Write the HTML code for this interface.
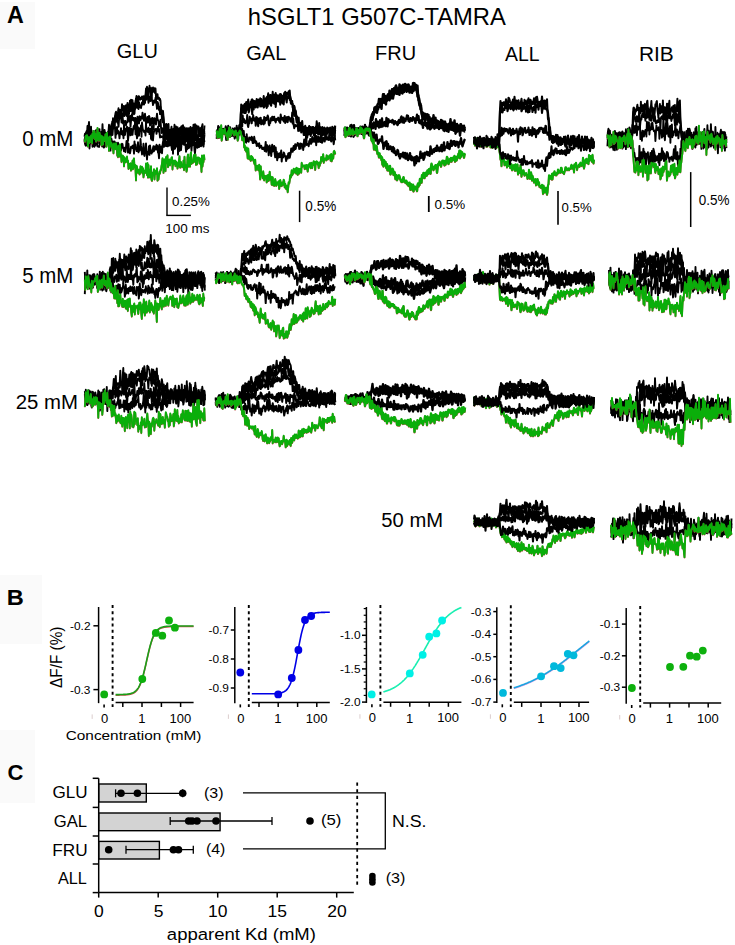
<!DOCTYPE html>
<html><head><meta charset="utf-8"><style>
html,body{margin:0;padding:0;background:#fff;}
svg{display:block;font-family:"Liberation Sans", sans-serif;}
</style></head><body>
<svg width="735" height="945" viewBox="0 0 735 945">
<rect width="735" height="945" fill="#fff"/>
<rect x="0" y="2" width="35" height="47" fill="#fafafa"/>
<rect x="0" y="575" width="42" height="69" fill="#fafafa"/>
<rect x="0" y="730" width="35" height="73" fill="#fafafa"/>
<text transform="translate(7.10,22.64) scale(0.979,1)" font-size="23.82" font-weight="bold" fill="#000">A</text>
<text transform="translate(6.85,605.00) scale(1.051,1)" font-size="22.46" font-weight="bold" fill="#000">B</text>
<text transform="translate(7.42,780.48) scale(0.995,1)" font-size="22.11" font-weight="bold" fill="#000">C</text>
<text transform="translate(247.84,24.57) scale(1.023,1)" font-size="23.24" font-weight="normal" fill="#000">hSGLT1 G507C-TAMRA</text>
<text transform="translate(116.80,58.10) scale(0.985,1)" font-size="20.30" font-weight="normal" fill="#000">GLU</text>
<text transform="translate(246.30,60.20) scale(0.985,1)" font-size="20.30" font-weight="normal" fill="#000">GAL</text>
<text transform="translate(375.10,60.20) scale(0.985,1)" font-size="20.30" font-weight="normal" fill="#000">FRU</text>
<text transform="translate(505.00,60.50) scale(0.957,1)" font-size="20.30" font-weight="normal" fill="#000">ALL</text>
<text transform="translate(638.93,60.50) scale(1.030,1)" font-size="20.30" font-weight="normal" fill="#000">RIB</text>
<text transform="translate(22.18,145.89) scale(0.958,1)" font-size="21.41" font-weight="normal" fill="#000">0 mM</text>
<text transform="translate(22.28,283.19) scale(0.961,1)" font-size="21.29" font-weight="normal" fill="#000">5 mM</text>
<text transform="translate(15.78,409.29) scale(0.971,1)" font-size="20.99" font-weight="normal" fill="#000">25 mM</text>
<text transform="translate(381.29,527.49) scale(0.964,1)" font-size="20.99" font-weight="normal" fill="#000">50 mM</text>
<path d="M84.5 136.7l.5-3 .5 .6 .5-1.4 .5 5.4 .5-4.4 .5-8 .5 5.5 .5-4.7 .5-4.7 .5 10 .5 6.9 .5-4.7 .5-4.5 .5 .8 .5 7.7 .5-3.6 .5-.4 .5-.4 .5 .3 .5 2.9 .5-1 .5-1.2 .5-4.7 .5 5.8 .5-4.4 .5 6.5 .5-8.7 .5 4.2 .5 .5 .5-4.9 .5 11.3 .5-1 .5-7.1 .5 4.6 .5-1.5 .5-11.1 .5 10.6 .5-1.1 .5 .5 .5-4.3 .5 3 .5 .3 .5 5.1 .5-3.2 .5-1.2 .5 5.7 .5-7.8 .5-.6 .5-6.5 .5 11.3 .5-3.5 .5-1.5 .5-2.1 .5-3.3 .5-.9 .5-3 .5-1.1 .5-.2 .5 4.1 .5-4.8 .5-3.5 .5-3.2 .5-1.4 .5 7.9 .5-4.4 .5-1.9 .5-1.9 .5-3.1 .5 3.5 .5 3.2 .5-5 .5 .3 .5-.3 .5 .9 .5-6.7 .5 4.8 .5-2.7 .5 6.2 .5-6.5 .5 4.7 .5 3.2 .5-7.2 .5-1.4 .5 2.7 .5-1.1 .5-4 .5 5.1 .5 5.4 .5-8.7 .5-.1 .5-3.5 .5 4.8 .5-6.1 .5 .2 .5 8.5 .5-8.4 .5 7.1 .5 1.3 .5-5 .5 .8 .5 4.8 .5-8.2 .5-1.8 .5-3.1 .5 4.8 .5 5.1 .5-2.3 .5-7.3 .5 0 .5 1 .5 2.6 .5-2.1 .5 1.2 .5 0 .5-2.5 .5 .7 .5 .6 .5-1.5 .5 1.8 .5 4.7 .5-5.1 .5-2.4 .5-6.8 .5 7.3 .5-9 .5 1.6 .5 8 .5-.9 .5-3.6 .5-6.1 .5 4.6 .5-1.5 .5 4.5 .5 6.2 .5-7.4 .5-3.5 .5-1.2 .5 4.3 .5-.3 .5-3.4 .5 4.9 .5-4.5 .5 8.6 .5 .8 .5 1.1 .5-4.8 .5 4.7 .5-1.4 .5 .1 .5 2.5 .5-1.2 .5 1.8 .5 10.6 .5-1.3 .5 3.8 .5 5.1 .5-8 .5 5.7 .5 5.7 .5 3 .5-.7 .5 6 .5-2.2 .5-4.4 .5 1.9 .5 7.2 .5-.4 .5-8.7 .5 12 .5-2.8 .5 2.8 .5-6.4 .5 .3 .5-3.1 .5 13.6 .5-10 .5 6.5 .5-8.3 .5 3 .5-6.8 .5 4.8 .5 5 .5-8.2 .5 8.6 .5-2.8 .5-5.1 .5 2 .5 .2 .5 1.5 .5-1.8 .5-1.1 .5 2 .5-2.7 .5-1 .5 4.6 .5 3.5 .5-9 .5 5.7 .5-2.4 .5-1.2 .5 6.8 .5-5.1 .5 7.4 .5-8.4 .5 4.3 .5-2.2 .5-2 .5 5 .5-2.8 .5 2.8 .5-2.4 .5-3.8 .5 3.6 .5 .6 .5 3.3 .5-6.9 .5 3.3 .5-6.3 .5 8.8 .5-6.4 .5-2.7 .5 6.5 .5 4.3 .5-9.7 .5 1.6 .5 1.2 .5-1.4 .5 5.6 .5-4.4 .5 .3 .5 4.9 .5-5 .5 4.4 .5-5.2 .5-.9 .5-2.3 .5 13.7 .5-8.1 .5 2.1 .5-1" fill="none" stroke="#000" stroke-width="1.9" stroke-linejoin="round" />
<path d="M84.5 137.6l.5-.4 .5 6.9 .5-10.9 .5-2 .5 2.1 .5-1.2 .5 7.7 .5 .2 .5-6.6 .5-1.5 .5 3.8 .5 6.4 .5-15.5 .5 12.3 .5-5.9 .5 7.8 .5-7.8 .5 2.9 .5-4.5 .5 2 .5 8.7 .5-2.1 .5-4.5 .5-1.7 .5-3.8 .5 5.5 .5 1.4 .5-.2 .5 0 .5-3.9 .5 4 .5 .1 .5 4.9 .5 2.1 .5-7.4 .5-2.3 .5 2.6 .5-2 .5-.5 .5 2.5 .5-3.7 .5 6.1 .5-2.6 .5 1.3 .5-1.6 .5-2 .5-.8 .5 1.5 .5-2.2 .5 1.8 .5-2 .5-6.1 .5 4.1 .5-6.3 .5 1.6 .5 .1 .5-7.7 .5 7.2 .5-.5 .5-2 .5-1.8 .5-.6 .5-3 .5 1.8 .5-1.8 .5 1.5 .5-5.6 .5 5 .5-.6 .5-1.4 .5-1.5 .5 3.4 .5-8.6 .5 7.6 .5-1.2 .5-.2 .5 .1 .5-4.2 .5 1.1 .5 3 .5-1.1 .5-1.1 .5-6.7 .5 7.2 .5 2 .5-.9 .5-3.2 .5-7 .5 9 .5-4.4 .5-9.2 .5 10.5 .5-7.2 .5 .5 .5 2.2 .5 6.8 .5-6.4 .5 2.1 .5 5.2 .5-.8 .5-6.6 .5-.8 .5-4 .5 1.8 .5 3.9 .5-.4 .5-1.3 .5 3 .5-6.8 .5 2.4 .5 2.6 .5-.8 .5 1.5 .5-2.7 .5-2.9 .5 2.2 .5-5.3 .5-2.7 .5 7.9 .5-2.6 .5 1 .5-7.7 .5 4.6 .5-1.2 .5-1.3 .5-5.5 .5 6.8 .5 4.3 .5-2.2 .5-4 .5 1.9 .5 2.5 .5-13.3 .5 9.9 .5 2.7 .5 .7 .5 4 .5-1.9 .5-2.8 .5 .1 .5 2 .5-4.7 .5 2.1 .5 4.3 .5 4.7 .5-7 .5 1.3 .5 1.7 .5 5.1 .5-3.3 .5 7.4 .5-7.2 .5 4.7 .5 1.8 .5 5.5 .5 3.3 .5-7.1 .5 4.5 .5 7 .5-1.4 .5-.8 .5 10.1 .5-1.3 .5 .6 .5-2.9 .5 6.2 .5-4 .5 5 .5-7.5 .5 .2 .5 4 .5-3.4 .5 5.1 .5-1.5 .5-4.4 .5 3.7 .5-1.6 .5 4.7 .5-5.7 .5 .7 .5 6.1 .5 3.8 .5-.9 .5-7.2 .5 .6 .5 4.9 .5-6.2 .5-3.1 .5 4 .5 1.3 .5-4.8 .5-3 .5 .8 .5 7.8 .5-5.3 .5 2.3 .5 1.3 .5 1.5 .5-3.5 .5 3 .5-5.1 .5 2 .5-2.5 .5 8 .5-4.3 .5-2.6 .5 1.4 .5 .5 .5 3.4 .5-8.5 .5 2.1 .5 2.4 .5 10.8 .5-5.9 .5-3.9 .5 3 .5 5 .5-8.5 .5-.5 .5 5.9 .5-2.7 .5 .7 .5-4.4 .5 9 .5-.8 .5-4.2 .5 .4 .5-10 .5 9.9 .5-3.1 .5 2.3 .5 .9 .5-3.8 .5-5 .5 7.7 .5-4.1 .5 1.5 .5-1 .5 .9 .5-7.2" fill="none" stroke="#000" stroke-width="1.9" stroke-linejoin="round" />
<path d="M84.5 142.5l.5-3.6 .5 3.2 .5 3.2 .5-7.2 .5-6.8 .5 3.4 .5-1.2 .5 2.6 .5 2.2 .5-7.7 .5 8.7 .5-6.9 .5 6.7 .5-1.5 .5-.8 .5 .9 .5-1.7 .5-.3 .5-3.9 .5 6.1 .5 6.9 .5 .5 .5-2.4 .5-2.3 .5-5.1 .5 7.8 .5-5.5 .5-.1 .5-.8 .5 1.4 .5-1.9 .5 1.3 .5-3.7 .5 2.6 .5 9.8 .5-8.7 .5-.6 .5 2.9 .5 .6 .5-6.7 .5 3.3 .5 4.2 .5-2.4 .5-.5 .5 5.2 .5-8.2 .5 2.8 .5-3.4 .5 6.2 .5-13.9 .5 3.5 .5-.7 .5 3.3 .5-1.5 .5 1.8 .5-12.2 .5 7.4 .5-4.4 .5-1.9 .5 4 .5-5.9 .5-4.8 .5 5.8 .5-4.6 .5 2.6 .5 3.3 .5-.7 .5 4.7 .5-6.7 .5-4.9 .5 2.9 .5-.7 .5-1.1 .5 6.1 .5-4 .5-4.9 .5 9.9 .5-3 .5 1.7 .5-1 .5 2 .5-2.2 .5 4.4 .5-3 .5-.2 .5 .1 .5-6.9 .5 4.7 .5-.3 .5 1.7 .5-5.8 .5 11 .5-5.6 .5-4.9 .5-1.9 .5 5.3 .5 .7 .5-2.3 .5 2.9 .5-2.7 .5 4.4 .5-4.7 .5 2.5 .5 3.8 .5 5.8 .5-13.2 .5 2 .5-1.4 .5 6 .5-7.2 .5 2.5 .5 1.6 .5-3.5 .5 .1 .5 1.7 .5-6 .5 2.4 .5 3.8 .5 2.1 .5-1.2 .5-5.9 .5 4.8 .5 4.7 .5-1 .5-2.3 .5-3 .5 5.6 .5-4.5 .5-2.2 .5 1.3 .5 8.4 .5-4.6 .5 3.5 .5-6.1 .5 5.2 .5-5.7 .5 1.6 .5 9.8 .5-6.4 .5-4.7 .5 1.6 .5 1.5 .5 3.2 .5-6.3 .5-4.6 .5 5.4 .5 1.1 .5 1.1 .5 5.2 .5-3 .5 2.6 .5-6.3 .5 8 .5 5.3 .5-4.1 .5-.7 .5 .9 .5 7.3 .5-8.8 .5 4.2 .5 3.4 .5 2.3 .5-3.1 .5 2.8 .5-2.2 .5 1.5 .5-.9 .5-3.7 .5 4.2 .5 3.3 .5-6.8 .5 2.7 .5 3.4 .5-6.4 .5 4.7 .5-4.6 .5 8.2 .5 4.3 .5-1 .5-8.3 .5 3.6 .5-2.3 .5 0 .5 5.4 .5-10.6 .5 8.8 .5-4.1 .5 5.5 .5-4.5 .5-3.2 .5 3.5 .5 1.8 .5-2.6 .5 1.7 .5-3.7 .5-5.9 .5 11.2 .5-.7 .5-2 .5-.3 .5 3.6 .5-5.5 .5-.9 .5 2 .5 5.1 .5-9.5 .5 9.5 .5-6.7 .5-1.7 .5 8.8 .5-5 .5-4.5 .5 3.6 .5 4.8 .5 .9 .5-5.9 .5 3.1 .5 1.2 .5-5 .5 3.7 .5-1.4 .5-1.9 .5 .2 .5 2.1 .5-.1 .5-2.2 .5 .6 .5 5.7 .5-3.3 .5 2.5 .5 1.2 .5-2.3 .5 6.3 .5-11.4 .5 6 .5-4.1 .5 8.1 .5-.6 .5-13.5 .5 3.7" fill="none" stroke="#000" stroke-width="1.9" stroke-linejoin="round" />
<path d="M84.5 142.5l.5 .4 .5-.2 .5-3 .5 2 .5 .7 .5-2.7 .5 4.1 .5-12.2 .5 10.7 .5-6.1 .5 7.3 .5-4.3 .5-2.5 .5 4.7 .5-4.8 .5 0 .5-2.4 .5 5.7 .5 1.9 .5 2 .5-4.3 .5 4.4 .5-3.8 .5-.4 .5 2.4 .5 1.8 .5-5.2 .5 .4 .5 .3 .5 .9 .5-3.6 .5 7.1 .5-5.3 .5 3.2 .5-4.8 .5 4.4 .5 .1 .5-3 .5 9.1 .5-6.1 .5 5.2 .5-3.1 .5-6 .5 1.1 .5 3 .5-1.4 .5 0 .5-1.9 .5-6.3 .5 5.2 .5-8.1 .5 8.9 .5-4.7 .5-.6 .5 1.2 .5 1.1 .5-7 .5-1.8 .5 1.9 .5-3.7 .5 4 .5 9.5 .5-9.9 .5 6.4 .5-7.5 .5 6.1 .5-2.3 .5 1 .5 2.3 .5 4.4 .5-5.8 .5-.3 .5-4.1 .5 5.8 .5-3.1 .5 4 .5-3.3 .5 6.6 .5-13.8 .5 6.3 .5 4.3 .5-4.6 .5-1.6 .5 1.9 .5-4.1 .5 5.5 .5 8.6 .5-4.8 .5-8.3 .5 .8 .5 1.7 .5 5.2 .5-6.7 .5 .4 .5 5.9 .5-.1 .5-4.6 .5-2.8 .5-1.6 .5 3.1 .5-5.6 .5 11 .5-5.1 .5 4.1 .5 5.1 .5-2.6 .5-8.6 .5 7.5 .5 1 .5-7 .5-.8 .5 3.1 .5-5.5 .5 11.3 .5-14.3 .5 4.8 .5 3 .5 .2 .5 1.4 .5 .4 .5-1.8 .5 5 .5-12.1 .5 7.9 .5-2.7 .5 3.1 .5 .3 .5-4.2 .5 1 .5 5.3 .5-1.6 .5-3.8 .5 10 .5 1 .5-14 .5 6.5 .5 8.2 .5-6.4 .5-2.1 .5-1.6 .5-1.2 .5 1.2 .5-1.3 .5 4.8 .5-4.3 .5-.1 .5-2.8 .5 4.9 .5-2.5 .5 3.3 .5 5.2 .5-1.8 .5 1.2 .5 .1 .5-.4 .5-.1 .5 0 .5 4.6 .5-6.1 .5 9 .5-4.8 .5-2.9 .5 1 .5-.7 .5 3.1 .5-3.2 .5 6.9 .5-7.1 .5-5.5 .5 5.8 .5-4.7 .5 7.3 .5 4.1 .5-1.5 .5-7.4 .5 2.2 .5 9.4 .5-5.4 .5-1.1 .5 3.9 .5 5.2 .5-4.2 .5-4.3 .5 .8 .5 1 .5-4.5 .5-1.6 .5 4.1 .5-3.7 .5 3.3 .5 .6 .5 8.4 .5-11.8 .5 2.7 .5-.1 .5 2.2 .5 2.3 .5-5.7 .5-1.2 .5-3 .5 2.7 .5 5.4 .5-1.8 .5-3.9 .5 2.4 .5 1.6 .5 1.7 .5-4 .5 1.3 .5-5.8 .5 2.5 .5 10.3 .5-14.1 .5 6.9 .5 2.1 .5-2.2 .5-1.6 .5 2.8 .5 .2 .5-.2 .5-6.6 .5 6.4 .5-2.6 .5 1.2 .5 2.8 .5 1.6 .5 1 .5-5.2 .5 5.3 .5 1 .5-.1 .5 .9 .5-5.6 .5-.1 .5 3.7 .5-8.1 .5 5.9 .5-2.7 .5 .6 .5-5.1" fill="none" stroke="#000" stroke-width="1.9" stroke-linejoin="round" />
<path d="M84.5 138.7l.5 3.2 .5 3.4 .5 .4 .5-4 .5-.4 .5-2.4 .5 4.6 .5-2.4 .5 3.1 .5 4.3 .5-6.6 .5-5.4 .5 2.3 .5-2.2 .5 1 .5 9.2 .5-4 .5-6.4 .5 8 .5 2.3 .5-6 .5-1.2 .5 1.3 .5 2.3 .5 1.3 .5 2 .5 .1 .5-.1 .5 .6 .5-2.6 .5-8.1 .5 5.2 .5 1.7 .5-2.6 .5 4.8 .5-4.7 .5-2.1 .5 8.7 .5-2.8 .5-1.7 .5 2.6 .5 .5 .5-2.6 .5-10.4 .5 6.6 .5 .8 .5-1.9 .5 4.5 .5 3.9 .5-6 .5-2.1 .5 11.9 .5-9 .5-2.7 .5 5.7 .5 .9 .5-4 .5 5.8 .5-4.5 .5-1.4 .5 4.3 .5 2.2 .5-5.1 .5 3.6 .5-1.5 .5 10.9 .5-13 .5 7.8 .5-5.3 .5-.2 .5 3.2 .5 .7 .5 1.5 .5-3.4 .5-3.4 .5 .3 .5 4 .5 .3 .5 3.1 .5-3.6 .5 2.5 .5 1.7 .5-4.9 .5-6.1 .5 1.2 .5-.9 .5 11.3 .5-8.9 .5 7.7 .5-2.3 .5 4.2 .5-2.5 .5-4 .5-.3 .5 1.1 .5 .4 .5-2.5 .5 1.9 .5 6.2 .5-12.2 .5 7.3 .5-4.2 .5 4.1 .5 2.5 .5-3.3 .5 3.2 .5-8.7 .5 10.1 .5-6.3 .5 4.6 .5-1.5 .5-10.2 .5 6.9 .5 3.6 .5 5 .5-4.6 .5 0 .5-6.1 .5 10.6 .5 1.5 .5-6.5 .5-.9 .5-5.1 .5 9.3 .5 6.8 .5-7.2 .5 2.1 .5-2.6 .5-5.6 .5 8.7 .5-9.5 .5 3.9 .5 2 .5 2.3 .5-1.6 .5 .1 .5-4.2 .5-1.8 .5 5.1 .5-2.7 .5-2.1 .5 .3 .5 3 .5-4.9 .5 2 .5-1 .5 6.9 .5 .2 .5 5.3 .5-13.6 .5 2.4 .5 5.3 .5-4.9 .5-1 .5 6.9 .5-7.9 .5-3.4 .5-1 .5 5.7 .5-.4 .5-6.6 .5 1 .5 5.3 .5 .1 .5-4.5 .5 4.7 .5-.1 .5-8.7 .5 5.4 .5 2.7 .5-3.6 .5-5.8 .5 6.9 .5 3.8 .5 3.1 .5-13.9 .5 17.7 .5-13.8 .5 7.7 .5 1.1 .5-.9 .5-3.1 .5-4.8 .5 6.6 .5-5 .5-6.6 .5 19.8 .5-7.9 .5 4.2 .5-10.1 .5 8.8 .5 .5 .5-.2 .5-5.8 .5-4.3 .5 3.8 .5-7.5 .5 1.9 .5 6.6 .5-4 .5 3.1 .5 .2 .5 7.6 .5-2.4 .5-4.9 .5 4.6 .5-7.3 .5 1.6 .5 4.7 .5-8 .5 3.6 .5-3.9 .5 5.4 .5 5.6 .5-8.8 .5 3.6 .5-4.1 .5-.9 .5-.4 .5 10 .5 3.4 .5-7 .5-4.4 .5 5.3 .5-3.8 .5 4.2 .5-1.9 .5 0 .5 1.2 .5-4.4 .5 .7 .5-4.9 .5 4.8 .5-3.7 .5 4.8 .5-3 .5 3.9 .5 1.3 .5-6.9 .5 2.3" fill="none" stroke="#000" stroke-width="1.9" stroke-linejoin="round" />
<path d="M84.5 140.5l.5 1.4 .5-2.7 .5-3 .5 2.1 .5-2.6 .5 5.1 .5 6.1 .5-8.8 .5-.6 .5 5.4 .5-.7 .5-1.2 .5-5 .5 4.4 .5 3.4 .5-9.8 .5 4.3 .5-6.9 .5 2.9 .5-2.6 .5 7.7 .5-5 .5 7.4 .5-.5 .5-1.7 .5-11.2 .5 9.5 .5 2.4 .5 .7 .5-7.8 .5 5 .5-2.4 .5 .8 .5 9 .5-9 .5 3.7 .5 4.4 .5-7 .5 2.3 .5 1 .5-.2 .5-6.2 .5 6.3 .5 6.1 .5-13.9 .5 11.5 .5-3.5 .5-3.1 .5 13.2 .5-5.4 .5-8.8 .5 6.7 .5 2.9 .5-3.1 .5 4.8 .5-3.1 .5 4.1 .5 4.3 .5-9.6 .5 4.8 .5-2.6 .5 3.3 .5-5.7 .5 3.5 .5 2.5 .5 5.8 .5 1.8 .5-11.2 .5 3.2 .5 7.5 .5-12.1 .5 8 .5 2.3 .5 7.2 .5-2.2 .5-4.2 .5 .4 .5 1.2 .5 9.1 .5-8.8 .5 1.2 .5 3.6 .5-1.8 .5 .1 .5-3.9 .5 5.7 .5-1.6 .5 8.1 .5-2 .5-2.8 .5 3.8 .5-4.4 .5 7.2 .5-4.7 .5 3.3 .5-8.5 .5 8.3 .5-9.4 .5-1.2 .5 8.8 .5-2.4 .5 5.3 .5 10.2 .5-14.6 .5 1.2 .5 4.2 .5 1.6 .5-3 .5 0 .5 4.6 .5-.7 .5-7.3 .5 4.8 .5 .8 .5-5.1 .5 6.5 .5-5.1 .5 9 .5-3.6 .5-.3 .5-3 .5 2.3 .5-9 .5 4.2 .5 7.2 .5-11.9 .5 14.4 .5-12.4 .5 12 .5-7.6 .5 7.8 .5-3 .5-8 .5 13.4 .5 1 .5-7.2 .5-.9 .5 .6 .5-3.9 .5 10 .5-7.8 .5 2.5 .5-3.5 .5 .9 .5-3 .5 12.2 .5-6.6 .5 5.4 .5-4.4 .5-3.3 .5 1.8 .5-3.6 .5 .2 .5-4.3 .5-2.1 .5-5.3 .5 2.6 .5 11.7 .5-11.3 .5-2 .5 6.6 .5 5 .5-13.9 .5 5.9 .5-2.2 .5-5.5 .5 11.8 .5-3.7 .5 .3 .5-4.1 .5 5.7 .5-4.8 .5 1.9 .5-4.7 .5-.5 .5 12.2 .5-8.8 .5 3.8 .5-1.6 .5-1.9 .5-.4 .5 5.5 .5-4.5 .5 .7 .5 .8 .5 5.5 .5-2.4 .5-1.4 .5-4.6 .5-3.9 .5 11.2 .5 0 .5-5.3 .5 3.3 .5 1.1 .5 .2 .5 .5 .5-6.7 .5 9.5 .5-13.3 .5 10.1 .5-1.8 .5 1.8 .5 4.8 .5-1.9 .5-12.6 .5-2.6 .5 12 .5-8.8 .5 4.8 .5 4.1 .5-12 .5-2.2 .5 11.3 .5-1 .5-1.4 .5 1.3 .5-4.3 .5-3.2 .5 6.5 .5-3.9 .5-3.2 .5 10.3 .5-2.8 .5 2.3 .5-6.7 .5 1.5 .5-1.6 .5 .5 .5 5.2 .5-4.7 .5 5.4 .5-.1 .5 8.1 .5-16.4 .5 10.9 .5-4.7 .5 .4 .5-6.9 .5 4.7" fill="none" stroke="#c04040" stroke-width="1.71" stroke-linejoin="round" />
<path d="M84.5 140l.5 1.4 .5-2.7 .5-3 .5 2.1 .5-2.6 .5 5.1 .5 6.1 .5-8.8 .5-.6 .5 5.4 .5-.7 .5-1.2 .5-5 .5 4.4 .5 3.4 .5-9.8 .5 4.3 .5-6.9 .5 2.9 .5-2.6 .5 7.7 .5-5 .5 7.4 .5-.5 .5-1.7 .5-11.2 .5 9.5 .5 2.4 .5 .7 .5-7.8 .5 5 .5-2.4 .5 .8 .5 9 .5-9 .5 3.7 .5 4.4 .5-7 .5 2.3 .5 1 .5-.2 .5-6.2 .5 6.3 .5 6.1 .5-13.9 .5 11.5 .5-3.5 .5-3.1 .5 13.2 .5-5.4 .5-8.8 .5 6.7 .5 2.9 .5-3.1 .5 4.8 .5-3.1 .5 4.1 .5 4.3 .5-9.6 .5 4.8 .5-2.6 .5 3.3 .5-5.7 .5 3.5 .5 2.5 .5 5.8 .5 1.8 .5-11.2 .5 3.2 .5 7.5 .5-12.1 .5 8 .5 2.3 .5 7.2 .5-2.2 .5-4.2 .5 .4 .5 1.2 .5 9.1 .5-8.8 .5 1.2 .5 3.6 .5-1.8 .5 .1 .5-3.9 .5 5.7 .5-1.6 .5 8.1 .5-2 .5-2.8 .5 3.8 .5-4.4 .5 7.2 .5-4.7 .5 3.3 .5-8.5 .5 8.3 .5-9.4 .5-1.2 .5 8.8 .5-2.4 .5 5.3 .5 10.2 .5-14.6 .5 1.2 .5 4.2 .5 1.6 .5-3 .5 0 .5 4.6 .5-.7 .5-7.3 .5 4.8 .5 .8 .5-5.1 .5 6.5 .5-5.1 .5 9 .5-3.6 .5-.3 .5-3 .5 2.3 .5-9 .5 4.2 .5 7.2 .5-11.9 .5 14.4 .5-12.4 .5 12 .5-7.6 .5 7.8 .5-3 .5-8 .5 13.4 .5 1 .5-7.2 .5-.9 .5 .6 .5-3.9 .5 10 .5-7.8 .5 2.5 .5-3.5 .5 .9 .5-3 .5 12.2 .5-6.6 .5 5.4 .5-4.4 .5-3.3 .5 1.8 .5-3.6 .5 .2 .5-4.3 .5-2.1 .5-5.3 .5 2.6 .5 11.7 .5-11.3 .5-2 .5 6.6 .5 5 .5-13.9 .5 5.9 .5-2.2 .5-5.5 .5 11.8 .5-3.7 .5 .3 .5-4.1 .5 5.7 .5-4.8 .5 1.9 .5-4.7 .5-.5 .5 12.2 .5-8.8 .5 3.8 .5-1.6 .5-1.9 .5-.4 .5 5.5 .5-4.5 .5 .7 .5 .8 .5 5.5 .5-2.4 .5-1.4 .5-4.6 .5-3.9 .5 11.2 .5 0 .5-5.3 .5 3.3 .5 1.1 .5 .2 .5 .5 .5-6.7 .5 9.5 .5-13.3 .5 10.1 .5-1.8 .5 1.8 .5 4.8 .5-1.9 .5-12.6 .5-2.6 .5 12 .5-8.8 .5 4.8 .5 4.1 .5-12 .5-2.2 .5 11.3 .5-1 .5-1.4 .5 1.3 .5-4.3 .5-3.2 .5 6.5 .5-3.9 .5-3.2 .5 10.3 .5-2.8 .5 2.3 .5-6.7 .5 1.5 .5-1.6 .5 .5 .5 5.2 .5-4.7 .5 5.4 .5-.1 .5 8.1 .5-16.4 .5 10.9 .5-4.7 .5 .4 .5-6.9 .5 4.7" fill="none" stroke="#0aae0a" stroke-width="1.9" stroke-linejoin="round" />
<path d="M216.7 131.1l.5-.5 .5 1.7 .5-6.3 .5 7.4 .5-5.4 .5 2.1 .5 .7 .5-2 .5-.6 .5 1 .5 2.8 .5 1.7 .5-.1 .5-4.4 .5 .6 .5-.4 .5 3.9 .5-7 .5 9.2 .5-4.9 .5-.8 .5 3.2 .5 1.9 .5-1.9 .5 1.9 .5-2.5 .5 3 .5 .1 .5-3.8 .5 4.3 .5-3.5 .5-.3 .5-2.8 .5 1.8 .5 3 .5-5.9 .5 5.5 .5-.8 .5-.2 .5-7 .5 5.9 .5 2.1 .5-3.9 .5 2.4 .5-7 .5 8.6 .5-8.2 .5-6.7 .5-14.4 .5 6.6 .5-3.1 .5 2.5 .5-5.4 .5 .4 .5 7.5 .5-9.1 .5-.2 .5 .7 .5-2.4 .5 6.1 .5 1.3 .5-6.9 .5-3 .5 8 .5-.3 .5-.9 .5 .8 .5-5.8 .5 1.8 .5-3.5 .5-.3 .5 6.6 .5-4.7 .5 8.1 .5-6.3 .5-2.1 .5 3.9 .5 2.7 .5-3.8 .5-4.9 .5 4.3 .5 2.7 .5-5.4 .5-.9 .5 4.9 .5-2.6 .5-3.6 .5 1.9 .5-1.2 .5 2.8 .5-.6 .5 2.7 .5-1.3 .5-6.5 .5 5.4 .5 1.2 .5-1.3 .5 1.4 .5-4.5 .5-1.3 .5 5.2 .5-5.7 .5-3.2 .5 8.8 .5-5.1 .5 1.1 .5-3.2 .5 .1 .5 .3 .5 2.1 .5 1.9 .5-7.6 .5 8.4 .5-5.5 .5 .2 .5 4.8 .5-2.3 .5-4.2 .5 9.3 .5-7.7 .5 3 .5-.2 .5 3.2 .5-5.3 .5 3.9 .5-5 .5 5.1 .5-5.4 .5 1 .5 6.2 .5-4.6 .5-.7 .5 5.9 .5-5.4 .5-3.5 .5 4.3 .5-5.5 .5 6.3 .5 .1 .5-5.1 .5-.3 .5 2.1 .5-.6 .5-2.9 .5 5 .5-5.7 .5 6.2 .5 1.7 .5 2.1 .5 3.3 .5-2.8 .5 6.3 .5-.9 .5-.1 .5-.7 .5 1.7 .5 5.6 .5-2.4 .5 4.1 .5 4 .5 1.2 .5 2.7 .5-3.9 .5-1 .5 7.2 .5-.8 .5 3.2 .5-2.8 .5 3.6 .5-.7 .5-.1 .5-.3 .5 0 .5-.1 .5 .3 .5 2.4 .5-3.9 .5 6.6 .5-4.9 .5 3.4 .5-2.7 .5-.2 .5 6.7 .5-6.2 .5-2.5 .5 1.9 .5 1.3 .5 6.9 .5-5.4 .5 2 .5-5.4 .5 3.8 .5 .9 .5 3.1 .5-6.9 .5 3.6 .5-.9 .5-3.7 .5 2.8 .5-.6 .5-5.8 .5 8.2 .5-.2 .5-2.7 .5-2.5 .5 7.8 .5-3.4 .5 2.1 .5 1.1 .5-5.4 .5 3.8 .5-3 .5 .5 .5 0 .5 .2 .5 3.1 .5-2.8 .5-.7 .5-.4 .5 1.8 .5-3.5 .5 1.1 .5 1.3 .5-1.5 .5 1.3 .5-1.4 .5 7.3 .5-1.9 .5-2.4 .5-1.5 .5 6.3 .5-5.2 .5-1.1 .5 1 .5 .1 .5 3 .5-4" fill="none" stroke="#000" stroke-width="2.0" stroke-linejoin="round" />
<path d="M216.7 138.9l.5-8.4 .5 4.4 .5-4.7 .5 7.9 .5-6 .5 .7 .5 2.8 .5 .9 .5-6.6 .5 2.1 .5-2.9 .5 4.3 .5-.7 .5-.7 .5-.9 .5 .8 .5-1 .5 3.6 .5 2.7 .5-9.6 .5 5.1 .5-.9 .5 2.6 .5-4.1 .5 2.3 .5-2.5 .5 4.9 .5-1.7 .5-.8 .5 1.5 .5-1.7 .5-3.7 .5 6.1 .5-.9 .5-1.2 .5 3.2 .5 .6 .5-6.5 .5 .9 .5 6.5 .5-.3 .5-6.1 .5-1.2 .5 1.5 .5 .4 .5-3 .5 .3 .5-14.2 .5-6.2 .5 5.5 .5-4.9 .5 1.3 .5 1.6 .5 .1 .5-3.6 .5 .7 .5-2.9 .5 6.8 .5-3.3 .5-5.1 .5 3 .5 1.9 .5-.8 .5 3.7 .5-1.4 .5-5.5 .5 1.2 .5-3.5 .5 4.2 .5-.4 .5 7 .5-7.4 .5-6.2 .5 3.8 .5 2.1 .5-3.9 .5 .9 .5 1.3 .5 1.9 .5-1.6 .5-2.1 .5 4.6 .5-3.8 .5-.1 .5-2.5 .5 1.5 .5 3.9 .5-6.4 .5 4.2 .5 2.1 .5-3.2 .5 1.6 .5-3.9 .5 6.7 .5-.7 .5-2.6 .5-5.7 .5 1.9 .5 5.5 .5 2 .5-4.1 .5 2.5 .5-5.3 .5 1.1 .5 .4 .5 1.1 .5-5.6 .5 6.8 .5 .9 .5-7 .5-.7 .5 4.7 .5-3 .5-4.9 .5 8.8 .5-1.9 .5-1.9 .5 7.1 .5-5.6 .5-2.6 .5 2.2 .5-3.3 .5 .7 .5 3.1 .5-2.8 .5 .2 .5 5.8 .5-2.4 .5-.2 .5-.9 .5-.3 .5 2.6 .5-4.2 .5 5.1 .5-7.9 .5 1.8 .5-3.3 .5 2.8 .5 2.3 .5 2.5 .5-6 .5 1.7 .5-1.1 .5-1.2 .5-.8 .5 4.8 .5-3.6 .5 6.4 .5 1.1 .5-.5 .5 .3 .5 .2 .5 10.3 .5-7.7 .5 9.4 .5-1.5 .5-1.4 .5-1 .5 7.4 .5 3.2 .5-6.2 .5 3 .5 5 .5-.7 .5 5.9 .5-5.9 .5 3.9 .5-4.8 .5 9.7 .5-7.7 .5-3.9 .5 6.1 .5 .2 .5 6 .5-6 .5 1.1 .5 2 .5 3 .5-4.4 .5 3.4 .5-1.2 .5-2.1 .5 1.3 .5 .1 .5-2.4 .5 6.2 .5-7.1 .5 7.2 .5-.6 .5-3 .5-1.8 .5 1.5 .5 1.9 .5 .8 .5-1.3 .5 2 .5-4.4 .5 2.3 .5-5.1 .5 6.5 .5-1.7 .5-1.6 .5 4.5 .5-1.4 .5-9.8 .5 8 .5-4.2 .5 7.1 .5 4 .5-8.5 .5 1.7 .5-.9 .5 1.7 .5 .8 .5 1.8 .5-6.4 .5 7.2 .5-7 .5 3.4 .5 2.4 .5-1.2 .5-4.6 .5 .6 .5 .7 .5 1.2 .5 3.3 .5-6.8 .5 4.9 .5 .4 .5-.1 .5-.3 .5 3 .5-2.9 .5 1 .5-.8 .5 3.4 .5-10.3" fill="none" stroke="#000" stroke-width="2.0" stroke-linejoin="round" />
<path d="M216.7 135.6l.5-4.3 .5-.1 .5-1.9 .5-2.5 .5 4.1 .5-.8 .5 3.3 .5-5.5 .5 8.1 .5-3.2 .5-1.5 .5-1.3 .5-.2 .5-1 .5 1.7 .5 1.5 .5-.5 .5-3.5 .5 3.3 .5-1.8 .5 2.9 .5 4.8 .5-3.4 .5-2.7 .5-3.6 .5 .5 .5-.7 .5 6.7 .5-4.1 .5 2.3 .5-1.9 .5 2 .5 3.6 .5-5.8 .5 .9 .5-1.3 .5 4.7 .5-5.3 .5-.3 .5-.7 .5 0 .5 5.2 .5 5.9 .5-10 .5 5.5 .5-2 .5-4.9 .5-.4 .5-2.7 .5-4 .5 5.7 .5-10.8 .5 6.4 .5-.1 .5-2.6 .5 2 .5 2 .5-2 .5 .7 .5 .7 .5-7.6 .5 9.8 .5 2.2 .5-3.6 .5 0 .5-6.8 .5 3.6 .5-1.9 .5 .6 .5 4.3 .5-5 .5 1.9 .5-5 .5 4.9 .5 .6 .5-2.2 .5-.1 .5 7.3 .5-8.7 .5 .4 .5 .7 .5 5.6 .5 2.5 .5-5 .5-2.9 .5 .7 .5 4.2 .5-5.5 .5 6.6 .5-.2 .5-3.8 .5 1.6 .5 .3 .5 2.2 .5-7.3 .5 6.2 .5-4.3 .5-1.2 .5 2.5 .5-1 .5-2.1 .5-1.8 .5 1.8 .5 6.7 .5 1.4 .5-3.7 .5 1.5 .5-4.8 .5 1.2 .5 1 .5-3.8 .5 .2 .5 3 .5-1.1 .5-2.1 .5 4 .5-1.8 .5 3.5 .5-2.9 .5-.8 .5 1.2 .5-.9 .5-1.4 .5 .7 .5 3.2 .5-.3 .5 1.8 .5-8.4 .5 3.6 .5-.1 .5 1.7 .5-1.8 .5-.2 .5 3.6 .5-1.7 .5-3.8 .5 7 .5-1 .5-4.4 .5 3.9 .5-4.4 .5 5.2 .5-3.8 .5-1.6 .5 1.4 .5-.5 .5 3.2 .5 .6 .5 .2 .5-1.1 .5-8.1 .5 11.1 .5-5 .5 6.6 .5 3 .5-1.8 .5-1.4 .5 .8 .5 .4 .5-.9 .5 .2 .5-.7 .5 6.1 .5-3.1 .5 3 .5-3.2 .5 1.2 .5-.4 .5 2 .5 1.3 .5-1.4 .5-2.3 .5-.1 .5 7.1 .5-5.2 .5 .2 .5 5.1 .5-1.1 .5-1.5 .5-2.6 .5 7.7 .5-5.5 .5 .4 .5-2 .5-3.5 .5 .3 .5 4.8 .5 0 .5-1.8 .5-2.6 .5-.7 .5 3.1 .5-3.2 .5 6.6 .5 .7 .5 4.7 .5-5.4 .5-4.2 .5-.7 .5-7.3 .5 8 .5 1.2 .5 3.2 .5-1 .5-.1 .5-1 .5 1.3 .5 2.2 .5-7.1 .5 1.7 .5-2.6 .5 8.4 .5-.9 .5-1.5 .5-5.5 .5 3.9 .5-1.2 .5 .9 .5-.7 .5 2 .5-2.6 .5 3.5 .5-1.7 .5-1.5 .5 .5 .5-.9 .5 3.5 .5-3.1 .5 1.6 .5-1.9 .5-3.1 .5 6.7 .5-5.5 .5 4.9 .5-.7 .5-5.8 .5 2" fill="none" stroke="#000" stroke-width="2.0" stroke-linejoin="round" />
<path d="M216.7 131.6l.5-.9 .5-1 .5 5.4 .5-2.8 .5 1.8 .5-2.3 .5 2.1 .5-3 .5 2 .5 1.7 .5-1.5 .5-1.4 .5-1.7 .5 3.5 .5 .5 .5-1.7 .5-1.5 .5 3.7 .5 5.4 .5-7.7 .5 1.7 .5 .2 .5-8.3 .5 7.5 .5-2.3 .5 5.9 .5-4.6 .5-1.5 .5 1.6 .5 1.1 .5-2.1 .5 1.5 .5-3.7 .5 3.2 .5 2.8 .5 3.3 .5-3.5 .5-1.2 .5 2.5 .5-.4 .5 1.8 .5-1.7 .5-3.3 .5 1 .5-.2 .5 .3 .5-.1 .5-2.4 .5-3.4 .5 4.4 .5-3.4 .5 6.2 .5 .2 .5-4.4 .5 7 .5 .8 .5-1.8 .5 4.8 .5 .9 .5-8.3 .5 6.6 .5-1.3 .5 .3 .5 1.8 .5-4.3 .5 .7 .5-.3 .5 .4 .5 2.1 .5-3.5 .5 1.4 .5 4.8 .5-1.6 .5 1.5 .5-6.1 .5 3.4 .5 .8 .5 1.9 .5-1.4 .5 4.5 .5-2.6 .5 .5 .5 .2 .5 2.2 .5-3 .5 4.7 .5-1.6 .5-.6 .5-.1 .5 1.6 .5 1.6 .5 .1 .5-1.3 .5 1.6 .5-1.9 .5 3.5 .5-3.4 .5-5.5 .5 9.8 .5-3.1 .5-3.4 .5 3 .5-1.7 .5 8.6 .5-4.2 .5-5.5 .5 6.1 .5-2.4 .5 6.8 .5-8.1 .5-3.1 .5 6.7 .5-.9 .5 .1 .5-4.6 .5 7.4 .5 3.8 .5-9.8 .5 8.9 .5-4.6 .5 8.4 .5-5.1 .5-1.5 .5 3.8 .5-1.3 .5-2.9 .5 3.9 .5-3.2 .5-3.3 .5 10.9 .5-6.4 .5-.5 .5 2.9 .5-5 .5 .8 .5 2.7 .5 .1 .5 2 .5 2.9 .5-4.8 .5 2.4 .5 0 .5-5.1 .5 3.3 .5-3.8 .5 4.8 .5-2.5 .5-2.1 .5-4.6 .5 3.2 .5-3.3 .5 3.3 .5-3.1 .5-2.8 .5 4 .5-1.4 .5-4.2 .5 4.7 .5-4.2 .5-.2 .5 1 .5-2.6 .5 .7 .5 .6 .5 4.6 .5-.3 .5-5.1 .5 5.1 .5-4.8 .5 1 .5 1.3 .5-1.8 .5 5.7 .5-6.2 .5-4.2 .5 6.8 .5-5 .5 .2 .5-7.7 .5 11 .5-.7 .5-.2 .5 .3 .5 1.9 .5-5.1 .5 2.6 .5-4.8 .5 1 .5 3.9 .5-1.9 .5-4.9 .5 4.7 .5-1.6 .5-1.8 .5 3.4 .5-2.4 .5-3.3 .5 1.2 .5 8 .5-9.2 .5 4.8 .5 1 .5 0 .5-5.2 .5 2.4 .5 1.3 .5 1.8 .5-4.1 .5-1.6 .5 6.1 .5 .2 .5-2.1 .5-2.8 .5 2.8 .5-.9 .5 1.9 .5-5.9 .5 3.8 .5-.8 .5-2.7 .5 3.6 .5-.5 .5-1.3 .5 2.2 .5-5.2 .5 3.8 .5 1.3 .5-.5 .5 2.2 .5-6.5 .5-.9 .5 4.9 .5 .5 .5 4.6 .5-4.3 .5-4.2 .5 4.6" fill="none" stroke="#000" stroke-width="2.0" stroke-linejoin="round" />
<path d="M216.7 130.9l.5 4.7 .5 2.7 .5-2.4 .5-3.4 .5 5.1 .5-8.3 .5 8.4 .5-6 .5-6 .5 15.2 .5-3 .5-7.3 .5 3.4 .5-1.1 .5 .9 .5-4.5 .5 2.3 .5 3.2 .5-.7 .5 2.8 .5-3.2 .5 6.4 .5-8.6 .5 2.7 .5-6.1 .5 1.9 .5 7.2 .5-6.3 .5 4.1 .5-1.7 .5-2.7 .5 1.9 .5-.4 .5 0 .5 3.5 .5-.3 .5-3.4 .5-.9 .5 3.3 .5-1.1 .5 3.2 .5 4.5 .5-5 .5-2.5 .5-.4 .5-1.9 .5 .3 .5 .9 .5 2.8 .5 1 .5 4.4 .5-2 .5 1.6 .5-1.7 .5 9.2 .5-2 .5 4.7 .5-1.6 .5 3.1 .5-3.7 .5 3.9 .5 6.7 .5-9.8 .5 7.9 .5 2.6 .5-2.4 .5 1.9 .5 2.2 .5-4.7 .5 3.8 .5-2.9 .5 1.3 .5 .9 .5 2.1 .5 1.6 .5 1.6 .5-4.6 .5 10.5 .5-1.6 .5-.5 .5-2.3 .5 1.5 .5 2.5 .5 .3 .5-5.4 .5 7.6 .5 6.9 .5-13 .5 8.8 .5-1.2 .5-.7 .5 4.9 .5-6.7 .5 4.5 .5 4.4 .5-4.2 .5-.1 .5 1.7 .5-1.3 .5 5.9 .5-6.8 .5 5.3 .5-5.8 .5 5.7 .5-2 .5-6.9 .5 7.6 .5-2.8 .5 2 .5 6 .5-7.4 .5 .3 .5 7.5 .5-3.6 .5 4.3 .5-3.3 .5-3.2 .5 2.6 .5 3.9 .5-.7 .5-2.5 .5 .3 .5-.3 .5-1.2 .5 7.4 .5-5.3 .5-3.2 .5 2.1 .5 3.6 .5-.1 .5-2 .5-1.4 .5 2.2 .5-4.8 .5 1.3 .5 6.2 .5-3.5 .5 2.6 .5 2.6 .5-1.5 .5-1.6 .5 6.2 .5-4.9 .5-4.9 .5 1.1 .5-2.9 .5-5.1 .5 2.1 .5-1.3 .5-5.8 .5 4.6 .5-1 .5-1 .5-4.1 .5 3.1 .5 .3 .5 0 .5-3.8 .5 4.9 .5-5.5 .5 2.6 .5 4.2 .5-5.9 .5 .3 .5 4.3 .5-4.4 .5 .1 .5 1.2 .5 2.2 .5-9.6 .5 3.8 .5-.7 .5-.5 .5 .5 .5-.2 .5 3.1 .5-3.6 .5 2.6 .5 .6 .5-3.4 .5 2.2 .5 4.1 .5-3.9 .5-3 .5 1.4 .5-2.6 .5 3.2 .5 1.5 .5-5.1 .5 1.6 .5 3.5 .5-4.8 .5 1.8 .5-3.7 .5 .4 .5 .6 .5 7.4 .5-7.4 .5-.6 .5-.3 .5 .9 .5 2.1 .5-1.5 .5 5 .5-5.3 .5 3.2 .5-3.5 .5 .8 .5-6 .5 3.5 .5 0 .5-.7 .5-5.6 .5 8.3 .5-3.8 .5-.3 .5 .3 .5-.1 .5 1.5 .5-4.9 .5 .8 .5 3.2 .5-.6 .5-1.7 .5-.7 .5-1 .5 2 .5 3.3 .5-6.5 .5 7 .5-2.1 .5-3.8 .5 3.2 .5-6.5 .5-.9 .5 1 .5 2.3" fill="none" stroke="#c04040" stroke-width="1.8" stroke-linejoin="round" />
<path d="M216.7 130.4l.5 4.7 .5 2.7 .5-2.4 .5-3.4 .5 5.1 .5-8.3 .5 8.4 .5-6 .5-6 .5 15.2 .5-3 .5-7.3 .5 3.4 .5-1.1 .5 .9 .5-4.5 .5 2.3 .5 3.2 .5-.7 .5 2.8 .5-3.2 .5 6.4 .5-8.6 .5 2.7 .5-6.1 .5 1.9 .5 7.2 .5-6.3 .5 4.1 .5-1.7 .5-2.7 .5 1.9 .5-.4 .5 0 .5 3.5 .5-.3 .5-3.4 .5-.9 .5 3.3 .5-1.1 .5 3.2 .5 4.5 .5-5 .5-2.5 .5-.4 .5-1.9 .5 .3 .5 .9 .5 2.8 .5 1 .5 4.4 .5-2 .5 1.6 .5-1.7 .5 9.2 .5-2 .5 4.7 .5-1.6 .5 3.1 .5-3.7 .5 3.9 .5 6.7 .5-9.8 .5 7.9 .5 2.6 .5-2.4 .5 1.9 .5 2.2 .5-4.7 .5 3.8 .5-2.9 .5 1.3 .5 .9 .5 2.1 .5 1.6 .5 1.6 .5-4.6 .5 10.5 .5-1.6 .5-.5 .5-2.3 .5 1.5 .5 2.5 .5 .3 .5-5.4 .5 7.6 .5 6.9 .5-13 .5 8.8 .5-1.2 .5-.7 .5 4.9 .5-6.7 .5 4.5 .5 4.4 .5-4.2 .5-.1 .5 1.7 .5-1.3 .5 5.9 .5-6.8 .5 5.3 .5-5.8 .5 5.7 .5-2 .5-6.9 .5 7.6 .5-2.8 .5 2 .5 6 .5-7.4 .5 .3 .5 7.5 .5-3.6 .5 4.3 .5-3.3 .5-3.2 .5 2.6 .5 3.9 .5-.7 .5-2.5 .5 .3 .5-.3 .5-1.2 .5 7.4 .5-5.3 .5-3.2 .5 2.1 .5 3.6 .5-.1 .5-2 .5-1.4 .5 2.2 .5-4.8 .5 1.3 .5 6.2 .5-3.5 .5 2.6 .5 2.6 .5-1.5 .5-1.6 .5 6.2 .5-4.9 .5-4.9 .5 1.1 .5-2.9 .5-5.1 .5 2.1 .5-1.3 .5-5.8 .5 4.6 .5-1 .5-1 .5-4.1 .5 3.1 .5 .3 .5 0 .5-3.8 .5 4.9 .5-5.5 .5 2.6 .5 4.2 .5-5.9 .5 .3 .5 4.3 .5-4.4 .5 .1 .5 1.2 .5 2.2 .5-9.6 .5 3.8 .5-.7 .5-.5 .5 .5 .5-.2 .5 3.1 .5-3.6 .5 2.6 .5 .6 .5-3.4 .5 2.2 .5 4.1 .5-3.9 .5-3 .5 1.4 .5-2.6 .5 3.2 .5 1.5 .5-5.1 .5 1.6 .5 3.5 .5-4.8 .5 1.8 .5-3.7 .5 .4 .5 .6 .5 7.4 .5-7.4 .5-.6 .5-.3 .5 .9 .5 2.1 .5-1.5 .5 5 .5-5.3 .5 3.2 .5-3.5 .5 .8 .5-6 .5 3.5 .5 0 .5-.7 .5-5.6 .5 8.3 .5-3.8 .5-.3 .5 .3 .5-.1 .5 1.5 .5-4.9 .5 .8 .5 3.2 .5-.6 .5-1.7 .5-.7 .5-1 .5 2 .5 3.3 .5-6.5 .5 7 .5-2.1 .5-3.8 .5 3.2 .5-6.5 .5-.9 .5 1 .5 2.3" fill="none" stroke="#0aae0a" stroke-width="2.0" stroke-linejoin="round" />
<path d="M344.5 129.7l.5 2.9 .5-1.3 .5-1.3 .5 .8 .5 .1 .5 .5 .5 .5 .5-2 .5-.5 .5 3.2 .5-5.3 .5 2.3 .5 4.8 .5-9.4 .5 4.5 .5 3 .5-5.1 .5 9.3 .5-11.4 .5 8.9 .5 .2 .5-1.4 .5-2.5 .5 1.3 .5-2.8 .5 3.8 .5-4.3 .5 1.9 .5 2.8 .5-4.7 .5 1.7 .5 1.2 .5-3.4 .5 5.6 .5-1.9 .5-4 .5 3.2 .5-1.6 .5 .3 .5 1.6 .5-1.8 .5 3.7 .5-3.7 .5 3.8 .5-2.3 .5 2 .5-3.1 .5 .1 .5-1.4 .5 .3 .5-2.7 .5-.9 .5-5.4 .5-3.4 .5-2.2 .5 .2 .5-2.1 .5 2.1 .5-2.3 .5-4.6 .5-.3 .5 3.8 .5-3 .5-1.8 .5 2.4 .5-4.1 .5-.4 .5-1.1 .5-4 .5 5.6 .5-5.3 .5 .8 .5-1.1 .5 2.6 .5-2.4 .5-.5 .5-4.4 .5 3.2 .5-3.4 .5 3.6 .5-.2 .5-1.2 .5 4.2 .5-3.7 .5-.2 .5-1.3 .5-1.1 .5 2.3 .5-.1 .5-5.6 .5 4.9 .5-1.6 .5 .7 .5-1.4 .5-4.1 .5-.1 .5 6.4 .5-3.6 .5-3.9 .5 3.7 .5-1.8 .5-3.5 .5-1.1 .5 1.3 .5 3.9 .5-.9 .5-.6 .5 .9 .5 .5 .5-6.1 .5 3.7 .5-1.3 .5-1.1 .5 1.3 .5 .7 .5-.4 .5-2.6 .5 2 .5 5.4 .5-6.8 .5-1.4 .5 4.2 .5 .6 .5-.3 .5-3.6 .5 4.6 .5-4 .5-.8 .5 1.1 .5 1 .5 1.7 .5-.2 .5-1.5 .5 2 .5-1.9 .5 1.7 .5-5.2 .5-.4 .5 5.1 .5-4.8 .5 2.3 .5 .4 .5-1 .5 1.9 .5 5.8 .5-6.9 .5 9.2 .5 5.6 .5-2.4 .5 2.4 .5 4.1 .5 4.9 .5-4.1 .5 5.3 .5 1.9 .5 2 .5-.5 .5 1.5 .5-2 .5 1.4 .5-1.2 .5 .4 .5 1.5 .5 .4 .5-1.9 .5 6.4 .5-3.4 .5-2.4 .5 5.9 .5-3.7 .5 3.1 .5-1 .5 .8 .5-.1 .5-1.4 .5 1.5 .5 4.5 .5-9.2 .5 5.2 .5 1 .5-3.1 .5-.6 .5 7.9 .5-5.4 .5 5.6 .5-3.3 .5-.8 .5 1 .5 .5 .5 1.4 .5-1.5 .5-.5 .5 .3 .5 2.7 .5-1 .5-3.9 .5 1 .5 2.3 .5-1.9 .5 .7 .5-1.2 .5 1.7 .5 1.7 .5 1.4 .5-2 .5 4.7 .5-4.6 .5 7.4 .5-4.7 .5-1 .5-2.1 .5-5 .5 5.9 .5 .9 .5 3.9 .5-7.2 .5 7.3 .5-4.6 .5 2.2 .5-7.1 .5 6 .5-.9 .5 2.3 .5-1.2 .5-2.6 .5 4.7 .5-.5 .5-.1 .5 1 .5 .3 .5-2.4 .5-2.8 .5 0 .5 6.1 .5-1.3 .5-1.2 .5-1.1 .5 1.1 .5 .1 .5-.7 .5-.7" fill="none" stroke="#000" stroke-width="2.4" stroke-linejoin="round" />
<path d="M344.5 135.8l.5-4.3 .5-1.8 .5-1.6 .5 1.3 .5 3.2 .5 .1 .5-2.2 .5 .6 .5-.8 .5-1.7 .5 5.3 .5-2.1 .5 4.6 .5-7.1 .5 1.4 .5 2.2 .5-2.4 .5-2.6 .5 1 .5 2.3 .5 .6 .5-1 .5 2.4 .5 0 .5-1.5 .5-.6 .5-.7 .5 1.8 .5 .8 .5-1.9 .5 .9 .5-1.7 .5-2.4 .5 .9 .5 3.9 .5-.7 .5 2.5 .5-3.4 .5 1.8 .5 1 .5-.7 .5-3.5 .5 .9 .5 .7 .5-2.5 .5 3.2 .5 1.3 .5-3.4 .5 5.4 .5-7.9 .5-2.8 .5-3.1 .5-4.1 .5 1.5 .5-1.9 .5 2.7 .5-3.4 .5-1.1 .5-2.7 .5-3.3 .5 2.3 .5-2.4 .5 3.3 .5-2.8 .5 3.1 .5-2.7 .5-.5 .5-2 .5-.7 .5 .3 .5-.1 .5-4.2 .5 1.9 .5 4.1 .5-6.7 .5-1 .5-1.6 .5-2 .5 5.4 .5-2.8 .5 .2 .5 3.1 .5 1.1 .5-7.8 .5 4 .5-1.3 .5-.9 .5-.1 .5-1.4 .5 3.2 .5-2.5 .5-.9 .5 1.6 .5-1.1 .5-1.3 .5-.5 .5 3 .5-3 .5-1.5 .5-1.9 .5 .9 .5-1.7 .5 2.3 .5 .2 .5-5.3 .5 4.3 .5 1.2 .5-1.2 .5-2.7 .5 4.7 .5-4.5 .5-1.4 .5 .1 .5 2.2 .5 2 .5 .3 .5-2.2 .5-3.1 .5 1.1 .5-.6 .5 1.5 .5-3.6 .5 4.1 .5 1.1 .5-1.8 .5 1.2 .5-3.1 .5-1.2 .5 1.7 .5 3.9 .5-.4 .5-3.3 .5 3.6 .5-3.5 .5 4 .5-2.3 .5-2.2 .5 2.7 .5-3.5 .5-.4 .5-1.2 .5 3.6 .5-.7 .5 1.4 .5 .8 .5 5.6 .5-2.6 .5 1.8 .5 6.8 .5 2.9 .5 .1 .5-2 .5 5 .5 5.1 .5 1.2 .5 3.8 .5-6.1 .5 4.9 .5-2.5 .5 4.7 .5-2.7 .5 2.8 .5-3.3 .5-1.3 .5 1 .5 1.5 .5-.6 .5 5.3 .5 .7 .5-2 .5-2.5 .5 2.2 .5-1.1 .5 4.8 .5-2.4 .5 .5 .5-1.8 .5-3.4 .5 2.9 .5-.7 .5 3.4 .5-.4 .5-1.9 .5 1.1 .5 4.4 .5-5.4 .5 .2 .5 1.6 .5-.9 .5 .8 .5 2.2 .5 2.8 .5-7.6 .5 4 .5 .2 .5-.1 .5-.1 .5-.2 .5 3.1 .5-3.1 .5 .9 .5 .4 .5 .3 .5-.4 .5 2.7 .5-2.1 .5 .5 .5-.3 .5-2 .5 .5 .5-.4 .5 2.8 .5-1.9 .5-.7 .5 3 .5 .7 .5-4.9 .5 7.7 .5-3.6 .5-.2 .5 2.7 .5-2.1 .5-1.4 .5 6.2 .5-7.1 .5 2.3 .5 2.2 .5-4.2 .5 2.3 .5 1.1 .5 4.5 .5-7.1 .5 1.9 .5 1.7 .5-1.2 .5-2.7 .5 3.6 .5-.5 .5 .8 .5 1.6 .5-.2" fill="none" stroke="#000" stroke-width="2.4" stroke-linejoin="round" />
<path d="M344.5 131.9l.5-.2 .5-3.1 .5 2.1 .5 .8 .5-1.4 .5 1.1 .5-2 .5 5.2 .5 1.3 .5-5.6 .5 1.8 .5-1.4 .5 3.3 .5-1.8 .5-.8 .5-.7 .5 .8 .5-2.5 .5 3.7 .5-3.1 .5 2.8 .5-.9 .5 2.1 .5-2.4 .5 2.3 .5-4.3 .5 3.3 .5-1.8 .5 .9 .5-.2 .5 1.9 .5-6.5 .5 5.1 .5-4 .5 6 .5-7 .5 2.1 .5-1.5 .5 7.3 .5-6.4 .5 3.1 .5-1.5 .5-2.8 .5 3.3 .5 2.2 .5-1.9 .5 2.5 .5-2.9 .5 .8 .5-1.6 .5 .9 .5 2.6 .5-4.1 .5-1.1 .5-2.6 .5-1 .5 4.1 .5-5.7 .5 .3 .5 1.7 .5-.8 .5 5.2 .5-9.6 .5 5.9 .5 .7 .5-4.2 .5 1 .5 2.3 .5 2.5 .5-5.7 .5-1.5 .5 5.5 .5 1.1 .5-4.1 .5-4.3 .5 8 .5-3.7 .5 2.8 .5-2.6 .5-.9 .5-.2 .5 4.1 .5-.1 .5-8 .5 2.6 .5 5.9 .5-4.9 .5-2.2 .5 2.9 .5-.4 .5 0 .5-.9 .5 .3 .5-.4 .5 1.7 .5-2.6 .5 1.1 .5 .3 .5 3.1 .5-2.1 .5-1.1 .5 1.3 .5-.3 .5 1.4 .5-1.3 .5 2.8 .5-1.1 .5-3.1 .5-.9 .5 2.8 .5-.8 .5-1.4 .5-3.1 .5-.9 .5 4.8 .5 .9 .5 0 .5-4.7 .5 5.1 .5-3.5 .5 1.9 .5 0 .5-2.7 .5 .4 .5-3.3 .5 2.5 .5-2 .5 4.8 .5-.9 .5 1.9 .5-1.3 .5-2.3 .5 2.1 .5-1.6 .5 2.1 .5-.7 .5-2.9 .5 2.1 .5 .1 .5-.9 .5 2.6 .5 1.7 .5-4.6 .5 .4 .5-3.8 .5 5 .5-.3 .5-3.4 .5 5.8 .5 1 .5-2.5 .5 1 .5-1 .5 4 .5-4.7 .5 2.9 .5 5.2 .5-3.9 .5 1.1 .5-1.1 .5-2 .5 2.8 .5 1.2 .5-2.9 .5 3.3 .5 2.2 .5-.1 .5-5.6 .5 1.6 .5-1.2 .5 6.2 .5-1 .5 .2 .5-3.4 .5-.7 .5 2.8 .5 .1 .5-2.1 .5 2.2 .5 1.2 .5-.9 .5-2.8 .5-2.3 .5 4.1 .5 1 .5-.9 .5-.4 .5-.5 .5 3.1 .5-1.7 .5 .4 .5-2.3 .5 .8 .5 1.7 .5-2.5 .5-.6 .5 2.1 .5 3.4 .5-2.2 .5 2.8 .5-3.4 .5-.4 .5-2.3 .5 1.8 .5 4.4 .5-2.4 .5 .9 .5 0 .5-1.5 .5-.4 .5 .7 .5 1.2 .5-.4 .5 .1 .5-.7 .5-2 .5 1.1 .5-1.4 .5 4.3 .5-6.8 .5 4.1 .5 5.8 .5-6 .5-1.7 .5 2.5 .5 2.9 .5-3.2 .5 1.8 .5-1.1 .5-1 .5 7.7 .5-6.7 .5-1.3 .5 .1 .5 2 .5 .1 .5 .8 .5-1.4 .5-3.4 .5 4.3 .5-1.8" fill="none" stroke="#000" stroke-width="2.4" stroke-linejoin="round" />
<path d="M344.5 130.4l.5-2.7 .5 2 .5-.3 .5 1.5 .5-3.1 .5 3.3 .5 .2 .5-2.8 .5 1.1 .5-.5 .5 3.9 .5-7.6 .5 4.8 .5-2.9 .5 2.8 .5 2.8 .5-3.3 .5 1.7 .5-2.2 .5 6.2 .5-2.3 .5 .5 .5-5.4 .5 .5 .5 4.8 .5-2.8 .5-.2 .5 1.3 .5-3.5 .5 4.5 .5-1.7 .5 1.1 .5-2.6 .5 2.6 .5-2.7 .5 3.7 .5 .4 .5-.5 .5-.9 .5 .3 .5-7.4 .5 7.8 .5-2.4 .5 .8 .5-.8 .5-2.5 .5 1.9 .5 2.6 .5 1.7 .5-4 .5-.1 .5 5.7 .5-4.6 .5 7 .5-4 .5-1.5 .5 4.6 .5 2 .5-6.4 .5 7.1 .5-3.5 .5 4.2 .5-3.7 .5-2.3 .5 5 .5 1.3 .5 2.9 .5-.4 .5-1.9 .5-1.7 .5-.3 .5 .9 .5-.8 .5 1.6 .5-4.7 .5 6.4 .5-.1 .5 6.1 .5-3.6 .5-2.4 .5 2.7 .5-3.6 .5 1.7 .5-2.4 .5 7.7 .5-1.5 .5-3.6 .5 2.9 .5 2.6 .5-.7 .5 .1 .5-2.4 .5 .7 .5 1.9 .5 2.1 .5-3.6 .5-.4 .5 5.3 .5-4.3 .5 4.7 .5-1.6 .5 1.7 .5 2.1 .5-2 .5 .4 .5-3.4 .5 .7 .5 3.3 .5 2.2 .5-.1 .5 2.3 .5-4.1 .5 0 .5 2 .5-1.9 .5 .1 .5-1.9 .5 4.8 .5-4.3 .5 3.8 .5-4 .5 5.7 .5-4.4 .5 4.3 .5-5.1 .5 2.8 .5 3.8 .5-4.2 .5 2.2 .5-1 .5-3.8 .5 6 .5 .5 .5-3.2 .5 3.9 .5-2.7 .5-.3 .5 2.5 .5-1.3 .5 6.8 .5-8.3 .5 5.3 .5 .8 .5-6.9 .5 .1 .5 4.7 .5-2.7 .5 1.6 .5 1.3 .5-3.7 .5-1.9 .5-4 .5 6.2 .5-2.7 .5 2.4 .5-.4 .5-3.8 .5 6.5 .5-1.7 .5-.7 .5-4.8 .5 1.5 .5-.6 .5 0 .5-1.8 .5 3.2 .5-.8 .5 .1 .5-2.2 .5 3.7 .5-2.7 .5-6.7 .5 4.3 .5 1 .5 2 .5-3 .5-.2 .5-1.2 .5 2.7 .5-2.7 .5-.6 .5-.5 .5 2.7 .5-2.6 .5-2.7 .5 4.9 .5-3 .5 2.1 .5-.1 .5 1.6 .5-.5 .5-3.7 .5 .7 .5-2.6 .5 6.4 .5-2.9 .5 1.9 .5-3.9 .5-4 .5 7.7 .5-3.3 .5-.1 .5-.3 .5 1.1 .5-.4 .5-4.9 .5 5.8 .5-3.8 .5 0 .5 4.7 .5-2 .5-2.9 .5-3.5 .5 4.4 .5 .7 .5-1.5 .5-2.7 .5 .8 .5-1.1 .5 3.1 .5 1.2 .5 .3 .5-4 .5 2 .5 .6 .5-2.5 .5 .6 .5 4.9 .5-4.3 .5 1.3 .5-3 .5 .9 .5-4 .5 3.6 .5 2.5 .5 1.9 .5-2.1 .5-1.3 .5-1.5 .5-1.6 .5 .8" fill="none" stroke="#000" stroke-width="2.4" stroke-linejoin="round" />
<path d="M344.5 129.6l.5-1.4 .5 9 .5-5 .5 .9 .5-.4 .5 2.8 .5-3.4 .5 2.1 .5-5 .5-.8 .5 6.2 .5 .1 .5-2.1 .5-.6 .5-.1 .5-1.9 .5 4.9 .5-2 .5-.3 .5-.3 .5 1.5 .5-1.2 .5 .5 .5-4.2 .5 3.7 .5 3.7 .5-5.9 .5 .8 .5 2.3 .5 .1 .5-.7 .5-5 .5 4.7 .5-3.7 .5 .8 .5 3 .5-1.9 .5 2.5 .5 5.1 .5-5.2 .5-.1 .5-3.6 .5 .6 .5-.9 .5 1.1 .5-1.2 .5 .9 .5 1 .5-1.7 .5 .3 .5 1.4 .5 5.2 .5 .4 .5 3.5 .5 1.4 .5-1.6 .5 3.6 .5-3.3 .5 9.6 .5-1 .5-1.8 .5-1.1 .5 4.4 .5-3.9 .5 3.4 .5 4.3 .5-.4 .5-.3 .5 4.2 .5-3.6 .5 3.6 .5-.9 .5 0 .5 3.6 .5-2.4 .5 7.1 .5-4.7 .5 6.4 .5-6 .5 4.5 .5-3.2 .5 .4 .5 4.1 .5 1.9 .5-3.7 .5 5.9 .5-3.9 .5 2.6 .5 1 .5 1 .5-4.8 .5 8.1 .5-1.9 .5-1.6 .5-.9 .5-.9 .5 1.2 .5 4.7 .5-1.5 .5-1.2 .5 1.8 .5 5.1 .5-3.6 .5-.1 .5 4.8 .5-1.5 .5-.4 .5-1.1 .5-1.7 .5 1.2 .5 1.9 .5 .9 .5 1.6 .5 .8 .5-.4 .5 .4 .5-2.3 .5-2.2 .5 3.9 .5-.6 .5 1.1 .5 1 .5-1.9 .5 .5 .5 2.5 .5 .6 .5-1.4 .5 2.7 .5-1.3 .5-1.6 .5 2.6 .5 4.2 .5-5.4 .5 4.3 .5 .7 .5 .5 .5-4.9 .5 6.4 .5-4 .5-.6 .5 .2 .5 2.1 .5-1.1 .5-.3 .5 3.4 .5-5.5 .5-1.8 .5 2.9 .5-1.4 .5-.2 .5-5.9 .5 3.6 .5-2.4 .5 2.3 .5-7.2 .5 2.7 .5-1.6 .5-3.4 .5 1.4 .5 3.5 .5-4 .5-1.1 .5 2.9 .5-.2 .5-.5 .5-4.5 .5 1.1 .5 1.9 .5-4.1 .5-.4 .5 3.2 .5 1.3 .5-6.2 .5-3.4 .5 2.2 .5 .7 .5 1.7 .5 1.4 .5-2 .5-1.4 .5 1.6 .5-2.7 .5 1.7 .5-1.6 .5 7.1 .5-4.4 .5-3.9 .5-.6 .5 1 .5-3 .5 1.8 .5-.3 .5 3.3 .5-3.1 .5-1.1 .5-1.5 .5 .1 .5 2.2 .5-.6 .5 2.7 .5-4.1 .5 3.4 .5-2 .5-.8 .5-4.7 .5 1.3 .5 4.2 .5 1.3 .5-2.9 .5 1 .5-2.8 .5-.2 .5-.8 .5 3.4 .5-1.7 .5-1.5 .5-.4 .5 1.7 .5-.7 .5-2.8 .5 5.4 .5-3.5 .5-.7 .5 3 .5-1.3 .5-2.6 .5 1.1 .5-3.8 .5 .7 .5-3.7 .5 7.4 .5-7.1 .5 5.4 .5-3.5 .5-.6 .5 1.5 .5 .8 .5 .5 .5 2.4 .5-3.4 .5 .9" fill="none" stroke="#c04040" stroke-width="2.16" stroke-linejoin="round" />
<path d="M344.5 129.1l.5-1.4 .5 9 .5-5 .5 .9 .5-.4 .5 2.8 .5-3.4 .5 2.1 .5-5 .5-.8 .5 6.2 .5 .1 .5-2.1 .5-.6 .5-.1 .5-1.9 .5 4.9 .5-2 .5-.3 .5-.3 .5 1.5 .5-1.2 .5 .5 .5-4.2 .5 3.7 .5 3.7 .5-5.9 .5 .8 .5 2.3 .5 .1 .5-.7 .5-5 .5 4.7 .5-3.7 .5 .8 .5 3 .5-1.9 .5 2.5 .5 5.1 .5-5.2 .5-.1 .5-3.6 .5 .6 .5-.9 .5 1.1 .5-1.2 .5 .9 .5 1 .5-1.7 .5 .3 .5 1.4 .5 5.2 .5 .4 .5 3.5 .5 1.4 .5-1.6 .5 3.6 .5-3.3 .5 9.6 .5-1 .5-1.8 .5-1.1 .5 4.4 .5-3.9 .5 3.4 .5 4.3 .5-.4 .5-.3 .5 4.2 .5-3.6 .5 3.6 .5-.9 .5 0 .5 3.6 .5-2.4 .5 7.1 .5-4.7 .5 6.4 .5-6 .5 4.5 .5-3.2 .5 .4 .5 4.1 .5 1.9 .5-3.7 .5 5.9 .5-3.9 .5 2.6 .5 1 .5 1 .5-4.8 .5 8.1 .5-1.9 .5-1.6 .5-.9 .5-.9 .5 1.2 .5 4.7 .5-1.5 .5-1.2 .5 1.8 .5 5.1 .5-3.6 .5-.1 .5 4.8 .5-1.5 .5-.4 .5-1.1 .5-1.7 .5 1.2 .5 1.9 .5 .9 .5 1.6 .5 .8 .5-.4 .5 .4 .5-2.3 .5-2.2 .5 3.9 .5-.6 .5 1.1 .5 1 .5-1.9 .5 .5 .5 2.5 .5 .6 .5-1.4 .5 2.7 .5-1.3 .5-1.6 .5 2.6 .5 4.2 .5-5.4 .5 4.3 .5 .7 .5 .5 .5-4.9 .5 6.4 .5-4 .5-.6 .5 .2 .5 2.1 .5-1.1 .5-.3 .5 3.4 .5-5.5 .5-1.8 .5 2.9 .5-1.4 .5-.2 .5-5.9 .5 3.6 .5-2.4 .5 2.3 .5-7.2 .5 2.7 .5-1.6 .5-3.4 .5 1.4 .5 3.5 .5-4 .5-1.1 .5 2.9 .5-.2 .5-.5 .5-4.5 .5 1.1 .5 1.9 .5-4.1 .5-.4 .5 3.2 .5 1.3 .5-6.2 .5-3.4 .5 2.2 .5 .7 .5 1.7 .5 1.4 .5-2 .5-1.4 .5 1.6 .5-2.7 .5 1.7 .5-1.6 .5 7.1 .5-4.4 .5-3.9 .5-.6 .5 1 .5-3 .5 1.8 .5-.3 .5 3.3 .5-3.1 .5-1.1 .5-1.5 .5 .1 .5 2.2 .5-.6 .5 2.7 .5-4.1 .5 3.4 .5-2 .5-.8 .5-4.7 .5 1.3 .5 4.2 .5 1.3 .5-2.9 .5 1 .5-2.8 .5-.2 .5-.8 .5 3.4 .5-1.7 .5-1.5 .5-.4 .5 1.7 .5-.7 .5-2.8 .5 5.4 .5-3.5 .5-.7 .5 3 .5-1.3 .5-2.6 .5 1.1 .5-3.8 .5 .7 .5-3.7 .5 7.4 .5-7.1 .5 5.4 .5-3.5 .5-.6 .5 1.5 .5 .8 .5 .5 .5 2.4 .5-3.4 .5 .9" fill="none" stroke="#0aae0a" stroke-width="2.4" stroke-linejoin="round" />
<path d="M474 145l.5-3.5 .5 4.3 .5-4.8 .5-1.9 .5 1.9 .5-1.7 .5 .8 .5 6.2 .5-3.3 .5 1 .5 2.4 .5 .2 .5-4.4 .5 4.6 .5-2.3 .5-1 .5 1.1 .5-4.7 .5 1.6 .5 1.7 .5 1.8 .5-2.4 .5 .6 .5 2.7 .5 1.1 .5-1.6 .5 1.3 .5-4.2 .5 .2 .5 1.6 .5-1.6 .5-.5 .5 5.4 .5-4.6 .5-1.9 .5 3.6 .5 3.4 .5-4.4 .5 2.9 .5-4.2 .5-.1 .5-.5 .5 1.3 .5 5 .5-7.5 .5 7 .5-6.6 .5 1.9 .5 2.7 .5-.5 .5 6.6 .5 2.7 .5 5.5 .5-3 .5 9.5 .5-6.4 .5 1.5 .5-2.9 .5 2.2 .5-1.5 .5 6.2 .5-2.7 .5 2.3 .5-2.8 .5 .6 .5 4.8 .5-5.5 .5-1.8 .5 5.7 .5-3.6 .5 2 .5 3.6 .5-4.1 .5 4.5 .5-3.7 .5 5.7 .5-.2 .5-4.2 .5 .8 .5-1.3 .5 2.8 .5 2.6 .5-6.2 .5 6.1 .5-5.3 .5 1.4 .5-2.1 .5 9.9 .5-4.9 .5 .7 .5-2 .5 4.6 .5-7.6 .5 5.6 .5 5.8 .5-6.1 .5 1.3 .5 2 .5-3.4 .5 2.4 .5 2.7 .5-1.6 .5 .8 .5-1.5 .5 2 .5-.3 .5 3.8 .5-1.5 .5-2 .5-5.2 .5 8.2 .5 .5 .5-3.9 .5-2.4 .5 2.5 .5 5.5 .5-4.6 .5 1.8 .5 2.1 .5 2.8 .5-2.8 .5 .1 .5-.6 .5 6 .5-.9 .5-2.4 .5-2.8 .5 2 .5 3.9 .5-2.7 .5 4.5 .5-.8 .5 .3 .5 1.4 .5 .1 .5-2.8 .5 1.8 .5 7.1 .5-8.3 .5 2.3 .5 4.4 .5-2.6 .5-1.1 .5-.8 .5 5.1 .5 1.7 .5-2.5 .5-6.9 .5-1 .5-8.7 .5 2.7 .5-2.4 .5 1.9 .5 1.1 .5 .5 .5-5.4 .5 5.4 .5-4.7 .5-1.6 .5 1.8 .5-3.5 .5 3.4 .5 .4 .5-1.5 .5 1.6 .5-2.3 .5 .6 .5-3.9 .5 3.5 .5-2.4 .5 .8 .5 .7 .5 .4 .5-4.8 .5 0 .5 3 .5 1.7 .5-.5 .5 1.1 .5 .8 .5-2.2 .5-1.5 .5-2.8 .5 0 .5 1 .5 1.7 .5-.4 .5-.7 .5-.6 .5 1.7 .5-1.3 .5 0 .5-.1 .5-2.4 .5-1.4 .5 3.6 .5-.4 .5-1.8 .5-.6 .5 6.5 .5-7.8 .5 1.2 .5 1 .5-3.8 .5 3 .5 4 .5-2.4 .5-.9 .5-.3 .5-1.4 .5 1.9 .5-3 .5-.9 .5 1.2 .5 1.8 .5-1.7 .5 .7 .5-7 .5 7.9 .5 2.7 .5-2.8 .5-4.3 .5-1.5 .5 2.5 .5-3.3 .5 4 .5-3.3 .5 3.5 .5 .7 .5-8.7 .5 5.6 .5-2.7 .5-2 .5 1.8 .5 .8 .5 2.9 .5-6.6 .5 6.2 .5 2.2 .5-3.8" fill="none" stroke="#c04040" stroke-width="1.8900000000000001" stroke-linejoin="round" />
<path d="M474 144.5l.5-3.5 .5 4.3 .5-4.8 .5-1.9 .5 1.9 .5-1.7 .5 .8 .5 6.2 .5-3.3 .5 1 .5 2.4 .5 .2 .5-4.4 .5 4.6 .5-2.3 .5-1 .5 1.1 .5-4.7 .5 1.6 .5 1.7 .5 1.8 .5-2.4 .5 .6 .5 2.7 .5 1.1 .5-1.6 .5 1.3 .5-4.2 .5 .2 .5 1.6 .5-1.6 .5-.5 .5 5.4 .5-4.6 .5-1.9 .5 3.6 .5 3.4 .5-4.4 .5 2.9 .5-4.2 .5-.1 .5-.5 .5 1.3 .5 5 .5-7.5 .5 7 .5-6.6 .5 1.9 .5 2.7 .5-.5 .5 6.6 .5 2.7 .5 5.5 .5-3 .5 9.5 .5-6.4 .5 1.5 .5-2.9 .5 2.2 .5-1.5 .5 6.2 .5-2.7 .5 2.3 .5-2.8 .5 .6 .5 4.8 .5-5.5 .5-1.8 .5 5.7 .5-3.6 .5 2 .5 3.6 .5-4.1 .5 4.5 .5-3.7 .5 5.7 .5-.2 .5-4.2 .5 .8 .5-1.3 .5 2.8 .5 2.6 .5-6.2 .5 6.1 .5-5.3 .5 1.4 .5-2.1 .5 9.9 .5-4.9 .5 .7 .5-2 .5 4.6 .5-7.6 .5 5.6 .5 5.8 .5-6.1 .5 1.3 .5 2 .5-3.4 .5 2.4 .5 2.7 .5-1.6 .5 .8 .5-1.5 .5 2 .5-.3 .5 3.8 .5-1.5 .5-2 .5-5.2 .5 8.2 .5 .5 .5-3.9 .5-2.4 .5 2.5 .5 5.5 .5-4.6 .5 1.8 .5 2.1 .5 2.8 .5-2.8 .5 .1 .5-.6 .5 6 .5-.9 .5-2.4 .5-2.8 .5 2 .5 3.9 .5-2.7 .5 4.5 .5-.8 .5 .3 .5 1.4 .5 .1 .5-2.8 .5 1.8 .5 7.1 .5-8.3 .5 2.3 .5 4.4 .5-2.6 .5-1.1 .5-.8 .5 5.1 .5 1.7 .5-2.5 .5-6.9 .5-1 .5-8.7 .5 2.7 .5-2.4 .5 1.9 .5 1.1 .5 .5 .5-5.4 .5 5.4 .5-4.7 .5-1.6 .5 1.8 .5-3.5 .5 3.4 .5 .4 .5-1.5 .5 1.6 .5-2.3 .5 .6 .5-3.9 .5 3.5 .5-2.4 .5 .8 .5 .7 .5 .4 .5-4.8 .5 0 .5 3 .5 1.7 .5-.5 .5 1.1 .5 .8 .5-2.2 .5-1.5 .5-2.8 .5 0 .5 1 .5 1.7 .5-.4 .5-.7 .5-.6 .5 1.7 .5-1.3 .5 0 .5-.1 .5-2.4 .5-1.4 .5 3.6 .5-.4 .5-1.8 .5-.6 .5 6.5 .5-7.8 .5 1.2 .5 1 .5-3.8 .5 3 .5 4 .5-2.4 .5-.9 .5-.3 .5-1.4 .5 1.9 .5-3 .5-.9 .5 1.2 .5 1.8 .5-1.7 .5 .7 .5-7 .5 7.9 .5 2.7 .5-2.8 .5-4.3 .5-1.5 .5 2.5 .5-3.3 .5 4 .5-3.3 .5 3.5 .5 .7 .5-8.7 .5 5.6 .5-2.7 .5-2 .5 1.8 .5 .8 .5 2.9 .5-6.6 .5 6.2 .5 2.2 .5-3.8" fill="none" stroke="#0aae0a" stroke-width="2.1" stroke-linejoin="round" />
<path d="M474 143.4l.5-1.4 .5-2.9 .5 4.2 .5-.3 .5 .8 .5 4.6 .5-4.6 .5-.7 .5 2.8 .5-7.3 .5 .5 .5 2 .5-.7 .5 3.3 .5-2.5 .5 5.1 .5-.5 .5-1.9 .5-2.9 .5 2.5 .5 .5 .5-4.7 .5 3.6 .5 .9 .5-1.3 .5 3.4 .5-.9 .5-5.1 .5 2.4 .5-2.4 .5 3.5 .5-3.6 .5 4.5 .5-1.3 .5 1.4 .5-2.8 .5-3.2 .5 8 .5-4.8 .5 3.8 .5-2.3 .5 .6 .5 2.9 .5-3.7 .5 2.6 .5-7.2 .5 5.9 .5-2.8 .5 .3 .5 .3 .5-17.1 .5-14.8 .5-9.1 .5 4.4 .5-2.3 .5 4.3 .5-4.3 .5 1.8 .5-2.5 .5 2.3 .5 .8 .5-3.5 .5 1.1 .5-3.7 .5 4.3 .5 1.4 .5-3.6 .5 4.2 .5-8 .5 .5 .5 1.2 .5 2.2 .5 1.3 .5-.3 .5 0 .5 2 .5-3 .5-2 .5 .1 .5 8.3 .5-11.1 .5 5.4 .5 4.1 .5-2.5 .5-3.3 .5 2.1 .5 2.1 .5 .9 .5-5.3 .5 4.1 .5-1.2 .5 2.1 .5 .7 .5-4.4 .5-2.8 .5 4.7 .5 3.4 .5-2.7 .5-1.2 .5 5.4 .5-8.6 .5 4.8 .5-3.7 .5 1.6 .5 .1 .5 3.5 .5-6.1 .5 1 .5-2.7 .5 5.2 .5-2.4 .5 2.2 .5-3.7 .5 1.7 .5 3.5 .5-3 .5 2 .5-.3 .5-2.2 .5-3 .5 6.3 .5-2 .5 2 .5-7.5 .5 .9 .5-1.3 .5 3.2 .5 4.8 .5-1.2 .5-1.5 .5 .4 .5 1.5 .5-2.6 .5 1.7 .5-.7 .5-5.8 .5 4.5 .5 4.3 .5-4.4 .5 .7 .5-1.2 .5 .3 .5 5.3 .5-2.3 .5-.6 .5-4 .5 11.6 .5 1.8 .5 5.6 .5 11.8 .5 1.8 .5-4.6 .5 8.9 .5 1 .5-1.1 .5 5.8 .5-5.8 .5 1 .5-.5 .5 .8 .5 5 .5-5.5 .5 .5 .5 .5 .5 2.9 .5-1.3 .5 3 .5-3.9 .5-1.4 .5 2 .5 1.3 .5-2.4 .5 3.1 .5 3.9 .5-6 .5 1.6 .5 3.3 .5-5 .5-.5 .5-.6 .5 3.8 .5 .3 .5-1.7 .5 .5 .5 3.1 .5-1 .5-5.6 .5 3.5 .5 .3 .5 1.6 .5-2.4 .5-1 .5 .5 .5-3.3 .5 4.4 .5-1.4 .5 2.7 .5-3.7 .5 1.5 .5-1.4 .5-.2 .5 4.5 .5-2.9 .5 2.3 .5-3.9 .5 3 .5-4.4 .5 3 .5 0 .5 2.7 .5-.9 .5-.9 .5 2.5 .5-1.5 .5 .8 .5 .6 .5-2 .5-.6 .5 1.6 .5-1.8 .5 2 .5 1.8 .5-.6 .5-3 .5-2.3 .5 3.1 .5-.1 .5 3.1 .5-3.7 .5 .4 .5 2.4 .5-3 .5 .8 .5 4.7 .5-.5 .5-2.1 .5-.9 .5-3.1 .5 3.9 .5-1.3" fill="none" stroke="#000" stroke-width="2.1" stroke-linejoin="round" />
<path d="M474 142.4l.5-1.8 .5 1.3 .5-.5 .5 1.3 .5 2.7 .5-2.6 .5-5.1 .5 1.8 .5-1.6 .5 2 .5 3.4 .5-.4 .5-2.5 .5 2.1 .5-2.5 .5-1.7 .5 .1 .5 1.3 .5 5.7 .5-6.9 .5 6.5 .5 .2 .5-3.8 .5 .4 .5-1.5 .5 1.5 .5 1.7 .5-1.6 .5 2.5 .5 .4 .5-2.1 .5 0 .5-1 .5 1 .5-3.6 .5 3.8 .5-.5 .5-2.7 .5 7.5 .5-7.8 .5 .3 .5 2.9 .5-5.6 .5 2.9 .5-1.8 .5 1.4 .5 2 .5 1.2 .5 1.9 .5-.7 .5-15.1 .5-17.5 .5-2.9 .5 3.7 .5-4.2 .5-.6 .5 5.1 .5-2.1 .5-1.6 .5 1 .5 .3 .5-5.6 .5 3.2 .5-2.7 .5 3.2 .5-2 .5 5.1 .5-2.1 .5-3.4 .5 2 .5-3 .5 3.1 .5 1.3 .5-.8 .5-5.4 .5 3.9 .5 2.1 .5-.5 .5 2.1 .5-6.1 .5 4.5 .5-2.9 .5 2.1 .5 .5 .5 .7 .5-3.2 .5 1.9 .5-3.4 .5-.6 .5 4.9 .5-1.6 .5-3.9 .5 1.9 .5 2.2 .5 3.8 .5-1.3 .5-.6 .5-6.5 .5 4.2 .5 1.5 .5-.3 .5 .1 .5-1.7 .5 5 .5-.7 .5-3.9 .5-2.3 .5 7.6 .5-6.5 .5 4.3 .5 1.8 .5-7.1 .5 3 .5-1.6 .5 2.2 .5-.5 .5 4 .5-3.4 .5-1.5 .5 2.8 .5-3.5 .5-.2 .5 6.5 .5-7.7 .5 .8 .5 1.4 .5-2.8 .5-2.6 .5 7.9 .5-4.7 .5 .6 .5 .4 .5-1.5 .5-.2 .5 3 .5 5.6 .5-4.1 .5 0 .5-5.7 .5 3.7 .5-2.9 .5 4.9 .5-1.5 .5 1.6 .5 .7 .5-.2 .5 1.1 .5 8.8 .5-1.4 .5 4 .5 5.7 .5 2.5 .5 3.9 .5 3.4 .5-.4 .5 1.3 .5 1.1 .5 3.6 .5-6.7 .5 5.5 .5-3.2 .5-.8 .5 3.1 .5-.9 .5 2.4 .5 1.3 .5-8.6 .5 5.7 .5 5.1 .5-2.7 .5 1.4 .5-3.3 .5-3.9 .5 .8 .5 4.6 .5 .7 .5-4.2 .5 1.1 .5 1.4 .5-5.1 .5 3.6 .5 4.9 .5 1.4 .5-5.7 .5 4.9 .5-5.9 .5-.7 .5-3.6 .5 8 .5-3.3 .5 6.8 .5-5 .5-.3 .5-5 .5 8.3 .5-4.7 .5 .5 .5-5.1 .5 7.9 .5 .1 .5-3.9 .5 1.7 .5 .8 .5 1.4 .5-2.1 .5 4 .5-4.9 .5-.8 .5 .3 .5-5.2 .5 4.4 .5 4.5 .5-1.8 .5-2.7 .5 2.9 .5-5.9 .5 4.4 .5 2 .5 .5 .5-3.7 .5 4.2 .5 2.4 .5-5.7 .5 2.9 .5-5.7 .5-1 .5 6.4 .5-1.4 .5 .4 .5-1.9 .5 .7 .5 2.8 .5 2.3 .5-4.8 .5-3.6 .5 7.3 .5-1.7 .5 .3 .5-1.3 .5 5.4" fill="none" stroke="#000" stroke-width="2.1" stroke-linejoin="round" />
<path d="M474 142.1l.5 1.1 .5-6 .5 3.2 .5-.2 .5 1.6 .5 .9 .5-2.7 .5 6.2 .5-7 .5 1.5 .5 1.8 .5-3.8 .5 4.6 .5 .2 .5-2.4 .5 5.5 .5-4.5 .5 .5 .5-3.1 .5-1.8 .5 2.6 .5 .8 .5-.4 .5 3.1 .5-7.9 .5 3.1 .5-1.7 .5 7.9 .5-4.7 .5 .1 .5-1.5 .5 5 .5-3.3 .5 1.6 .5-5.6 .5 8 .5-1.9 .5 .4 .5 1.7 .5-3.6 .5 .1 .5 2.2 .5-.8 .5-1.6 .5 .7 .5-1.4 .5 3.1 .5 .5 .5-2.3 .5 4.7 .5-13.6 .5-1.7 .5 4.9 .5-5.4 .5-3 .5 7.5 .5-2.1 .5-4.4 .5 4.9 .5-4.5 .5-.8 .5 3 .5-.8 .5-1.6 .5 1.8 .5-1.6 .5 2.7 .5-.2 .5 1.9 .5-3 .5-2.3 .5 .1 .5 2.6 .5 4.5 .5-1.7 .5-3.8 .5 4 .5-5.3 .5 5.4 .5-3.5 .5 2.9 .5-.4 .5-2.2 .5 1.5 .5-3.5 .5 2.4 .5 2.9 .5 7.6 .5-8.5 .5-1.6 .5-2.8 .5 5.2 .5-6.8 .5 2.1 .5 2.9 .5-3.9 .5 6.9 .5-1.2 .5-4.1 .5 0 .5-1.9 .5-.3 .5 4.7 .5 .4 .5-.7 .5-.2 .5-2.1 .5 2.3 .5-4.6 .5 3.7 .5 3.7 .5-.4 .5-4.5 .5 .3 .5 4.3 .5 1 .5-8.3 .5 2.7 .5 1.7 .5 2.4 .5-5.2 .5 3.8 .5-2.4 .5 6.7 .5-4.9 .5-1.4 .5-.6 .5 3.5 .5-.9 .5-4.5 .5 3.3 .5-3.9 .5 1.4 .5-1.3 .5-.1 .5 1.6 .5-.8 .5 3.8 .5 .7 .5-2.6 .5-2.3 .5 4.8 .5-7.1 .5 .3 .5 6.6 .5-.2 .5 2.3 .5-1.5 .5-1.1 .5 3.4 .5 4.2 .5-1.8 .5 .1 .5-1.7 .5 .6 .5 5.1 .5-1 .5-4 .5 .2 .5 1.4 .5 2.8 .5-4.3 .5 2.5 .5-4.9 .5 2.2 .5 4.3 .5 1.2 .5-5.2 .5 1 .5 4 .5-3 .5-.3 .5 2.7 .5-.8 .5 2.3 .5-.8 .5-3.4 .5 1.2 .5 .2 .5-3.3 .5 1 .5 4.9 .5-6.4 .5 6.5 .5-1.7 .5-1.1 .5 1.7 .5-.1 .5 1.9 .5-4 .5 .4 .5 0 .5 5.3 .5-2.3 .5-4.6 .5 1.5 .5-1 .5 1.9 .5 .5 .5 5.2 .5-10.3 .5 7.2 .5-1.4 .5-2.9 .5 1.4 .5-.8 .5 1.4 .5 2.4 .5-6.3 .5 7.1 .5-4.2 .5 4.7 .5-2.7 .5 2.1 .5-1.6 .5 1.3 .5-2.6 .5-2.2 .5 3.8 .5 .1 .5 3.5 .5-10.2 .5 4.5 .5 3.2 .5-5.8 .5 2.6 .5 5.9 .5-1.7 .5-5.7 .5 5.8 .5-.6 .5-1 .5-1 .5-.3 .5-2.8 .5 .9 .5 3.2 .5-1.5 .5 4.3 .5-5.4" fill="none" stroke="#000" stroke-width="2.1" stroke-linejoin="round" />
<path d="M474 136.9l.5 5.2 .5 1.5 .5 .3 .5-.8 .5-2.2 .5 5.8 .5-5.4 .5 3.4 .5-2.5 .5-2.3 .5 6.6 .5-9.9 .5 4.2 .5 3.2 .5-2 .5 2.8 .5-2.1 .5-.9 .5 6.5 .5-5.9 .5 .1 .5-2.3 .5 .9 .5 3.5 .5-.2 .5-1.5 .5-1.7 .5 3.5 .5-6 .5 3.4 .5 .2 .5-1.5 .5 2.5 .5-2 .5-.4 .5 6.6 .5-2.7 .5 1.2 .5-2.9 .5 2.3 .5-.5 .5 1.1 .5 2.9 .5-6.5 .5 1.2 .5-.8 .5-8.6 .5 5.3 .5 3.5 .5 1.6 .5-.3 .5 7 .5 3.1 .5-1.5 .5 4.8 .5 1 .5-3.1 .5-3.4 .5 6.2 .5-3.9 .5-.3 .5 1.3 .5-1.4 .5 4.2 .5-.6 .5 1.2 .5-1.4 .5-3.3 .5 1.8 .5 2.7 .5-3 .5 8.4 .5-7.7 .5-.7 .5 4.5 .5-.9 .5-1.7 .5-.4 .5 1.8 .5 1.2 .5 0 .5-2.5 .5 2 .5 1.1 .5 0 .5-9.5 .5 5.7 .5 .4 .5 1.6 .5 1.1 .5 2 .5-.6 .5-1.7 .5 .5 .5 4.5 .5-5.8 .5 2.5 .5 3.3 .5-3 .5-5.8 .5 6.2 .5-1.8 .5 .9 .5 3 .5-1.3 .5-1.7 .5 3 .5-1 .5-.7 .5 .7 .5 0 .5-1.3 .5-.2 .5 1.3 .5-2.3 .5-.6 .5 6.6 .5-3.8 .5 .7 .5-.1 .5 .5 .5 .2 .5 .2 .5-2 .5 4.5 .5-4 .5 4.5 .5-7.3 .5 2.3 .5 5.3 .5-2.7 .5-1.2 .5 2.8 .5-3.4 .5 2.9 .5-5.6 .5 4.6 .5-.4 .5 3.1 .5 1 .5-4.2 .5 6.3 .5-6.7 .5-4.9 .5-2.1 .5 8.5 .5-5.5 .5-2.9 .5-1.8 .5-2.3 .5 4.6 .5-5.1 .5 4.4 .5-5.2 .5-5.6 .5 7.7 .5-3.3 .5 .1 .5 4.3 .5-4.9 .5 3.4 .5-3.2 .5-2.1 .5 2.9 .5-2.6 .5 4.8 .5-.5 .5-2 .5 1.6 .5 .1 .5-1.9 .5 3.2 .5-2.6 .5 2.3 .5-3.7 .5 2.8 .5 1 .5-2.8 .5 .7 .5-.5 .5 2.9 .5-3.9 .5 2.7 .5 2.4 .5-3.1 .5-5.2 .5 4.1 .5 2 .5-3.6 .5 3.3 .5-1.5 .5-.7 .5-2 .5-.9 .5 .4 .5 .6 .5 .9 .5-.5 .5-2.1 .5 .7 .5 .5 .5-5.2 .5 2.1 .5-.2 .5 1.5 .5-.3 .5 0 .5-1.6 .5 3.8 .5-1 .5-4.8 .5 4 .5-2.9 .5 7.1 .5-5.5 .5 .1 .5 1.2 .5-.8 .5 .3 .5 4 .5-3.4 .5 1.5 .5 .7 .5-5.4 .5 6.7 .5-2.6 .5 .6 .5-4.6 .5 4.2 .5-1.1 .5-2.4 .5 7 .5-4.4 .5-2 .5 1 .5 1.7 .5 .5 .5-1.4 .5 1.5 .5 .6" fill="none" stroke="#000" stroke-width="2.1" stroke-linejoin="round" />
<path d="M607.4 139.9l.5-1.2 .5-1.6 .5 1.8 .5-5.1 .5 8.6 .5 4.4 .5 0 .5-1.9 .5-10.3 .5 11.4 .5-10.3 .5 3.1 .5 8.7 .5-13.4 .5 8.8 .5-2.6 .5-2 .5-3.3 .5 5.9 .5-4 .5 6.9 .5 .8 .5-11.9 .5 4 .5 .8 .5-3.9 .5 .3 .5 5.5 .5-1.4 .5-6.6 .5 5.1 .5 4.9 .5-7.9 .5 1.3 .5 11.5 .5-1.2 .5-13.6 .5 1.3 .5 7.9 .5-7.2 .5 4.3 .5-.9 .5 4.7 .5-14.2 .5 1.5 .5 4.5 .5 10.3 .5-5.4 .5-7.2 .5-1.8 .5-14 .5-7.4 .5-.4 .5 3.5 .5 3.6 .5-4.9 .5 1.8 .5-2.7 .5-1.6 .5-2.4 .5 5.4 .5-2.6 .5 .3 .5 5.4 .5-2.1 .5 1.8 .5-11.2 .5 9.8 .5-5.3 .5-1 .5-.2 .5 9.5 .5-1.8 .5-7.1 .5-1.9 .5 5.3 .5-2.2 .5 9.7 .5-14.3 .5-1.7 .5 7.2 .5 1.2 .5 .6 .5 2.9 .5 6 .5-11.1 .5-.9 .5-5.6 .5 9.2 .5 2.8 .5-5.1 .5 6.6 .5-5.3 .5 6.9 .5-5.5 .5-6.4 .5 2 .5-4.2 .5-.9 .5 9.2 .5 2.8 .5 5 .5-9.3 .5-.8 .5-4 .5 9.6 .5-2.7 .5-4.5 .5 5.9 .5-.6 .5-11.2 .5 12 .5-2.8 .5-2.4 .5-.1 .5 9.9 .5-.9 .5 1.3 .5-13.7 .5 2.3 .5 7.2 .5-9.8 .5 2.3 .5-5 .5 16.8 .5-3.6 .5-2.8 .5-1.1 .5-2.9 .5 .1 .5 4.6 .5-6.1 .5 8.9 .5-7.9 .5-1.7 .5 10 .5-6.7 .5 3.3 .5-4.5 .5-8.5 .5 12.9 .5-8.7 .5 11.2 .5-12.1 .5-1.5 .5 16 .5 8.1 .5 6 .5 1.4 .5 11.2 .5-10.8 .5 4.6 .5-1.5 .5 1.9 .5 5.6 .5-6.8 .5 5.5 .5 .6 .5-11.1 .5 2.5 .5 3.6 .5-.9 .5 4.1 .5-10.3 .5 12.2 .5 .1 .5-4.2 .5-5.6 .5 6.4 .5-2.5 .5 5.1 .5-3 .5 3.7 .5-5.3 .5 8.6 .5-17.2 .5 5.9 .5 7 .5-9.3 .5 10.4 .5-9 .5 6 .5-4.6 .5 2.2 .5 2.8 .5-1.3 .5-1.3 .5 11.7 .5-9.9 .5-4.5 .5 8.8 .5-.5 .5 1.8 .5 2.6 .5-12.5 .5 9.2 .5 .3 .5-5.2 .5 1.1 .5-14.9 .5 11.2 .5 10.8 .5-16.4 .5 5.7 .5 3.8 .5 1.3 .5 4.9 .5-15.6 .5 8.3 .5 3.8 .5-10 .5 5.8 .5 8.9 .5-2.6 .5-3.6 .5-14.5 .5 11.4 .5 2.4 .5-3.2 .5 1.1 .5 14.5 .5-15.2 .5-3.5 .5 5.6 .5-2.6 .5 .1 .5 1 .5 4 .5-2.5 .5-6.6 .5 4.9 .5 2.8 .5-4.4 .5 7.5 .5-1.7 .5-8.2 .5 6.1 .5 7.6" fill="none" stroke="#000" stroke-width="1.9" stroke-linejoin="round" />
<path d="M607.4 146.2l.5-7.5 .5 4.4 .5-7.2 .5-3.6 .5 9.2 .5-1.4 .5 1.3 .5-2.5 .5 1.6 .5-3.9 .5 4.6 .5 1.6 .5-4.1 .5 4 .5-11.8 .5 4.5 .5 10.2 .5 1.5 .5-6.9 .5-1.7 .5-5.3 .5 7.5 .5 1.9 .5-10.4 .5 9.4 .5-.3 .5-.3 .5-7.2 .5 7.7 .5-9.4 .5 13.7 .5-6.2 .5-6 .5 11.6 .5-.9 .5-8.3 .5 13.1 .5-14.7 .5 6 .5 4 .5-15.8 .5 15 .5-4.9 .5 .2 .5-4.9 .5 6.5 .5-6.6 .5 .6 .5 2.4 .5-11.9 .5 2.3 .5-15.4 .5 2.6 .5 2 .5 1.5 .5 3.6 .5 .2 .5-5.2 .5-.4 .5 2 .5 3.6 .5-.6 .5-5.6 .5-7.1 .5 19.4 .5-5.5 .5-3.2 .5 .4 .5-4 .5-2.2 .5 3.1 .5 .5 .5-1.9 .5-3.8 .5 5.3 .5 4.1 .5-5 .5 2.4 .5-9.6 .5 8.5 .5 .4 .5-5 .5-2.4 .5 9.9 .5-5.6 .5 5.9 .5-4.1 .5 4.8 .5-4.5 .5-5.3 .5 6.5 .5-1.1 .5 4.5 .5-5.1 .5 .3 .5 5.8 .5 1.4 .5-1.9 .5 1.3 .5-2.7 .5 1.4 .5 .5 .5-2.1 .5-1.6 .5 .4 .5 10.4 .5-11 .5-1.2 .5-.6 .5 1.5 .5 1.3 .5-6.3 .5-3.9 .5 10.5 .5-8.8 .5 8.6 .5-.6 .5 4.7 .5 2.4 .5-6 .5-4.2 .5-2.9 .5 1.8 .5 3.8 .5-9.7 .5 9.8 .5-.4 .5 3.1 .5-4.5 .5 2 .5-3.9 .5 1.3 .5-6.1 .5 8.8 .5 6.5 .5-6.4 .5 1 .5-6.2 .5 11.1 .5-10.1 .5 7.2 .5-3.2 .5-4.9 .5 9.1 .5-4.6 .5 4.9 .5 6.5 .5 3.1 .5 3.6 .5 4.9 .5-4 .5 2.2 .5-3.4 .5-3.8 .5 3.8 .5 .8 .5 2.4 .5 5.3 .5-13.2 .5 8.4 .5-10.8 .5 5.4 .5 2.5 .5-8.1 .5 1.9 .5 9.2 .5-.3 .5-.9 .5-3.2 .5 13.6 .5-10.6 .5-3.3 .5 11.7 .5-4.9 .5-4.5 .5 7.2 .5-4.8 .5 2.3 .5-1.9 .5-5.8 .5 9.2 .5-3.8 .5-5.3 .5 1.1 .5 7.9 .5-6.1 .5 1.9 .5 2.8 .5-2.4 .5-7.6 .5 9.9 .5 1.4 .5-.3 .5 3.4 .5-5.7 .5 1.9 .5 3.7 .5-8.6 .5 9.3 .5 0 .5-4.4 .5 4.9 .5-4.6 .5-8 .5 9.3 .5-3.7 .5 .4 .5-1.2 .5 5.6 .5-3.8 .5-5.7 .5 5.4 .5 1.2 .5-6.7 .5 1.3 .5 .2 .5-1 .5 4.4 .5 3.1 .5 4 .5-3.2 .5-.8 .5 .6 .5 .8 .5-7.8 .5 4.9 .5-1.7 .5-2.1 .5-1.5 .5-.2 .5 1.1 .5-4.5 .5 8.1 .5-2.5 .5 .6 .5 1.1 .5 1.7 .5-6" fill="none" stroke="#000" stroke-width="1.9" stroke-linejoin="round" />
<path d="M607.4 138.5l.5-6.9 .5-2.8 .5 1.3 .5 16 .5-15.5 .5 10.6 .5 4.6 .5-8.9 .5 9.6 .5 1 .5-4.2 .5 6.6 .5-8 .5-6.3 .5 5.8 .5-4.4 .5-4 .5 .1 .5 16.6 .5-13.2 .5 2.4 .5-2.9 .5 3.7 .5-1.8 .5-.7 .5-3.7 .5-1 .5 3.1 .5 4.8 .5 8.2 .5-4.7 .5 3.5 .5-6.1 .5-2.6 .5-5.7 .5 6.1 .5-9.9 .5 8.5 .5 8.9 .5-6 .5 3.7 .5-7 .5-4.5 .5 4.1 .5 .4 .5 7.3 .5 3.6 .5-12.5 .5 1.8 .5-2.3 .5-4.9 .5-4.9 .5 6.1 .5 1.3 .5 .1 .5-7.3 .5 5 .5-7.5 .5 12.2 .5-8.9 .5 3.5 .5-.8 .5-.7 .5-2.1 .5-3.3 .5 16.1 .5-6.8 .5 .1 .5 8.4 .5-10.1 .5 3 .5-2.5 .5 5.4 .5-3.2 .5-.8 .5-2.6 .5 2.4 .5 4.1 .5-14.9 .5 9 .5-1.4 .5 .6 .5-7.7 .5 12.4 .5-7.2 .5 2.8 .5-1.3 .5-5.3 .5 5.6 .5-6.4 .5 4.1 .5 2.9 .5 1.4 .5 .3 .5-.9 .5 10.5 .5-7.8 .5-7.7 .5 2.8 .5-.2 .5 2.2 .5-1.9 .5-1.2 .5 11.5 .5-7.3 .5-1.8 .5 .4 .5 .2 .5 7.4 .5-4.2 .5 2.9 .5-19.5 .5 15.9 .5 3.3 .5 4.2 .5-8.9 .5-8 .5 10.6 .5-5.5 .5-5.5 .5 5.4 .5 7.7 .5 .7 .5-2.2 .5-8.2 .5 16.4 .5-16.9 .5 5 .5-6.3 .5 12.7 .5-4 .5 2.1 .5-3.7 .5-.7 .5 1.1 .5-9.5 .5 13.3 .5-.4 .5-6 .5 1.7 .5 1.5 .5 5.8 .5-5.2 .5-1.8 .5-2.6 .5-2.9 .5 6.2 .5 5 .5 .5 .5 1.9 .5 3.1 .5-1.4 .5-.7 .5 1.7 .5-2.1 .5-1 .5 2.3 .5-10.1 .5 13.7 .5-11.7 .5 9.8 .5-3.8 .5 5 .5-4.9 .5-4.5 .5 9.3 .5-4.1 .5-.3 .5-.2 .5 4.2 .5-.8 .5-2.7 .5-8.2 .5 5.3 .5 2.3 .5 7.8 .5-6.5 .5-2.2 .5 5.9 .5-6 .5 .4 .5 .9 .5-7.6 .5 11.3 .5-2.5 .5-3.3 .5-3.9 .5 6.2 .5 5.5 .5-9.4 .5-1.9 .5 6.8 .5-9.3 .5-2.9 .5 8.2 .5-1.1 .5 1.9 .5-1.3 .5 4.1 .5-2.6 .5-1.7 .5 .7 .5 5 .5 1.5 .5-.3 .5-.9 .5-18.4 .5 10.6 .5 3.1 .5 2.4 .5-8.4 .5 14 .5-5.1 .5-4.3 .5 3.6 .5-2.3 .5-1.9 .5 5.8 .5-4.4 .5-4.4 .5 3.6 .5 2.4 .5-4.5 .5 10.8 .5-10.8 .5 13.1 .5-4 .5-8.4 .5 4.9 .5 4.8 .5-6.3 .5-4.6 .5 6 .5 8.6 .5-16 .5 9.4 .5-2.5 .5-.5" fill="none" stroke="#000" stroke-width="1.9" stroke-linejoin="round" />
<path d="M607.4 138.5l.5 .3 .5 6.3 .5-2 .5-7.4 .5 11.8 .5-13.2 .5 9.1 .5-2.2 .5 4.6 .5-3.8 .5 3.2 .5-5 .5 4.6 .5-2.9 .5 8.3 .5-13.1 .5 8.7 .5-3.3 .5-1.4 .5-3.4 .5 4.7 .5-8.8 .5 .4 .5 9.6 .5-10.4 .5 13.7 .5-7.8 .5 2.4 .5-.8 .5 1.6 .5-3.2 .5-.4 .5 1.1 .5 5.4 .5 .4 .5 .6 .5-4.2 .5-2.6 .5-6.8 .5 10.7 .5 .9 .5-5.7 .5 5.6 .5 2.2 .5-5.5 .5 4.4 .5-3.4 .5-9.4 .5 5.8 .5 3.7 .5 8.5 .5-2.1 .5 6.2 .5-1.6 .5 4.3 .5 .5 .5 4.1 .5-.8 .5-2.9 .5 .4 .5-.6 .5 0 .5 6.6 .5-18.6 .5 10.6 .5 2.3 .5 3.8 .5-10.3 .5 6.6 .5 2.4 .5-6 .5-6.7 .5 7.1 .5-3.9 .5 8.5 .5-6.9 .5 12.1 .5-7.5 .5-4.4 .5 1.4 .5-2.7 .5 6.8 .5 5.1 .5-7.8 .5 5.2 .5-8.6 .5 5.8 .5 9.2 .5-17.1 .5 12.1 .5-.2 .5-14.1 .5 2.1 .5 2.1 .5 8.9 .5-6.4 .5 1.2 .5 4 .5-2.7 .5 .5 .5-2.5 .5 6.6 .5-8.7 .5 11.3 .5-9.3 .5-2.1 .5 6.6 .5-.9 .5-11.2 .5 10.2 .5-7.3 .5 2.4 .5 7.5 .5-7.6 .5 5.6 .5-3.4 .5 10.6 .5-9.3 .5-5 .5 .4 .5 .9 .5 4.7 .5-.6 .5 4.5 .5-3.7 .5-.2 .5 .9 .5-2.1 .5 2 .5 2.2 .5 0 .5-6.1 .5-5.6 .5 4.4 .5 5 .5-12.7 .5 9.2 .5 4.3 .5-4.7 .5-2.6 .5 13.3 .5-1.7 .5-7.6 .5 7.3 .5-.1 .5-14.6 .5 13.3 .5-20.9 .5-1.2 .5-4.7 .5 5.4 .5-6.4 .5 6 .5 5 .5-4 .5-2.2 .5 8.4 .5-11.3 .5 8.6 .5-5.8 .5 2.3 .5-.8 .5 .4 .5-.8 .5-3.4 .5 1 .5 4.7 .5-2.6 .5-4.8 .5 2.1 .5 0 .5 3 .5 1 .5-.4 .5-3.4 .5 3.1 .5-6.4 .5-7 .5 13 .5-7.3 .5 3.2 .5-1.2 .5 8.5 .5-8.5 .5 6.8 .5-3.5 .5-3.4 .5-1.6 .5 9.4 .5-.4 .5 1.8 .5 4.8 .5-7.1 .5 0 .5-1.9 .5 1.1 .5-2.1 .5-2.5 .5 13.3 .5-17.8 .5 9.8 .5 .8 .5-1.3 .5-5.2 .5 3.6 .5-1.3 .5-2.8 .5 4.7 .5-1.6 .5-.7 .5 5.7 .5-8 .5 6.8 .5-4.8 .5 4.8 .5-1.7 .5 .8 .5-5.6 .5 .9 .5-.3 .5 4.7 .5 2.6 .5 1.5 .5-7.2 .5 2.7 .5-7.9 .5-2.7 .5 6.2 .5 .9 .5-4.1 .5-1 .5 10.6 .5-6.1 .5-4.1 .5 18.4 .5-9.9 .5-2.2 .5 4.5" fill="none" stroke="#000" stroke-width="1.9" stroke-linejoin="round" />
<path d="M607.4 134.9l.5 3.5 .5-2.1 .5 4.7 .5 6.2 .5-3.6 .5-7.8 .5 3.4 .5 6.1 .5-7.2 .5 2 .5 1.9 .5-9.8 .5 12 .5-2 .5 1 .5-7.1 .5 1 .5 .7 .5 3.9 .5-.8 .5 .3 .5 7.6 .5-2.2 .5-9.3 .5 .3 .5 10.9 .5-9.4 .5 7.8 .5 1 .5-9.8 .5 1.3 .5 1.6 .5-4.4 .5-.5 .5 2.6 .5 5.8 .5-6 .5 1.1 .5-1.1 .5-4.2 .5 13.1 .5-17.6 .5 7.8 .5 5.6 .5-9 .5 9.2 .5 3 .5-9.8 .5 5 .5-1.1 .5 13.7 .5 4.3 .5 6.8 .5 6.9 .5-3.7 .5 4.4 .5-2.8 .5-8 .5 7.1 .5 1.5 .5-8.5 .5 13.2 .5-5.4 .5 1.8 .5-5.4 .5 4.5 .5 1.1 .5-2.9 .5 1.9 .5-10.2 .5 16.1 .5-11.4 .5-5 .5 5.7 .5 .5 .5 6.4 .5-6.7 .5 5.5 .5-5.7 .5 14.5 .5-7.6 .5 6.5 .5-13.7 .5 7.7 .5-7.4 .5 7 .5 .5 .5-10.5 .5 2.2 .5-.2 .5-1.5 .5 3.5 .5-1 .5-2.3 .5 7.1 .5 2.1 .5-8.6 .5 3.5 .5 2.6 .5-1.1 .5-2.2 .5 7 .5 .2 .5-.8 .5-4.1 .5 10.1 .5-1.1 .5-9.9 .5 1.3 .5 6 .5-9.1 .5 5.5 .5-1.6 .5-3.5 .5 2.2 .5-6.2 .5 4.7 .5-6.6 .5 19.6 .5-3.5 .5-1.3 .5-4.3 .5 3.2 .5 1.3 .5-1.2 .5-.4 .5-8.5 .5 6.2 .5-4.4 .5-3 .5 .2 .5 7.2 .5 2.9 .5-11.2 .5 14.4 .5-1.3 .5-8.5 .5-.4 .5 1.8 .5 4.8 .5-6.2 .5-3.4 .5 6.7 .5-11.1 .5 10.2 .5 1.3 .5-8.1 .5-2 .5-5.5 .5-3 .5-6.9 .5-5.6 .5 2.4 .5 .4 .5 5.7 .5 1.4 .5-5.9 .5-5.8 .5-.2 .5 2.1 .5 6.9 .5-5.2 .5-2.2 .5-3.6 .5 7.2 .5-2.8 .5-1.5 .5 .7 .5 7.3 .5-8.5 .5 8.5 .5-2.1 .5-5.5 .5 3.9 .5-4.7 .5-3.2 .5 2.6 .5-3 .5 6.6 .5-2.3 .5 2.5 .5 1.2 .5-18.2 .5 15.8 .5-9.7 .5 9.1 .5-4.8 .5 4.5 .5 5.8 .5-14.2 .5 8.8 .5-1.3 .5-8.3 .5 11.7 .5-2.8 .5-2.5 .5-1 .5 18.1 .5-16.6 .5-6.5 .5 4 .5 2.6 .5-.1 .5 1.4 .5-4.4 .5 7.3 .5-4.7 .5-4.1 .5 2.5 .5 2 .5 5.7 .5-1.7 .5-3.8 .5 1.7 .5 .9 .5 8.4 .5-12.2 .5 4.9 .5 1.2 .5-7.7 .5 5.3 .5-.1 .5-3 .5 4.8 .5 2.1 .5 .5 .5-6.1 .5 1.8 .5 9.9 .5-15.9 .5 6.1 .5 3.1 .5-3.4 .5 2.3 .5-2.2 .5 2.7 .5 2.4 .5-6.9" fill="none" stroke="#c04040" stroke-width="1.71" stroke-linejoin="round" />
<path d="M607.4 134.4l.5 3.5 .5-2.1 .5 4.7 .5 6.2 .5-3.6 .5-7.8 .5 3.4 .5 6.1 .5-7.2 .5 2 .5 1.9 .5-9.8 .5 12 .5-2 .5 1 .5-7.1 .5 1 .5 .7 .5 3.9 .5-.8 .5 .3 .5 7.6 .5-2.2 .5-9.3 .5 .3 .5 10.9 .5-9.4 .5 7.8 .5 1 .5-9.8 .5 1.3 .5 1.6 .5-4.4 .5-.5 .5 2.6 .5 5.8 .5-6 .5 1.1 .5-1.1 .5-4.2 .5 13.1 .5-17.6 .5 7.8 .5 5.6 .5-9 .5 9.2 .5 3 .5-9.8 .5 5 .5-1.1 .5 13.7 .5 4.3 .5 6.8 .5 6.9 .5-3.7 .5 4.4 .5-2.8 .5-8 .5 7.1 .5 1.5 .5-8.5 .5 13.2 .5-5.4 .5 1.8 .5-5.4 .5 4.5 .5 1.1 .5-2.9 .5 1.9 .5-10.2 .5 16.1 .5-11.4 .5-5 .5 5.7 .5 .5 .5 6.4 .5-6.7 .5 5.5 .5-5.7 .5 14.5 .5-7.6 .5 6.5 .5-13.7 .5 7.7 .5-7.4 .5 7 .5 .5 .5-10.5 .5 2.2 .5-.2 .5-1.5 .5 3.5 .5-1 .5-2.3 .5 7.1 .5 2.1 .5-8.6 .5 3.5 .5 2.6 .5-1.1 .5-2.2 .5 7 .5 .2 .5-.8 .5-4.1 .5 10.1 .5-1.1 .5-9.9 .5 1.3 .5 6 .5-9.1 .5 5.5 .5-1.6 .5-3.5 .5 2.2 .5-6.2 .5 4.7 .5-6.6 .5 19.6 .5-3.5 .5-1.3 .5-4.3 .5 3.2 .5 1.3 .5-1.2 .5-.4 .5-8.5 .5 6.2 .5-4.4 .5-3 .5 .2 .5 7.2 .5 2.9 .5-11.2 .5 14.4 .5-1.3 .5-8.5 .5-.4 .5 1.8 .5 4.8 .5-6.2 .5-3.4 .5 6.7 .5-11.1 .5 10.2 .5 1.3 .5-8.1 .5-2 .5-5.5 .5-3 .5-6.9 .5-5.6 .5 2.4 .5 .4 .5 5.7 .5 1.4 .5-5.9 .5-5.8 .5-.2 .5 2.1 .5 6.9 .5-5.2 .5-2.2 .5-3.6 .5 7.2 .5-2.8 .5-1.5 .5 .7 .5 7.3 .5-8.5 .5 8.5 .5-2.1 .5-5.5 .5 3.9 .5-4.7 .5-3.2 .5 2.6 .5-3 .5 6.6 .5-2.3 .5 2.5 .5 1.2 .5-18.2 .5 15.8 .5-9.7 .5 9.1 .5-4.8 .5 4.5 .5 5.8 .5-14.2 .5 8.8 .5-1.3 .5-8.3 .5 11.7 .5-2.8 .5-2.5 .5-1 .5 18.1 .5-16.6 .5-6.5 .5 4 .5 2.6 .5-.1 .5 1.4 .5-4.4 .5 7.3 .5-4.7 .5-4.1 .5 2.5 .5 2 .5 5.7 .5-1.7 .5-3.8 .5 1.7 .5 .9 .5 8.4 .5-12.2 .5 4.9 .5 1.2 .5-7.7 .5 5.3 .5-.1 .5-3 .5 4.8 .5 2.1 .5 .5 .5-6.1 .5 1.8 .5 9.9 .5-15.9 .5 6.1 .5 3.1 .5-3.4 .5 2.3 .5-2.2 .5 2.7 .5 2.4 .5-6.9" fill="none" stroke="#0aae0a" stroke-width="1.9" stroke-linejoin="round" />
<path d="M84.8 285.7l.5-1.4 .5-7.8 .5 3.1 .5 2.2 .5-7 .5 9.7 .5-4 .5 1.1 .5 .7 .5 6.3 .5-7.6 .5-1.7 .5 9 .5-9.6 .5-.1 .5-3.6 .5 10.5 .5-3.5 .5 .9 .5-1.3 .5-1.3 .5-2.8 .5 0 .5 5.2 .5-1.3 .5 6.4 .5-10.2 .5 1.2 .5-2.3 .5 10.2 .5-11.1 .5 8.6 .5 2.8 .5-6.7 .5 3.7 .5-12.2 .5 7.4 .5-5.4 .5 7.8 .5-.7 .5-3.3 .5 7.3 .5-2.5 .5-3.7 .5 0 .5-4.1 .5 4.7 .5 8.5 .5-13.3 .5 3.5 .5-5.4 .5 4.4 .5-2.8 .5-4.2 .5-7.9 .5 4.1 .5 6.6 .5-6.4 .5 3.4 .5-5 .5-6.2 .5 9.4 .5-.7 .5-4.1 .5 .5 .5 2.5 .5-4 .5 3.7 .5-2.7 .5-9.4 .5 9.1 .5-2.2 .5-1.3 .5 4.9 .5-4.1 .5 4.1 .5 2.1 .5-4.4 .5-7.5 .5 3.2 .5 6.7 .5-5.3 .5-2.6 .5 2.7 .5 2.3 .5-1.4 .5 1.4 .5-6.6 .5 2 .5-.3 .5 .7 .5-9.2 .5 7.6 .5-5 .5 11.3 .5 .3 .5 .2 .5-4 .5-5.8 .5 5.8 .5-5.3 .5 3.1 .5-6.8 .5 1.1 .5 4.1 .5 5.3 .5-7.9 .5 9.4 .5 1.9 .5-17.5 .5 5.1 .5-4.2 .5 3.2 .5-2 .5 1.8 .5 4.1 .5-.4 .5-3.2 .5-1.3 .5 .2 .5-.3 .5 1.7 .5-2.7 .5 1.8 .5-8 .5 8.7 .5 4 .5-6.5 .5-6.6 .5 11.8 .5-7 .5-11.2 .5 11.9 .5 3.7 .5-.9 .5 3.8 .5-2.5 .5-2 .5-8.8 .5 3.8 .5 5.6 .5 2.3 .5-6.6 .5 2.9 .5 5.7 .5-9 .5 .9 .5 8.4 .5 3.2 .5-2 .5-6.7 .5 11 .5-4.5 .5 9.9 .5-1.8 .5 2.9 .5 3 .5-3.6 .5 7.2 .5 3.2 .5-2.2 .5 5.3 .5-7.3 .5 7.1 .5-2.1 .5-4.7 .5 4.5 .5-1.3 .5 .5 .5 3.4 .5 4.4 .5-5.9 .5 1.9 .5-6.8 .5 6.7 .5 4.5 .5-1.5 .5-1.4 .5-4.3 .5-1.9 .5 3.8 .5-5.3 .5 .4 .5 9.3 .5-8 .5 11.6 .5-13.7 .5 7.9 .5-6.8 .5 5.7 .5-5.2 .5 4.6 .5-.8 .5-1.3 .5 4.1 .5 4.3 .5-9 .5 6.3 .5-3.4 .5-.5 .5 9.5 .5-18.6 .5 6.4 .5-4.9 .5 6.4 .5 .4 .5 17.2 .5-14.8 .5 6.2 .5-2.1 .5-7.4 .5 3.9 .5 5.1 .5-6.4 .5 .1 .5 1.3 .5-8.6 .5 3 .5 4.9 .5 .9 .5-6.3 .5 2.6 .5 .8 .5-.1 .5 3.6 .5-2.5 .5 .3 .5-6.8 .5 1.6 .5 5.8 .5-8.2 .5 8 .5-4 .5-.6 .5 6.2 .5-5.6 .5-.8 .5 .8 .5 3.1 .5 11.4" fill="none" stroke="#000" stroke-width="1.9" stroke-linejoin="round" />
<path d="M84.8 271.9l.5 8.9 .5-.9 .5 5.1 .5-5.7 .5-8.9 .5 16.2 .5-10.3 .5 4.4 .5-5.6 .5 1.1 .5 2.6 .5 5.8 .5-.1 .5-6.1 .5 4.6 .5-3.7 .5 2.1 .5 .2 .5 1.9 .5-5.2 .5 2 .5 1.5 .5-.5 .5-3.8 .5 10.7 .5-9.3 .5 5.2 .5-2.3 .5 4.3 .5-14.5 .5 18 .5-9.6 .5-4.4 .5 5.8 .5 9.1 .5-7.5 .5-7.4 .5 3.3 .5 7.7 .5-11.7 .5 5.2 .5-.5 .5 10.5 .5-10.5 .5 6.9 .5-8.5 .5-1.3 .5 6.5 .5-2.8 .5-11.2 .5 8.9 .5-1.2 .5-6.6 .5 2.4 .5-1 .5-4.4 .5-1.1 .5-.6 .5 1.4 .5-4.8 .5 5.3 .5-6.5 .5 6.4 .5-.9 .5-4.4 .5 7.8 .5 4.4 .5-2.9 .5-11.7 .5 11 .5-4.8 .5-1.4 .5-2.6 .5 2.2 .5 5.7 .5-3.8 .5-4.4 .5-1.4 .5 .9 .5 4 .5 5.2 .5-12.8 .5 4.3 .5-1.9 .5-1.9 .5 4.7 .5 .4 .5-8.7 .5 1.4 .5 9.2 .5-3.9 .5 .6 .5-4.6 .5 .2 .5 3.4 .5-4.4 .5-2.8 .5 4.5 .5 3.6 .5-8.5 .5 8.6 .5-1.8 .5-6.9 .5 3.5 .5-.5 .5 2.7 .5-.2 .5-8.6 .5-.4 .5 9.8 .5-4.1 .5 1 .5-.7 .5 4.8 .5-12 .5 9.5 .5-8.4 .5 6.3 .5 2.3 .5-11.9 .5 7.3 .5-3.2 .5-.4 .5 1.2 .5-5 .5 .1 .5 6.6 .5 .5 .5-6.3 .5-4.1 .5 16 .5-5.1 .5-3.1 .5-5.8 .5 2 .5 3.6 .5-5.1 .5 11 .5-6.1 .5 1.1 .5-5.9 .5 .6 .5 1.2 .5 5.7 .5-1.1 .5 1.1 .5 3.8 .5 .8 .5 6.6 .5-6 .5-2.2 .5 5.4 .5 7.6 .5-7.2 .5 4 .5-.3 .5 4.6 .5 .8 .5-3.1 .5 3.8 .5 6.4 .5 2 .5-.1 .5-.2 .5-5 .5-.1 .5 5.5 .5-8.8 .5 4.8 .5-7.6 .5 6.3 .5-1.3 .5-2.1 .5 7.6 .5-5.5 .5 1.6 .5 .5 .5-2 .5 9.2 .5-8 .5 2.9 .5-6.3 .5 3.6 .5 .7 .5 .1 .5-1.1 .5 3.1 .5 6.1 .5-7.1 .5 0 .5-1 .5 12.4 .5-3.9 .5-4.4 .5 .7 .5-5.9 .5 2.4 .5 1.6 .5-.4 .5-4 .5 .4 .5 5.5 .5-.8 .5-10.2 .5 9.3 .5 5.1 .5-8.1 .5 3.8 .5-7.1 .5 9.7 .5-8.1 .5-.6 .5 4 .5 11.4 .5-12.5 .5-2.7 .5 7.3 .5-.9 .5 6.1 .5-12.3 .5-1.3 .5 5.4 .5 3 .5-.1 .5 3.2 .5-10.9 .5 2.9 .5 3 .5 4.1 .5-1.5 .5-3.7 .5-2.5 .5 8.1 .5 .3 .5 7.5 .5-12.1 .5 7.6 .5-11.9 .5 2.9 .5-.5" fill="none" stroke="#000" stroke-width="1.9" stroke-linejoin="round" />
<path d="M84.8 278.9l.5-1.7 .5 1.4 .5 2 .5-1.6 .5 4.7 .5-3.2 .5 .4 .5 6.2 .5-4.9 .5-.7 .5-.7 .5 .3 .5 2.2 .5-5.8 .5 8.2 .5 1.8 .5-1.8 .5-6.9 .5-4.6 .5 4.8 .5 2.5 .5 2.9 .5-4.3 .5-.5 .5 7.7 .5-9.2 .5 7.3 .5-.7 .5-9.4 .5 6.7 .5-3.5 .5-1.6 .5-3.8 .5 1.2 .5 8.3 .5-3.4 .5 2.8 .5-5.6 .5 3.1 .5 .2 .5-5.3 .5-.5 .5 8.8 .5-1.2 .5-4.6 .5 3.5 .5 2.4 .5 3.4 .5-13 .5 4.9 .5 4.8 .5-10.1 .5 4.4 .5-18.6 .5 15.5 .5-7.7 .5-8.4 .5 11.1 .5 1.1 .5 .7 .5-.1 .5-5.2 .5-3 .5 1.2 .5 1.7 .5 1.9 .5-3.8 .5 2.2 .5 3.5 .5-2.4 .5 8.3 .5-.6 .5-13.9 .5 2.4 .5-3.2 .5 .6 .5 7.2 .5-6.5 .5-.2 .5 3.2 .5 4.5 .5-4.9 .5 0 .5 5.3 .5-1.9 .5-.1 .5 2.1 .5-8.3 .5 5.2 .5-3.6 .5 6.9 .5-.9 .5-7.8 .5 10 .5-10.6 .5 9.8 .5-4.1 .5-4.5 .5-1.1 .5 3.4 .5 1.2 .5-2.9 .5 5.3 .5-8.3 .5 5.9 .5 0 .5-8 .5 9.2 .5-6.6 .5-5.3 .5 8 .5 1.6 .5 4.7 .5-5.9 .5 8.3 .5-.2 .5-1.4 .5 .9 .5-4.1 .5-3.9 .5 5.1 .5 1.3 .5-3.1 .5-2.1 .5-5.6 .5 9.5 .5-1.4 .5-7 .5 5.9 .5 2.6 .5-3.6 .5 3.8 .5-.1 .5-9.5 .5 4.9 .5 3.4 .5 1.8 .5 2 .5-14.1 .5 7.8 .5 3.3 .5 2.2 .5 1.9 .5-11.1 .5 2.3 .5-2.9 .5 8.5 .5-8 .5 11.6 .5-.1 .5-.9 .5-10.2 .5 7.3 .5 7 .5-8.3 .5 5.7 .5 1.2 .5 5 .5-1.9 .5 .7 .5-2.4 .5 2.6 .5 .1 .5 4.4 .5-3.6 .5 5.2 .5-11.6 .5 12.3 .5-5.9 .5 5.6 .5-4.5 .5 3.3 .5 2.7 .5-8.7 .5 2.7 .5-1.1 .5 1.6 .5-7.7 .5 6.1 .5-.3 .5-2.3 .5 2.5 .5-5.7 .5 12.5 .5-4 .5 6.1 .5-11.8 .5-1.2 .5 6.2 .5-8.3 .5 8 .5-3.9 .5 1.5 .5 2.5 .5-.8 .5 7.7 .5-5.3 .5-8.1 .5 9.6 .5-9.8 .5 6 .5-5.6 .5 1.7 .5 9.1 .5-7.9 .5-.4 .5 .4 .5 1 .5 7.5 .5-11.2 .5-.2 .5 7.7 .5-9.2 .5 5.2 .5 6.3 .5-4.8 .5-2 .5-1 .5-.9 .5 1.4 .5 3.1 .5 4.7 .5-1.2 .5-6.5 .5-.7 .5 6.1 .5-10.7 .5 5.8 .5 .5 .5-3.3 .5 .5 .5 5.7 .5-8.5 .5 3.1 .5 1.1 .5 3.1 .5-6.1 .5 10.4 .5-5.9 .5 .2" fill="none" stroke="#000" stroke-width="1.9" stroke-linejoin="round" />
<path d="M84.8 280.2l.5-1.3 .5-1.3 .5 9 .5-4 .5-1.3 .5 4.7 .5-7.3 .5 5.7 .5-2.6 .5-3.8 .5 6.9 .5-9.5 .5 9.1 .5-6.5 .5 5.4 .5 4.2 .5-3.5 .5-5 .5 2.5 .5-1.5 .5-3.4 .5 .3 .5 4.9 .5 2.1 .5-9.8 .5 7.2 .5 2.4 .5-1.7 .5-4.7 .5 8.6 .5-9.5 .5 7.9 .5 4 .5-15.4 .5 9.7 .5 .3 .5-.4 .5-4.2 .5 1.9 .5-4.6 .5 6.5 .5 1.7 .5-5.1 .5-1.1 .5 1.9 .5 2 .5-.1 .5-1.3 .5 .1 .5-6.5 .5-6.6 .5 13.5 .5 2.8 .5-12.6 .5 2.9 .5 4.1 .5 2.7 .5-1.3 .5 2.7 .5-5.6 .5 1.9 .5 0 .5-3.5 .5 6.9 .5-2.5 .5 1.5 .5-5.8 .5 6 .5-8.8 .5 6.1 .5-12.6 .5 6.7 .5 7.4 .5-5 .5 2.6 .5-7.6 .5 13.4 .5-4 .5-2.6 .5 1.8 .5-.3 .5 4.5 .5-5 .5-7.1 .5 5.1 .5 6.5 .5-3 .5-4.2 .5 4.3 .5-2 .5 2 .5-9.2 .5 2.9 .5 6.6 .5-3.8 .5 2.5 .5 6.7 .5-9.5 .5 2.3 .5-3.4 .5-.3 .5 2.4 .5-5.8 .5-2.8 .5 14.6 .5-6.2 .5 5.2 .5-4.2 .5 .1 .5 2.2 .5 .2 .5-8.1 .5 10.1 .5-9.1 .5 4.9 .5 9.9 .5-10.4 .5 6.7 .5-8.5 .5 4.1 .5-2.4 .5 1.5 .5-5.3 .5-.3 .5 5.3 .5-8 .5 3 .5 6.3 .5-5.3 .5-1.2 .5-.9 .5 5.3 .5-2.2 .5 2.2 .5-1.4 .5 8.5 .5-9.6 .5-6.3 .5 8.7 .5-.5 .5 .6 .5-7.4 .5 11.5 .5-4.9 .5 0 .5-6.5 .5 8.8 .5-2.1 .5 6.2 .5-7.2 .5-3.2 .5 5.9 .5-4.1 .5 5.7 .5-6 .5 4.2 .5-.2 .5 1 .5-1.8 .5-1 .5 3.2 .5-2.1 .5 3 .5-1.8 .5-8.2 .5 9.1 .5 6.1 .5-4.6 .5 1.3 .5-.6 .5-3.9 .5-3.6 .5 9 .5 1 .5-2.1 .5-.6 .5-.1 .5-1.7 .5 1.2 .5-1.1 .5 1.3 .5-5.3 .5 1.4 .5 4.9 .5-3.7 .5-8.7 .5 10.6 .5-10 .5 17.4 .5-4.9 .5-.2 .5-5.6 .5-1.9 .5 3.8 .5 1 .5-3.3 .5 3.8 .5 2.2 .5-.3 .5-6.8 .5-4.7 .5 9 .5-2.7 .5 4.5 .5 5 .5 0 .5-5.6 .5 3.4 .5 2.2 .5-6.6 .5 .9 .5 2.4 .5-3.6 .5-1.9 .5-1.1 .5 3.2 .5-2.6 .5 5.8 .5-4.6 .5 7.4 .5-1.1 .5-10.1 .5 9.6 .5-6.1 .5 7.3 .5-3.5 .5-2.3 .5 2.9 .5-5 .5 3.6 .5 .2 .5-2.1 .5 2.2 .5-5.7 .5 6.4 .5-7.3 .5 7.5 .5-.6 .5 1 .5-5.2" fill="none" stroke="#000" stroke-width="1.9" stroke-linejoin="round" />
<path d="M84.8 294.1l.5-13.3 .5 1.5 .5-3.7 .5 9 .5-7.8 .5 6 .5-7.9 .5 5.1 .5-2.8 .5 5.3 .5-4.9 .5-2.4 .5 5.4 .5-6.7 .5 .9 .5 7.1 .5-10.8 .5 10.8 .5-4.8 .5-2.1 .5 4.8 .5 1.6 .5-5 .5 1.7 .5 4 .5-.2 .5-3.3 .5-2.9 .5-.8 .5 1.5 .5 5.2 .5-.4 .5-1.1 .5 4.4 .5-6.9 .5-.3 .5 0 .5 9.3 .5-16.1 .5 9.5 .5 .7 .5-1.6 .5 9.2 .5-4.7 .5-1.6 .5-6.8 .5 6 .5-2.9 .5 2.2 .5 1.2 .5-2.1 .5 5.1 .5 4.6 .5-1.9 .5-2.7 .5-8.1 .5 12.8 .5 .5 .5-4.6 .5-.5 .5 4.8 .5-5.9 .5 6.5 .5-7.6 .5 .7 .5 3.8 .5-6 .5 5.9 .5 2.2 .5-7.5 .5 9.1 .5-6 .5 4.5 .5-1.3 .5-2.7 .5-.3 .5-4.7 .5 4 .5-.2 .5 9.7 .5-2.5 .5-9.6 .5 8.8 .5-2.4 .5-2.4 .5 3.4 .5 1.4 .5-5.5 .5 1.2 .5 1.8 .5-4.6 .5 4.7 .5-1.1 .5-2.4 .5-.6 .5 4.6 .5 2.3 .5-2.1 .5-4.8 .5 6.5 .5-2.4 .5 1.8 .5 2.3 .5-8.3 .5 3 .5-1.8 .5-1.1 .5 11.6 .5-4.3 .5-10.8 .5 8.8 .5-3.9 .5 6.8 .5-4.3 .5-1 .5 1.3 .5 1 .5-1.4 .5-1 .5 .3 .5 2.7 .5-6.6 .5 4.5 .5-.4 .5-1.5 .5 4.9 .5-8.1 .5 3.7 .5-1.9 .5 5.6 .5-4.1 .5 2.1 .5 1.4 .5-8 .5 8.3 .5-4.8 .5 2 .5 .5 .5 3.8 .5-.3 .5 4.1 .5-6.3 .5-2.7 .5 0 .5 4.6 .5 3.8 .5-5.3 .5-4.2 .5 2.9 .5-.6 .5-1.4 .5-3.6 .5-7.7 .5 7.5 .5 5.9 .5-3.8 .5-10.3 .5 8.4 .5-7.9 .5 14.9 .5-7.5 .5-5.6 .5 8 .5-6.3 .5 5.3 .5-2.2 .5-4.8 .5 7.4 .5-8.1 .5 10.7 .5-5.1 .5-4.4 .5-3.2 .5 13.7 .5-.6 .5-10.9 .5 11.6 .5-6 .5-1.6 .5 .6 .5-.8 .5 6.8 .5-5.2 .5-8 .5 15.8 .5-4.9 .5-7.9 .5 2.9 .5-2.2 .5 3.7 .5 1.4 .5-.6 .5-3.4 .5-.9 .5 6.6 .5-3.8 .5 9.4 .5-12.3 .5 6.4 .5-3 .5-3.3 .5 8.5 .5-5 .5-4.1 .5 2.3 .5 5.3 .5-9 .5 10.4 .5-2.8 .5-3.9 .5 6.6 .5 1.5 .5-4.6 .5-1.8 .5 6.8 .5-1.5 .5-9.7 .5 2.8 .5 0 .5-.8 .5-4.4 .5 9.6 .5-3.3 .5 0 .5 5.3 .5-8 .5 2 .5 1.3 .5-2.9 .5 1.3 .5 3.5 .5-3.1 .5 5.4 .5-8.5 .5 3.8 .5-6.5 .5 5.2 .5-2.4 .5 8.3 .5-2.5" fill="none" stroke="#000" stroke-width="1.9" stroke-linejoin="round" />
<path d="M84.8 280.2l.5 10 .5-13.4 .5 1 .5 5 .5-2.7 .5 9.4 .5-13 .5 3.8 .5 4.1 .5 1.4 .5 1.9 .5-2.8 .5 7.9 .5-11.5 .5 2.8 .5 2.9 .5-5 .5 .1 .5-.7 .5-.8 .5-2.1 .5 2.5 .5-4.3 .5 8.3 .5-8.5 .5 15.7 .5-1.6 .5-2.5 .5-5.7 .5-1.6 .5 7.8 .5-4.5 .5 1.6 .5-5.5 .5 7.7 .5-8 .5 3.9 .5-7.9 .5 4.6 .5 4.9 .5-4 .5 0 .5 5.3 .5-3.7 .5 5.6 .5-15.7 .5 13.3 .5 .6 .5-7.9 .5 1.9 .5 10.2 .5-7.5 .5 2.7 .5 6.2 .5-3.2 .5 4.3 .5-4.9 .5 5.9 .5 4.2 .5-2.4 .5-10.1 .5 12.7 .5-2.1 .5-3.6 .5 10.3 .5-12.9 .5 16 .5-10.2 .5 9.9 .5-6.4 .5-5 .5 6.6 .5 1.5 .5 1.4 .5 2.7 .5-7.9 .5 6.5 .5 1.5 .5-3.8 .5-2.3 .5 .2 .5 7.4 .5 .3 .5-6.8 .5-2.1 .5 11.2 .5-11.8 .5 7.5 .5-4 .5-4 .5 8.2 .5-1.2 .5 7.1 .5 3.7 .5-10.4 .5 5.3 .5 .2 .5-6.5 .5-1.4 .5 10.8 .5-8.4 .5 1.6 .5-1 .5 .8 .5-1.8 .5 5.9 .5 2.3 .5-6.9 .5-4.1 .5 6.2 .5-6.5 .5 3.6 .5 8 .5 4.7 .5-8.3 .5-6.2 .5 7.9 .5-13 .5 6.7 .5 9.5 .5-3.4 .5-9 .5-1.3 .5 10.8 .5-3.8 .5-2.4 .5 4.3 .5-4.2 .5-5.8 .5 11.7 .5-6.2 .5-1.5 .5-1.4 .5 6.7 .5-4.5 .5 6.1 .5-3.8 .5 5.8 .5-6.3 .5-1.1 .5-5.7 .5 3.8 .5 7.7 .5 10 .5-18.4 .5 .9 .5 5.4 .5-.3 .5-5.8 .5 2.3 .5-8 .5 4.7 .5 4.2 .5 2.3 .5-8.1 .5-.4 .5 3 .5 2.7 .5-2.7 .5-5.3 .5 4.7 .5 2.6 .5-7.3 .5-2.7 .5 7.9 .5-.7 .5 2.5 .5-3.8 .5-3.2 .5 .9 .5-2.6 .5 .3 .5 1.6 .5 .3 .5 6.8 .5-10.1 .5 5 .5-2.3 .5 8.8 .5-5.3 .5-2.8 .5 5.1 .5-3.3 .5-2.3 .5 8.5 .5-3.5 .5 4.3 .5-2.5 .5-1.7 .5-2.8 .5-5.2 .5 7.6 .5-2.8 .5 2.5 .5-2.9 .5-3 .5-1.4 .5 7.3 .5 2.5 .5-6.8 .5 3.1 .5 3.9 .5-9.5 .5 2.1 .5-3.4 .5 9.8 .5-4 .5-3.1 .5-5.2 .5 6.3 .5 4.9 .5-5.5 .5-.6 .5 4.5 .5-8.1 .5 5.5 .5 2.3 .5-6 .5-.2 .5 4.5 .5-1.5 .5-.6 .5 1.8 .5 0 .5-4.9 .5 1.1 .5 4.7 .5 2.8 .5 .9 .5-9.4 .5 8.2 .5-1.4 .5-3.4 .5 2.1 .5 1.4 .5 4.1 .5-12.2 .5 7 .5-3.2 .5-.3" fill="none" stroke="#c04040" stroke-width="1.71" stroke-linejoin="round" />
<path d="M84.8 279.7l.5 10 .5-13.4 .5 1 .5 5 .5-2.7 .5 9.4 .5-13 .5 3.8 .5 4.1 .5 1.4 .5 1.9 .5-2.8 .5 7.9 .5-11.5 .5 2.8 .5 2.9 .5-5 .5 .1 .5-.7 .5-.8 .5-2.1 .5 2.5 .5-4.3 .5 8.3 .5-8.5 .5 15.7 .5-1.6 .5-2.5 .5-5.7 .5-1.6 .5 7.8 .5-4.5 .5 1.6 .5-5.5 .5 7.7 .5-8 .5 3.9 .5-7.9 .5 4.6 .5 4.9 .5-4 .5 0 .5 5.3 .5-3.7 .5 5.6 .5-15.7 .5 13.3 .5 .6 .5-7.9 .5 1.9 .5 10.2 .5-7.5 .5 2.7 .5 6.2 .5-3.2 .5 4.3 .5-4.9 .5 5.9 .5 4.2 .5-2.4 .5-10.1 .5 12.7 .5-2.1 .5-3.6 .5 10.3 .5-12.9 .5 16 .5-10.2 .5 9.9 .5-6.4 .5-5 .5 6.6 .5 1.5 .5 1.4 .5 2.7 .5-7.9 .5 6.5 .5 1.5 .5-3.8 .5-2.3 .5 .2 .5 7.4 .5 .3 .5-6.8 .5-2.1 .5 11.2 .5-11.8 .5 7.5 .5-4 .5-4 .5 8.2 .5-1.2 .5 7.1 .5 3.7 .5-10.4 .5 5.3 .5 .2 .5-6.5 .5-1.4 .5 10.8 .5-8.4 .5 1.6 .5-1 .5 .8 .5-1.8 .5 5.9 .5 2.3 .5-6.9 .5-4.1 .5 6.2 .5-6.5 .5 3.6 .5 8 .5 4.7 .5-8.3 .5-6.2 .5 7.9 .5-13 .5 6.7 .5 9.5 .5-3.4 .5-9 .5-1.3 .5 10.8 .5-3.8 .5-2.4 .5 4.3 .5-4.2 .5-5.8 .5 11.7 .5-6.2 .5-1.5 .5-1.4 .5 6.7 .5-4.5 .5 6.1 .5-3.8 .5 5.8 .5-6.3 .5-1.1 .5-5.7 .5 3.8 .5 7.7 .5 10 .5-18.4 .5 .9 .5 5.4 .5-.3 .5-5.8 .5 2.3 .5-8 .5 4.7 .5 4.2 .5 2.3 .5-8.1 .5-.4 .5 3 .5 2.7 .5-2.7 .5-5.3 .5 4.7 .5 2.6 .5-7.3 .5-2.7 .5 7.9 .5-.7 .5 2.5 .5-3.8 .5-3.2 .5 .9 .5-2.6 .5 .3 .5 1.6 .5 .3 .5 6.8 .5-10.1 .5 5 .5-2.3 .5 8.8 .5-5.3 .5-2.8 .5 5.1 .5-3.3 .5-2.3 .5 8.5 .5-3.5 .5 4.3 .5-2.5 .5-1.7 .5-2.8 .5-5.2 .5 7.6 .5-2.8 .5 2.5 .5-2.9 .5-3 .5-1.4 .5 7.3 .5 2.5 .5-6.8 .5 3.1 .5 3.9 .5-9.5 .5 2.1 .5-3.4 .5 9.8 .5-4 .5-3.1 .5-5.2 .5 6.3 .5 4.9 .5-5.5 .5-.6 .5 4.5 .5-8.1 .5 5.5 .5 2.3 .5-6 .5-.2 .5 4.5 .5-1.5 .5-.6 .5 1.8 .5 0 .5-4.9 .5 1.1 .5 4.7 .5 2.8 .5 .9 .5-9.4 .5 8.2 .5-1.4 .5-3.4 .5 2.1 .5 1.4 .5 4.1 .5-12.2 .5 7 .5-3.2 .5-.3" fill="none" stroke="#0aae0a" stroke-width="1.9" stroke-linejoin="round" />
<path d="M215.7 278.5l.5 1.9 .5 1.4 .5-1.4 .5-1.6 .5-5.3 .5 7.2 .5-.3 .5-1 .5-.1 .5-2.1 .5-1.7 .5 4.6 .5 .6 .5-6.7 .5 5.7 .5-2 .5 1.9 .5-1.8 .5 2.4 .5-.2 .5-.4 .5-6.6 .5 6.4 .5-2.2 .5-3.4 .5 5.3 .5-6 .5 6.5 .5 2.3 .5-6.3 .5 4.1 .5-1.3 .5 .5 .5-5.7 .5 5.6 .5-1.4 .5 1.8 .5-2.1 .5 3.1 .5-2.3 .5 1.1 .5 2 .5-3.4 .5 2.3 .5-2.2 .5 .9 .5-3 .5 3.7 .5-.7 .5-8.8 .5-2.4 .5-6.1 .5-7.5 .5 3.9 .5 2.6 .5-5.5 .5-3.9 .5 5.4 .5-2.6 .5 7 .5-5.8 .5-.2 .5-2 .5 2.3 .5-2.6 .5-1.2 .5 2.1 .5-2.4 .5 5.9 .5-7.3 .5 2.9 .5-1.9 .5-2.2 .5 8.5 .5-11 .5 10 .5-8.4 .5 4.1 .5 6 .5-12.7 .5 1.9 .5 7.5 .5-3.4 .5-2.3 .5 1.3 .5-2.9 .5 2.9 .5 3.7 .5-5.5 .5 1.3 .5 2.8 .5 2 .5-7.5 .5 2.3 .5-2.6 .5-.4 .5 .5 .5-.9 .5-3.3 .5-1 .5 3.4 .5 2.3 .5 2.9 .5-5.2 .5 .8 .5 2.2 .5 0 .5-2.6 .5 0 .5 5.3 .5-6.5 .5-.7 .5-3.4 .5 5.7 .5-2.2 .5 6 .5-6.6 .5 3.1 .5 .1 .5 1.8 .5-8.6 .5 8 .5-4.6 .5-.5 .5-.8 .5-.4 .5-.1 .5-5.8 .5 7.8 .5-1.4 .5-3.1 .5 2.3 .5 6.5 .5-5.6 .5-2.4 .5 5.7 .5-7.3 .5 1.7 .5-1.4 .5 .7 .5 2.6 .5-.6 .5-4 .5 1.6 .5 1 .5 .1 .5 2.6 .5-.4 .5 1.4 .5 3.7 .5-1.6 .5 5.3 .5-.5 .5-.9 .5 2.1 .5 1.6 .5 2.1 .5 2 .5 .3 .5-.6 .5 7.7 .5-.3 .5-1 .5 3.5 .5-.9 .5-1.4 .5 1.2 .5 7.6 .5-4.5 .5 .4 .5-3.8 .5 3 .5 4.9 .5-4.9 .5 2.1 .5 .8 .5-1.5 .5 2.9 .5-3.6 .5 1 .5-2.9 .5 9.5 .5-6.4 .5-.3 .5 3.9 .5-5 .5 1.6 .5-2 .5 2.5 .5-1.2 .5 2.7 .5-1.9 .5-1.3 .5 .9 .5 .5 .5-1.1 .5 4.1 .5-.8 .5-1.4 .5-3.7 .5 4.8 .5-5 .5 4.1 .5-.4 .5-1.8 .5-.6 .5 .4 .5 7.7 .5-6.5 .5 .2 .5 3.3 .5-1.5 .5 1.8 .5-6.4 .5 .4 .5 12.4 .5-9.4 .5-.7 .5 1.3 .5 2.4 .5-6.1 .5 4.1 .5-.8 .5 1.9 .5-1.3 .5-2 .5-.9 .5-4.4 .5 9.6 .5-6.8 .5 3 .5 5.8 .5-5.8 .5 2.9 .5-2.3 .5 2.5 .5-1.8 .5-1.5 .5 5.2" fill="none" stroke="#000" stroke-width="2.0" stroke-linejoin="round" />
<path d="M215.7 276.3l.5-3 .5 2.9 .5 2.4 .5-4.6 .5 5.3 .5-.1 .5 3.8 .5-7.7 .5 3.6 .5-6.5 .5 3.5 .5 1.5 .5 .8 .5-1.3 .5-.1 .5-1.4 .5 .4 .5 2.1 .5 .7 .5 .3 .5 .9 .5 .6 .5-8.3 .5 3.5 .5 1 .5-1.3 .5 4.7 .5-.8 .5-2.4 .5 .6 .5 3.2 .5-4.5 .5 .1 .5 3.4 .5-1.2 .5 2.6 .5-2.9 .5 1.1 .5-3.6 .5-1.1 .5 2.5 .5-7.3 .5 8.5 .5 1.6 .5-2.5 .5-.8 .5 3.6 .5-3.1 .5 1.4 .5-.1 .5-7.6 .5-2.9 .5-3.5 .5-.9 .5-.2 .5-.8 .5 2.6 .5-7.8 .5 3.5 .5 2.4 .5-4.5 .5 1.8 .5-1.8 .5 2.8 .5 1 .5 1.4 .5-2.9 .5-3.7 .5 2.5 .5 .7 .5 2.2 .5-10.1 .5 6.9 .5-6.3 .5 6.9 .5-1 .5 0 .5 .9 .5-1.5 .5-3.1 .5 2.6 .5 2.2 .5-3.8 .5 .2 .5-3.6 .5 6.4 .5-4.8 .5-.8 .5 .6 .5-1.3 .5 1.5 .5 4.1 .5-1.5 .5 1.6 .5 0 .5-6.8 .5 3.6 .5 2.7 .5 2 .5-10.4 .5-.2 .5 5.1 .5-2.4 .5-2 .5 3.6 .5-3.4 .5-4.3 .5 6.1 .5 .2 .5 1.3 .5 .6 .5-2.2 .5-1.4 .5-1.3 .5-2.9 .5 3.1 .5 3.8 .5-1.1 .5 3.7 .5-6.2 .5-4.7 .5 7 .5 .4 .5-6.2 .5-1.5 .5 4.8 .5 1.3 .5-5.2 .5 2 .5-1.4 .5-1.3 .5-.5 .5 3.8 .5-1.6 .5-1 .5-5.5 .5 11.9 .5-7.6 .5 2 .5-2.9 .5 4 .5-5.4 .5 4.3 .5-1 .5 3.5 .5-4.2 .5 2.5 .5 2.5 .5 7.8 .5-8.5 .5 6 .5-1.7 .5 3.6 .5 1.9 .5-.5 .5 1.3 .5 1 .5-1.5 .5 1.9 .5-3 .5 4.5 .5-.2 .5 2.3 .5 3.7 .5-.3 .5 .4 .5 2 .5-9.5 .5 8 .5-1 .5 0 .5-3.2 .5 5.4 .5 1.9 .5-.2 .5-2.8 .5 2.2 .5 1 .5 2.7 .5-1.5 .5-2.8 .5 .1 .5 .4 .5 .4 .5-1.8 .5 3.7 .5-3.8 .5-.1 .5 3.3 .5-2.6 .5 .9 .5-5 .5 7.9 .5-2.2 .5-.3 .5 1.6 .5-.7 .5-2.5 .5 7.5 .5-6.8 .5 3.9 .5 2.4 .5-6.8 .5 2 .5-2.6 .5 5.2 .5-3.8 .5-2.1 .5 6.7 .5-1.2 .5-5 .5 5.8 .5-2.8 .5 7 .5-2.7 .5-6.3 .5 .8 .5-1.7 .5 2.8 .5-.3 .5 1.9 .5-1.8 .5-4.3 .5 1.9 .5 6.1 .5-.7 .5-3.6 .5 0 .5-.1 .5 .6 .5-4.7 .5 7.1 .5-4.3 .5 2.2 .5-7.4 .5 7.6 .5 3.1 .5-9.9 .5 10.4" fill="none" stroke="#000" stroke-width="2.0" stroke-linejoin="round" />
<path d="M215.7 278.3l.5-3.3 .5-2.4 .5 7.6 .5-2.5 .5 .9 .5-2.4 .5-1.4 .5 4.6 .5-5 .5 5.1 .5-7.1 .5 2 .5-1.4 .5 7.6 .5-8.5 .5 1.7 .5 5 .5-1.2 .5 5.5 .5-1 .5-3.4 .5 .2 .5-7 .5 2.7 .5 1.5 .5 .4 .5-3.3 .5 1.2 .5 .3 .5 5.2 .5-1.7 .5-2.1 .5 .1 .5 1.6 .5-2.7 .5 1.2 .5-4.1 .5 6.7 .5 .8 .5-1.7 .5 .3 .5-.3 .5 4.7 .5-5.1 .5-4.3 .5 .8 .5 4.9 .5 1 .5-1.4 .5-1 .5-3.1 .5-5.9 .5 1.4 .5-3 .5 3.9 .5-2.7 .5 4 .5-.7 .5-5 .5 7.4 .5 .1 .5-6 .5 4.3 .5 1.6 .5-2.9 .5 3.2 .5-1.8 .5 2.4 .5-2.5 .5-1 .5 1.9 .5 .8 .5-1.5 .5-2 .5-1 .5 1.2 .5-.6 .5 2.2 .5-.1 .5-.8 .5 .3 .5 .4 .5 3.9 .5-1 .5-5 .5 2.8 .5-2.1 .5 .6 .5-.4 .5-1.1 .5-2.1 .5-3 .5 7.4 .5 2.7 .5-5.8 .5 3.9 .5-2.5 .5 1.8 .5-3 .5 1.6 .5 .3 .5-6.3 .5 7.2 .5-1 .5-6.6 .5 8.8 .5-1.9 .5 .6 .5 .4 .5-2.1 .5-1.9 .5 1.7 .5 .1 .5 7.4 .5-1.1 .5-6.5 .5 .2 .5 2 .5 .7 .5-3.5 .5-.9 .5 8.2 .5-2.5 .5-7.3 .5-.6 .5 2.6 .5 2.9 .5 .9 .5-2.5 .5-3.6 .5 5.2 .5 1.1 .5-1.8 .5-1.4 .5 3 .5-1.7 .5-3.1 .5 3.5 .5-4 .5 6.4 .5-1.4 .5-4.2 .5 3.4 .5 2.9 .5-9.4 .5 6 .5 5.4 .5-8.6 .5 4.2 .5-3.2 .5 4.2 .5-6.2 .5 2.5 .5 3.5 .5 2.2 .5 1.1 .5 .4 .5 2.4 .5-1 .5 .1 .5-4.8 .5 2.3 .5 9.5 .5-2.6 .5-4.1 .5-.2 .5 .7 .5-3.9 .5 6.7 .5-6.6 .5 .8 .5 6.5 .5-12.1 .5 6.9 .5-5.9 .5 3.1 .5 1.6 .5-.8 .5 1.6 .5-2.7 .5 1.9 .5-3.1 .5 2.3 .5-2.8 .5 5.8 .5-5.5 .5 5.6 .5-3.1 .5 .3 .5 4.3 .5-3.1 .5-5.7 .5 6.9 .5-9.7 .5 9 .5-1.9 .5-2.8 .5 4.2 .5-1.1 .5 6.7 .5-7 .5 6.8 .5-1.6 .5-5.7 .5-.6 .5 6.2 .5-4.2 .5 .9 .5-1.2 .5-2.7 .5 2.4 .5-1.7 .5-1.6 .5 3.5 .5 6 .5-.4 .5-4.9 .5 .6 .5 1.1 .5 2.5 .5-3 .5-2.3 .5 .3 .5 4.4 .5 4.2 .5-9.3 .5-4.1 .5 8.3 .5-2.5 .5 .6 .5 3.2 .5-3.4 .5-4 .5-1.8 .5 5.5 .5-3.2 .5 4.2 .5-4.5 .5 2.7" fill="none" stroke="#000" stroke-width="2.0" stroke-linejoin="round" />
<path d="M215.7 272.7l.5 3.2 .5-.3 .5 3 .5 2.2 .5-4.4 .5-2 .5 8.2 .5-4.6 .5 .7 .5 0 .5 2.4 .5-1.3 .5-.9 .5 .2 .5-4.7 .5 .8 .5 1.4 .5 .6 .5-.2 .5 .8 .5-.8 .5-1.3 .5-3.5 .5 7.1 .5-.7 .5-4.2 .5 4 .5-.3 .5-1 .5-5.5 .5 1.8 .5 1.8 .5 6.4 .5-7.2 .5 1.5 .5-2.2 .5 1.8 .5 2.4 .5-7 .5-2.2 .5 10.1 .5-1.8 .5-1.8 .5 4.5 .5 0 .5-8.8 .5 5.5 .5 3.7 .5-4.9 .5 1.5 .5 4.2 .5-3.1 .5-2.1 .5 1.9 .5-1.3 .5 5.9 .5-6.1 .5 8.4 .5-7.1 .5 5.4 .5-3.9 .5 3.8 .5 4.4 .5 .8 .5 .9 .5-3.8 .5 .8 .5 .6 .5 1.3 .5-2.7 .5 4.6 .5-2.1 .5 2.6 .5-1.7 .5 .9 .5-3.9 .5 1.1 .5-2.3 .5 3.1 .5 .6 .5 3.2 .5-5.9 .5 13.3 .5-9.5 .5 4.2 .5-.4 .5-10.1 .5 6.8 .5 5.2 .5-11 .5 9.5 .5-4.7 .5 1.5 .5 2.3 .5-5.9 .5 6.2 .5-2.2 .5-.1 .5 4.5 .5 8.3 .5-8.9 .5 .8 .5-1.5 .5-1.7 .5 3.1 .5 3.8 .5-3.6 .5 2.3 .5-3 .5 8.3 .5-11.8 .5 6.8 .5 .2 .5-.5 .5-3.7 .5 .2 .5 3 .5 1.2 .5-3.5 .5 .8 .5 5 .5 1.7 .5-4.3 .5-.1 .5 .2 .5 9.6 .5-5.4 .5-1.3 .5 3.4 .5 4 .5-2.9 .5-7.2 .5 4.2 .5-.6 .5 .4 .5-2.2 .5 2.7 .5-1.7 .5 4.5 .5-.6 .5-4.2 .5-1.4 .5 3.1 .5 2.8 .5-1 .5-2.1 .5-10 .5 7.3 .5-1.6 .5 .4 .5-3.4 .5 1.4 .5-1.5 .5 9 .5-6.7 .5-3.4 .5-.4 .5-1.1 .5 .4 .5-1.8 .5 1.1 .5 2.9 .5-.6 .5-1.6 .5 2.9 .5-3.3 .5-3.5 .5-2.3 .5 3 .5 1.7 .5 1.3 .5 1.9 .5-4.8 .5-.8 .5 4.5 .5 1.1 .5-4.8 .5 2.3 .5 2.9 .5-3.1 .5-1.2 .5-5.9 .5 9.8 .5-2 .5-1.6 .5-1.8 .5-2.3 .5 3.2 .5 0 .5 3.4 .5-6.7 .5 7.6 .5-4.1 .5 3.3 .5-6.3 .5 3.8 .5 2.5 .5-3.2 .5-4.7 .5 3.3 .5 2.5 .5-5.7 .5-.2 .5 4.9 .5-3.5 .5 4.7 .5-5.4 .5-2 .5 3 .5 6.6 .5-6.9 .5 2.5 .5 .7 .5-3.6 .5 5.9 .5-2.7 .5 .8 .5-6.2 .5-.3 .5-2.9 .5 7.4 .5-.2 .5 2.8 .5 2.1 .5-5 .5-.1 .5 2 .5 3.1 .5-6.9 .5 4.2 .5-2.6 .5-.2 .5 3.3 .5-4.8 .5-.8 .5 5 .5-2 .5-.8 .5 .4" fill="none" stroke="#000" stroke-width="2.0" stroke-linejoin="round" />
<path d="M215.7 279.9l.5 3.6 .5-1.1 .5-1.9 .5-3.9 .5-2 .5 3.8 .5-.9 .5-.8 .5 1 .5-3.7 .5 8.6 .5-7.2 .5 1.3 .5 3.4 .5-6 .5 6.9 .5 .1 .5-3.5 .5-2 .5 1.6 .5-3.8 .5 8.9 .5-3.7 .5-2.1 .5-.5 .5 4.1 .5 2.5 .5-7.6 .5 1.9 .5-3.2 .5 6.7 .5-1.5 .5 5.8 .5-6.5 .5-.9 .5-.7 .5 4.2 .5-6.8 .5 6.6 .5-1.4 .5-2.1 .5-1.1 .5 5.4 .5 2.2 .5-6.3 .5 2.7 .5 3.3 .5-6.5 .5 1.7 .5-1 .5 4.7 .5 1.9 .5 .7 .5 .8 .5-.6 .5 2.4 .5 2.7 .5 6.1 .5-1.8 .5-.2 .5 4.9 .5 .5 .5-2.9 .5 1.1 .5 4.3 .5 0 .5-2.6 .5 3.7 .5 0 .5 3.9 .5-4.7 .5 5.6 .5-.5 .5-3.2 .5 6.4 .5 .4 .5-5.4 .5 9.8 .5-8 .5 1.2 .5 2.1 .5 3.5 .5 0 .5-1.4 .5 4.6 .5-2.2 .5 3.3 .5 4.4 .5-6.8 .5-7.1 .5 6.3 .5-1.2 .5 3.8 .5 .5 .5-3.2 .5 .7 .5 3 .5 .7 .5-6.3 .5 10.5 .5-2.1 .5 .4 .5 1.3 .5-3.2 .5 3.3 .5 3.5 .5 .6 .5-1.2 .5-1.7 .5-1.2 .5 6.3 .5-1.9 .5-2.3 .5-4.6 .5 3.9 .5-2.6 .5 9.2 .5-2.7 .5-2.3 .5 1.6 .5 8.4 .5-3.5 .5-7 .5 3.8 .5-2.8 .5-1.1 .5 5.7 .5 6.6 .5-2.1 .5-4 .5-.9 .5 2 .5 2.6 .5-6.7 .5-1 .5 10.6 .5-4.5 .5 3.8 .5-3.9 .5 3.5 .5-5.9 .5 3.1 .5 3 .5-1.5 .5-4.8 .5 2.5 .5-5.8 .5-3.6 .5 4.2 .5 1.2 .5-3 .5-7.4 .5 5.2 .5-.8 .5-3.6 .5-6 .5 9.7 .5-.6 .5-1.4 .5-6.7 .5 .5 .5 6.9 .5-.9 .5-1.1 .5-2.4 .5 1.5 .5-2.9 .5 .4 .5-1.9 .5 3 .5-2.3 .5 3.7 .5-.9 .5-4.7 .5 7.4 .5-8.8 .5 4.2 .5 1.6 .5 .3 .5-10.3 .5 9 .5 .4 .5 .4 .5-10.8 .5 4.3 .5 1.4 .5-1.2 .5 4.9 .5-6.1 .5 5.3 .5-2.2 .5-6 .5 1.1 .5 1.2 .5 1.5 .5 2.3 .5-3.6 .5 2.9 .5-7.4 .5-4.5 .5 7.6 .5 2.1 .5-2.6 .5-2.2 .5 4 .5 4.1 .5-6.1 .5-2.1 .5-.5 .5 7.9 .5-6 .5 1.6 .5 1.6 .5-.7 .5-6 .5 5.3 .5-.6 .5-1.2 .5 1.3 .5-4.8 .5 1.2 .5-1.6 .5 3.5 .5-4.3 .5 2.9 .5-4.6 .5 2.6 .5-.9 .5 .5 .5 .5 .5-1.1 .5-.4 .5-5.5 .5 8.9 .5-5.2 .5 .9 .5-1.9 .5 5.1 .5-5.8" fill="none" stroke="#c04040" stroke-width="1.8" stroke-linejoin="round" />
<path d="M215.7 279.4l.5 3.6 .5-1.1 .5-1.9 .5-3.9 .5-2 .5 3.8 .5-.9 .5-.8 .5 1 .5-3.7 .5 8.6 .5-7.2 .5 1.3 .5 3.4 .5-6 .5 6.9 .5 .1 .5-3.5 .5-2 .5 1.6 .5-3.8 .5 8.9 .5-3.7 .5-2.1 .5-.5 .5 4.1 .5 2.5 .5-7.6 .5 1.9 .5-3.2 .5 6.7 .5-1.5 .5 5.8 .5-6.5 .5-.9 .5-.7 .5 4.2 .5-6.8 .5 6.6 .5-1.4 .5-2.1 .5-1.1 .5 5.4 .5 2.2 .5-6.3 .5 2.7 .5 3.3 .5-6.5 .5 1.7 .5-1 .5 4.7 .5 1.9 .5 .7 .5 .8 .5-.6 .5 2.4 .5 2.7 .5 6.1 .5-1.8 .5-.2 .5 4.9 .5 .5 .5-2.9 .5 1.1 .5 4.3 .5 0 .5-2.6 .5 3.7 .5 0 .5 3.9 .5-4.7 .5 5.6 .5-.5 .5-3.2 .5 6.4 .5 .4 .5-5.4 .5 9.8 .5-8 .5 1.2 .5 2.1 .5 3.5 .5 0 .5-1.4 .5 4.6 .5-2.2 .5 3.3 .5 4.4 .5-6.8 .5-7.1 .5 6.3 .5-1.2 .5 3.8 .5 .5 .5-3.2 .5 .7 .5 3 .5 .7 .5-6.3 .5 10.5 .5-2.1 .5 .4 .5 1.3 .5-3.2 .5 3.3 .5 3.5 .5 .6 .5-1.2 .5-1.7 .5-1.2 .5 6.3 .5-1.9 .5-2.3 .5-4.6 .5 3.9 .5-2.6 .5 9.2 .5-2.7 .5-2.3 .5 1.6 .5 8.4 .5-3.5 .5-7 .5 3.8 .5-2.8 .5-1.1 .5 5.7 .5 6.6 .5-2.1 .5-4 .5-.9 .5 2 .5 2.6 .5-6.7 .5-1 .5 10.6 .5-4.5 .5 3.8 .5-3.9 .5 3.5 .5-5.9 .5 3.1 .5 3 .5-1.5 .5-4.8 .5 2.5 .5-5.8 .5-3.6 .5 4.2 .5 1.2 .5-3 .5-7.4 .5 5.2 .5-.8 .5-3.6 .5-6 .5 9.7 .5-.6 .5-1.4 .5-6.7 .5 .5 .5 6.9 .5-.9 .5-1.1 .5-2.4 .5 1.5 .5-2.9 .5 .4 .5-1.9 .5 3 .5-2.3 .5 3.7 .5-.9 .5-4.7 .5 7.4 .5-8.8 .5 4.2 .5 1.6 .5 .3 .5-10.3 .5 9 .5 .4 .5 .4 .5-10.8 .5 4.3 .5 1.4 .5-1.2 .5 4.9 .5-6.1 .5 5.3 .5-2.2 .5-6 .5 1.1 .5 1.2 .5 1.5 .5 2.3 .5-3.6 .5 2.9 .5-7.4 .5-4.5 .5 7.6 .5 2.1 .5-2.6 .5-2.2 .5 4 .5 4.1 .5-6.1 .5-2.1 .5-.5 .5 7.9 .5-6 .5 1.6 .5 1.6 .5-.7 .5-6 .5 5.3 .5-.6 .5-1.2 .5 1.3 .5-4.8 .5 1.2 .5-1.6 .5 3.5 .5-4.3 .5 2.9 .5-4.6 .5 2.6 .5-.9 .5 .5 .5 .5 .5-1.1 .5-.4 .5-5.5 .5 8.9 .5-5.2 .5 .9 .5-1.9 .5 5.1 .5-5.8" fill="none" stroke="#0aae0a" stroke-width="2.0" stroke-linejoin="round" />
<path d="M345 276.8l.5-2 .5 2 .5 2.5 .5-4.1 .5 2.3 .5-3.3 .5 3.6 .5 .7 .5 4.3 .5-3.7 .5-1.1 .5 2.3 .5-5.7 .5 4.9 .5-3.9 .5-.1 .5 4 .5-2 .5 2.6 .5-6.6 .5 4.1 .5-1.9 .5 .6 .5-3.9 .5 6.8 .5-1.8 .5-2.8 .5-.8 .5 1.1 .5 5.4 .5-3.6 .5-.5 .5 1.9 .5-1.1 .5 .5 .5 1.2 .5-1 .5 1.3 .5-4.9 .5 3 .5-1 .5 1.1 .5-.3 .5-1.4 .5 .6 .5 3.1 .5-3.5 .5-1.7 .5 2.5 .5-.9 .5-4.8 .5-.9 .5-4.1 .5-.3 .5 2.9 .5-.9 .5-1.7 .5-1.2 .5-3.4 .5 4.4 .5 .2 .5 1.2 .5 2 .5-4 .5 1.2 .5-5.1 .5 5.3 .5-1 .5 1 .5-1.8 .5-.6 .5 2.4 .5-5.1 .5 3.1 .5 1 .5-4.4 .5-.9 .5 3.7 .5-.8 .5 1.1 .5 .1 .5-3.4 .5 2.6 .5 1.8 .5-3.5 .5 .1 .5-2 .5 4.5 .5 2.7 .5-7.8 .5 4.9 .5 .3 .5-3.4 .5 .4 .5-1.6 .5 .5 .5 2.2 .5 1.1 .5-1.3 .5 1.7 .5-1.5 .5-3.3 .5 6.1 .5-.6 .5-4.5 .5 5.8 .5-3.1 .5-.8 .5 4.1 .5-10.3 .5 2 .5 5.4 .5-2.3 .5-1.6 .5 5.7 .5-2.4 .5-4.2 .5 1.4 .5 3.5 .5 2.2 .5-8.9 .5 5.2 .5-1.5 .5-3.2 .5 3.6 .5-3.4 .5 2.5 .5 5 .5-2.6 .5 .6 .5-.3 .5-.5 .5 1.6 .5-4.9 .5 2.1 .5 2.9 .5-3.6 .5 .9 .5 3.9 .5 .9 .5-4.9 .5-.3 .5 3.4 .5-.6 .5-2.1 .5 3.1 .5 .3 .5-.7 .5 7.2 .5-3.3 .5-.9 .5 1 .5 4.9 .5-3.9 .5-3.8 .5 2.8 .5-.1 .5-1.1 .5 2.4 .5 .4 .5-.6 .5-.9 .5 3.2 .5-5.5 .5 5.8 .5-1.8 .5 .8 .5-6.1 .5 9.6 .5-7.8 .5 2.1 .5 3.7 .5-2.8 .5 .6 .5-4.1 .5 4.3 .5 1.7 .5 1.2 .5-2.1 .5 1.3 .5 .6 .5-2.4 .5-.1 .5 6.5 .5-6.5 .5 5.1 .5-2.6 .5 3.4 .5-4.8 .5 2.8 .5-.4 .5-1.3 .5 1.3 .5-2.5 .5 1.6 .5-.7 .5 2.7 .5-1.9 .5-3.1 .5 2.4 .5 .7 .5-1.9 .5 5.3 .5-2.2 .5 1.1 .5-3.8 .5 .9 .5 3.3 .5-5.7 .5 4.3 .5-.7 .5-1.3 .5 1.4 .5-2.7 .5 3 .5-3.3 .5-.2 .5 6.4 .5-5 .5-3.3 .5 7.3 .5-4.1 .5-6.4 .5 8.2 .5 2.3 .5-1.3 .5 3.2 .5-4.3 .5 1.7 .5-3.8 .5 2.8 .5 3.3 .5-2.4 .5-.8 .5-5.1 .5 3.8 .5-2.1 .5 4.9 .5-3.6 .5 2.7" fill="none" stroke="#000" stroke-width="2.4" stroke-linejoin="round" />
<path d="M345 274.7l.5 6.9 .5-7.3 .5 3.1 .5 5.9 .5-5.7 .5-2.5 .5 3.5 .5 .9 .5-.3 .5-6.7 .5 5.1 .5-5.5 .5 9.5 .5-4.3 .5-1.3 .5 2.7 .5-.4 .5-4 .5 6.7 .5-4.5 .5-3.5 .5 7.4 .5 .3 .5-.6 .5-1.7 .5-3.4 .5 4.3 .5 2.2 .5-2.5 .5 1.9 .5-5.6 .5 4.2 .5-.2 .5-5.7 .5-.3 .5 2.1 .5 1.9 .5 .9 .5-1.6 .5 .4 .5-.1 .5 .4 .5 1.2 .5-.2 .5-1.3 .5 .7 .5-1.6 .5 2.9 .5-4.6 .5 3.6 .5-5.4 .5-.8 .5-4 .5-.5 .5 1 .5-.5 .5-1.7 .5-1.5 .5 2.7 .5 .1 .5 .7 .5 1.5 .5-3.9 .5-4.2 .5 4.2 .5-4.2 .5 1.1 .5 5.4 .5-1.3 .5-3.1 .5 0 .5 1.3 .5-4 .5 5.3 .5-2 .5 5.2 .5-6.9 .5 4.9 .5-4 .5 4 .5-4.8 .5 4.1 .5-2.8 .5-1 .5 1.6 .5 1.5 .5-.2 .5 2.8 .5-1.8 .5-8.3 .5 5.3 .5-3.8 .5 3.8 .5 2.4 .5-4.7 .5 .4 .5 3.1 .5-1 .5 4.4 .5-3 .5 .5 .5 2.9 .5-5.4 .5 1.2 .5-2.4 .5 3 .5 1.8 .5 .8 .5-3.4 .5-1.6 .5-.2 .5-1.5 .5 3.6 .5 3 .5-9 .5 .5 .5 8.5 .5-7.2 .5 4.6 .5-3.8 .5 4.9 .5 0 .5-1.5 .5 1.5 .5-1.8 .5 1.2 .5 3 .5-1.8 .5-4.2 .5-.4 .5 1.5 .5 .2 .5 .8 .5-1.5 .5 3.1 .5-1.3 .5 .9 .5-.7 .5 1.6 .5-4.3 .5 6.8 .5-2.8 .5 .4 .5 .5 .5 1.2 .5-.7 .5-.8 .5-.7 .5-3.1 .5 4.8 .5-.9 .5 .4 .5 6.8 .5-9.8 .5 4.9 .5 3.2 .5-.3 .5 1 .5-5.6 .5 1.1 .5 3.9 .5-2.1 .5 5 .5-3.4 .5 0 .5 .7 .5-1.5 .5 1 .5-1.7 .5 1.6 .5-.9 .5 1.9 .5-3.9 .5 0 .5 4.8 .5-.4 .5-2.7 .5 1.9 .5-1.9 .5 7.6 .5-8.5 .5 7.9 .5-5.9 .5 3.1 .5-1.5 .5-.1 .5 3.3 .5-.2 .5-2.5 .5-1.4 .5 7.2 .5-1.6 .5-3 .5-1 .5 1.4 .5-.5 .5 2.7 .5-5.1 .5 2.3 .5-1.9 .5 5.1 .5 1.2 .5-4.5 .5 1.5 .5 2.1 .5-4.1 .5-1.5 .5 4.8 .5-1.3 .5-1.7 .5 4 .5-2.9 .5-4.8 .5 5.1 .5-.9 .5 4.7 .5-4.6 .5-.4 .5 1.5 .5-.4 .5-3.9 .5 3.6 .5-1 .5 4.2 .5 2.4 .5-8.4 .5 .3 .5 .4 .5 .4 .5 0 .5 1.8 .5 2.5 .5-5.7 .5-.6 .5-.7 .5 7.1 .5 .5 .5-6.8 .5-.2 .5 4.2" fill="none" stroke="#000" stroke-width="2.4" stroke-linejoin="round" />
<path d="M345 279.8l.5-.1 .5-2 .5 1.2 .5-.9 .5-2.1 .5 5.9 .5-4.6 .5-2.6 .5 1.5 .5-2.6 .5 3.8 .5 2.6 .5-5.7 .5 5.7 .5 2.4 .5-4.2 .5-3.7 .5 .8 .5 1.2 .5-2.3 .5 .1 .5 2.4 .5 .2 .5 1.9 .5-4.4 .5 7.4 .5-1.9 .5-.4 .5-3.7 .5 5.7 .5-5 .5 5.2 .5-1.8 .5-4.7 .5 1 .5 5.6 .5-2.1 .5-2.7 .5 .8 .5 0 .5-2.3 .5 1.3 .5-1.1 .5 .6 .5 2.1 .5-3.4 .5 4.1 .5-1.5 .5 2.1 .5 .8 .5 1.3 .5-1 .5 .7 .5-1.6 .5 2.3 .5-3 .5 2 .5 2.9 .5-1.4 .5 1.7 .5-3.5 .5 6 .5-4.6 .5 2.5 .5-.9 .5 2.4 .5-3 .5-1.4 .5-2 .5 3.9 .5-2 .5 4.3 .5 2.3 .5-8.7 .5 2.4 .5 4 .5 2.3 .5-2.1 .5 .2 .5 .5 .5 .3 .5 2.7 .5-2.3 .5-4.4 .5 2 .5 1.8 .5-2.4 .5 1.5 .5-.5 .5-.3 .5 3.5 .5-2.5 .5-1.6 .5 1.1 .5 1.9 .5 5.1 .5-4.3 .5 3.1 .5-2.3 .5-6.3 .5 6.3 .5-2.8 .5-1.1 .5 .8 .5 7.1 .5-8 .5 2.4 .5 4.5 .5-1.1 .5-5.6 .5 4 .5-.8 .5 .9 .5 2.4 .5-3 .5 .7 .5 4.5 .5-7.9 .5 3.7 .5 2.2 .5-4 .5 1.6 .5-1.5 .5 3.7 .5-1.7 .5 3.5 .5 .7 .5-2.2 .5-.9 .5 1.7 .5-.3 .5-3 .5 5.7 .5-1.9 .5 1.5 .5-5 .5 5.5 .5 3.1 .5-3.4 .5-4.9 .5 3.8 .5-.1 .5 .4 .5-1.3 .5 1.5 .5-2.6 .5 1.4 .5-2.5 .5 1.7 .5 1.9 .5-3.8 .5 2.5 .5-4 .5 .9 .5 .1 .5 3.3 .5-5.1 .5 4.5 .5-6.7 .5 2.9 .5 2.3 .5-.8 .5-4.4 .5-.8 .5 4.8 .5-5.4 .5 4.2 .5-3 .5 1 .5 5.4 .5-2.1 .5-2 .5-5.7 .5 3.9 .5-.9 .5-.7 .5 3.2 .5-7.6 .5 4.6 .5-.7 .5-2.2 .5 5.9 .5-7.3 .5 3 .5 .1 .5-5.6 .5 1.7 .5 1.1 .5 4.2 .5 .3 .5-1 .5-.9 .5-6 .5 5.8 .5-1.9 .5 4 .5 .3 .5 2.1 .5-3.8 .5 .2 .5-4.6 .5 2.7 .5-3.3 .5 5.1 .5-5.2 .5 2.3 .5-1.6 .5 .8 .5 2.2 .5-2.6 .5 1.8 .5-3 .5 5.7 .5-5 .5 3.9 .5 2.7 .5-11.2 .5 3.4 .5 1.8 .5 3.3 .5-4.1 .5 2 .5-2.8 .5 3.1 .5-4.4 .5 4.9 .5-9.4 .5 2.6 .5 8.9 .5-4.1 .5-2.7 .5 7.5 .5-2.9 .5 .1 .5-3.8 .5 2.4 .5-.3 .5-5.4 .5 5.4 .5-2" fill="none" stroke="#000" stroke-width="2.4" stroke-linejoin="round" />
<path d="M345 280.3l.5 .1 .5-4.8 .5 .1 .5 1.9 .5 1.2 .5-2.6 .5 .7 .5 1.8 .5-.5 .5 1.8 .5-2.2 .5-2.8 .5-2.2 .5 6.4 .5-2.9 .5 0 .5 .2 .5-3.2 .5 2.9 .5-5.4 .5 5.4 .5-1.2 .5 6.7 .5-3.4 .5-1.7 .5 1 .5 1.4 .5-3.7 .5 1.3 .5-.3 .5 7 .5-6 .5-5 .5 6.8 .5 4.4 .5-8.7 .5 10.9 .5-8.7 .5 2.6 .5-3.8 .5 .7 .5-2.4 .5 .5 .5-2.7 .5 8.1 .5-5.7 .5 3.8 .5-.1 .5-2.1 .5 2 .5 0 .5-.6 .5 1.6 .5 .4 .5-2.3 .5-.4 .5 1.5 .5 2.7 .5 3.4 .5 .6 .5-2.8 .5 1.6 .5-1.9 .5 2.5 .5-2.3 .5 .7 .5-1.6 .5 .8 .5 4.8 .5-7.6 .5 3 .5-1.4 .5 4 .5 2.2 .5-5.2 .5-6.1 .5 8.5 .5 .1 .5-5.6 .5 3.6 .5 .6 .5-5.5 .5 7.5 .5-.6 .5-.4 .5-3.1 .5 .9 .5 .3 .5 2.8 .5-3.5 .5 6.1 .5-2.6 .5-6.2 .5 9.6 .5-3.7 .5-1.7 .5 1.7 .5-4.7 .5 5.1 .5-6.5 .5 3.7 .5 6 .5-.2 .5-3.9 .5-1.5 .5 4.8 .5-2.3 .5 .7 .5 1.1 .5-4.2 .5 4.8 .5-7.2 .5 9 .5-7.4 .5 2.4 .5 0 .5 3.6 .5 .1 .5-.9 .5 .6 .5-.1 .5-1.3 .5-4.5 .5-.8 .5 .1 .5 5.7 .5-.4 .5 .3 .5 1 .5-1 .5-1.8 .5-1.2 .5-.9 .5 7.9 .5-.7 .5-5.6 .5 2.8 .5 1.9 .5 3 .5-5.4 .5 2 .5 2.6 .5-7.5 .5 2.2 .5 1.5 .5-2 .5 6.8 .5-3.4 .5-2 .5-3.1 .5 4.3 .5-.9 .5-3.2 .5 0 .5-2.9 .5 3.2 .5 2.1 .5 0 .5-1.3 .5 .3 .5-3.6 .5 .3 .5 4.1 .5-1.9 .5-3.2 .5 3.2 .5 .7 .5-.4 .5-1.5 .5-1.6 .5 2.2 .5 3.2 .5-4 .5-2.1 .5 2.5 .5-4 .5 3.6 .5-1.4 .5 3.1 .5-2.2 .5 2.3 .5 3 .5-6.3 .5-1.6 .5 3.1 .5-1.4 .5 .5 .5-1.9 .5 2.8 .5-1.2 .5-5.7 .5 4.8 .5 1.3 .5 2.1 .5-4.5 .5-.6 .5 4.8 .5-4.4 .5 1.7 .5 .8 .5 .6 .5-1.9 .5-2.8 .5 5.2 .5-3.6 .5-.3 .5 6.2 .5-2.9 .5-4.9 .5 1.4 .5 .6 .5-1.4 .5-2.9 .5 6.7 .5-.2 .5-1.3 .5-1.7 .5 1.5 .5 1 .5-4.3 .5 1.7 .5-.6 .5 3 .5-1.1 .5-4 .5 1.7 .5 5.9 .5-6.9 .5 2.7 .5-2 .5 4.6 .5-3.3 .5-1 .5-1.9 .5 2.2 .5 2.7 .5-.5 .5-5 .5 7.1 .5-4.6" fill="none" stroke="#000" stroke-width="2.4" stroke-linejoin="round" />
<path d="M345 278.6l.5-2.1 .5 2.8 .5-.9 .5 2.6 .5-.5 .5-1 .5-2.6 .5 .8 .5-1.7 .5 8.3 .5-7.4 .5 1.9 .5 1.9 .5-6.6 .5 1.3 .5 1.1 .5-1.5 .5-.6 .5 1.8 .5 4.3 .5-1.3 .5-1.7 .5 0 .5-4.1 .5 5.7 .5-.7 .5-3.6 .5 3.1 .5-.9 .5-.8 .5-1.2 .5 .8 .5-.6 .5 3.3 .5-.2 .5-.1 .5-1.2 .5-.6 .5 5.9 .5-9.3 .5 7.3 .5-2 .5-.7 .5-1.4 .5 .7 .5-2.3 .5-.5 .5 3.1 .5-2.2 .5 7.4 .5 2.2 .5-9.4 .5 6 .5 5.9 .5 .4 .5 .3 .5 1.3 .5 1.3 .5 .8 .5 2.8 .5-3.7 .5 2.5 .5-5.4 .5 4.1 .5-2.1 .5 6.8 .5 2.8 .5-3.7 .5-3.9 .5 3.4 .5 .9 .5 .9 .5 2.7 .5 .2 .5-8.1 .5 10.2 .5-4 .5 .4 .5 5.3 .5-3.5 .5-2.3 .5 .5 .5 3.7 .5 2.4 .5 1.8 .5-3.7 .5-.3 .5 5.4 .5-4.7 .5 5 .5-2.6 .5 .4 .5-.8 .5 1.7 .5-1.5 .5-.1 .5 1.7 .5-.9 .5 2.6 .5-.1 .5-.5 .5 .5 .5 .3 .5 5.1 .5-3.8 .5-1 .5 1 .5 2.7 .5-1.7 .5 .5 .5-.1 .5 1.3 .5 .7 .5 .4 .5-4.8 .5 1.6 .5-3.5 .5 8.4 .5 1 .5 .6 .5-2.5 .5 2.6 .5-2.6 .5 0 .5-3.2 .5 2.1 .5 .6 .5 3.9 .5 2 .5-4.9 .5 2.2 .5 0 .5-2.3 .5-2 .5 2.5 .5-1.4 .5 2.9 .5 .6 .5 .2 .5 .2 .5 1.8 .5-3.2 .5 3.2 .5-7.3 .5 3 .5-.4 .5-4 .5-3.1 .5 5 .5-3.5 .5 3.1 .5-.4 .5-2.2 .5-.4 .5 2.1 .5-1.9 .5-3.5 .5 2.3 .5 .6 .5-1.2 .5-.4 .5-1.2 .5-.3 .5-2.3 .5-1.6 .5 5.8 .5-4.6 .5 1.7 .5-4.5 .5 3.6 .5-2.6 .5 8.9 .5-9.8 .5-.1 .5 4.4 .5 .2 .5-8 .5 5.4 .5 1.3 .5-5.2 .5 4.3 .5-3.1 .5-1.4 .5 1.3 .5-.4 .5-2.5 .5 8.4 .5-6.6 .5-.9 .5 3.6 .5-2.5 .5 3.2 .5-4.1 .5 1.3 .5-.9 .5 0 .5-1.1 .5 0 .5 4 .5-5.8 .5 .1 .5 .2 .5 2 .5-.7 .5 1.1 .5-5.7 .5 3.6 .5-1.2 .5-.5 .5 .8 .5-5.3 .5 5.2 .5-.5 .5-4 .5 3 .5 3.7 .5-4.8 .5 2.1 .5-2.1 .5-1.6 .5-.5 .5 1.1 .5 3.8 .5-1.3 .5-3.8 .5 3.8 .5-2.9 .5-1.5 .5 2.5 .5-3.4 .5-1.8 .5 6.6 .5-7.6 .5 5.4 .5-5.1 .5 3.4 .5-.6 .5-.8 .5-4.4 .5 4.8" fill="none" stroke="#c04040" stroke-width="2.16" stroke-linejoin="round" />
<path d="M345 278.1l.5-2.1 .5 2.8 .5-.9 .5 2.6 .5-.5 .5-1 .5-2.6 .5 .8 .5-1.7 .5 8.3 .5-7.4 .5 1.9 .5 1.9 .5-6.6 .5 1.3 .5 1.1 .5-1.5 .5-.6 .5 1.8 .5 4.3 .5-1.3 .5-1.7 .5 0 .5-4.1 .5 5.7 .5-.7 .5-3.6 .5 3.1 .5-.9 .5-.8 .5-1.2 .5 .8 .5-.6 .5 3.3 .5-.2 .5-.1 .5-1.2 .5-.6 .5 5.9 .5-9.3 .5 7.3 .5-2 .5-.7 .5-1.4 .5 .7 .5-2.3 .5-.5 .5 3.1 .5-2.2 .5 7.4 .5 2.2 .5-9.4 .5 6 .5 5.9 .5 .4 .5 .3 .5 1.3 .5 1.3 .5 .8 .5 2.8 .5-3.7 .5 2.5 .5-5.4 .5 4.1 .5-2.1 .5 6.8 .5 2.8 .5-3.7 .5-3.9 .5 3.4 .5 .9 .5 .9 .5 2.7 .5 .2 .5-8.1 .5 10.2 .5-4 .5 .4 .5 5.3 .5-3.5 .5-2.3 .5 .5 .5 3.7 .5 2.4 .5 1.8 .5-3.7 .5-.3 .5 5.4 .5-4.7 .5 5 .5-2.6 .5 .4 .5-.8 .5 1.7 .5-1.5 .5-.1 .5 1.7 .5-.9 .5 2.6 .5-.1 .5-.5 .5 .5 .5 .3 .5 5.1 .5-3.8 .5-1 .5 1 .5 2.7 .5-1.7 .5 .5 .5-.1 .5 1.3 .5 .7 .5 .4 .5-4.8 .5 1.6 .5-3.5 .5 8.4 .5 1 .5 .6 .5-2.5 .5 2.6 .5-2.6 .5 0 .5-3.2 .5 2.1 .5 .6 .5 3.9 .5 2 .5-4.9 .5 2.2 .5 0 .5-2.3 .5-2 .5 2.5 .5-1.4 .5 2.9 .5 .6 .5 .2 .5 .2 .5 1.8 .5-3.2 .5 3.2 .5-7.3 .5 3 .5-.4 .5-4 .5-3.1 .5 5 .5-3.5 .5 3.1 .5-.4 .5-2.2 .5-.4 .5 2.1 .5-1.9 .5-3.5 .5 2.3 .5 .6 .5-1.2 .5-.4 .5-1.2 .5-.3 .5-2.3 .5-1.6 .5 5.8 .5-4.6 .5 1.7 .5-4.5 .5 3.6 .5-2.6 .5 8.9 .5-9.8 .5-.1 .5 4.4 .5 .2 .5-8 .5 5.4 .5 1.3 .5-5.2 .5 4.3 .5-3.1 .5-1.4 .5 1.3 .5-.4 .5-2.5 .5 8.4 .5-6.6 .5-.9 .5 3.6 .5-2.5 .5 3.2 .5-4.1 .5 1.3 .5-.9 .5 0 .5-1.1 .5 0 .5 4 .5-5.8 .5 .1 .5 .2 .5 2 .5-.7 .5 1.1 .5-5.7 .5 3.6 .5-1.2 .5-.5 .5 .8 .5-5.3 .5 5.2 .5-.5 .5-4 .5 3 .5 3.7 .5-4.8 .5 2.1 .5-2.1 .5-1.6 .5-.5 .5 1.1 .5 3.8 .5-1.3 .5-3.8 .5 3.8 .5-2.9 .5-1.5 .5 2.5 .5-3.4 .5-1.8 .5 6.6 .5-7.6 .5 5.4 .5-5.1 .5 3.4 .5-.6 .5-.8 .5-4.4 .5 4.8" fill="none" stroke="#0aae0a" stroke-width="2.4" stroke-linejoin="round" />
<path d="M474 276.8l.5 3.1 .5-2 .5 .1 .5-.1 .5 1.4 .5-1.1 .5-3.1 .5 5.8 .5-2.7 .5 4.4 .5-1.7 .5 .2 .5-1.1 .5 2.9 .5-4.2 .5-1.7 .5 3.4 .5-7.9 .5 6.1 .5 1.5 .5-1.6 .5 4.3 .5-1.5 .5-1.5 .5-1.3 .5 3.9 .5-4.6 .5 .7 .5 3 .5-.4 .5 3.7 .5-5.8 .5-4.3 .5 6.5 .5 1.6 .5-3.7 .5 4.4 .5 .6 .5-6.3 .5 .5 .5-2 .5 4.6 .5 .5 .5-.3 .5-4.8 .5 1.2 .5-1.7 .5-.4 .5 .6 .5-.6 .5 13.1 .5 11.1 .5 .8 .5-1.5 .5-1.4 .5 1.9 .5 1.7 .5-2 .5 1.2 .5-.7 .5-.3 .5 1.6 .5-2.7 .5 5.8 .5-6.5 .5 5.5 .5-4.5 .5 7.6 .5-1.4 .5-4.1 .5 1.2 .5-1.5 .5 3 .5 1.4 .5 5.7 .5-9.8 .5 6.9 .5-4.4 .5 2.4 .5 1.8 .5-.6 .5-.1 .5-1.5 .5 .6 .5 .6 .5 2.8 .5-6.8 .5 2.7 .5-1.8 .5 .8 .5 .6 .5 5 .5 2.8 .5-1.9 .5-6.4 .5 3.3 .5-2.9 .5 4.1 .5 2.3 .5-1.6 .5 .8 .5-2.5 .5-4.5 .5 .1 .5 4.9 .5 1.9 .5 1.9 .5-4 .5 1.2 .5 .6 .5 2.2 .5-2.8 .5-2.5 .5 5.7 .5-1.6 .5 0 .5-4.1 .5 3.4 .5-4.3 .5-.6 .5 4.7 .5-.4 .5 2.7 .5 2.4 .5-3.7 .5 4.8 .5-5.9 .5 3.6 .5-5.1 .5 3.7 .5-1 .5 .4 .5 2.2 .5-6.2 .5 5.3 .5-2.3 .5 2.5 .5 .9 .5-1.8 .5 .1 .5-1.9 .5 4.5 .5-3 .5 3 .5-6.8 .5 5.2 .5-8.1 .5 3.6 .5-6.2 .5 .6 .5-2 .5 1.8 .5-2 .5 3 .5-1.8 .5-.3 .5 2.3 .5-6.4 .5 4.9 .5-3.4 .5-4.3 .5 4.8 .5-2.1 .5 4.6 .5-5.9 .5 1.2 .5 .2 .5-5.8 .5 5.9 .5-4.1 .5 5.9 .5 .4 .5-4.4 .5-4.2 .5 4.5 .5-.2 .5 1.3 .5-2.7 .5-2.4 .5 2.6 .5-2.1 .5 6.8 .5-6.4 .5 0 .5 1.4 .5-3.1 .5 1.9 .5 .7 .5-1 .5 .5 .5 3.7 .5-2.1 .5-4.7 .5 2.2 .5 2.9 .5-3.6 .5 1.7 .5-.4 .5 1.4 .5-1.9 .5 0 .5-2 .5 3 .5-3.4 .5 6.7 .5-4.6 .5-.6 .5 2.5 .5-2.3 .5 .3 .5-.4 .5-1.9 .5-.6 .5 .5 .5 4.6 .5-4.6 .5 .4 .5-.2 .5 2.8 .5 3.2 .5-7.5 .5 3.7 .5-1.2 .5-1.2 .5 1.9 .5-4.6 .5 5.3 .5-1.7 .5-3.2 .5 6.5 .5-2 .5 .7 .5-6.8 .5 2.9 .5-.7 .5 2.8 .5 1.8 .5-8.5 .5 4.9 .5-.5" fill="none" stroke="#c04040" stroke-width="1.8900000000000001" stroke-linejoin="round" />
<path d="M474 276.3l.5 3.1 .5-2 .5 .1 .5-.1 .5 1.4 .5-1.1 .5-3.1 .5 5.8 .5-2.7 .5 4.4 .5-1.7 .5 .2 .5-1.1 .5 2.9 .5-4.2 .5-1.7 .5 3.4 .5-7.9 .5 6.1 .5 1.5 .5-1.6 .5 4.3 .5-1.5 .5-1.5 .5-1.3 .5 3.9 .5-4.6 .5 .7 .5 3 .5-.4 .5 3.7 .5-5.8 .5-4.3 .5 6.5 .5 1.6 .5-3.7 .5 4.4 .5 .6 .5-6.3 .5 .5 .5-2 .5 4.6 .5 .5 .5-.3 .5-4.8 .5 1.2 .5-1.7 .5-.4 .5 .6 .5-.6 .5 13.1 .5 11.1 .5 .8 .5-1.5 .5-1.4 .5 1.9 .5 1.7 .5-2 .5 1.2 .5-.7 .5-.3 .5 1.6 .5-2.7 .5 5.8 .5-6.5 .5 5.5 .5-4.5 .5 7.6 .5-1.4 .5-4.1 .5 1.2 .5-1.5 .5 3 .5 1.4 .5 5.7 .5-9.8 .5 6.9 .5-4.4 .5 2.4 .5 1.8 .5-.6 .5-.1 .5-1.5 .5 .6 .5 .6 .5 2.8 .5-6.8 .5 2.7 .5-1.8 .5 .8 .5 .6 .5 5 .5 2.8 .5-1.9 .5-6.4 .5 3.3 .5-2.9 .5 4.1 .5 2.3 .5-1.6 .5 .8 .5-2.5 .5-4.5 .5 .1 .5 4.9 .5 1.9 .5 1.9 .5-4 .5 1.2 .5 .6 .5 2.2 .5-2.8 .5-2.5 .5 5.7 .5-1.6 .5 0 .5-4.1 .5 3.4 .5-4.3 .5-.6 .5 4.7 .5-.4 .5 2.7 .5 2.4 .5-3.7 .5 4.8 .5-5.9 .5 3.6 .5-5.1 .5 3.7 .5-1 .5 .4 .5 2.2 .5-6.2 .5 5.3 .5-2.3 .5 2.5 .5 .9 .5-1.8 .5 .1 .5-1.9 .5 4.5 .5-3 .5 3 .5-6.8 .5 5.2 .5-8.1 .5 3.6 .5-6.2 .5 .6 .5-2 .5 1.8 .5-2 .5 3 .5-1.8 .5-.3 .5 2.3 .5-6.4 .5 4.9 .5-3.4 .5-4.3 .5 4.8 .5-2.1 .5 4.6 .5-5.9 .5 1.2 .5 .2 .5-5.8 .5 5.9 .5-4.1 .5 5.9 .5 .4 .5-4.4 .5-4.2 .5 4.5 .5-.2 .5 1.3 .5-2.7 .5-2.4 .5 2.6 .5-2.1 .5 6.8 .5-6.4 .5 0 .5 1.4 .5-3.1 .5 1.9 .5 .7 .5-1 .5 .5 .5 3.7 .5-2.1 .5-4.7 .5 2.2 .5 2.9 .5-3.6 .5 1.7 .5-.4 .5 1.4 .5-1.9 .5 0 .5-2 .5 3 .5-3.4 .5 6.7 .5-4.6 .5-.6 .5 2.5 .5-2.3 .5 .3 .5-.4 .5-1.9 .5-.6 .5 .5 .5 4.6 .5-4.6 .5 .4 .5-.2 .5 2.8 .5 3.2 .5-7.5 .5 3.7 .5-1.2 .5-1.2 .5 1.9 .5-4.6 .5 5.3 .5-1.7 .5-3.2 .5 6.5 .5-2 .5 .7 .5-6.8 .5 2.9 .5-.7 .5 2.8 .5 1.8 .5-8.5 .5 4.9 .5-.5" fill="none" stroke="#0aae0a" stroke-width="2.1" stroke-linejoin="round" />
<path d="M474 280.6l.5-2.7 .5-3.2 .5 2.8 .5-2.2 .5 .7 .5 2.1 .5-1.3 .5 1.9 .5-4.6 .5 9.8 .5-2.7 .5-1.4 .5-5.1 .5-2.2 .5 3.3 .5 1.6 .5 6.3 .5-2.4 .5-4.6 .5 4.4 .5 0 .5-3.1 .5 3.1 .5-2.3 .5-2.5 .5-1.3 .5 2.7 .5 2.9 .5-6.1 .5-.6 .5 5.5 .5-8.3 .5 11.6 .5-5.8 .5 3 .5 2.9 .5-8.5 .5 1 .5 8.4 .5-6.4 .5 .4 .5 .9 .5 2.1 .5 .7 .5-3.1 .5-1.2 .5 .8 .5 .9 .5 2.5 .5-3 .5-5.6 .5-16.9 .5 3.5 .5 3.2 .5-1.2 .5-2.5 .5-3.1 .5 .4 .5 1.4 .5 1.2 .5-1.4 .5-3.1 .5 1.8 .5 3.2 .5 .8 .5-5.7 .5 2.6 .5-3.3 .5 2.8 .5 10.5 .5-8.9 .5-1.1 .5-.6 .5-1.6 .5-1.7 .5 4.6 .5-.6 .5 4.5 .5-8 .5 5.3 .5 2.3 .5-8.4 .5 6.7 .5-5.9 .5 5.5 .5 2.4 .5-3.8 .5 .8 .5-2.6 .5 2.5 .5 2.2 .5-3.4 .5 .1 .5 1.4 .5 1 .5-6.3 .5 4.4 .5-1.9 .5 3 .5 1.3 .5-1.8 .5 2.5 .5-5.9 .5 1.5 .5-1.5 .5 2.7 .5 .1 .5-.8 .5-2.6 .5 2.9 .5-.9 .5 2.6 .5-2.2 .5 3.6 .5-2.4 .5-5.3 .5 4.3 .5-3.3 .5 6.2 .5 1.1 .5-3.7 .5 1.2 .5-4.9 .5-2 .5 4.3 .5 .8 .5-3.3 .5 4.1 .5 .6 .5 .8 .5 2.3 .5-1.9 .5-3 .5 1.2 .5 1.3 .5-4.3 .5 6.1 .5-1.1 .5-2.9 .5-1.1 .5 11.4 .5-7.6 .5 .2 .5 2.2 .5-2.1 .5-2 .5 5.8 .5 .4 .5 8.6 .5-1.2 .5 5 .5 .4 .5-5.4 .5 9 .5-7.9 .5 5.7 .5-4 .5 2.2 .5-2.5 .5 8.1 .5-3.7 .5 2.1 .5-2.6 .5-.2 .5-1.4 .5-.9 .5 2.2 .5-1.1 .5-.8 .5-3.1 .5 2.8 .5 2.3 .5-2.7 .5 2.1 .5-1.2 .5-2.2 .5 .3 .5 .5 .5 1.2 .5 .1 .5 3.6 .5-5.7 .5-2.4 .5 7 .5-2.8 .5 .9 .5 6.8 .5-2.7 .5-2.2 .5 .9 .5-2.1 .5 2.2 .5-4 .5-.2 .5 .7 .5 5.3 .5-.1 .5-5.5 .5 4.6 .5-3.4 .5 3.2 .5-3.5 .5 3.3 .5-2.7 .5-.4 .5 .7 .5 .5 .5-1.9 .5-2 .5 7.9 .5-5.3 .5-3.6 .5-1.1 .5-1.4 .5 5.7 .5 5.1 .5-7.7 .5 3.4 .5-3.8 .5 7.6 .5-1.9 .5-.1 .5 2.7 .5 .8 .5-1.6 .5-4.1 .5-1.8 .5 .7 .5-1.8 .5 9.2 .5-5.1 .5 .9 .5 .2 .5 4.7 .5-6.6 .5 4.5 .5-2.2 .5-1.2 .5-4.5 .5 7.4" fill="none" stroke="#000" stroke-width="2.1" stroke-linejoin="round" />
<path d="M474 276.2l.5 .7 .5 1.8 .5-.4 .5 2.7 .5-4.6 .5 2.1 .5 .3 .5-.6 .5 1.7 .5-2.4 .5 3.7 .5-4.9 .5-1.9 .5 3.6 .5 3.1 .5-4.3 .5-.3 .5 .7 .5 1.3 .5-.8 .5 1.2 .5-5.2 .5 8.3 .5-2.4 .5-3.7 .5 5.7 .5-2.3 .5 2.6 .5-6.8 .5 7.3 .5-4.2 .5-5.4 .5 7.2 .5-2.7 .5-1.8 .5 2.1 .5-4.5 .5 6.5 .5-2 .5-.2 .5 4.3 .5-3.5 .5-1.8 .5-.7 .5 2.2 .5 2.9 .5-4.2 .5-1.2 .5 5.1 .5-2.2 .5-7.8 .5-2 .5-8.5 .5 3.6 .5-5.1 .5 3.8 .5 2.3 .5 1.4 .5-6.2 .5 5.5 .5-.2 .5-2.3 .5 6.6 .5-6.3 .5-2.3 .5 3.4 .5-5.9 .5 8.8 .5-1.5 .5-3.5 .5 2.6 .5-.2 .5 3.6 .5-6.6 .5-1.7 .5-1.9 .5 4.4 .5-3.2 .5 3.6 .5 1.5 .5-2.2 .5-1.3 .5 5.5 .5-3.6 .5 1.1 .5 1.9 .5-5.9 .5 1 .5 8.8 .5-6.8 .5-2.3 .5 2 .5-.8 .5-1.7 .5 2.2 .5 1 .5 0 .5 1.4 .5-5.9 .5 .7 .5 5.8 .5-3.1 .5 4.2 .5-2.3 .5-4.4 .5 5 .5-4 .5 3.3 .5 2.5 .5 2.2 .5-5.6 .5 2 .5-1 .5 1.2 .5-8.6 .5 5.6 .5 1.8 .5 .4 .5-3.1 .5 4 .5 .7 .5-2.6 .5-.8 .5-.3 .5 1.3 .5 2.6 .5 .9 .5-5.1 .5-1.2 .5 .4 .5 4.5 .5-1.9 .5 .2 .5 .4 .5-.2 .5-1.3 .5-2.4 .5 1.1 .5 1.9 .5 .7 .5-1.9 .5-.2 .5 4.6 .5-4.7 .5 1.8 .5-1.4 .5 1.9 .5 1.5 .5 5.8 .5 2.5 .5 4.3 .5-5.1 .5 1.9 .5 2.8 .5-2 .5 1.6 .5 .9 .5-6.4 .5 3.2 .5-1.3 .5 5.9 .5-3.7 .5 1.6 .5 3.1 .5-5.3 .5 1.1 .5 .9 .5-1.7 .5 3.9 .5-1.1 .5 .5 .5-2.4 .5-1 .5 0 .5 0 .5-3.2 .5 5.1 .5 1.2 .5-2.1 .5-1.2 .5 1.4 .5 .5 .5 .3 .5 3.7 .5-6.7 .5 3.1 .5 .9 .5-1.6 .5-.7 .5-2 .5 1.1 .5 3.3 .5 1.9 .5-5.3 .5 2.9 .5 .1 .5 1.3 .5-1.9 .5 .5 .5 1.2 .5-5.2 .5 3.1 .5-4.6 .5-.5 .5 2.9 .5-1.8 .5 5.2 .5 1.3 .5-3.3 .5 .5 .5-.2 .5-.1 .5 1 .5 .6 .5-2 .5-.8 .5 .7 .5 3.3 .5-3 .5 4.7 .5-4.2 .5 4 .5-6.4 .5 1.3 .5 3 .5 0 .5-1.6 .5 5.6 .5-5 .5 .6 .5-2.1 .5 5.6 .5-2 .5-1.1 .5-5.1 .5 5 .5-2.1 .5 2.2 .5 1.4 .5-4.2" fill="none" stroke="#000" stroke-width="2.1" stroke-linejoin="round" />
<path d="M474 278.6l.5 1.7 .5-1.8 .5-1.2 .5-1.9 .5 1 .5-1.5 .5 5.7 .5-2.3 .5-3.3 .5 3.1 .5-3.3 .5-5 .5 11.3 .5-.1 .5-6.6 .5 1.9 .5 2.3 .5-1.5 .5-1.2 .5 .9 .5 .7 .5-.8 .5 1.9 .5-1.1 .5-1.3 .5 1.9 .5-4.2 .5 7.8 .5-8 .5 4.2 .5 1 .5 .2 .5-.4 .5 2.5 .5-5.9 .5 2.6 .5 .5 .5-1.6 .5-.2 .5 4.7 .5-5 .5 .6 .5 .5 .5 .1 .5 1 .5-.9 .5 1.4 .5-.6 .5 .9 .5 2.2 .5-8 .5 3.7 .5-5.3 .5 2.8 .5-1.2 .5-1.2 .5-4.1 .5 8.9 .5-5.9 .5-.1 .5 4.6 .5-2.5 .5 4.6 .5-.5 .5-2.5 .5-1.1 .5 1.3 .5-5.2 .5 3.7 .5-.1 .5-1.5 .5 1.8 .5-4.3 .5 5.9 .5 1 .5-6.5 .5 3.6 .5 3.5 .5-2.8 .5-3.6 .5 .1 .5 4.6 .5 2.4 .5-7.2 .5 2.7 .5-2 .5 1.2 .5 1.5 .5-.9 .5-1.6 .5 7 .5-5.6 .5-.1 .5 3.2 .5-2.7 .5-.6 .5 2.9 .5-4.9 .5 4.4 .5 .7 .5-.9 .5-2.1 .5 .4 .5-4.2 .5 3.9 .5 1.1 .5 1.4 .5-1.8 .5-1.3 .5-1.1 .5 1.9 .5 .5 .5 2.6 .5-2.9 .5-1.3 .5 1 .5-.9 .5 .6 .5-4.9 .5 1.5 .5 1 .5 4.1 .5-1.3 .5 .5 .5 2.5 .5-5.4 .5 5.4 .5-1.9 .5-2.7 .5 5.4 .5-7.2 .5 .8 .5 2.2 .5 1.5 .5-1.4 .5-4.8 .5 4.5 .5 .5 .5 6.5 .5-2.9 .5-3.1 .5-3 .5 3.6 .5-3.7 .5 3.3 .5 .4 .5-.6 .5 2.9 .5-.2 .5 .6 .5 5.2 .5-2.3 .5-2.2 .5-1.2 .5 2.4 .5 .9 .5 .7 .5 1.6 .5-2.5 .5-3.9 .5 7.7 .5-2.1 .5-.8 .5 1.2 .5-6.9 .5 2.7 .5-.3 .5 4.2 .5-5.9 .5 2.1 .5 4.6 .5-2.2 .5-2.5 .5 5.6 .5-7.9 .5 4.4 .5-1.7 .5 1.8 .5-1.9 .5-1.4 .5 2.6 .5-3.8 .5 4.5 .5-2.1 .5 3.1 .5-3.4 .5-.5 .5 2.6 .5 2.1 .5-8.2 .5 5.4 .5 1.3 .5-5.1 .5 1.4 .5 3.7 .5-3.6 .5 .5 .5 5.8 .5-6.6 .5 .2 .5-3.6 .5 3 .5-.3 .5 7.3 .5-1.3 .5-6.1 .5 8 .5-3 .5-2.3 .5 2.4 .5-1 .5-2.9 .5-2.4 .5 2.1 .5 2.2 .5-.9 .5-.9 .5 4.2 .5-5 .5 4.8 .5-3.4 .5 1.5 .5-3 .5 2.7 .5-1.9 .5-2.4 .5 4.3 .5-.1 .5 2.2 .5-1.4 .5-3.2 .5 1 .5-4.6 .5 3.4 .5 5.9 .5 .6 .5-1.9 .5-1.1 .5 .7 .5-.3" fill="none" stroke="#000" stroke-width="2.1" stroke-linejoin="round" />
<path d="M474 274.7l.5 2.2 .5 5 .5 0 .5-2.3 .5-1.3 .5-.2 .5-.4 .5-1 .5-2.4 .5 5.1 .5-1.5 .5 .6 .5 4.7 .5-2.7 .5-3.2 .5 3.1 .5-5.1 .5 6.3 .5-1.9 .5-1.2 .5 1.9 .5 2.2 .5-4.7 .5-1.3 .5 7.6 .5-5.1 .5 3.6 .5-5.4 .5 2.6 .5-2.5 .5 3.2 .5-2.3 .5-.9 .5 5.4 .5-2.9 .5-5.9 .5 4.4 .5-1.7 .5-.7 .5 1.6 .5 .2 .5 1.3 .5-2.1 .5-2.6 .5 3.3 .5 3.5 .5-5.6 .5 4.9 .5-.4 .5-2.2 .5 6.9 .5 2.3 .5 .9 .5-1.5 .5 3.8 .5 2.2 .5-5 .5 4.7 .5-8.3 .5 3.2 .5-.3 .5 6.8 .5-5.7 .5 3.4 .5-7 .5 5.5 .5 1.1 .5-1.5 .5-6.6 .5 7.2 .5 1.7 .5 1.3 .5-2.3 .5-5.2 .5 3.7 .5 2.9 .5-4.3 .5 3.5 .5-2.6 .5 1.5 .5 1.7 .5-3.7 .5 9 .5-6.8 .5 .6 .5-2.7 .5 2 .5-.8 .5-2.9 .5-.2 .5 4.6 .5-.9 .5-6.3 .5 1.2 .5 4.7 .5 .6 .5 1.7 .5-4.6 .5 4.6 .5-2.2 .5-.4 .5 .9 .5 2.9 .5-1.1 .5 .9 .5-3.9 .5 1 .5-2.1 .5 1.5 .5 .4 .5-.1 .5 3 .5-.7 .5 .9 .5-1.6 .5 2.4 .5-2.3 .5 2.1 .5-1.1 .5 .6 .5-2 .5-2.9 .5-.4 .5 8.5 .5-3.9 .5 .2 .5-1.5 .5-.7 .5 8.3 .5-9.9 .5 2.7 .5 0 .5-2.6 .5-.3 .5 1.4 .5 .9 .5-.3 .5 3.3 .5-4.9 .5 3.9 .5 2.7 .5-1.4 .5-6.5 .5-6.1 .5 8 .5-2.4 .5-4.2 .5 3.2 .5-4.2 .5 1.2 .5-2.9 .5 3.4 .5-1.9 .5-.3 .5 4 .5-2.2 .5-4.3 .5 5.4 .5 .3 .5-4.2 .5 1.1 .5 1.1 .5-.8 .5 .9 .5 1.3 .5-2.9 .5 6.4 .5-7 .5 .4 .5 6.2 .5 1 .5-5.9 .5-.6 .5-2.2 .5 5.5 .5-2.5 .5-2.6 .5 3.1 .5 2.4 .5-1.7 .5 3.7 .5-2.6 .5-1.8 .5-1.3 .5 1.5 .5 1.6 .5-.9 .5 .4 .5-2.1 .5 1.3 .5 1.1 .5-3.4 .5-2.9 .5 7.5 .5-2.9 .5-2.6 .5 1.7 .5-1.2 .5-3.7 .5 3.7 .5-3.1 .5 4 .5-.8 .5 3.1 .5-3.2 .5 1.2 .5-1.7 .5-.2 .5-2.6 .5 6 .5-2.1 .5-1.9 .5 1.9 .5-1.6 .5-.8 .5 2.4 .5 2.4 .5-3.8 .5-2.9 .5 2 .5 6 .5-6.5 .5 4.9 .5-3.6 .5 2.4 .5-2.1 .5-3.7 .5 2.9 .5 6.2 .5-5.6 .5 1.7 .5-2.3 .5 .5 .5 1.1 .5 .3 .5 4.4 .5-5.6 .5-.5 .5-1.2 .5-1.7" fill="none" stroke="#000" stroke-width="2.1" stroke-linejoin="round" />
<path d="M609 281.7l.5 3.2 .5-4.9 .5-7.5 .5 10.9 .5 3.2 .5-11.7 .5 1.5 .5 3.2 .5 .2 .5-7 .5 16.6 .5-3.5 .5-7.9 .5-5.7 .5 10.4 .5 7.8 .5-5.5 .5 1.5 .5-10 .5 5.6 .5-8.3 .5 16.7 .5-6.8 .5-12.8 .5 1.2 .5 11.2 .5-1.6 .5-2.2 .5 4.5 .5 6.6 .5-7.8 .5-10.5 .5 7.9 .5-5.5 .5 2.4 .5 5.5 .5-2.4 .5-4.3 .5 5 .5-3.8 .5 6.4 .5-3.7 .5 3 .5-3.1 .5 4.9 .5-4.3 .5 .6 .5-2.6 .5 3.3 .5-9.2 .5 10.9 .5-26.6 .5 3.7 .5-2.7 .5-.1 .5 4.3 .5-4.4 .5 .4 .5-4.6 .5 2.2 .5-1.2 .5 14.3 .5-15.1 .5 1.3 .5 6.1 .5 5.9 .5-15 .5 .7 .5 8 .5 1.1 .5-8.5 .5-1.8 .5 4 .5 8.2 .5-3.8 .5 3.8 .5-4.1 .5 .4 .5 3.1 .5-3.6 .5 1.7 .5-5.5 .5 1.5 .5 5.2 .5-3.4 .5-2.5 .5 6.8 .5-.6 .5-2.6 .5-3.6 .5 7.9 .5 7.7 .5-15.9 .5-3.5 .5 3.7 .5-.8 .5-1.6 .5 .4 .5 9.8 .5 0 .5 3 .5-3.5 .5-5.9 .5 7.5 .5-8.1 .5 1.2 .5-3.9 .5 11.5 .5-1.1 .5-7 .5 .7 .5 1.6 .5 .8 .5 3.1 .5-3.7 .5 1.6 .5-9.1 .5 5.7 .5-7.1 .5 17.1 .5-1.8 .5-3.3 .5 1.9 .5 4.3 .5-5.1 .5-12.2 .5 6.7 .5-10.3 .5 7.4 .5-2.1 .5 5.9 .5 1.9 .5-6.3 .5 3.1 .5 2.7 .5-2.1 .5-.1 .5-10.7 .5 9.4 .5 5.9 .5-2.5 .5-8.4 .5 5.8 .5 2.6 .5-5.9 .5 7.9 .5-1.9 .5 7.5 .5 6.4 .5 16.4 .5-12.2 .5-1.2 .5 6.2 .5-5.7 .5 3.2 .5-11.8 .5 12.3 .5-1.6 .5-6.1 .5 12.7 .5-7.6 .5 .2 .5-5.4 .5-1.5 .5 5.1 .5-4.6 .5 9.7 .5 1.8 .5-7.2 .5-4.7 .5 5.8 .5-3.2 .5 5.9 .5 .1 .5-2.9 .5 2.4 .5 4.6 .5 3.2 .5-10.7 .5 6 .5-4.6 .5-4 .5 11.3 .5-4.3 .5-1.2 .5 1 .5-2.5 .5-4.2 .5 13.5 .5-4.2 .5-3 .5 3.3 .5 1.6 .5-7.2 .5 3.8 .5-4.4 .5 4.7 .5-4.3 .5 12.9 .5-13.4 .5 4.2 .5-.3 .5-3.8 .5 6.1 .5-4.9 .5-1.6 .5 2 .5-3.6 .5 9.3 .5-2.7 .5 1.7 .5-11.2 .5 7.8 .5-5 .5 4.1 .5 5.7 .5-4.9 .5-2 .5 6.2 .5-.5 .5 4 .5-17.8 .5 10.5 .5-3.6 .5-2.2 .5 4.8 .5-6.2 .5-5.1 .5 6.4 .5 3 .5 10.3 .5-12.5 .5-2.1 .5-3.9 .5 7.8 .5 .5 .5 1.9 .5-7.6 .5 3.2" fill="none" stroke="#000" stroke-width="1.9" stroke-linejoin="round" />
<path d="M609 269.9l.5 11.7 .5-8.3 .5-5.7 .5 18.8 .5-3.2 .5-.7 .5 0 .5-6.7 .5 10.2 .5-10.2 .5 14.2 .5-8.1 .5-9.9 .5 13 .5 5.3 .5-10.7 .5 6.3 .5-6.1 .5-2 .5-9.4 .5 18.3 .5-8 .5 3.9 .5-7.2 .5 1 .5 9.8 .5-7.2 .5-.1 .5-4.1 .5 7 .5 2.8 .5-6 .5 1.3 .5-4.9 .5 12.6 .5-9.8 .5 2.3 .5 8.8 .5-9.2 .5-6.3 .5 3 .5 2.7 .5 10.3 .5-7.5 .5-2.2 .5 5.1 .5 2.3 .5-9.9 .5 10.5 .5-2.7 .5-9.5 .5-21.1 .5 12.4 .5 5.8 .5-8.1 .5 12.5 .5-10.8 .5-5.3 .5 7.8 .5-1.4 .5 2.6 .5-5.1 .5 7.4 .5-9 .5 3.3 .5-6.7 .5 2.2 .5 4.9 .5-4.2 .5 1 .5 1.2 .5 2.2 .5 2.5 .5 0 .5 1.2 .5-3.9 .5-3.7 .5-5 .5 6 .5-2.2 .5-4.9 .5 16.8 .5-16.9 .5 10.6 .5 1 .5-3.8 .5 13.6 .5-12.4 .5-3.8 .5 12.2 .5-12.4 .5-3.1 .5 2.1 .5 1.8 .5 3.3 .5 1.4 .5-9 .5 9.1 .5 9.1 .5-14.3 .5 2.9 .5 4 .5 2.5 .5-9.2 .5-1.4 .5-.2 .5 10.2 .5-.9 .5-14.9 .5 .1 .5 4.4 .5-1.3 .5 9.3 .5-.9 .5 8.4 .5-5.6 .5-3.3 .5 5.1 .5-10.1 .5-2.4 .5 7 .5 4.4 .5-12.5 .5 12.3 .5-.2 .5-6.6 .5 3.2 .5-2.1 .5 1.7 .5 3.5 .5-7.8 .5 9 .5-.9 .5 .2 .5-14 .5 .5 .5 12.5 .5-6.3 .5-.5 .5-.3 .5-2.9 .5 5.2 .5-2.1 .5 .3 .5 5.5 .5-8.1 .5 15 .5-12.5 .5 26.8 .5-15.1 .5 9.4 .5 1.6 .5-4.4 .5 3.6 .5-4.1 .5-8.1 .5 10.3 .5 3.9 .5-8.3 .5-5.6 .5 5.3 .5 4.6 .5-.1 .5 3.9 .5-2.7 .5-.2 .5-12.3 .5 20.7 .5-10.7 .5 4 .5-5.9 .5 1 .5 1 .5 7.4 .5-.3 .5-4.4 .5 6.7 .5-11.6 .5 4.4 .5-4.7 .5 8.5 .5-6.1 .5 4.6 .5 3.6 .5-18.5 .5 20.7 .5-9 .5-3.1 .5-7.9 .5 7.9 .5-9.7 .5 11.7 .5-1.3 .5 9.8 .5-10.6 .5 6.9 .5 .5 .5 4.4 .5-11.4 .5 5 .5-11.2 .5 2 .5 4.1 .5 1.2 .5-5.8 .5 3.9 .5 5.5 .5-5.7 .5 1.5 .5-3.6 .5 11.1 .5 2 .5-7.7 .5-1.6 .5 8.7 .5-5.8 .5-5.6 .5-3.4 .5 3.8 .5 13.7 .5-13.8 .5 17.2 .5-14.2 .5-1.1 .5 7.6 .5-7.7 .5 3 .5-6.9 .5-1.1 .5 2.5 .5 4.8 .5-4.4 .5-6.4 .5 12 .5-3.1 .5-.6 .5-1.6 .5-8.1 .5 18.9" fill="none" stroke="#000" stroke-width="1.9" stroke-linejoin="round" />
<path d="M609 278.6l.5 5 .5 4.2 .5-1.3 .5-4.5 .5-1 .5 1.5 .5 3 .5-1.7 .5-5 .5 4.4 .5-.3 .5 1.5 .5-2.4 .5 5.7 .5-5.7 .5 3.4 .5-4.2 .5-3 .5-1.9 .5 3.9 .5 3.4 .5 3.6 .5-6.6 .5-2.2 .5 .1 .5 8.9 .5-5.9 .5-3 .5 6.1 .5-10.1 .5 7.1 .5-.8 .5-.5 .5-5 .5 10.5 .5 3.5 .5-14.8 .5 7.1 .5 2.6 .5 7.9 .5-13.2 .5-2.6 .5 4.7 .5 9.9 .5-9.6 .5 1 .5 7.4 .5-19.2 .5-.2 .5 15.2 .5-4.2 .5-14.1 .5 9.3 .5-2.3 .5 .9 .5-5.1 .5 1.8 .5-2.1 .5 4.6 .5-1.4 .5 9.4 .5-5.2 .5-10.8 .5 9.7 .5 5 .5-5.6 .5 3.9 .5-5.5 .5 3.7 .5-8.1 .5 8.5 .5-10.7 .5 13.2 .5-13.8 .5-3 .5 13 .5-3.4 .5 1.4 .5 1.5 .5-2.2 .5-4.3 .5 5.4 .5 .7 .5 .7 .5 7.4 .5-13.4 .5 3.9 .5 2.5 .5-5 .5-3.7 .5 3.1 .5 8 .5-6.5 .5 4.3 .5-6.6 .5 5.8 .5-5.5 .5-.8 .5 4.7 .5-.3 .5 7 .5-15.3 .5 10.5 .5 5.4 .5-1.2 .5-8.6 .5-1.5 .5 1 .5 3.9 .5-.6 .5 .8 .5 1.2 .5-8.2 .5-.3 .5-.4 .5-.6 .5 6.1 .5 2 .5 11 .5-9.9 .5-2.5 .5 6.9 .5-10.6 .5 5.3 .5 3.1 .5-.9 .5-1.9 .5-3.7 .5-4.4 .5 5.3 .5-2.1 .5 6.3 .5-4.1 .5 3.5 .5-10.7 .5 12.7 .5-9 .5-3.5 .5 .9 .5 3.7 .5 8.6 .5-2 .5-9.3 .5 6.2 .5-.9 .5-7.2 .5 4.6 .5-3.4 .5 7.5 .5-7 .5 9.1 .5-.7 .5 .7 .5-.2 .5 9.8 .5-7.4 .5 2.9 .5 2.5 .5 .7 .5-1.1 .5-6 .5-2.7 .5 1.6 .5 1.5 .5 2.3 .5-.4 .5 5.8 .5-5.9 .5 9.3 .5-3.7 .5-7.5 .5 6.6 .5-18.3 .5 20.9 .5-4.8 .5 0 .5-10.3 .5 20.7 .5-13.7 .5 .6 .5 6.2 .5-6.5 .5-3.2 .5 7.4 .5-8.2 .5 8.6 .5-2.9 .5 4.8 .5-11.4 .5 12 .5-4.7 .5 8.3 .5-12.9 .5 12.3 .5-5.6 .5 .4 .5-7.5 .5 6.3 .5 .6 .5-7.4 .5-1.6 .5 1.9 .5 11 .5-6.4 .5 3.8 .5-3.2 .5-.8 .5 .5 .5-3.1 .5 8 .5-5.2 .5 .3 .5-7.9 .5 8.3 .5-4.8 .5 .8 .5 7.6 .5-10.5 .5 4.4 .5 4.1 .5 2.6 .5-8.2 .5 4.1 .5-.2 .5-6.9 .5-5 .5 1 .5 12.4 .5-2.4 .5-7.1 .5 3.5 .5 1.1 .5 .2 .5 1.6 .5 11 .5-14.6 .5 4.5 .5-4.5 .5 .7" fill="none" stroke="#000" stroke-width="1.9" stroke-linejoin="round" />
<path d="M609 277.7l.5 3.2 .5-1.6 .5 4.4 .5-.7 .5-5.4 .5 13.8 .5-15.1 .5 7.4 .5 8.9 .5-14.1 .5 10 .5 .5 .5-5.3 .5-10.8 .5 16.1 .5-6.6 .5-3.1 .5 9 .5-9.9 .5 8.8 .5-7.9 .5 5.3 .5-7.9 .5 3.4 .5-2.6 .5 1 .5 4.4 .5-1.7 .5 1.7 .5 5.4 .5-6.9 .5-8.5 .5 7.7 .5 1.8 .5 4.6 .5 .1 .5-.4 .5-5.8 .5 4.3 .5-10.3 .5 13.4 .5-4.2 .5 .4 .5-4.4 .5 2.2 .5-3.6 .5 6.1 .5-9.3 .5 11.3 .5-2.1 .5 9.2 .5-8.1 .5-.3 .5 1.4 .5-.7 .5-.7 .5-4.9 .5 0 .5 2.6 .5 1.4 .5-4.4 .5 .1 .5 4.3 .5 5 .5-4.5 .5 4.2 .5 1.5 .5-1 .5-5.9 .5 .1 .5-7.1 .5 5.7 .5 5.7 .5-7.6 .5 11.9 .5 .4 .5-8.8 .5 6.3 .5-11.4 .5 1.8 .5 3.3 .5 1.8 .5-.9 .5-3.3 .5 13.8 .5-8.2 .5 0 .5 1.9 .5-2.4 .5-2 .5-1.6 .5-5.3 .5 15.3 .5-11.8 .5-3.7 .5 4.2 .5-3.9 .5 17.7 .5-8 .5 5.1 .5 .2 .5-4.3 .5 0 .5-6.3 .5 3.1 .5-2.6 .5 3.2 .5-3.6 .5 9.6 .5-2.5 .5-4.2 .5-7.7 .5 11.6 .5 .9 .5-4.6 .5-5.9 .5 8.3 .5 3 .5-14.5 .5 12.2 .5-11.7 .5 9.3 .5 8.2 .5-8.2 .5 2 .5-4 .5 1.6 .5 11.5 .5-5 .5-8 .5-.4 .5 2 .5 10.6 .5-9.7 .5 4.4 .5-7.2 .5-4.4 .5 12.7 .5-6.9 .5-3.4 .5 .4 .5 .1 .5 .3 .5-4.5 .5 13.4 .5-4 .5 2.1 .5-7.2 .5 2.6 .5-1.6 .5 4.9 .5-1.7 .5-2.2 .5-5 .5-2.7 .5 2 .5 .8 .5 .5 .5-3.4 .5 14.1 .5-6.8 .5-11.1 .5 4.5 .5-1.2 .5 7.7 .5 4 .5-10 .5 7.8 .5-4.3 .5 6.9 .5 1.1 .5-5.2 .5 2 .5-3.5 .5-1.8 .5-3.9 .5 7.3 .5-1.9 .5-1.6 .5 1.5 .5-.5 .5-4.2 .5 2.5 .5 8.2 .5-6.7 .5 7.9 .5-12.4 .5-1 .5 7.2 .5 3.2 .5-7 .5 6.2 .5 1.5 .5 .7 .5-5.7 .5 .2 .5-7.7 .5 8.1 .5 1.3 .5 5.5 .5-13.1 .5 2.1 .5-.8 .5 9.3 .5-16.7 .5 7 .5 15.3 .5-6.8 .5-9.7 .5 6.2 .5 4.4 .5-1.4 .5-3.8 .5-2.7 .5 7.8 .5-4 .5 3.9 .5-2 .5-4.2 .5 9.3 .5-9.4 .5 4.5 .5-5.2 .5 2 .5-.1 .5-2 .5 4.4 .5 5.2 .5 2.6 .5-2 .5-7.8 .5 7.9 .5-5.1 .5 6.7 .5-14.8 .5 13.3 .5-10.1 .5 8.5 .5-7.9" fill="none" stroke="#000" stroke-width="1.9" stroke-linejoin="round" />
<path d="M609 274l.5 12 .5-13.4 .5 17.4 .5-2.9 .5-6.2 .5-4.5 .5 6.3 .5-.1 .5 5.9 .5-9.9 .5 1.9 .5 1.7 .5-1.2 .5-1.8 .5-5.8 .5 .4 .5 5.1 .5 2.4 .5 6.5 .5 7 .5-3.2 .5-7 .5 7.9 .5-10.6 .5-2.2 .5 15.1 .5-17.9 .5 3.4 .5 .8 .5 9.2 .5-10.9 .5 7.3 .5-6.3 .5-4.4 .5 7.8 .5-.4 .5-7 .5 1.5 .5 .4 .5 9.3 .5-2.6 .5-1.2 .5 1.3 .5-5.1 .5 5.1 .5-5.8 .5-3.8 .5 3.3 .5 4.8 .5-.6 .5 7.9 .5-11.8 .5 10.5 .5 6 .5-6.9 .5 6.7 .5-3.2 .5-3.5 .5 12.2 .5-13 .5 12.9 .5-7.2 .5-2.5 .5 .6 .5 1.1 .5-.3 .5 6.2 .5-11.1 .5 16.8 .5-1.9 .5 3.2 .5-12.2 .5-6.8 .5 9.2 .5 2.8 .5 2.7 .5-4 .5 2.6 .5 1.5 .5-8.7 .5 18 .5-15.2 .5 7.5 .5 4.4 .5-9.7 .5 4.3 .5 8.8 .5-10 .5 7.2 .5-3.9 .5-.2 .5 2.8 .5-4.9 .5 .2 .5 6.4 .5-3.6 .5 1.4 .5-8.8 .5 6.5 .5 6.5 .5-1.5 .5-2.8 .5-4.4 .5-.4 .5 5.7 .5 5.4 .5-7.2 .5 6.8 .5-8.3 .5 8.1 .5-11.6 .5 6.5 .5-6.5 .5 9.3 .5-.4 .5-7.9 .5 1.2 .5 1.8 .5-5.4 .5 3.1 .5 .5 .5 8.8 .5 3.3 .5-9.5 .5 1 .5 2.8 .5-3.8 .5 1.4 .5 6.1 .5-3.1 .5-1.5 .5-2.5 .5 10.9 .5-11.1 .5 3.9 .5-6.1 .5 2.3 .5 3.7 .5-2.6 .5 4.9 .5-2.5 .5-7.6 .5-4.9 .5 17.4 .5-8.3 .5 10.9 .5-11.2 .5-7.7 .5 3.5 .5-7.9 .5-2 .5-8.4 .5 8.2 .5 2.4 .5-8.6 .5 12.2 .5-12.5 .5 4.3 .5-10 .5-1.6 .5 21.3 .5-3.6 .5-1.5 .5-15.1 .5 10.1 .5 1 .5-1.8 .5 1.1 .5-6.5 .5 4 .5-5.2 .5 4.1 .5 3.8 .5-6.1 .5 2.6 .5-.8 .5 2.3 .5 4.8 .5-3.7 .5 .8 .5-9.7 .5 5.6 .5 6.2 .5-8.9 .5 2.2 .5-2.8 .5 12.1 .5-9.5 .5-1.5 .5 7.1 .5 2.5 .5-3.2 .5 2.6 .5-4.2 .5-1.8 .5-1.7 .5-.4 .5-.5 .5 5.1 .5-2.6 .5 1 .5 2.7 .5-3.5 .5-7 .5 3 .5-1.7 .5-4.2 .5 10.6 .5-6.9 .5-.5 .5 1 .5 10.3 .5-6.3 .5 6.9 .5-5.8 .5-1.9 .5 5.3 .5 .1 .5-2.5 .5-6.2 .5 3.1 .5-3.9 .5 4.8 .5 1.9 .5 7.3 .5-.4 .5-3.9 .5 1.4 .5-3.9 .5 13.4 .5-6.6 .5 5.9 .5-12 .5 .1 .5 3.4 .5-4.6 .5 .6 .5-6.9 .5 10.1" fill="none" stroke="#c04040" stroke-width="1.71" stroke-linejoin="round" />
<path d="M609 273.5l.5 12 .5-13.4 .5 17.4 .5-2.9 .5-6.2 .5-4.5 .5 6.3 .5-.1 .5 5.9 .5-9.9 .5 1.9 .5 1.7 .5-1.2 .5-1.8 .5-5.8 .5 .4 .5 5.1 .5 2.4 .5 6.5 .5 7 .5-3.2 .5-7 .5 7.9 .5-10.6 .5-2.2 .5 15.1 .5-17.9 .5 3.4 .5 .8 .5 9.2 .5-10.9 .5 7.3 .5-6.3 .5-4.4 .5 7.8 .5-.4 .5-7 .5 1.5 .5 .4 .5 9.3 .5-2.6 .5-1.2 .5 1.3 .5-5.1 .5 5.1 .5-5.8 .5-3.8 .5 3.3 .5 4.8 .5-.6 .5 7.9 .5-11.8 .5 10.5 .5 6 .5-6.9 .5 6.7 .5-3.2 .5-3.5 .5 12.2 .5-13 .5 12.9 .5-7.2 .5-2.5 .5 .6 .5 1.1 .5-.3 .5 6.2 .5-11.1 .5 16.8 .5-1.9 .5 3.2 .5-12.2 .5-6.8 .5 9.2 .5 2.8 .5 2.7 .5-4 .5 2.6 .5 1.5 .5-8.7 .5 18 .5-15.2 .5 7.5 .5 4.4 .5-9.7 .5 4.3 .5 8.8 .5-10 .5 7.2 .5-3.9 .5-.2 .5 2.8 .5-4.9 .5 .2 .5 6.4 .5-3.6 .5 1.4 .5-8.8 .5 6.5 .5 6.5 .5-1.5 .5-2.8 .5-4.4 .5-.4 .5 5.7 .5 5.4 .5-7.2 .5 6.8 .5-8.3 .5 8.1 .5-11.6 .5 6.5 .5-6.5 .5 9.3 .5-.4 .5-7.9 .5 1.2 .5 1.8 .5-5.4 .5 3.1 .5 .5 .5 8.8 .5 3.3 .5-9.5 .5 1 .5 2.8 .5-3.8 .5 1.4 .5 6.1 .5-3.1 .5-1.5 .5-2.5 .5 10.9 .5-11.1 .5 3.9 .5-6.1 .5 2.3 .5 3.7 .5-2.6 .5 4.9 .5-2.5 .5-7.6 .5-4.9 .5 17.4 .5-8.3 .5 10.9 .5-11.2 .5-7.7 .5 3.5 .5-7.9 .5-2 .5-8.4 .5 8.2 .5 2.4 .5-8.6 .5 12.2 .5-12.5 .5 4.3 .5-10 .5-1.6 .5 21.3 .5-3.6 .5-1.5 .5-15.1 .5 10.1 .5 1 .5-1.8 .5 1.1 .5-6.5 .5 4 .5-5.2 .5 4.1 .5 3.8 .5-6.1 .5 2.6 .5-.8 .5 2.3 .5 4.8 .5-3.7 .5 .8 .5-9.7 .5 5.6 .5 6.2 .5-8.9 .5 2.2 .5-2.8 .5 12.1 .5-9.5 .5-1.5 .5 7.1 .5 2.5 .5-3.2 .5 2.6 .5-4.2 .5-1.8 .5-1.7 .5-.4 .5-.5 .5 5.1 .5-2.6 .5 1 .5 2.7 .5-3.5 .5-7 .5 3 .5-1.7 .5-4.2 .5 10.6 .5-6.9 .5-.5 .5 1 .5 10.3 .5-6.3 .5 6.9 .5-5.8 .5-1.9 .5 5.3 .5 .1 .5-2.5 .5-6.2 .5 3.1 .5-3.9 .5 4.8 .5 1.9 .5 7.3 .5-.4 .5-3.9 .5 1.4 .5-3.9 .5 13.4 .5-6.6 .5 5.9 .5-12 .5 .1 .5 3.4 .5-4.6 .5 .6 .5-6.9 .5 10.1" fill="none" stroke="#0aae0a" stroke-width="1.9" stroke-linejoin="round" />
<path d="M84.8 394.8l.5 2.1 .5 6.3 .5-4.6 .5 2.2 .5 .9 .5-.8 .5-5.1 .5-1.9 .5 7.4 .5 .3 .5-1.8 .5-2.4 .5 4.7 .5-4 .5-6 .5 7.4 .5 1 .5 1.2 .5-7.5 .5 .7 .5 4.8 .5-3.5 .5 1.7 .5 4.5 .5-2.4 .5 6.4 .5-6.8 .5 6.3 .5-2.9 .5 6.7 .5-11.3 .5-.5 .5 6.2 .5-8.1 .5 .2 .5 3.2 .5 .6 .5-8 .5 7.5 .5-2.6 .5 1.3 .5 .9 .5-1.6 .5 5.7 .5-2.7 .5-3 .5 1.2 .5 4.3 .5-1.1 .5 2.2 .5-7.4 .5-.5 .5 6.7 .5-10.9 .5 5.9 .5-5.5 .5-7.4 .5-6.1 .5 8.3 .5-6.2 .5-.2 .5-4.8 .5 12.9 .5-5 .5-.6 .5 1.5 .5-.9 .5-.8 .5 1.7 .5-3.7 .5-10.5 .5 14.6 .5-1.6 .5-2 .5 6.9 .5-13.6 .5-6.9 .5 19.4 .5-4.9 .5-9.4 .5 5.3 .5 4.4 .5-8.4 .5 7.8 .5 6.7 .5-3.4 .5-6.5 .5 1.4 .5-5.9 .5 4.6 .5-2.2 .5-3.1 .5-1.8 .5 14.5 .5-8.4 .5-5.1 .5 2.5 .5 8.3 .5 .5 .5-10.2 .5 3.5 .5 2.9 .5-5.7 .5-3.9 .5 .8 .5 4.2 .5-3.7 .5-2.5 .5 4.6 .5 5.1 .5-1.3 .5-4.3 .5 9.4 .5-12.2 .5 3 .5-5.9 .5 9.4 .5-4.2 .5-7.1 .5 3.6 .5 11.6 .5-4.9 .5-2.9 .5 3.2 .5-11.1 .5 3.3 .5-2.4 .5 2.1 .5 1.8 .5 3.9 .5 2 .5-.2 .5 7.4 .5-14.3 .5 2.5 .5 3.1 .5-5.2 .5 3.1 .5 3.9 .5-5 .5 6.8 .5 4.1 .5-9.7 .5-4.5 .5 11.3 .5-4.2 .5 6.5 .5-1.5 .5 4.7 .5 4.9 .5-.1 .5-3.9 .5-2.3 .5-4.6 .5 2.7 .5 7.4 .5 4.5 .5-3.4 .5 .4 .5-4.5 .5-.2 .5-.3 .5 10.5 .5-11.6 .5 11.9 .5-7 .5 6.4 .5-1.3 .5 2.3 .5 2 .5-8.8 .5-.8 .5 2.4 .5-1.5 .5 6.4 .5-3.4 .5 .6 .5 1.8 .5-3.9 .5 7 .5-13.1 .5 9.3 .5 1.2 .5-5.6 .5 .4 .5 7.1 .5-5.4 .5-7.1 .5 2.6 .5 10.5 .5-8.4 .5 9.9 .5 .3 .5-7 .5 3.3 .5-6.1 .5 2 .5-1.3 .5 5.8 .5-8.4 .5 5.2 .5 .8 .5 2.2 .5-11.8 .5 1.5 .5 4.1 .5 3 .5 1.6 .5 .3 .5 8.2 .5-6.1 .5-.2 .5-4.8 .5 5.7 .5-.4 .5 0 .5-3.5 .5 3.3 .5 4.1 .5-10.3 .5-6.1 .5 13.4 .5-.4 .5-4.3 .5-.9 .5 14.4 .5-14.4 .5-3.4 .5 3.4 .5 4.4 .5-4.9 .5 1 .5 3.1 .5-3.2 .5 2.5 .5-.7 .5-4.5 .5 5.1 .5-5.5 .5 9.4" fill="none" stroke="#000" stroke-width="1.9" stroke-linejoin="round" />
<path d="M84.8 393.8l.5 3.1 .5-7.1 .5 6.1 .5-3.6 .5 12.3 .5-7.2 .5 2.8 .5-10.1 .5 2.3 .5 4.8 .5-5.3 .5 11.1 .5-6.9 .5 2.5 .5 .7 .5-2.1 .5 4.2 .5-6.5 .5 4.6 .5 3.7 .5-4.4 .5-.3 .5-2.1 .5 1.8 .5 2.7 .5-4.1 .5-6.4 .5 8.2 .5-1.4 .5 2.8 .5-1.9 .5 6.8 .5-12.4 .5 1.1 .5 7.2 .5-7.5 .5 6 .5-1.5 .5-8.6 .5 11.6 .5 3.2 .5-5.2 .5-7.1 .5 9.7 .5-8.1 .5 4 .5 2.4 .5-5.3 .5-4 .5 6.8 .5-.3 .5-4.8 .5-.9 .5 5.4 .5-4.9 .5-2.9 .5-1.8 .5 2.1 .5-.9 .5-1.4 .5-5.5 .5 4.4 .5-1.3 .5 2.9 .5 4.6 .5-1 .5-1.6 .5-2.5 .5-2 .5 2.7 .5-3.7 .5 .4 .5-2.3 .5 3.3 .5-.3 .5 8.3 .5-5.8 .5-4.3 .5 4.9 .5-5.6 .5 6.3 .5-1.1 .5 9.1 .5-17.6 .5 4.3 .5-.4 .5 1.7 .5 1.6 .5-7.5 .5 .9 .5 4.4 .5 2.8 .5-9.3 .5-2 .5 11.7 .5-1.5 .5 1 .5-9.1 .5 3.2 .5 1.7 .5 .8 .5-2.5 .5 .2 .5 4.5 .5-6.5 .5-.6 .5 .4 .5-.5 .5 2.7 .5-1.6 .5-1.1 .5 7.9 .5-5 .5-2.9 .5 6.9 .5-8 .5 2.2 .5-.5 .5-2.2 .5 .7 .5 1.9 .5-6.7 .5 4.4 .5 2.6 .5 0 .5 0 .5 8.7 .5-7.4 .5-3.6 .5 0 .5 .7 .5 2.3 .5-2.7 .5 8.2 .5-10.8 .5 7.9 .5-.1 .5-6.6 .5 8 .5 .1 .5-4.7 .5 13.2 .5-6.5 .5-4 .5-.2 .5-.7 .5 5 .5 0 .5-5.4 .5 2.5 .5 2.3 .5 2.3 .5 1 .5-.4 .5 6.5 .5 2.2 .5-3.3 .5-9.7 .5 8.7 .5 3.1 .5-2.7 .5 1.5 .5-.7 .5-6.8 .5-4.4 .5 13.5 .5-4.8 .5 4 .5-3.1 .5 .6 .5 6.6 .5-10.9 .5 5.1 .5-4.6 .5 5 .5 1.7 .5 .8 .5-2.1 .5-6.5 .5 6.9 .5 2.8 .5 .5 .5 4.9 .5-6.7 .5-6.7 .5 2.1 .5 2.6 .5 4.2 .5-9.4 .5 8.8 .5-1.1 .5-6.4 .5 6.3 .5-5.8 .5 3.2 .5-1.2 .5 2.3 .5-6 .5 7.3 .5-11.5 .5 7.6 .5-.7 .5 9.2 .5-4.4 .5-4.4 .5-1.7 .5 4 .5-2.8 .5 12.2 .5-21.3 .5 12.1 .5-10.7 .5 14.9 .5-7.8 .5 10.3 .5-9.2 .5 7 .5-3.7 .5 4.2 .5-5 .5-12.7 .5 9.6 .5-3.5 .5 10.7 .5-1.7 .5-2.3 .5 2 .5-1.1 .5-3.3 .5 10.8 .5-7.3 .5-1.8 .5-5.4 .5 3.6 .5 2.8 .5-.8 .5-1.3 .5 1.9 .5-4.6 .5 4.9" fill="none" stroke="#000" stroke-width="1.9" stroke-linejoin="round" />
<path d="M84.8 391.2l.5 3 .5 .5 .5 6.8 .5-1.6 .5-1.7 .5-5.3 .5 3.2 .5 5.2 .5 1.9 .5-11.7 .5 4.5 .5 2.3 .5 1 .5-1.4 .5 2.8 .5-9 .5 12.8 .5-11.6 .5 5.2 .5 2 .5 2.7 .5-1.1 .5-.1 .5 1.7 .5-6.1 .5 3.9 .5 3.4 .5-9.9 .5-2.7 .5 1.7 .5 10.3 .5-.7 .5-6.9 .5 2.6 .5 1 .5 2.5 .5-12.6 .5 5.7 .5 1.3 .5 2.5 .5-1.1 .5-1.7 .5 2.6 .5-12.2 .5 24.2 .5-9.7 .5 .3 .5-6.6 .5 4.6 .5 7 .5-1.4 .5-8.1 .5-6.2 .5 5.4 .5-2.7 .5 4.4 .5-9.8 .5 4.1 .5 1.7 .5-3.2 .5 6.6 .5-9.5 .5-.4 .5 3.8 .5 5.1 .5-4.9 .5-1.2 .5 6 .5-2.5 .5-3.2 .5 2.8 .5-1.6 .5 3.6 .5-2 .5-4 .5 1.4 .5 .2 .5 3.4 .5 0 .5-5.2 .5 2.8 .5 2.2 .5 3.4 .5-3.7 .5 7.3 .5-8.3 .5 3.1 .5-4.6 .5-2.9 .5 4.8 .5 1.6 .5-.7 .5-.8 .5-2 .5-2.1 .5 2.2 .5 3.3 .5 2.1 .5-18.3 .5 16.8 .5 2.1 .5 .8 .5-3.8 .5 1.2 .5-4.8 .5 1.5 .5 2.7 .5-7 .5 1.3 .5 4.3 .5-6.6 .5 5.9 .5-6.6 .5 7.3 .5-.8 .5-2.5 .5-1.6 .5 1.8 .5-7.4 .5 7.9 .5 2.2 .5 4.7 .5-7.4 .5 1.5 .5 6.7 .5 1.5 .5-9.6 .5 6.6 .5 .6 .5-2.9 .5-6.4 .5 .2 .5 6.5 .5 7.6 .5-10.9 .5 7.6 .5 1.4 .5-13.6 .5 2.8 .5 9.1 .5-2.3 .5-1.8 .5-2.4 .5 2.7 .5-5.4 .5 13.5 .5-15.6 .5-2.5 .5 8.6 .5 5.9 .5-8.2 .5 2.2 .5-3.9 .5 4.3 .5-3.8 .5 .3 .5-1.8 .5 4.2 .5 10.6 .5-8.3 .5 1 .5 8.9 .5-12.4 .5-1.6 .5 6.6 .5-7.6 .5 6.8 .5 3.5 .5-9.7 .5 2.5 .5 9.6 .5-12 .5 1.7 .5 3.9 .5-2.4 .5-2.3 .5 10.6 .5-9.4 .5 3.9 .5-3.2 .5 .8 .5-4.9 .5 9.9 .5-5.8 .5 7.3 .5-10.5 .5 2.9 .5 4.2 .5-1.6 .5-3.3 .5 2.2 .5-5 .5 5.8 .5-11.7 .5 12.3 .5 5.1 .5-2 .5-.2 .5-5.5 .5 3.9 .5-3.8 .5 1.3 .5 0 .5-14.2 .5 18.6 .5-2 .5 1.7 .5-7.8 .5 7.1 .5-.9 .5-11.8 .5 2.1 .5 7.8 .5-3.1 .5 2.8 .5-2.7 .5 9.3 .5-14.7 .5 2.3 .5 1.7 .5-1.7 .5 3.4 .5 2.4 .5-5.7 .5 7.4 .5 4.1 .5-.9 .5 3.9 .5-3.8 .5-5 .5 7.8 .5-4.6 .5 5.1 .5-9 .5-8.3 .5 4.1 .5 5.8 .5 1.6 .5-3.3 .5 5.3" fill="none" stroke="#000" stroke-width="1.9" stroke-linejoin="round" />
<path d="M84.8 394l.5 1.9 .5 7.3 .5-4 .5 .2 .5 5.7 .5-1.4 .5-8.2 .5 4.3 .5-8.2 .5 7.3 .5 1.8 .5-9.2 .5 14.2 .5 1.9 .5-6.5 .5 1.9 .5 2.5 .5-7.3 .5 5.3 .5-2.8 .5-8.3 .5 2.7 .5 1.4 .5 7.1 .5-4.2 .5 3.9 .5-6.3 .5-3.5 .5 14.4 .5 2.9 .5-10.1 .5-2.6 .5 6.1 .5-10 .5 3.9 .5-5.3 .5 8.3 .5-1 .5-2.8 .5-1.1 .5-3.8 .5 3 .5 8.9 .5-6.8 .5 7 .5-9.2 .5 3.4 .5-1.7 .5 .9 .5 4.4 .5-11.8 .5 12.7 .5 .4 .5-2.3 .5 .9 .5-.6 .5 4.5 .5-2.1 .5-3.7 .5 4.4 .5 3.4 .5-2.5 .5-1.5 .5 .8 .5-3 .5 .1 .5-6.1 .5 7.3 .5 5.1 .5-6 .5-2.2 .5 7.8 .5-3.2 .5-.1 .5 1.4 .5 1 .5-3.2 .5-3.4 .5 11.1 .5-7.2 .5-3.6 .5 4.1 .5 4.4 .5-11.3 .5 11.8 .5-6.3 .5 9.2 .5-5.7 .5-3.3 .5 5.8 .5 .1 .5-7 .5 2.5 .5-3.2 .5 6.2 .5-10 .5 5.3 .5-8.4 .5 11.7 .5-12.2 .5 5.1 .5 5.7 .5-2.7 .5-.4 .5-2.2 .5 2.1 .5-5.5 .5 8.9 .5 2.1 .5-.2 .5-3.4 .5 5.4 .5-3.3 .5 2.1 .5-2.4 .5-1.5 .5-3.4 .5-8.1 .5 14.1 .5-3.3 .5 9 .5-17 .5 12.1 .5-7.6 .5 4 .5-3.8 .5 5.3 .5-1.6 .5 3.9 .5-3.2 .5 1.5 .5 3.4 .5-3.3 .5-2.8 .5 5.9 .5-5.8 .5 2.3 .5-3.2 .5-1.4 .5-10 .5 15.8 .5-7.9 .5 8.1 .5 4.6 .5-13.4 .5 9.4 .5-4.4 .5 1.9 .5-7.5 .5 4.9 .5 .1 .5 5 .5 2.7 .5-8.3 .5-3.3 .5 10.6 .5-10.3 .5-.2 .5 .5 .5 1.5 .5 1 .5-5.5 .5 2 .5 8.5 .5-1.3 .5-4.9 .5-.8 .5-2.2 .5 5.4 .5-6.6 .5 2.7 .5-2.5 .5-.8 .5 2.8 .5-.1 .5-2.5 .5 2.1 .5 .6 .5-2.3 .5-.9 .5 2.2 .5 3.6 .5 1.7 .5-4 .5-1.9 .5 1 .5 8.2 .5-4.2 .5-8 .5 3.8 .5-2.1 .5 .7 .5-5.7 .5 7.3 .5-5.9 .5 3.2 .5 9 .5-2.2 .5-8 .5-.8 .5 .5 .5-4.2 .5 3.9 .5 3 .5-3.3 .5 7.7 .5-3.5 .5-2.1 .5 9.7 .5-4.4 .5-2.8 .5 7.6 .5-2.3 .5-8.7 .5 4.4 .5-3.3 .5-4.3 .5 14.3 .5-1.8 .5-11.9 .5 7.6 .5-9.2 .5 11.6 .5-4.8 .5-1.1 .5 6.6 .5-5.3 .5-1.2 .5 5 .5-5.3 .5 5.1 .5-3.8 .5 3.5 .5-.9 .5 .7 .5-7.7 .5 12.4 .5-8.9 .5 8.3 .5-10.2" fill="none" stroke="#000" stroke-width="1.9" stroke-linejoin="round" />
<path d="M84.8 407.3l.5-6.3 .5-8.4 .5 4.8 .5 3.8 .5 1.4 .5-11.8 .5 5.4 .5 2.5 .5 2.7 .5 2.3 .5-5.5 .5-3.7 .5 9.6 .5-3.3 .5 6.4 .5-7.5 .5 6.2 .5-8.1 .5 6.1 .5-.9 .5 1.9 .5-7.3 .5 4.3 .5-3.8 .5 3.6 .5 4.1 .5 12.3 .5-15.4 .5 3.5 .5-3.1 .5 5.3 .5-3.5 .5 3.1 .5-3.6 .5 10.7 .5-5.4 .5-16.1 .5 10.5 .5-1.2 .5-11.9 .5 7 .5 2.1 .5-1.4 .5 4.5 .5-10.1 .5 13.3 .5 .2 .5-2.2 .5-3.6 .5 1.7 .5-1.8 .5 9.5 .5-2.2 .5 8.8 .5-11.2 .5 10.6 .5-9.5 .5 3.2 .5-3.5 .5 9.3 .5-2 .5 4.6 .5 5.2 .5-7.6 .5 2.6 .5 3.1 .5-4.6 .5-2.1 .5 5.1 .5 1.1 .5 1.8 .5 .7 .5-7.4 .5 6.2 .5 4.5 .5-8.5 .5 4.7 .5-4.7 .5 4.5 .5 8.5 .5-8 .5-5.9 .5 6.9 .5-.7 .5 4.7 .5-12.9 .5 2.4 .5 4.4 .5-7.7 .5 14 .5-16.4 .5 6.2 .5-3.4 .5 4.3 .5 7.7 .5-1.1 .5 1.7 .5-1.6 .5-13.7 .5 12.1 .5-11.1 .5 7 .5 .6 .5-.8 .5 5.4 .5-6.8 .5 13.3 .5-5.9 .5 3.1 .5-2.2 .5 .7 .5-4.9 .5 10.5 .5-15.7 .5 7.9 .5-2.3 .5-1.2 .5 2.8 .5-5.5 .5 8.4 .5-.4 .5-3.6 .5 3.4 .5-9.2 .5-4 .5 6.4 .5 1.8 .5 14.2 .5-14.1 .5 6.5 .5-.9 .5 6.6 .5-10.4 .5 2.8 .5-4.4 .5-3.4 .5-.7 .5 1.1 .5 11.6 .5-6 .5-2.5 .5 .6 .5-3.4 .5 2.4 .5-.4 .5 3.2 .5 1 .5-13.6 .5 9.4 .5 5.6 .5-12.9 .5 3.7 .5 1.8 .5 4.5 .5-2.8 .5-4.2 .5 3.7 .5 2.7 .5-3.4 .5 7.6 .5-7.5 .5-7.7 .5 1.4 .5 3.3 .5-.4 .5 4.3 .5-1.4 .5 7 .5-4.7 .5 3.4 .5-11.7 .5 1.7 .5 5.8 .5-3.1 .5 2.7 .5-2 .5-4.6 .5 12.1 .5-2.9 .5-14.1 .5 4.8 .5 3.3 .5 3.4 .5-3.9 .5-6.8 .5 11.4 .5-5.4 .5 7.3 .5-4.7 .5 3.6 .5-.9 .5 .2 .5-7.3 .5 8 .5-4.4 .5-7.5 .5 4.4 .5 .2 .5 4.2 .5 1.1 .5-9.4 .5 9.5 .5-4.1 .5-5.2 .5 9.8 .5-8.3 .5-2.3 .5 10.1 .5 .7 .5-8.1 .5 8.8 .5-.3 .5-7.9 .5 13 .5-10.7 .5 1.4 .5-13.5 .5 15.6 .5-6.5 .5 5.4 .5-11.2 .5 14.9 .5 1.5 .5 2.2 .5-25.2 .5 18.4 .5-1.3 .5-17.5 .5 11.8 .5 3.4 .5 7.8 .5-11.8 .5 5.4 .5-1.4 .5 2.2 .5-4 .5 6.6 .5 .4 .5-12.1 .5 12.8" fill="none" stroke="#c04040" stroke-width="1.71" stroke-linejoin="round" />
<path d="M84.8 406.8l.5-6.3 .5-8.4 .5 4.8 .5 3.8 .5 1.4 .5-11.8 .5 5.4 .5 2.5 .5 2.7 .5 2.3 .5-5.5 .5-3.7 .5 9.6 .5-3.3 .5 6.4 .5-7.5 .5 6.2 .5-8.1 .5 6.1 .5-.9 .5 1.9 .5-7.3 .5 4.3 .5-3.8 .5 3.6 .5 4.1 .5 12.3 .5-15.4 .5 3.5 .5-3.1 .5 5.3 .5-3.5 .5 3.1 .5-3.6 .5 10.7 .5-5.4 .5-16.1 .5 10.5 .5-1.2 .5-11.9 .5 7 .5 2.1 .5-1.4 .5 4.5 .5-10.1 .5 13.3 .5 .2 .5-2.2 .5-3.6 .5 1.7 .5-1.8 .5 9.5 .5-2.2 .5 8.8 .5-11.2 .5 10.6 .5-9.5 .5 3.2 .5-3.5 .5 9.3 .5-2 .5 4.6 .5 5.2 .5-7.6 .5 2.6 .5 3.1 .5-4.6 .5-2.1 .5 5.1 .5 1.1 .5 1.8 .5 .7 .5-7.4 .5 6.2 .5 4.5 .5-8.5 .5 4.7 .5-4.7 .5 4.5 .5 8.5 .5-8 .5-5.9 .5 6.9 .5-.7 .5 4.7 .5-12.9 .5 2.4 .5 4.4 .5-7.7 .5 14 .5-16.4 .5 6.2 .5-3.4 .5 4.3 .5 7.7 .5-1.1 .5 1.7 .5-1.6 .5-13.7 .5 12.1 .5-11.1 .5 7 .5 .6 .5-.8 .5 5.4 .5-6.8 .5 13.3 .5-5.9 .5 3.1 .5-2.2 .5 .7 .5-4.9 .5 10.5 .5-15.7 .5 7.9 .5-2.3 .5-1.2 .5 2.8 .5-5.5 .5 8.4 .5-.4 .5-3.6 .5 3.4 .5-9.2 .5-4 .5 6.4 .5 1.8 .5 14.2 .5-14.1 .5 6.5 .5-.9 .5 6.6 .5-10.4 .5 2.8 .5-4.4 .5-3.4 .5-.7 .5 1.1 .5 11.6 .5-6 .5-2.5 .5 .6 .5-3.4 .5 2.4 .5-.4 .5 3.2 .5 1 .5-13.6 .5 9.4 .5 5.6 .5-12.9 .5 3.7 .5 1.8 .5 4.5 .5-2.8 .5-4.2 .5 3.7 .5 2.7 .5-3.4 .5 7.6 .5-7.5 .5-7.7 .5 1.4 .5 3.3 .5-.4 .5 4.3 .5-1.4 .5 7 .5-4.7 .5 3.4 .5-11.7 .5 1.7 .5 5.8 .5-3.1 .5 2.7 .5-2 .5-4.6 .5 12.1 .5-2.9 .5-14.1 .5 4.8 .5 3.3 .5 3.4 .5-3.9 .5-6.8 .5 11.4 .5-5.4 .5 7.3 .5-4.7 .5 3.6 .5-.9 .5 .2 .5-7.3 .5 8 .5-4.4 .5-7.5 .5 4.4 .5 .2 .5 4.2 .5 1.1 .5-9.4 .5 9.5 .5-4.1 .5-5.2 .5 9.8 .5-8.3 .5-2.3 .5 10.1 .5 .7 .5-8.1 .5 8.8 .5-.3 .5-7.9 .5 13 .5-10.7 .5 1.4 .5-13.5 .5 15.6 .5-6.5 .5 5.4 .5-11.2 .5 14.9 .5 1.5 .5 2.2 .5-25.2 .5 18.4 .5-1.3 .5-17.5 .5 11.8 .5 3.4 .5 7.8 .5-11.8 .5 5.4 .5-1.4 .5 2.2 .5-4 .5 6.6 .5 .4 .5-12.1 .5 12.8" fill="none" stroke="#0aae0a" stroke-width="1.9" stroke-linejoin="round" />
<path d="M215.7 397.3l.5 5.3 .5-.2 .5-3.5 .5 3.8 .5 .5 .5-4.2 .5-3.7 .5 6.9 .5-3.3 .5-2.9 .5 3.9 .5-5.8 .5 6 .5 5.3 .5-12.6 .5 9.6 .5-4 .5 1.5 .5-1.5 .5 4.5 .5-1.9 .5-2.2 .5-1.6 .5 2.6 .5 4.6 .5-6.9 .5 4.8 .5-.3 .5-6.8 .5 9.1 .5-3.4 .5 6.7 .5-1.5 .5-5.8 .5 .3 .5-2.5 .5-1.1 .5 6.4 .5-3.1 .5-.4 .5 .7 .5 2.4 .5 .8 .5-2.7 .5-.6 .5 .9 .5 5.7 .5-12.1 .5 1.8 .5 2.6 .5-3.1 .5 1 .5-1.9 .5-.2 .5-9.6 .5 3.8 .5-2.8 .5 3.2 .5-2.6 .5 1.7 .5-5.1 .5 2.4 .5-2.4 .5 .5 .5-.9 .5-2 .5 5.9 .5-2.7 .5 2 .5-6.4 .5-3.2 .5 3.5 .5 1.2 .5 2.4 .5 .5 .5 .1 .5 .6 .5-2.7 .5-2.1 .5-2.9 .5 4 .5-3.9 .5-1.2 .5 3.8 .5-1.4 .5 1.5 .5-4.9 .5 5.2 .5-2.7 .5-1.8 .5-2.1 .5-1.2 .5-1.2 .5 7.9 .5-8.6 .5 5.7 .5-2.9 .5-1.3 .5 0 .5 .8 .5 2.7 .5-1.3 .5-2 .5-4.3 .5-1.5 .5 10.4 .5-8.8 .5-1.9 .5 7.6 .5-8 .5 6.3 .5 .2 .5-2.3 .5 1.8 .5-7.2 .5 .2 .5 2.7 .5 .2 .5-.5 .5 1.3 .5-3.8 .5-4.4 .5 7.1 .5-2.1 .5 2.7 .5 3.4 .5-6.2 .5 1.2 .5-4.6 .5 5 .5-2 .5-.6 .5 1.7 .5-6.3 .5 4.6 .5-.6 .5 3.1 .5-10.4 .5 4.8 .5 6.4 .5-7.9 .5-.4 .5 6.2 .5 1.8 .5-6.6 .5-.9 .5 1.8 .5 2.1 .5 .2 .5 1.6 .5 4.4 .5 1.1 .5 2.6 .5-.2 .5-2.5 .5 6.9 .5-.4 .5-1.3 .5 2.1 .5 2.8 .5 .4 .5 .6 .5 3.7 .5 2 .5-2.9 .5 2 .5-2.1 .5 3.9 .5 2.7 .5 1.4 .5-1.7 .5-.5 .5-1.5 .5 3 .5-3.5 .5 3.9 .5-.1 .5-2.4 .5 3.9 .5-1.3 .5 2.7 .5-2.8 .5 3.1 .5 3.5 .5-3.8 .5 2.1 .5-3.9 .5 1.1 .5-4.3 .5 5.1 .5-2.8 .5 3.7 .5-6.4 .5 3.5 .5 2.8 .5 .9 .5-6 .5 3.7 .5 8.8 .5-5.2 .5-1.8 .5-8.6 .5 5.4 .5 4.3 .5-.8 .5 .6 .5 1.5 .5-2.5 .5 2.2 .5-7.7 .5 12.6 .5-8.2 .5-1 .5 6.3 .5-2.6 .5 1.1 .5-4.6 .5 2.6 .5 1.3 .5-5.4 .5 2.7 .5 0 .5-.2 .5-1.1 .5-1.7 .5 5 .5-.5 .5 2.7 .5-3.6 .5-1.7 .5-2.3 .5 4.5 .5-1.1 .5 6.8 .5 .9 .5-2.1 .5-7.3 .5-1.4 .5 3.4" fill="none" stroke="#000" stroke-width="2.0" stroke-linejoin="round" />
<path d="M215.7 398.4l.5 6.8 .5-3.8 .5-1.6 .5 1.2 .5 3.7 .5-6.4 .5 4.2 .5-5.4 .5 3.3 .5-1.3 .5 2.9 .5-.5 .5 3 .5-1.5 .5-3.7 .5-2.2 .5 1.5 .5 1.2 .5 .6 .5-1.6 .5 5.4 .5-.4 .5-3.6 .5-.6 .5 .7 .5 .6 .5 .1 .5-4.7 .5 3.5 .5-4.3 .5 5.6 .5 1.9 .5-5.1 .5 3.6 .5-2.3 .5-.2 .5 7.8 .5-3.2 .5-1.2 .5-2.7 .5 2.5 .5-1.7 .5 1.9 .5-4 .5 2.4 .5-.9 .5-3 .5 9.1 .5-3.3 .5-6.6 .5-3.8 .5 .3 .5-2.1 .5-1.2 .5-3.8 .5 1.7 .5 2.4 .5 .8 .5-7.2 .5 5.5 .5-3.1 .5-.4 .5 1.9 .5-1.3 .5 3.8 .5-.2 .5-3.2 .5-1.2 .5 6.9 .5 0 .5-4.6 .5-1.8 .5 3.1 .5 1.1 .5-6 .5 6.6 .5-6 .5 3.4 .5-5 .5 1.5 .5-1.7 .5 1.1 .5 2.7 .5-5.9 .5 1.6 .5 2.2 .5-3.2 .5 7.2 .5-10.6 .5 11.5 .5-9.7 .5 4.6 .5 1.6 .5-3.5 .5-6 .5 2.9 .5 1 .5 1.2 .5 .9 .5 .2 .5 .8 .5-7.5 .5 5.5 .5-8.4 .5 5.4 .5-3.9 .5-2.4 .5 7.7 .5-3 .5 2.7 .5-7.9 .5 .8 .5 3.1 .5-2 .5 1.9 .5-2.3 .5 .6 .5-2.7 .5 7 .5-5.1 .5-2.8 .5 5.3 .5-.9 .5-1 .5-.3 .5-2.1 .5 .5 .5-6.4 .5 1.6 .5 .8 .5 4.2 .5 2.5 .5-4.4 .5-.6 .5 3.9 .5-4.7 .5 2.8 .5-.9 .5-5.5 .5 4.6 .5-.6 .5-4.3 .5 0 .5-.9 .5 8.2 .5 3.4 .5-2.9 .5 3.8 .5-7.4 .5 9.5 .5 2.9 .5 .2 .5-6.5 .5 7 .5-2.7 .5 4.5 .5-4.2 .5 2.9 .5-.8 .5 4.1 .5-.8 .5 4.5 .5 .1 .5-.3 .5-.4 .5 .2 .5 1.8 .5 3.2 .5-1.3 .5 .6 .5-.9 .5 0 .5-1.7 .5-3.6 .5 7.5 .5 0 .5-4.5 .5 8.7 .5-9.1 .5 6.5 .5-2.1 .5 .3 .5 2.5 .5-.6 .5-2.6 .5-3.1 .5-.4 .5 4.3 .5 4.2 .5-2 .5-2.6 .5 1.2 .5 1.1 .5 3.2 .5-7.4 .5 4.6 .5-1.3 .5-3 .5-.7 .5 6.9 .5-2.7 .5-1.5 .5 1 .5 2.7 .5-2.6 .5 4.6 .5-5.5 .5-1.4 .5 2 .5-2.3 .5 1.8 .5 4.8 .5 1.5 .5-3.1 .5-1.2 .5-3.3 .5-.2 .5 4.2 .5-.5 .5-2.1 .5 .4 .5 6.1 .5-1.6 .5-2.7 .5 .6 .5 3.2 .5-2.6 .5-.3 .5-5.4 .5-.2 .5-.6 .5-.9 .5 6.7 .5 1.2 .5-3.6 .5 4.1 .5 0 .5-1.4 .5-4.1" fill="none" stroke="#000" stroke-width="2.0" stroke-linejoin="round" />
<path d="M215.7 405.3l.5-.2 .5-5.8 .5 7.5 .5-5.6 .5-2.5 .5 1.1 .5-4.3 .5 4.5 .5-3.8 .5 8.2 .5-2.4 .5-5.1 .5 5.8 .5-6.8 .5 5.6 .5 .9 .5-1.2 .5-3.6 .5 3.1 .5-.2 .5 .7 .5 4.3 .5 .6 .5-.3 .5-6.7 .5-.3 .5 2.3 .5 1.2 .5-7.5 .5 4.4 .5 7.2 .5-9.1 .5 1.5 .5 .1 .5 3.6 .5-1.7 .5-.8 .5-3.5 .5 6.3 .5-1.8 .5-2 .5 2.1 .5 2.3 .5-6.8 .5-.2 .5 1.5 .5 .5 .5-6.5 .5 6.8 .5 3.8 .5-5.7 .5 2.7 .5-13 .5 7 .5 3.6 .5 .3 .5-6.4 .5-1.2 .5 3.5 .5-5.1 .5 2.4 .5-4.1 .5 5 .5-.4 .5 4.7 .5-4.1 .5-3.2 .5 1.5 .5-3.8 .5 3.7 .5-.9 .5 1.7 .5 1.3 .5-9 .5 6.8 .5 1 .5-6 .5 9.1 .5-8.1 .5 9.4 .5-5.3 .5 .4 .5-2.3 .5 2 .5-6.4 .5 .5 .5-3.7 .5 7.4 .5-4 .5 4.2 .5-.6 .5-6 .5 6 .5-1.5 .5-.3 .5 .6 .5-1.6 .5-.1 .5 3 .5-6.3 .5-.8 .5 1.2 .5 5.2 .5-4.2 .5 6.5 .5-15.2 .5 7 .5 .6 .5 2 .5 3.1 .5-4.8 .5-2.6 .5 5.4 .5 2 .5-12.5 .5 9.2 .5-1 .5-3.5 .5 .9 .5 2.1 .5-.9 .5-1 .5-2.9 .5 4.2 .5-3 .5 2 .5-2.1 .5 2.2 .5 1.5 .5-1.7 .5 1.1 .5-6.3 .5 5.4 .5-.7 .5-2.9 .5 1.2 .5-8.1 .5 8.5 .5-1.6 .5-5.8 .5 8.2 .5-3.6 .5 2.6 .5-1.7 .5 2.5 .5-.1 .5-.1 .5 3.5 .5 2.1 .5-8.3 .5 8 .5-.8 .5-.4 .5 8.3 .5 0 .5-4.9 .5 .6 .5 6.1 .5-4 .5 1.2 .5-4.6 .5 5.8 .5 4.1 .5-4.4 .5 1.3 .5 5.9 .5-2.3 .5 2 .5-2.1 .5 2 .5-8.2 .5 2.8 .5-2.2 .5 12 .5-5.8 .5-.6 .5-1.6 .5-.5 .5-5.1 .5 15.1 .5-6.9 .5 .4 .5-4.4 .5 4.1 .5 1.3 .5-1.3 .5 2.1 .5-4.4 .5 3.5 .5 1.7 .5-.9 .5-.6 .5-1.4 .5-2.6 .5 4.6 .5-2.8 .5-1.7 .5 5.2 .5-7.1 .5 3.1 .5 4.1 .5 .5 .5-4 .5 1.4 .5 1.4 .5-1.8 .5-2.1 .5 3.7 .5-.8 .5-.2 .5 3 .5-2.4 .5-2.2 .5 1.8 .5 5.4 .5-8 .5 1.4 .5-1.6 .5 3.5 .5-4.8 .5 5.1 .5 1 .5-4.6 .5-.2 .5-1.9 .5 4.6 .5-3.5 .5 1.5 .5 .6 .5-.8 .5 4.6 .5 2.3 .5-11.1 .5 3.9 .5 3.2 .5-3.9 .5 1.6 .5 2.3 .5 3.5" fill="none" stroke="#000" stroke-width="2.0" stroke-linejoin="round" />
<path d="M215.7 404.5l.5-4.4 .5 1.3 .5-1.5 .5 .6 .5-3 .5-1.8 .5 4.2 .5 4 .5-.6 .5-7.9 .5 5 .5-1.3 .5 2.7 .5-4.1 .5 6 .5-3.3 .5 2.3 .5 .9 .5-8.4 .5 5.1 .5 5.2 .5-4.5 .5 3.1 .5-1.9 .5-2.7 .5 2.3 .5 2.3 .5 .8 .5 .4 .5-7.6 .5 5.8 .5-6.6 .5 3.7 .5-.2 .5 2.5 .5-1 .5 2.8 .5-5.5 .5 4.3 .5-1.3 .5-1.2 .5-3.6 .5 5.3 .5-.8 .5 1.4 .5-2.4 .5-.7 .5 2 .5-.2 .5-.4 .5 2.7 .5-8.6 .5 7.3 .5-14.9 .5 11.8 .5-5.4 .5 8.5 .5-8.7 .5 5.9 .5-6.2 .5-.4 .5 5.8 .5 .2 .5-4.7 .5 9.3 .5-8.2 .5 5.7 .5-7.7 .5 .1 .5 3.2 .5-3.3 .5 4.4 .5-7.8 .5 6.9 .5-2.2 .5-1.2 .5 3.5 .5-1.3 .5-.7 .5 3.8 .5-1.5 .5 .2 .5 2.9 .5-4.2 .5 2.7 .5-3.8 .5 3.1 .5-.2 .5-3.2 .5-2.9 .5 .7 .5 1 .5 4.5 .5-2.1 .5-.5 .5 2.3 .5 .8 .5 2 .5-6 .5 3.4 .5 .5 .5-4.9 .5 3.2 .5-3.1 .5 2 .5 1.9 .5-6.3 .5 2.5 .5 .2 .5 2.7 .5-2.5 .5 3.3 .5-3.7 .5 1.1 .5 3.3 .5-.9 .5-.5 .5-.5 .5 3.1 .5 1.1 .5-5.2 .5-1.1 .5-.9 .5 8.3 .5-7.9 .5-1.3 .5 4.8 .5 2.3 .5-6.8 .5 3.3 .5-3.9 .5 2.2 .5 6.9 .5-4.3 .5-1.3 .5 1 .5 .6 .5-1.1 .5-3.2 .5 0 .5 9.5 .5-8.3 .5 5.9 .5-5.7 .5 6 .5-1.6 .5-2.6 .5 6.8 .5-8.7 .5 2.3 .5-1.7 .5 .3 .5 1.4 .5-1.6 .5 2 .5 5.8 .5-9.7 .5 1.6 .5 1 .5 1.4 .5 4.4 .5-.9 .5-.7 .5-.8 .5 6.5 .5-10.5 .5 0 .5 3.3 .5 .7 .5-1.3 .5-1.8 .5-1.4 .5 3.1 .5-1.3 .5 .7 .5-1.8 .5 7.2 .5-2.7 .5 4.2 .5-7 .5 1.7 .5-.9 .5 .8 .5-.9 .5 .3 .5-5.4 .5 5.1 .5 2.9 .5-7.9 .5 4.8 .5 2.7 .5 2.1 .5-4.1 .5 1.7 .5 3.8 .5-1.3 .5-5.2 .5-.5 .5 4.8 .5-2.3 .5-2.3 .5 .9 .5 1.6 .5-1.5 .5-.2 .5 .1 .5-3.7 .5 9.6 .5-1.6 .5 .9 .5-4.9 .5 .8 .5 1.3 .5 .7 .5-7.8 .5 6.5 .5-4.1 .5 2.8 .5-1.8 .5 7.1 .5-3.5 .5-1.7 .5 4.2 .5-4.3 .5-2 .5 1.6 .5-.5 .5 1.2 .5 2.4 .5-2.9 .5 .2 .5 3.2 .5-2.1 .5 1.9 .5-2.4 .5-4.3 .5 .6 .5-1.6 .5 8.3" fill="none" stroke="#000" stroke-width="2.0" stroke-linejoin="round" />
<path d="M215.7 403.2l.5-2.6 .5-1.5 .5 4 .5-1.5 .5 1.4 .5-3.5 .5-.8 .5 8 .5-7.5 .5 2.7 .5 4.1 .5-9.5 .5 7.6 .5-1.9 .5-.6 .5 1.2 .5-4.3 .5-3.1 .5 12.2 .5-6.5 .5 3.5 .5 .7 .5-2.4 .5 .5 .5 .7 .5 2.6 .5-3.2 .5 2.2 .5-4.6 .5-.4 .5 1.6 .5 .9 .5 .4 .5 4.2 .5-3.3 .5-2.3 .5 5.7 .5-4.9 .5 .1 .5 .4 .5-2.5 .5-2.2 .5 3.6 .5-1.3 .5-1.7 .5 3 .5-1 .5-1.2 .5-3.1 .5 5.8 .5 6.7 .5-1.6 .5 1.6 .5-2.3 .5 3.8 .5-5.1 .5 .7 .5 2.9 .5-5.8 .5 4.4 .5 .8 .5 4.1 .5-7.1 .5 3.4 .5-3.2 .5 .3 .5-6.4 .5 5.3 .5 6.2 .5-1.9 .5-1 .5 6.8 .5-5.7 .5-5.2 .5 3 .5 .5 .5 4.9 .5-7.4 .5 3.9 .5 1.7 .5-5.3 .5 2.7 .5-6.2 .5 6.2 .5-6.8 .5 5.4 .5 6.3 .5-3.9 .5-1.1 .5 .4 .5 5.9 .5-4.7 .5 1.4 .5-4.3 .5 0 .5-1.8 .5 2.6 .5-1.6 .5 5 .5-1 .5-2.2 .5-1.3 .5-6.9 .5 6.8 .5 2.7 .5 1 .5-11.1 .5 2.1 .5 7.6 .5-3.5 .5 2.4 .5-.8 .5 3.2 .5-7.2 .5 3.8 .5 4.5 .5-2.2 .5-3 .5 3.8 .5-.5 .5-3.5 .5 4.7 .5 0 .5-2.4 .5 3.2 .5-6.3 .5 5.8 .5-2.8 .5-2.2 .5 1 .5 5.2 .5-5.1 .5 .7 .5-.9 .5-.4 .5 5.2 .5 3.7 .5-2.6 .5-2.4 .5 .7 .5-3.2 .5-.5 .5-2 .5 7.8 .5-5.4 .5-1.4 .5-.1 .5 2.1 .5-2.5 .5 1.4 .5 .1 .5 3.2 .5-8 .5 4.3 .5-3.3 .5 .5 .5 5.7 .5-3.2 .5-3.3 .5 2.3 .5-1.8 .5 3.4 .5-4.8 .5 2.8 .5-2.1 .5 .7 .5-.6 .5-1.4 .5 2.1 .5 2.6 .5-4.8 .5 .7 .5 2.2 .5-3.4 .5 4.8 .5-.6 .5-8.9 .5 4.8 .5-1.3 .5 5.7 .5 .2 .5-6.3 .5 1.5 .5 1.7 .5-.9 .5 3.2 .5 .7 .5-1.1 .5 1.4 .5-.5 .5-3 .5-1.1 .5-1 .5 4.6 .5 .2 .5 .3 .5-4 .5-.2 .5 1.9 .5 2.9 .5-2.7 .5-.5 .5-3.1 .5 3.7 .5 .3 .5-4.5 .5 8 .5-8 .5 5.5 .5-3.4 .5 1 .5-2.8 .5 .6 .5 3.7 .5-2.7 .5-.4 .5 3.6 .5-.6 .5-1.7 .5 .2 .5 4.4 .5-5.7 .5 1.7 .5 0 .5-5.4 .5-1.6 .5 6 .5 2.2 .5-2 .5-2.2 .5-.4 .5 4.3 .5-3.4 .5-3.9 .5 6.8 .5-1.4 .5 .4 .5 1.9 .5 .8" fill="none" stroke="#000" stroke-width="2.0" stroke-linejoin="round" />
<path d="M215.7 401.8l.5 0 .5 4.1 .5-4.6 .5 2.5 .5-5.7 .5 3.1 .5 2 .5-1 .5-5 .5 6.8 .5-4.2 .5 8.3 .5-6.1 .5 7.1 .5-4.6 .5-.6 .5-2.7 .5 1 .5 1.7 .5-7 .5 8.5 .5-6.2 .5 2.6 .5-7.1 .5 9.2 .5 .8 .5-1.3 .5 .1 .5-2 .5 1.5 .5 3.1 .5-4.8 .5 2.7 .5 .7 .5-2.8 .5 1.3 .5 0 .5-2.1 .5 8.5 .5-8.3 .5 6.2 .5-1.8 .5-9 .5 6.6 .5 2.2 .5-.6 .5-5 .5 3.4 .5-3.5 .5 2.1 .5 4 .5 3 .5 5.8 .5-1.9 .5 3.7 .5-4.9 .5 1.9 .5 3.6 .5 7.8 .5-8.3 .5-.1 .5 5 .5 4.4 .5-7.6 .5 4.7 .5-2.6 .5 8.8 .5-1.5 .5-.6 .5-.3 .5 .1 .5 1.8 .5-1.7 .5 0 .5 0 .5 3.9 .5-1.7 .5 5.5 .5-8.2 .5 8.1 .5 .1 .5 2.3 .5-4 .5-3.4 .5 2 .5 6.2 .5-3.9 .5-.1 .5-.2 .5 1.8 .5-.2 .5-3.6 .5 3 .5 5 .5 1.5 .5-4.3 .5-.9 .5 5.8 .5-4.2 .5-2.7 .5 3.3 .5 2.7 .5 2.8 .5-5.7 .5 3.2 .5-2.2 .5 4.5 .5-2.3 .5 .2 .5-3.5 .5 2.1 .5 .1 .5-9.5 .5 13.1 .5-2.4 .5-.5 .5-.3 .5 1.2 .5 .8 .5-4.4 .5 4.3 .5 0 .5-.1 .5-4.3 .5 4 .5-3.2 .5 4.9 .5 2.9 .5-1.2 .5-3.4 .5-.5 .5 .1 .5 2.8 .5-2.9 .5 .5 .5-5.6 .5 4.9 .5 .3 .5 .8 .5 5.3 .5-7.4 .5 .2 .5 5.7 .5-4.5 .5 2.2 .5 .5 .5-.9 .5-2.8 .5 4.4 .5 1.2 .5-7.8 .5 1.6 .5 3.1 .5-3.9 .5-2.8 .5 1.2 .5 3.1 .5-5.8 .5 3.2 .5 .1 .5-3.3 .5 3.2 .5 0 .5 .7 .5-.5 .5-7.3 .5 6.6 .5-1.2 .5 .8 .5-5.6 .5 4.8 .5-1.8 .5-4.8 .5 6.8 .5-6.3 .5-1 .5 3.9 .5-3.3 .5 2.6 .5-2.1 .5 1.2 .5 1.3 .5-2.8 .5 2.3 .5-.3 .5-5.2 .5 4.6 .5-1 .5-1.7 .5 2.7 .5 1.3 .5-2.9 .5-6.7 .5 5.4 .5-1.9 .5-.7 .5 1.6 .5-2.2 .5 5.5 .5-4.2 .5-1 .5 2 .5-.2 .5 .9 .5-1.8 .5-2.2 .5 .2 .5-6.9 .5 1.8 .5 7.1 .5-4.2 .5 6 .5-.3 .5-9.1 .5 4.3 .5 7.2 .5-10.9 .5 3.2 .5-2 .5-.1 .5-.3 .5 .6 .5 2.2 .5-4.7 .5 3.6 .5-3.6 .5 3.4 .5-.7 .5-3.3 .5 2.5 .5-2.7 .5-.4 .5 5.7 .5-8.8 .5 6.7 .5 .3 .5-3.9 .5 4.8 .5-.7" fill="none" stroke="#c04040" stroke-width="1.8" stroke-linejoin="round" />
<path d="M215.7 401.3l.5 0 .5 4.1 .5-4.6 .5 2.5 .5-5.7 .5 3.1 .5 2 .5-1 .5-5 .5 6.8 .5-4.2 .5 8.3 .5-6.1 .5 7.1 .5-4.6 .5-.6 .5-2.7 .5 1 .5 1.7 .5-7 .5 8.5 .5-6.2 .5 2.6 .5-7.1 .5 9.2 .5 .8 .5-1.3 .5 .1 .5-2 .5 1.5 .5 3.1 .5-4.8 .5 2.7 .5 .7 .5-2.8 .5 1.3 .5 0 .5-2.1 .5 8.5 .5-8.3 .5 6.2 .5-1.8 .5-9 .5 6.6 .5 2.2 .5-.6 .5-5 .5 3.4 .5-3.5 .5 2.1 .5 4 .5 3 .5 5.8 .5-1.9 .5 3.7 .5-4.9 .5 1.9 .5 3.6 .5 7.8 .5-8.3 .5-.1 .5 5 .5 4.4 .5-7.6 .5 4.7 .5-2.6 .5 8.8 .5-1.5 .5-.6 .5-.3 .5 .1 .5 1.8 .5-1.7 .5 0 .5 0 .5 3.9 .5-1.7 .5 5.5 .5-8.2 .5 8.1 .5 .1 .5 2.3 .5-4 .5-3.4 .5 2 .5 6.2 .5-3.9 .5-.1 .5-.2 .5 1.8 .5-.2 .5-3.6 .5 3 .5 5 .5 1.5 .5-4.3 .5-.9 .5 5.8 .5-4.2 .5-2.7 .5 3.3 .5 2.7 .5 2.8 .5-5.7 .5 3.2 .5-2.2 .5 4.5 .5-2.3 .5 .2 .5-3.5 .5 2.1 .5 .1 .5-9.5 .5 13.1 .5-2.4 .5-.5 .5-.3 .5 1.2 .5 .8 .5-4.4 .5 4.3 .5 0 .5-.1 .5-4.3 .5 4 .5-3.2 .5 4.9 .5 2.9 .5-1.2 .5-3.4 .5-.5 .5 .1 .5 2.8 .5-2.9 .5 .5 .5-5.6 .5 4.9 .5 .3 .5 .8 .5 5.3 .5-7.4 .5 .2 .5 5.7 .5-4.5 .5 2.2 .5 .5 .5-.9 .5-2.8 .5 4.4 .5 1.2 .5-7.8 .5 1.6 .5 3.1 .5-3.9 .5-2.8 .5 1.2 .5 3.1 .5-5.8 .5 3.2 .5 .1 .5-3.3 .5 3.2 .5 0 .5 .7 .5-.5 .5-7.3 .5 6.6 .5-1.2 .5 .8 .5-5.6 .5 4.8 .5-1.8 .5-4.8 .5 6.8 .5-6.3 .5-1 .5 3.9 .5-3.3 .5 2.6 .5-2.1 .5 1.2 .5 1.3 .5-2.8 .5 2.3 .5-.3 .5-5.2 .5 4.6 .5-1 .5-1.7 .5 2.7 .5 1.3 .5-2.9 .5-6.7 .5 5.4 .5-1.9 .5-.7 .5 1.6 .5-2.2 .5 5.5 .5-4.2 .5-1 .5 2 .5-.2 .5 .9 .5-1.8 .5-2.2 .5 .2 .5-6.9 .5 1.8 .5 7.1 .5-4.2 .5 6 .5-.3 .5-9.1 .5 4.3 .5 7.2 .5-10.9 .5 3.2 .5-2 .5-.1 .5-.3 .5 .6 .5 2.2 .5-4.7 .5 3.6 .5-3.6 .5 3.4 .5-.7 .5-3.3 .5 2.5 .5-2.7 .5-.4 .5 5.7 .5-8.8 .5 6.7 .5 .3 .5-3.9 .5 4.8 .5-.7" fill="none" stroke="#0aae0a" stroke-width="2.0" stroke-linejoin="round" />
<path d="M345 397.3l.5 .7 .5-.7 .5 2.1 .5-2 .5 1 .5 1.4 .5-1.8 .5 3.7 .5-4.3 .5-.2 .5 6.5 .5-1.2 .5-3.3 .5 1.7 .5-1.1 .5-2 .5 2.8 .5-.9 .5 2.2 .5-7.1 .5 6.1 .5-1.5 .5-2 .5 .6 .5 .1 .5-2.1 .5 1.7 .5 3.1 .5-5.3 .5 2.6 .5-4.5 .5 4.1 .5 2.2 .5-1 .5 .2 .5-2.7 .5 3.9 .5-3.4 .5 4.2 .5-1.6 .5-1.4 .5 4.3 .5-4.3 .5 3.3 .5-2.2 .5-.2 .5 2.3 .5-1.3 .5-2.5 .5-1.8 .5-.7 .5-1.8 .5-2.4 .5-3.2 .5-3.6 .5 5.7 .5-.3 .5 3.3 .5-1.8 .5 1.6 .5 1.3 .5-4.2 .5-1.7 .5 3.8 .5-3.3 .5 .7 .5 3.9 .5-2 .5 1.2 .5-5.7 .5 3.2 .5 2.5 .5-5.6 .5 3.4 .5 .5 .5-6.3 .5 9 .5-5.4 .5 1.3 .5 4.2 .5-8 .5 5.1 .5-2.1 .5 1.1 .5-2 .5 5 .5-5.7 .5 3.4 .5 .4 .5-1.5 .5-.5 .5 0 .5 3 .5-1.4 .5-1.2 .5-2.4 .5 2.9 .5 .8 .5-1.3 .5 3.4 .5-7.8 .5 10.2 .5-6.2 .5-2.3 .5-1.4 .5 6 .5-.7 .5-1.8 .5 .3 .5 .5 .5-1.4 .5 3.6 .5-1.2 .5-1.7 .5-3.5 .5 6.9 .5-4.3 .5-1.3 .5 5.3 .5-1.8 .5-5.8 .5 .7 .5 2.9 .5-2 .5 2.5 .5 6.4 .5 .8 .5-7 .5 2 .5 .1 .5-2.3 .5-3.2 .5 5.9 .5-2.9 .5 1.4 .5 .6 .5-3.5 .5 5.7 .5-3.7 .5 .3 .5-1.6 .5 2.7 .5 .9 .5-3.4 .5 2.8 .5-2.1 .5-1.6 .5 2.3 .5 2.4 .5 .1 .5 1.4 .5-3.8 .5 1.1 .5 1.1 .5 1.4 .5-1.4 .5-1.7 .5-1.2 .5 6.5 .5 0 .5-3.9 .5 5 .5-3.4 .5 1.3 .5 1.9 .5-3.9 .5-.6 .5-2.1 .5 4.8 .5 .5 .5 1 .5-.5 .5-1 .5 2.5 .5-4.9 .5 3.3 .5 .4 .5-1.3 .5 4.3 .5-2.9 .5 2.2 .5-.9 .5-2.4 .5 5 .5-1.8 .5-2.4 .5-.2 .5-2.1 .5 2.2 .5-.1 .5 1.1 .5-1.3 .5 2.4 .5-1.5 .5-3.3 .5 2.6 .5-.8 .5-.8 .5 2.5 .5 2.7 .5-4.6 .5-2 .5 4.2 .5 7.3 .5-8.2 .5 2 .5-1.5 .5 2.9 .5 1.4 .5-3.7 .5 3.2 .5-5.3 .5 3.1 .5-3.4 .5 3.4 .5-1.9 .5 2 .5-3.1 .5 3.2 .5-.3 .5-1.5 .5-.6 .5-.8 .5 1.8 .5 1.9 .5-1.2 .5 .7 .5 2.6 .5-3.7 .5 1.5 .5 1.2 .5-.7 .5-.2 .5-.7 .5 4.3 .5-4.6 .5-.7 .5 2.3 .5 2.4 .5-.5" fill="none" stroke="#000" stroke-width="2.4" stroke-linejoin="round" />
<path d="M345 399.1l.5 1.9 .5-.8 .5-1 .5 1.4 .5-.1 .5-1.1 .5 3.6 .5-4.8 .5 4.1 .5 1.6 .5 0 .5-4.2 .5-1.1 .5-3.2 .5 3.5 .5 5.8 .5-9.3 .5 .1 .5 5.5 .5-.5 .5-5.7 .5 4.1 .5 .9 .5-4.2 .5 5.7 .5-5.3 .5 5.7 .5-2.2 .5-2 .5-2.2 .5 3 .5 .5 .5 0 .5-1.1 .5 .9 .5 2.5 .5-4.1 .5 1.6 .5 1.5 .5-1.1 .5 2.1 .5 1.5 .5-4.4 .5 1.4 .5-7.3 .5 6 .5 2.3 .5-4.1 .5 4.5 .5-8.6 .5 6.3 .5-5.5 .5-2.3 .5 0 .5 .5 .5-1.7 .5-.9 .5 2 .5 3.4 .5-1.3 .5 2.2 .5-4.6 .5 .6 .5 .1 .5 1 .5 .8 .5 2.9 .5-2.4 .5-1.3 .5 2.8 .5-5 .5-1.2 .5 4.6 .5-1.2 .5-.1 .5 1.8 .5-2.9 .5 .5 .5 1.1 .5 .6 .5 .8 .5-2 .5 .3 .5-6.2 .5 8.4 .5-6.5 .5 3.6 .5 5.9 .5-6.6 .5-2.9 .5 7.3 .5-5 .5 .9 .5 0 .5 2.1 .5 0 .5-2 .5 2.8 .5-4.7 .5 3.7 .5-3 .5 3 .5-3.2 .5 .5 .5 4.4 .5-6 .5-.1 .5 4 .5-1.9 .5-.4 .5 .6 .5 5.2 .5-7.2 .5 1.7 .5 1 .5-2.6 .5 2.1 .5 1.2 .5-3.2 .5 4.6 .5-5.2 .5 2.3 .5 1.1 .5 6.5 .5-11.3 .5 4.6 .5 5.2 .5-7.2 .5 3.9 .5-2.1 .5-3.8 .5 4.2 .5-2.9 .5 2.2 .5-3.7 .5 5.2 .5-7.3 .5 5.2 .5 3.3 .5-1.8 .5-2 .5 .3 .5-.3 .5 7.4 .5-6.2 .5 .2 .5-1.5 .5 .8 .5 2.7 .5-2.7 .5-.3 .5 .8 .5 .6 .5 1.4 .5-1.3 .5 .8 .5-1.1 .5 4.7 .5-2.5 .5-.7 .5 1.4 .5-.7 .5-3.4 .5 3.3 .5 4.3 .5-2.6 .5 1.6 .5-4.1 .5-1.8 .5 1.8 .5 4.8 .5-5.3 .5 .5 .5 4.5 .5-3.1 .5 .2 .5 1.5 .5-.6 .5-.9 .5 1.4 .5-2.2 .5 1.7 .5 1.6 .5-3.8 .5 2 .5-2.1 .5 4.4 .5-.2 .5 .8 .5 .3 .5 .1 .5-.7 .5-3.3 .5 4 .5-4.2 .5 7.6 .5-4.7 .5 .8 .5-4.1 .5 5.4 .5 .2 .5-6.3 .5 2.4 .5 .2 .5-.4 .5 4.7 .5 1.9 .5-7.5 .5 4.9 .5-3 .5 3.8 .5-8.7 .5 4.6 .5 3.8 .5-4.5 .5 4.5 .5-3.9 .5 3.9 .5-1.3 .5-2.3 .5-.7 .5 1.4 .5 3 .5-2.6 .5-1.5 .5 9.2 .5-11.3 .5 3.2 .5 1.8 .5-3.7 .5 2.4 .5-.9 .5-2.4 .5 4.5 .5-3.7 .5 1 .5 4.6 .5-5.4 .5 4 .5 1.3" fill="none" stroke="#000" stroke-width="2.4" stroke-linejoin="round" />
<path d="M345 401.3l.5-1.2 .5-1.7 .5-2.6 .5 3.5 .5 .7 .5-2.2 .5-1.1 .5 4.3 .5-4.4 .5 3.4 .5-2.1 .5-2.8 .5 7.6 .5-2.3 .5-.2 .5-4.5 .5 3 .5 .9 .5-2.3 .5 5.5 .5-8.5 .5 6.3 .5-6 .5 .7 .5 .7 .5 4.3 .5-3 .5 .1 .5-.6 .5-1.3 .5 1.4 .5-.2 .5 1.5 .5-.2 .5-4.6 .5 4 .5 4.3 .5-3.9 .5 .9 .5-1.5 .5 .1 .5 1.4 .5-3 .5 2.8 .5-3.5 .5 4.6 .5-4.4 .5 5.1 .5 1.2 .5-5.8 .5 5.7 .5-2.2 .5 3.9 .5-3.5 .5 .9 .5 .3 .5 3.9 .5-7 .5 6.5 .5-1.2 .5-1.3 .5 .7 .5 2.8 .5-.2 .5 2.1 .5-5.3 .5-2.8 .5 3.1 .5 .9 .5-.4 .5 3.9 .5 2.5 .5-4.3 .5-4.9 .5 6.6 .5-3.8 .5 1.6 .5 1.9 .5-1 .5-.9 .5 .9 .5 1.2 .5-.3 .5 3.4 .5-11.5 .5 5.1 .5 .6 .5 3.3 .5-1.3 .5 1.5 .5-5.1 .5 2.8 .5 2.1 .5-1.5 .5-.8 .5 1.7 .5 3.2 .5-8.6 .5 8.6 .5-2.9 .5-2.5 .5 3.5 .5-1.3 .5 2.8 .5-4.6 .5 4.2 .5-4.3 .5 2.9 .5 1 .5-1.7 .5 1.7 .5-2.8 .5 3.9 .5-3.6 .5-.4 .5 1.5 .5 .2 .5-1.8 .5 3.8 .5-2 .5 1.7 .5-4.7 .5 .4 .5 2.5 .5-1.6 .5 2 .5 1.7 .5 1.3 .5 .9 .5-1.5 .5-3.4 .5 3 .5-2.4 .5 2.5 .5-3.6 .5 5.6 .5-2.1 .5-1.6 .5-2.4 .5 3.9 .5-1.8 .5 1.8 .5-2.4 .5 .2 .5 2.4 .5 1.8 .5-6.6 .5 2.3 .5 1.1 .5-1.5 .5-.8 .5 5.7 .5-7.1 .5 2.5 .5-2.1 .5 .6 .5-5.2 .5 7 .5-2.7 .5-2 .5 6 .5-4.5 .5-.8 .5-.6 .5 4.3 .5-2.4 .5-.9 .5-2.4 .5 .9 .5 2.8 .5-.9 .5-4.6 .5 2.5 .5 2.5 .5 5.6 .5-8 .5-3.4 .5 6.8 .5-2.9 .5-2 .5 4.3 .5-1.9 .5-1.8 .5-.9 .5 2.7 .5 .4 .5-4.3 .5 6.3 .5-5.3 .5 6.1 .5-2.5 .5-1.3 .5 1.2 .5-2.2 .5 1.1 .5 3.9 .5-5.2 .5 3.2 .5-4 .5 1.9 .5 2.2 .5-5 .5 3.5 .5-5.8 .5 2.2 .5 1.6 .5 3 .5-.5 .5-3.8 .5 1.7 .5 .7 .5-4.1 .5 4.5 .5 2.1 .5-.3 .5-4.3 .5 .4 .5-1.3 .5 .9 .5 .5 .5 2.1 .5-1.4 .5-2.4 .5 4 .5 0 .5-3.5 .5 .8 .5 .3 .5-3.6 .5 4 .5 1.2 .5 2.8 .5-4.1 .5-1.1 .5 .2 .5 1.7 .5 .4 .5-3.9 .5 2.4 .5 1" fill="none" stroke="#000" stroke-width="2.4" stroke-linejoin="round" />
<path d="M345 401.8l.5-1.7 .5-4.4 .5 5.5 .5-1 .5 3.3 .5-.1 .5-1.8 .5 2 .5-3.2 .5 0 .5-1.8 .5 1.2 .5 1.2 .5 1.9 .5-4 .5 3.4 .5 3.5 .5-8.3 .5 2.4 .5 .7 .5 2.2 .5 2.2 .5-1.7 .5-2.9 .5-1.8 .5 1.8 .5 0 .5 .7 .5-2.6 .5 5.5 .5-5.1 .5 3.2 .5-1.1 .5-3 .5 2.7 .5-.1 .5-.5 .5 2.3 .5-2.9 .5 6.8 .5-3.2 .5-4.6 .5-3.6 .5 8.5 .5-2.3 .5-.4 .5-2.4 .5-1 .5-.2 .5 10.9 .5-1.3 .5-4.1 .5 6.3 .5-7.6 .5 6.3 .5 .4 .5-3 .5 1.3 .5-.8 .5 2.9 .5 3.3 .5-.2 .5-.9 .5 2.1 .5-6.2 .5 9.2 .5-4.3 .5-2.4 .5 2.6 .5-.2 .5 2.2 .5 .9 .5-5.5 .5 8.6 .5 1.5 .5-5.8 .5 6.2 .5 0 .5-.1 .5 1.8 .5-6.7 .5 5 .5-3.8 .5 7.9 .5-7.5 .5-.4 .5 5.5 .5-.9 .5-1.2 .5 .4 .5 1.2 .5 2.8 .5-5.5 .5 .6 .5 .1 .5 1.3 .5 .4 .5-2.8 .5 3.8 .5-3.5 .5 2.4 .5 .3 .5 .2 .5 4.1 .5 .5 .5-1.1 .5 1.3 .5-4.1 .5 4.1 .5-3.2 .5 .8 .5 .2 .5-3.6 .5 1.8 .5 1.2 .5 1.3 .5-1 .5-1.6 .5-.5 .5 2.8 .5-2.6 .5 .1 .5 2.6 .5 .8 .5-2.2 .5-2.1 .5 4.9 .5 1.3 .5-2.7 .5 .2 .5-4.3 .5 7.5 .5-4.4 .5 4.3 .5-2.9 .5 1.1 .5 0 .5-3.5 .5 10.5 .5-9.7 .5 3.9 .5-2 .5 .9 .5 3.2 .5-8 .5 3.5 .5 .9 .5-1.3 .5 .1 .5-3.1 .5-2.2 .5 .5 .5 1.9 .5 2.5 .5-1.7 .5 3.3 .5-3.6 .5 0 .5-.1 .5-4.6 .5 5.1 .5-4.1 .5 1.6 .5 6 .5-8.4 .5 3 .5 .2 .5-.6 .5-.4 .5-1.5 .5 5.7 .5-9.4 .5 2.1 .5 5.6 .5-2.3 .5-3.2 .5-.5 .5 1.3 .5 6.5 .5-5.1 .5-3.7 .5 2.7 .5-2.1 .5 4.7 .5-2.9 .5 2 .5-2.7 .5 4.1 .5-3.9 .5-.5 .5-3.1 .5 1.3 .5 1.7 .5-2.1 .5 6.7 .5-5.8 .5-1.9 .5 3.9 .5-3.6 .5 2 .5-1.2 .5-1.6 .5 4.7 .5-3.1 .5 2.2 .5-3.4 .5-2.6 .5 .3 .5 1.5 .5 .7 .5 .4 .5 .9 .5-4.1 .5 3.2 .5-3.4 .5 1.1 .5 7.4 .5-3.1 .5-3.9 .5 4.8 .5-1 .5-1.3 .5 1.2 .5-4 .5 .1 .5-1.8 .5 3.2 .5-4.3 .5 1.6 .5 2.1 .5-2.4 .5 1.9 .5 3.2 .5-6.5 .5 5.3 .5-4.9 .5-.7 .5 2.6 .5 1.7 .5-4.1" fill="none" stroke="#c04040" stroke-width="2.16" stroke-linejoin="round" />
<path d="M345 401.3l.5-1.7 .5-4.4 .5 5.5 .5-1 .5 3.3 .5-.1 .5-1.8 .5 2 .5-3.2 .5 0 .5-1.8 .5 1.2 .5 1.2 .5 1.9 .5-4 .5 3.4 .5 3.5 .5-8.3 .5 2.4 .5 .7 .5 2.2 .5 2.2 .5-1.7 .5-2.9 .5-1.8 .5 1.8 .5 0 .5 .7 .5-2.6 .5 5.5 .5-5.1 .5 3.2 .5-1.1 .5-3 .5 2.7 .5-.1 .5-.5 .5 2.3 .5-2.9 .5 6.8 .5-3.2 .5-4.6 .5-3.6 .5 8.5 .5-2.3 .5-.4 .5-2.4 .5-1 .5-.2 .5 10.9 .5-1.3 .5-4.1 .5 6.3 .5-7.6 .5 6.3 .5 .4 .5-3 .5 1.3 .5-.8 .5 2.9 .5 3.3 .5-.2 .5-.9 .5 2.1 .5-6.2 .5 9.2 .5-4.3 .5-2.4 .5 2.6 .5-.2 .5 2.2 .5 .9 .5-5.5 .5 8.6 .5 1.5 .5-5.8 .5 6.2 .5 0 .5-.1 .5 1.8 .5-6.7 .5 5 .5-3.8 .5 7.9 .5-7.5 .5-.4 .5 5.5 .5-.9 .5-1.2 .5 .4 .5 1.2 .5 2.8 .5-5.5 .5 .6 .5 .1 .5 1.3 .5 .4 .5-2.8 .5 3.8 .5-3.5 .5 2.4 .5 .3 .5 .2 .5 4.1 .5 .5 .5-1.1 .5 1.3 .5-4.1 .5 4.1 .5-3.2 .5 .8 .5 .2 .5-3.6 .5 1.8 .5 1.2 .5 1.3 .5-1 .5-1.6 .5-.5 .5 2.8 .5-2.6 .5 .1 .5 2.6 .5 .8 .5-2.2 .5-2.1 .5 4.9 .5 1.3 .5-2.7 .5 .2 .5-4.3 .5 7.5 .5-4.4 .5 4.3 .5-2.9 .5 1.1 .5 0 .5-3.5 .5 10.5 .5-9.7 .5 3.9 .5-2 .5 .9 .5 3.2 .5-8 .5 3.5 .5 .9 .5-1.3 .5 .1 .5-3.1 .5-2.2 .5 .5 .5 1.9 .5 2.5 .5-1.7 .5 3.3 .5-3.6 .5 0 .5-.1 .5-4.6 .5 5.1 .5-4.1 .5 1.6 .5 6 .5-8.4 .5 3 .5 .2 .5-.6 .5-.4 .5-1.5 .5 5.7 .5-9.4 .5 2.1 .5 5.6 .5-2.3 .5-3.2 .5-.5 .5 1.3 .5 6.5 .5-5.1 .5-3.7 .5 2.7 .5-2.1 .5 4.7 .5-2.9 .5 2 .5-2.7 .5 4.1 .5-3.9 .5-.5 .5-3.1 .5 1.3 .5 1.7 .5-2.1 .5 6.7 .5-5.8 .5-1.9 .5 3.9 .5-3.6 .5 2 .5-1.2 .5-1.6 .5 4.7 .5-3.1 .5 2.2 .5-3.4 .5-2.6 .5 .3 .5 1.5 .5 .7 .5 .4 .5 .9 .5-4.1 .5 3.2 .5-3.4 .5 1.1 .5 7.4 .5-3.1 .5-3.9 .5 4.8 .5-1 .5-1.3 .5 1.2 .5-4 .5 .1 .5-1.8 .5 3.2 .5-4.3 .5 1.6 .5 2.1 .5-2.4 .5 1.9 .5 3.2 .5-6.5 .5 5.3 .5-4.9 .5-.7 .5 2.6 .5 1.7 .5-4.1" fill="none" stroke="#0aae0a" stroke-width="2.4" stroke-linejoin="round" />
<path d="M474 397.2l.5 8.5 .5-4 .5 2.7 .5-2.3 .5-.5 .5 .5 .5 .9 .5 1.4 .5-2.8 .5-2.1 .5 1 .5-.7 .5 4.4 .5-4.3 .5 6.2 .5-3.5 .5-.6 .5 3.5 .5-4.1 .5 .1 .5 2.7 .5-.1 .5-4.3 .5 8.6 .5-4.7 .5-4.6 .5 2.7 .5 2.8 .5-1.8 .5 1.6 .5 3.8 .5-3.6 .5 2.7 .5-3.3 .5-3.4 .5 5.5 .5-5.6 .5 4.2 .5-.8 .5-3.7 .5 .4 .5 1.3 .5 1.4 .5 2.4 .5-3.2 .5 4.6 .5-2.6 .5-3.8 .5 .1 .5 1.8 .5 .5 .5 3 .5 4.2 .5 .7 .5 3.8 .5-2.1 .5-.1 .5-.9 .5-.5 .5 3.8 .5 1.7 .5-.3 .5 1 .5 5.5 .5-7.4 .5 2.5 .5-.2 .5-.6 .5 6.1 .5-3 .5 3.6 .5-5.5 .5 7.9 .5 1.4 .5-7.4 .5 2.6 .5 .1 .5 2.1 .5-4.2 .5 4.9 .5 1 .5-2.9 .5-3.9 .5 4.3 .5 .9 .5 3.2 .5-3.2 .5-1 .5 4.7 .5-.4 .5 1.2 .5-1.5 .5 2.8 .5-1.1 .5-5.5 .5 5.3 .5 1.7 .5-1.6 .5 3.8 .5-4.5 .5 3.2 .5-4.6 .5 3.4 .5-1.2 .5-.8 .5-.5 .5 4.1 .5 .8 .5-2.4 .5-1.3 .5 1.2 .5 4.4 .5-5 .5 5.9 .5-7 .5 4.9 .5 .9 .5 1.4 .5-4.1 .5-.9 .5-1.6 .5 5.8 .5-2.6 .5-.8 .5 .1 .5 1.7 .5-.6 .5 2.9 .5-8.3 .5 7.5 .5-3.5 .5 1.2 .5-1.1 .5 .1 .5 1.6 .5-1.9 .5-4.6 .5 2.9 .5-.6 .5 .7 .5-1.3 .5-.8 .5 2.2 .5-5.7 .5 7.6 .5-7.3 .5-1.6 .5 4.1 .5 .3 .5 0 .5 .1 .5-2.9 .5-1.4 .5 .3 .5-1.3 .5-1.8 .5 4.9 .5 .2 .5-5 .5-1 .5-1.1 .5-3.4 .5 2.1 .5 0 .5 .8 .5-2.9 .5-2.6 .5 5.9 .5 2.3 .5-10.1 .5 4.6 .5 2 .5-5.1 .5-.9 .5 3.6 .5-.8 .5-1.1 .5 5.5 .5-.5 .5-2.2 .5-1.9 .5-.8 .5 2.9 .5-3 .5 4.2 .5-.7 .5-4.8 .5 3.3 .5 1.9 .5-2.4 .5-4.1 .5 1.5 .5-.3 .5 1.1 .5-.4 .5-1.1 .5 2.9 .5 1.1 .5-4.9 .5-2.4 .5 4.5 .5-1.1 .5 1 .5-2.9 .5 2.3 .5-3.2 .5 4.9 .5 1.4 .5-6.7 .5-4.3 .5 5.1 .5-.2 .5 1.7 .5-.6 .5 1.1 .5 5.4 .5-8.3 .5 .3 .5 1.9 .5-5.8 .5 6.4 .5-3.6 .5-2.2 .5 1.4 .5 3.2 .5 .7 .5 .9 .5-2.1 .5-3.1 .5 3.1 .5-1.7 .5 5.9 .5-11.1 .5 9 .5-2.2 .5-1 .5-1.4 .5-1.3 .5-1.2 .5-1.6" fill="none" stroke="#c04040" stroke-width="1.8900000000000001" stroke-linejoin="round" />
<path d="M474 396.7l.5 8.5 .5-4 .5 2.7 .5-2.3 .5-.5 .5 .5 .5 .9 .5 1.4 .5-2.8 .5-2.1 .5 1 .5-.7 .5 4.4 .5-4.3 .5 6.2 .5-3.5 .5-.6 .5 3.5 .5-4.1 .5 .1 .5 2.7 .5-.1 .5-4.3 .5 8.6 .5-4.7 .5-4.6 .5 2.7 .5 2.8 .5-1.8 .5 1.6 .5 3.8 .5-3.6 .5 2.7 .5-3.3 .5-3.4 .5 5.5 .5-5.6 .5 4.2 .5-.8 .5-3.7 .5 .4 .5 1.3 .5 1.4 .5 2.4 .5-3.2 .5 4.6 .5-2.6 .5-3.8 .5 .1 .5 1.8 .5 .5 .5 3 .5 4.2 .5 .7 .5 3.8 .5-2.1 .5-.1 .5-.9 .5-.5 .5 3.8 .5 1.7 .5-.3 .5 1 .5 5.5 .5-7.4 .5 2.5 .5-.2 .5-.6 .5 6.1 .5-3 .5 3.6 .5-5.5 .5 7.9 .5 1.4 .5-7.4 .5 2.6 .5 .1 .5 2.1 .5-4.2 .5 4.9 .5 1 .5-2.9 .5-3.9 .5 4.3 .5 .9 .5 3.2 .5-3.2 .5-1 .5 4.7 .5-.4 .5 1.2 .5-1.5 .5 2.8 .5-1.1 .5-5.5 .5 5.3 .5 1.7 .5-1.6 .5 3.8 .5-4.5 .5 3.2 .5-4.6 .5 3.4 .5-1.2 .5-.8 .5-.5 .5 4.1 .5 .8 .5-2.4 .5-1.3 .5 1.2 .5 4.4 .5-5 .5 5.9 .5-7 .5 4.9 .5 .9 .5 1.4 .5-4.1 .5-.9 .5-1.6 .5 5.8 .5-2.6 .5-.8 .5 .1 .5 1.7 .5-.6 .5 2.9 .5-8.3 .5 7.5 .5-3.5 .5 1.2 .5-1.1 .5 .1 .5 1.6 .5-1.9 .5-4.6 .5 2.9 .5-.6 .5 .7 .5-1.3 .5-.8 .5 2.2 .5-5.7 .5 7.6 .5-7.3 .5-1.6 .5 4.1 .5 .3 .5 0 .5 .1 .5-2.9 .5-1.4 .5 .3 .5-1.3 .5-1.8 .5 4.9 .5 .2 .5-5 .5-1 .5-1.1 .5-3.4 .5 2.1 .5 0 .5 .8 .5-2.9 .5-2.6 .5 5.9 .5 2.3 .5-10.1 .5 4.6 .5 2 .5-5.1 .5-.9 .5 3.6 .5-.8 .5-1.1 .5 5.5 .5-.5 .5-2.2 .5-1.9 .5-.8 .5 2.9 .5-3 .5 4.2 .5-.7 .5-4.8 .5 3.3 .5 1.9 .5-2.4 .5-4.1 .5 1.5 .5-.3 .5 1.1 .5-.4 .5-1.1 .5 2.9 .5 1.1 .5-4.9 .5-2.4 .5 4.5 .5-1.1 .5 1 .5-2.9 .5 2.3 .5-3.2 .5 4.9 .5 1.4 .5-6.7 .5-4.3 .5 5.1 .5-.2 .5 1.7 .5-.6 .5 1.1 .5 5.4 .5-8.3 .5 .3 .5 1.9 .5-5.8 .5 6.4 .5-3.6 .5-2.2 .5 1.4 .5 3.2 .5 .7 .5 .9 .5-2.1 .5-3.1 .5 3.1 .5-1.7 .5 5.9 .5-11.1 .5 9 .5-2.2 .5-1 .5-1.4 .5-1.3 .5-1.2 .5-1.6" fill="none" stroke="#0aae0a" stroke-width="2.1" stroke-linejoin="round" />
<path d="M474 406.3l.5-2.7 .5-.7 .5-.8 .5-5.7 .5 4.1 .5 1 .5 2.6 .5-5.4 .5 3.2 .5-1.3 .5 .7 .5-2 .5 2.9 .5-.7 .5-4.9 .5 7.7 .5 2.5 .5-7.7 .5 5 .5-5.3 .5 1.1 .5 5.8 .5-3.9 .5 3.3 .5-3.1 .5 1.8 .5-2.9 .5 4 .5 .9 .5-2.8 .5-3.1 .5 .5 .5-1.5 .5 3.9 .5-.2 .5-3 .5 4 .5-3.7 .5 6 .5-2.5 .5 1.9 .5-5.8 .5-.7 .5-2 .5 6.1 .5-4.4 .5 6.2 .5-3 .5 1.5 .5-5.1 .5-5.7 .5-5.6 .5 1.4 .5-5.1 .5 4.1 .5-3 .5 4.1 .5-2.6 .5-.2 .5 1.9 .5 1.7 .5-3.5 .5 3.7 .5-5.6 .5 3.2 .5-3.5 .5 3.3 .5-2.8 .5 2.4 .5 1.4 .5-4 .5-1.9 .5 3.9 .5 1.7 .5-.7 .5-2.9 .5 4.4 .5-2.9 .5 2.7 .5-4.2 .5 3.3 .5 1.8 .5-4.5 .5 .9 .5 2.2 .5-.2 .5-.5 .5-1.2 .5-3.6 .5 3.9 .5-3.2 .5 3.4 .5-6 .5 9.3 .5 1.2 .5-3.6 .5-3.3 .5 1.4 .5 2.9 .5-.6 .5-3.3 .5 4.7 .5-1.2 .5-.5 .5-2.2 .5 .8 .5-1.7 .5 2.2 .5-2.1 .5 4.5 .5-2.8 .5 .4 .5 .3 .5-.1 .5-4.3 .5 6.7 .5-2.9 .5-1.7 .5-1 .5 .7 .5 .1 .5 1.6 .5-2.2 .5 2.4 .5 .1 .5-2.1 .5 7.2 .5-5.8 .5 1.1 .5-.6 .5-.7 .5 2.1 .5 1.7 .5-3.6 .5-1.9 .5 3.4 .5-6.7 .5 5.7 .5-.8 .5 1.2 .5-4.5 .5 2.6 .5-1.5 .5 1.2 .5 2.8 .5-1.9 .5 2.2 .5 7.7 .5 .3 .5-1.8 .5 2.5 .5 3.6 .5 .1 .5-.5 .5 .1 .5-2.8 .5 2 .5-2.7 .5 .9 .5-.2 .5 .3 .5 1.2 .5 .3 .5-1.4 .5 4.7 .5-3.8 .5 5 .5-1.3 .5-5.4 .5 5.2 .5-5.6 .5 7 .5-2.7 .5-3.3 .5-2.9 .5 4.5 .5-2.4 .5 6.1 .5-5.7 .5 2.5 .5 1.8 .5-1.2 .5 .7 .5-1.3 .5 2.5 .5-4.1 .5 3.8 .5-4.4 .5 3.5 .5-3.3 .5 2.4 .5 2 .5 1.6 .5-7.5 .5 2.6 .5-.5 .5 5.4 .5-5 .5 3.9 .5-3 .5-2.3 .5 3.9 .5-3.1 .5 4.7 .5 .3 .5 1.2 .5-5.7 .5 6.4 .5-1.5 .5-6.7 .5 9.9 .5-1.3 .5-6.7 .5 3.4 .5-4.1 .5 3 .5 .9 .5 1.1 .5-3.6 .5 2 .5-2.2 .5 3.3 .5 .7 .5-1.4 .5 2.7 .5-.9 .5-.9 .5 1.9 .5-5.9 .5 3 .5-4.2 .5 4.4 .5-1.1 .5 3.2 .5-3.1 .5-.4 .5 1.3 .5 0 .5 1.6 .5-3.4" fill="none" stroke="#000" stroke-width="2.1" stroke-linejoin="round" />
<path d="M474 397.3l.5-.3 .5 6.8 .5-5.9 .5 1.9 .5-1.6 .5 4.9 .5-3.5 .5 4.4 .5-4.8 .5 2.5 .5 1.1 .5 .6 .5-5.4 .5 2.1 .5 .7 .5-4.3 .5 6.2 .5-.8 .5 .3 .5-4.7 .5 3.9 .5 .7 .5 1.4 .5-3.8 .5 3 .5 3.1 .5-5.9 .5 .1 .5 .2 .5-2.9 .5 2.8 .5 4.9 .5-6.3 .5 1.8 .5 3.4 .5-1.5 .5-.8 .5-1.4 .5 .5 .5 .3 .5 1.7 .5-1.5 .5 2.1 .5-6.9 .5 6.6 .5-3.3 .5 1.3 .5-1.1 .5 2.7 .5-1.9 .5-3.7 .5-9 .5 2.5 .5 2.5 .5-.2 .5-3.7 .5 1.3 .5-1.3 .5 .6 .5 .3 .5 3 .5-1.6 .5 2.2 .5 .2 .5-6.9 .5 3.9 .5-1.9 .5-2.9 .5 1.3 .5 1.5 .5 5.3 .5-3.9 .5-.7 .5 .4 .5-1.7 .5 2.2 .5-.6 .5-3.8 .5 2.7 .5 9.6 .5-6.7 .5-1.8 .5 1.9 .5-4.1 .5 2.6 .5 2 .5-6.1 .5 2.1 .5 .8 .5 .3 .5-.5 .5 1.9 .5 1.8 .5-1.6 .5 1.6 .5 .1 .5-4 .5 2.1 .5-1.6 .5 2.5 .5-2.4 .5 .4 .5 4.6 .5-4.6 .5-3.4 .5 4.1 .5 .4 .5-1.9 .5 1.4 .5 2.3 .5-3.7 .5 .8 .5-1.3 .5 2.5 .5-1.1 .5-1.9 .5 1.8 .5 4.9 .5-8.6 .5 .7 .5 4.3 .5-4.3 .5 8.2 .5-8.4 .5 .4 .5 2 .5 3.9 .5-.7 .5-.6 .5-.6 .5 2.4 .5-7.6 .5 5.1 .5 2.8 .5-6.1 .5 3.4 .5 2.2 .5 .1 .5-3.4 .5 4.9 .5-3.3 .5 1.3 .5-5.2 .5 .8 .5 0 .5 6.1 .5-7.7 .5 3.5 .5 8.6 .5 .7 .5-7.6 .5 6.3 .5 .3 .5 3.7 .5-7.6 .5 3.4 .5 3.9 .5-.7 .5-4.1 .5 1.6 .5-2.9 .5 6.9 .5-4.3 .5 4.1 .5-1.1 .5-4.1 .5 1.9 .5 1.9 .5-.5 .5 2.7 .5-1 .5-1.9 .5 .9 .5-3.3 .5 .3 .5 2.9 .5-.6 .5-3.5 .5 2.5 .5-1.7 .5 .6 .5 4.5 .5-5.4 .5 .7 .5 3 .5-1.2 .5 .3 .5-3.9 .5 3.5 .5-.8 .5-1.1 .5 .6 .5 .7 .5 2.8 .5 2.5 .5-4.2 .5 3.3 .5-3.3 .5-3.8 .5 3.7 .5 3 .5 .3 .5-5.5 .5 7.6 .5-7.2 .5 .1 .5 .5 .5 4.8 .5-2.5 .5 1.2 .5-7.5 .5 5.2 .5-.1 .5 2 .5-2.8 .5 4.1 .5-4.6 .5-1.7 .5-.5 .5 7 .5-1.2 .5-3.7 .5 4.6 .5-3.1 .5 .2 .5-3.2 .5 2.2 .5 1.6 .5 .3 .5-1.9 .5 3.8 .5 1.1 .5-5.4 .5 2.9 .5-4.6 .5 4.7 .5-3.3 .5 2 .5 .8 .5-1" fill="none" stroke="#000" stroke-width="2.1" stroke-linejoin="round" />
<path d="M474 403.6l.5-4.4 .5 .8 .5 1.9 .5-.9 .5 .7 .5-1.1 .5-1.4 .5 3.5 .5-1.4 .5 2 .5 1 .5-4 .5-1 .5 .7 .5-.4 .5-3.3 .5 8.8 .5-3 .5 4.7 .5-7 .5 2.8 .5-.8 .5-.8 .5 2.5 .5-2.4 .5-.1 .5 .5 .5-5.7 .5 3.6 .5 0 .5 5.7 .5-2.5 .5 .4 .5-.3 .5-2 .5 4.4 .5-4.5 .5-2.9 .5 5 .5 1.3 .5-2.6 .5 .6 .5 1.5 .5 1.3 .5-2.2 .5 2.6 .5-3.4 .5 4.4 .5-8.4 .5 5.6 .5-5.1 .5-3.9 .5-3.3 .5 5.6 .5-3 .5-2 .5 .9 .5 .9 .5 .8 .5-2.4 .5-.1 .5 3.2 .5-1.1 .5 4.9 .5-5.8 .5 2.8 .5 2.4 .5-4.7 .5 2.8 .5-1.6 .5-.6 .5 3.7 .5-6.3 .5 1 .5-2.8 .5 3.9 .5 2.7 .5-3 .5 2.5 .5-3.8 .5 4.6 .5-3 .5-.9 .5 5.1 .5-4 .5 1.4 .5-1.1 .5 1.4 .5-1.5 .5-3.1 .5 3.5 .5 .5 .5-.3 .5-1.4 .5 4.8 .5-6.1 .5 2.1 .5 .2 .5-3.2 .5-.2 .5 4.4 .5 0 .5-1.3 .5-4.2 .5 3.2 .5 1.3 .5 .9 .5 1.3 .5-1.8 .5 1.2 .5 1.7 .5-9.6 .5 8 .5-3.5 .5 2.2 .5-.6 .5-3 .5 .3 .5 3.2 .5-1.5 .5 2.2 .5-2.7 .5 6 .5-5.7 .5 5.5 .5-6.8 .5 3.2 .5 1.3 .5-5.8 .5 .8 .5 3.3 .5 1.7 .5 .6 .5-2 .5 1.2 .5-5.3 .5 1.7 .5 4.5 .5-4.8 .5 .7 .5-3.6 .5 3.7 .5-3.3 .5 4.6 .5 2.7 .5-2.8 .5 1.4 .5 .4 .5 4 .5-2.2 .5 1.5 .5 6.3 .5-8.3 .5 1.8 .5-2 .5 6.3 .5-3.5 .5-2.4 .5 0 .5 5.7 .5-1 .5 .3 .5-2.1 .5 2.3 .5 1 .5-1.5 .5-5.4 .5-.9 .5 1.2 .5 4.2 .5-4.3 .5 1 .5 2.7 .5-2.2 .5-.9 .5 5.4 .5-1.1 .5 .7 .5 .3 .5 1.3 .5-3.6 .5-.3 .5-3.8 .5 3.6 .5-.8 .5 4 .5-.9 .5 1.9 .5-.9 .5 .2 .5-1.5 .5-1 .5-1.2 .5 .9 .5-2.3 .5 3.3 .5-1.2 .5-4.6 .5-1.6 .5 4.7 .5 .7 .5 .4 .5 3.8 .5-4.6 .5-1.5 .5 3.9 .5 1.5 .5 1.6 .5-6.4 .5 1.9 .5-.4 .5 4.6 .5-1.9 .5-1.6 .5 1.7 .5-2.6 .5 .3 .5 .5 .5-1.1 .5 .6 .5 1.4 .5-.2 .5 2.9 .5-1.4 .5-2.3 .5-5 .5 1.7 .5 2.3 .5 .3 .5-2.2 .5 2.3 .5 1.1 .5-1.7 .5 1.2 .5 .1 .5-1.5 .5-.3 .5 1.7 .5 1 .5-3.1" fill="none" stroke="#000" stroke-width="2.1" stroke-linejoin="round" />
<path d="M474 397.1l.5 2.6 .5 3.5 .5-5.1 .5 6 .5-3.6 .5 1.7 .5-2.1 .5 3.2 .5-1.3 .5 .8 .5-5.5 .5 6.3 .5-5.7 .5 3.2 .5 2.1 .5-1.7 .5 1.6 .5-.8 .5-.2 .5-2.1 .5 4.3 .5 .3 .5-4 .5-.8 .5 2.6 .5-2.3 .5 2.1 .5 1.7 .5-.4 .5 1.9 .5-2.4 .5-3.6 .5 .5 .5 3.3 .5 3.2 .5-5.3 .5-1.4 .5 5.5 .5-3.6 .5 2 .5 .9 .5-4.9 .5 1.5 .5-.5 .5 2.6 .5 .3 .5-2.8 .5 2.5 .5-5.5 .5 5 .5 1.2 .5 .3 .5-2.2 .5 4.3 .5-1.1 .5 7.1 .5-4 .5 .2 .5 .3 .5 1.6 .5-1 .5 1.1 .5-3.4 .5 4.8 .5-3.7 .5 3 .5-1.1 .5 2 .5-2.6 .5-3.3 .5 .8 .5 2.3 .5 3.8 .5-4.2 .5 1.2 .5 2.9 .5-4.3 .5 2.1 .5 0 .5-2 .5 2 .5 2 .5 .1 .5-3.2 .5 7.7 .5-6 .5-1.4 .5-1 .5-.6 .5 4.3 .5-8.6 .5 6.4 .5-2.8 .5 2.8 .5 .3 .5-3 .5 .8 .5 5.3 .5-4.3 .5 1.3 .5-.7 .5 2.7 .5 .9 .5-.7 .5-.9 .5 0 .5-4.1 .5 5.9 .5-4.4 .5-.8 .5 1.2 .5-1 .5 2.9 .5 .7 .5 1.3 .5-3.2 .5-1.2 .5 .7 .5-2 .5 1 .5 6.4 .5-6.5 .5 .7 .5 2.6 .5-.9 .5 1.2 .5-3.8 .5-.5 .5 5.6 .5-4.7 .5 1.4 .5 .7 .5-4.8 .5 3.9 .5-1.1 .5 2.7 .5-1.9 .5-4.6 .5 7.2 .5-7.9 .5 5 .5-.6 .5-.7 .5 .5 .5 1.4 .5-5.1 .5-.3 .5 2.3 .5-1.4 .5-.4 .5-.9 .5-1.4 .5-.6 .5 0 .5 3.2 .5 1.4 .5 1.1 .5-7.1 .5 1.8 .5 .6 .5-.4 .5-2.3 .5 7.7 .5-1.6 .5-3.9 .5-.7 .5 1 .5-2.8 .5 2 .5 2.6 .5 2 .5-1.8 .5 .9 .5-5.5 .5-5.2 .5 10.9 .5-2.9 .5-.6 .5 4.1 .5-6.2 .5 0 .5 .4 .5 5.6 .5-1.6 .5-6.5 .5 8.1 .5-3.9 .5 1 .5-2.9 .5 6.3 .5-3.5 .5 2.1 .5-5.5 .5 4 .5-1.5 .5-.7 .5-1.5 .5 .3 .5-1.1 .5 1.1 .5 1.5 .5 1.4 .5-5.1 .5 1.3 .5 .9 .5-2.4 .5 3.2 .5 0 .5 .1 .5 1.5 .5 1.2 .5-.4 .5-1.2 .5 .7 .5-3.3 .5-.4 .5 3.8 .5-.3 .5 3.9 .5-5.8 .5-1.8 .5 3 .5-1.8 .5-1.1 .5 5.4 .5 1.3 .5-3.7 .5-2.5 .5 2.2 .5-.8 .5-3.2 .5 5.3 .5-1.2 .5 2.1 .5-4.3 .5 1.3 .5-.3 .5-3.8 .5 10 .5-11" fill="none" stroke="#000" stroke-width="2.1" stroke-linejoin="round" />
<path d="M611 413.7l.5-6.5 .5 7.9 .5-13.6 .5 12.9 .5-5.4 .5 3.4 .5-6.1 .5 2.5 .5 2.1 .5 2.3 .5-2.6 .5-.4 .5-5.2 .5 11.6 .5-7.6 .5-2.1 .5-.5 .5-4.4 .5 2.3 .5-3.9 .5 8.6 .5-1.4 .5 1.5 .5-7.4 .5 4.2 .5-1.1 .5 8.2 .5-12.5 .5-.1 .5 14 .5-4.6 .5-9.6 .5 14.5 .5 .8 .5-1.8 .5-16 .5 10.9 .5-4.9 .5 3 .5-6.6 .5 16.6 .5-12.2 .5 4.9 .5 2.6 .5-.9 .5-1 .5-4.1 .5 3.1 .5-2.2 .5-10.3 .5 7.4 .5-17.1 .5 .5 .5 .5 .5-4.9 .5 .9 .5-2.9 .5 11.3 .5 3.6 .5-5.5 .5-6.1 .5 12.2 .5-8.1 .5-6.4 .5-1.4 .5 10.3 .5 6.3 .5-9.1 .5-1.3 .5 1.8 .5-2.9 .5 1.5 .5 4 .5-4.8 .5 8.2 .5-9.5 .5 8.4 .5-1.8 .5-3.7 .5 .5 .5-.2 .5 10.1 .5-12.5 .5 10 .5-.9 .5-6.7 .5 9.8 .5-20 .5 13.1 .5-.6 .5-.5 .5 4.1 .5-6.2 .5 1 .5 6.7 .5-6.3 .5-4.6 .5 8 .5-3.2 .5-2.5 .5 5.6 .5-6.6 .5-1 .5 3.6 .5 .3 .5 1.2 .5-6.3 .5 14.7 .5-5.3 .5-2.6 .5 .4 .5-13.6 .5 17.1 .5-9.7 .5 7.6 .5-8.5 .5 10.9 .5-7.6 .5 1.6 .5 8.7 .5-2.7 .5-11.8 .5 3.4 .5 4.4 .5-2.1 .5 5.2 .5-7.5 .5-5.9 .5 4.8 .5 3.6 .5 3.7 .5 1 .5 2.5 .5-5.1 .5-2.1 .5 4.6 .5-4.1 .5-1.9 .5 0 .5 7 .5 2.8 .5-.9 .5-14.5 .5 13.4 .5-11 .5 3.9 .5 9.1 .5-5.1 .5 5 .5 6.9 .5 12.2 .5-3.1 .5-9.8 .5 5.2 .5-.1 .5 .9 .5-5.1 .5 10.8 .5-9.1 .5 6 .5-12.6 .5 10.4 .5-1.2 .5 6.1 .5-19.8 .5 15.7 .5 1.3 .5-5.4 .5 7.9 .5 4 .5-6.1 .5-.4 .5 2.7 .5-4.5 .5 3.9 .5-3.1 .5-6.4 .5-1.9 .5 11.2 .5-2.9 .5-6.4 .5 3.5 .5 7.2 .5-15.9 .5 4.1 .5 8 .5 .6 .5-10 .5 .9 .5 5.8 .5 6.2 .5-7 .5-11.6 .5 16.7 .5-5.2 .5-2.2 .5-3.5 .5 11.8 .5-4.7 .5 .7 .5-.3 .5 .5 .5 2 .5 4.4 .5-13.9 .5 4.9 .5-1.9 .5 10.7 .5-9.9 .5-6.6 .5 7.9 .5-3.5 .5 0 .5 1.4 .5-4.3 .5-3.1 .5 19.4 .5-10.4 .5-4 .5 7.8 .5 3.6 .5-15.5 .5 6.5 .5 3.7 .5-5.6 .5 6.4 .5-8.4 .5 2.8 .5 2.8 .5 2.7 .5-1.9 .5-3.6 .5 1.5 .5-8.7 .5 21.3 .5-12.8 .5 .6 .5 2.8 .5 1.5" fill="none" stroke="#000" stroke-width="1.9" stroke-linejoin="round" />
<path d="M611 409.7l.5-5.1 .5-4.9 .5 7.4 .5-3.1 .5 1.2 .5 2.8 .5 1.2 .5 5.2 .5-7.2 .5-7.9 .5 11.6 .5 1.7 .5-12.9 .5 11.3 .5-2.1 .5-3.7 .5 3.6 .5 1.1 .5 1 .5 2.8 .5-5.8 .5 0 .5 12.2 .5-17.5 .5 4 .5-.4 .5 5.6 .5 1.7 .5-12.2 .5 12.8 .5-12.1 .5 19 .5-16.4 .5 8.9 .5-6.9 .5 4.9 .5-7.3 .5 4.4 .5-.5 .5 .3 .5 3.5 .5-6.1 .5 .5 .5-4.9 .5 5.9 .5-1.8 .5 6.9 .5-1.1 .5-7 .5 5.9 .5-.7 .5-12.6 .5-4.8 .5 18.2 .5-9.6 .5 .8 .5 9 .5-16.5 .5 5.5 .5-11 .5 11.9 .5-.5 .5-5.9 .5-.3 .5 3.4 .5-.3 .5 9.1 .5-9.2 .5 .5 .5-.1 .5-7.1 .5 5.5 .5-4.3 .5 7.4 .5-11.6 .5 5.3 .5 6.9 .5-11.8 .5 2.8 .5 12.7 .5-11.6 .5 6.6 .5 1.6 .5-6.9 .5-3.1 .5 16.1 .5-10.4 .5 5.3 .5-6.3 .5 5.6 .5-8.4 .5-.3 .5 1.6 .5 2.1 .5 0 .5 1.5 .5 3.8 .5-4.8 .5 7.3 .5-8 .5 6.7 .5 3.2 .5 2.2 .5-18.7 .5 18.6 .5-17.5 .5 16 .5-7.2 .5 1.8 .5-6.5 .5 9.4 .5-1.2 .5-6.2 .5-.3 .5 7.4 .5 .8 .5-1.3 .5-5.7 .5 1.9 .5 4.7 .5-.5 .5 1.4 .5-4.9 .5-4.3 .5 5 .5 .8 .5-4.9 .5 4.9 .5-6.4 .5 5.5 .5-4.4 .5 13.7 .5-4.7 .5-4.6 .5-7.9 .5 .4 .5 9.7 .5-4.3 .5 2.3 .5-9.4 .5 .3 .5 8.1 .5-1.6 .5-5.6 .5 2.7 .5 7.9 .5-3.6 .5 7.5 .5 7.9 .5-4 .5-1.1 .5-3.6 .5 9.1 .5-13.4 .5 1.8 .5 5.4 .5-7.3 .5 12.3 .5-8.1 .5 5.8 .5-4.2 .5 .3 .5 1.3 .5-9.9 .5 4.4 .5 3.1 .5 13.5 .5-7.1 .5-.4 .5-8.8 .5 9.6 .5 1.8 .5-2.5 .5 9.4 .5-19.9 .5 1.4 .5 4 .5-3.5 .5 5.1 .5 2.4 .5-2.7 .5 .6 .5 1.5 .5 1.8 .5-7.1 .5-.1 .5 9.3 .5-7.6 .5-2.5 .5 5.6 .5-3.2 .5 2.4 .5-1 .5 3.5 .5 1.4 .5-8.7 .5-1.9 .5 14 .5-11.4 .5-4.3 .5-1.7 .5 9.3 .5-3.1 .5-5.9 .5 4.4 .5-.6 .5 10.3 .5-3.8 .5-1.2 .5-6.3 .5 5.4 .5 4.2 .5-2.5 .5 4.5 .5-4.9 .5 3.1 .5-1.2 .5-5.1 .5 9.5 .5-4.9 .5 2.3 .5-9.4 .5-.1 .5 4.5 .5-3.1 .5 7.1 .5-1 .5 4.1 .5-3.2 .5-8.6 .5 10.4 .5-8 .5-.4 .5 3.9 .5-.3 .5 5.2 .5 9 .5-12.1 .5 5.2" fill="none" stroke="#000" stroke-width="1.9" stroke-linejoin="round" />
<path d="M611 407.9l.5 2.7 .5-4.3 .5 .5 .5 8.8 .5-4.4 .5-.1 .5-6.2 .5 12.6 .5-9.5 .5-2.3 .5 3.1 .5 3.5 .5 .4 .5 3.6 .5-12.7 .5 3.2 .5 9.9 .5 3.6 .5-14.5 .5 2.6 .5-7.2 .5 3.6 .5-.3 .5 3.9 .5-5.4 .5 10.6 .5-5 .5-.9 .5 5.8 .5-5.9 .5-4.9 .5 6.4 .5 10.7 .5-10.4 .5 2.1 .5-3.5 .5-.2 .5 3.7 .5-15.8 .5 7 .5 3.3 .5 1.6 .5 8.6 .5 5 .5-9.1 .5-1.2 .5 1.4 .5 4.2 .5-12.5 .5 2.5 .5 6.7 .5 4.2 .5-10.9 .5 11.6 .5-10.1 .5 11.8 .5 .4 .5-15.5 .5 13.7 .5-1.5 .5-4 .5 7.8 .5 5.2 .5-7.5 .5-7.9 .5-1.8 .5 1.4 .5 .8 .5 10.6 .5-4.1 .5-1.6 .5 4.5 .5-4.3 .5 .1 .5-4.4 .5 1.1 .5 3.3 .5-6 .5 14.1 .5-7.7 .5-3.3 .5 7.6 .5-10.2 .5 10.6 .5-4.9 .5 9 .5-12.1 .5 .7 .5-2.2 .5-2 .5 7.5 .5-6.6 .5 6.9 .5-4.8 .5 8.5 .5-18 .5 14.8 .5-1.8 .5-.3 .5-3.1 .5 11.8 .5-10.7 .5 4.1 .5-3.4 .5-.5 .5 2.2 .5 3 .5-9 .5 3.3 .5-4.7 .5 9 .5-6.2 .5 .5 .5 6.9 .5-3.3 .5 2.1 .5-2.7 .5 2.7 .5-1.6 .5-6 .5 6.7 .5-2.8 .5 .5 .5 2.6 .5-4.1 .5-2.6 .5 11.2 .5 3.3 .5-10.9 .5 7.4 .5-3.8 .5-5.1 .5-1 .5 2.8 .5-.7 .5 .4 .5 1.1 .5-5 .5 9.9 .5-9.9 .5 .3 .5 9.9 .5-.8 .5 3.5 .5-6.6 .5-3.9 .5 7.4 .5-7.7 .5-1.6 .5-5.1 .5 6.2 .5-13.8 .5 14.4 .5-12.6 .5 14.4 .5-12.2 .5 11.2 .5 8.9 .5-13.7 .5-4.4 .5 15.5 .5-11.9 .5-3.4 .5 11.9 .5-20.5 .5 6.8 .5 .8 .5 3.1 .5-6.6 .5 14.2 .5 1 .5-5.4 .5-1.8 .5-5.7 .5 10.1 .5-5.8 .5 6.6 .5 2 .5-4.9 .5-10.8 .5 5.9 .5 11.5 .5-5.4 .5 5.7 .5-18.3 .5 10.6 .5-.3 .5-7.2 .5 4.9 .5 8.1 .5-2.2 .5-5.4 .5 4.3 .5 4.4 .5-11.4 .5 6.9 .5 3.7 .5-8.6 .5 9.9 .5-6.9 .5 6 .5-1 .5-3.3 .5-2.7 .5-1.9 .5 4.2 .5 .2 .5 5.9 .5-7.4 .5 2.2 .5 6.6 .5-6.8 .5 .7 .5 5.8 .5-7.6 .5 1.5 .5 1.8 .5-4.4 .5-4.9 .5-1.8 .5 6.3 .5 6.6 .5-.6 .5 3.2 .5-3.6 .5-7.8 .5-4 .5 4.6 .5 1.3 .5-2.4 .5 8.3 .5-8.5 .5 6.8 .5 1 .5-12.6 .5 6.6 .5 8.4 .5-2.1 .5-3.6" fill="none" stroke="#000" stroke-width="1.9" stroke-linejoin="round" />
<path d="M611 400.5l.5 4 .5-6.1 .5 10.1 .5-4.5 .5 2.7 .5 .8 .5-.8 .5 .1 .5-1.2 .5 2.9 .5 1.9 .5-5.3 .5-1 .5 .2 .5 3.6 .5-3.4 .5-.1 .5-5.7 .5 17.4 .5-16 .5 14.8 .5-4.5 .5 1.2 .5-3.9 .5 1.2 .5-1 .5 1.5 .5 1.3 .5 3.5 .5-12.8 .5 7.5 .5 5.8 .5-1.2 .5-12.3 .5 6.8 .5-.1 .5-.2 .5-12.7 .5 15.9 .5-12.6 .5 19.3 .5-7.8 .5-3.8 .5 3.7 .5-2.5 .5-3.4 .5 2.2 .5 2.3 .5-5.9 .5 7.8 .5 5.5 .5 3.3 .5 4.1 .5 4.1 .5-2.9 .5 3.3 .5-6.2 .5 2 .5 5.3 .5 2.9 .5-11.5 .5-5.5 .5 18.6 .5-4.9 .5 3.6 .5-4.5 .5-3.2 .5-4.3 .5-1.5 .5 12.6 .5-2.3 .5-3.2 .5-7.2 .5 3.3 .5-.4 .5 1.9 .5-13.1 .5 16.1 .5 7.1 .5-10.7 .5 3.2 .5 1.4 .5-6.4 .5 7.6 .5-6.2 .5 2.1 .5 3.7 .5-1.4 .5 1 .5-5.1 .5 8.7 .5-9.2 .5 10.2 .5-6.7 .5-3.5 .5 5.9 .5-4.8 .5 2.9 .5 2.1 .5 5 .5 .2 .5-1.4 .5-3.8 .5-6.3 .5 6.9 .5-.3 .5 1.1 .5-1.8 .5 .1 .5 7.1 .5-10.9 .5 7.1 .5 6.6 .5-10.3 .5-1 .5 4.2 .5-.5 .5 3.3 .5 5.8 .5-7.5 .5 3.7 .5-5.7 .5 .7 .5 4.2 .5-4.9 .5 9.9 .5-8.2 .5 1.5 .5-4.4 .5 3.3 .5-2.8 .5 2.8 .5-6.5 .5 9.3 .5 9.3 .5-18.6 .5 18.9 .5-9.5 .5 5.4 .5-9.6 .5 15.9 .5-16 .5 5.4 .5 8.6 .5-14.5 .5-5.3 .5 5.7 .5-9.6 .5-7.1 .5-5.7 .5-2.8 .5 14.9 .5-1 .5-13.4 .5 6.5 .5-1.8 .5 8.1 .5-10.1 .5 12.8 .5-8.4 .5-4.1 .5 3.6 .5-2.6 .5 14.9 .5-11.1 .5-3.3 .5 3.1 .5 7.2 .5-12.8 .5-3.8 .5 15.7 .5-3.6 .5-5.6 .5 1.9 .5 6.3 .5-20.1 .5 20.9 .5-7.6 .5 4.5 .5-3.8 .5 16.5 .5-19.5 .5 9 .5-19.5 .5 13.9 .5 4 .5-12.3 .5-2.6 .5 11.2 .5 4.9 .5 .9 .5-9.9 .5 5.5 .5-9.3 .5 16.6 .5-12.2 .5 9.8 .5-8.2 .5-.3 .5 10.3 .5-13.2 .5 11.5 .5-8.8 .5-2.7 .5 .2 .5 10.4 .5-6.4 .5-1.5 .5-6.1 .5 14.2 .5-.6 .5-3.9 .5 2.4 .5-21.3 .5 14.4 .5 3.7 .5-.3 .5-3.6 .5 4.3 .5-5.2 .5 .4 .5-3.1 .5 7.3 .5-4.5 .5 1.1 .5 10 .5-7.5 .5 0 .5-7.9 .5 5.3 .5 8 .5-2.3 .5-2.6 .5-1.2 .5 1.3 .5 1.7 .5-3.8 .5-11.5 .5 23.6" fill="none" stroke="#c04040" stroke-width="1.71" stroke-linejoin="round" />
<path d="M611 400l.5 4 .5-6.1 .5 10.1 .5-4.5 .5 2.7 .5 .8 .5-.8 .5 .1 .5-1.2 .5 2.9 .5 1.9 .5-5.3 .5-1 .5 .2 .5 3.6 .5-3.4 .5-.1 .5-5.7 .5 17.4 .5-16 .5 14.8 .5-4.5 .5 1.2 .5-3.9 .5 1.2 .5-1 .5 1.5 .5 1.3 .5 3.5 .5-12.8 .5 7.5 .5 5.8 .5-1.2 .5-12.3 .5 6.8 .5-.1 .5-.2 .5-12.7 .5 15.9 .5-12.6 .5 19.3 .5-7.8 .5-3.8 .5 3.7 .5-2.5 .5-3.4 .5 2.2 .5 2.3 .5-5.9 .5 7.8 .5 5.5 .5 3.3 .5 4.1 .5 4.1 .5-2.9 .5 3.3 .5-6.2 .5 2 .5 5.3 .5 2.9 .5-11.5 .5-5.5 .5 18.6 .5-4.9 .5 3.6 .5-4.5 .5-3.2 .5-4.3 .5-1.5 .5 12.6 .5-2.3 .5-3.2 .5-7.2 .5 3.3 .5-.4 .5 1.9 .5-13.1 .5 16.1 .5 7.1 .5-10.7 .5 3.2 .5 1.4 .5-6.4 .5 7.6 .5-6.2 .5 2.1 .5 3.7 .5-1.4 .5 1 .5-5.1 .5 8.7 .5-9.2 .5 10.2 .5-6.7 .5-3.5 .5 5.9 .5-4.8 .5 2.9 .5 2.1 .5 5 .5 .2 .5-1.4 .5-3.8 .5-6.3 .5 6.9 .5-.3 .5 1.1 .5-1.8 .5 .1 .5 7.1 .5-10.9 .5 7.1 .5 6.6 .5-10.3 .5-1 .5 4.2 .5-.5 .5 3.3 .5 5.8 .5-7.5 .5 3.7 .5-5.7 .5 .7 .5 4.2 .5-4.9 .5 9.9 .5-8.2 .5 1.5 .5-4.4 .5 3.3 .5-2.8 .5 2.8 .5-6.5 .5 9.3 .5 9.3 .5-18.6 .5 18.9 .5-9.5 .5 5.4 .5-9.6 .5 15.9 .5-16 .5 5.4 .5 8.6 .5-14.5 .5-5.3 .5 5.7 .5-9.6 .5-7.1 .5-5.7 .5-2.8 .5 14.9 .5-1 .5-13.4 .5 6.5 .5-1.8 .5 8.1 .5-10.1 .5 12.8 .5-8.4 .5-4.1 .5 3.6 .5-2.6 .5 14.9 .5-11.1 .5-3.3 .5 3.1 .5 7.2 .5-12.8 .5-3.8 .5 15.7 .5-3.6 .5-5.6 .5 1.9 .5 6.3 .5-20.1 .5 20.9 .5-7.6 .5 4.5 .5-3.8 .5 16.5 .5-19.5 .5 9 .5-19.5 .5 13.9 .5 4 .5-12.3 .5-2.6 .5 11.2 .5 4.9 .5 .9 .5-9.9 .5 5.5 .5-9.3 .5 16.6 .5-12.2 .5 9.8 .5-8.2 .5-.3 .5 10.3 .5-13.2 .5 11.5 .5-8.8 .5-2.7 .5 .2 .5 10.4 .5-6.4 .5-1.5 .5-6.1 .5 14.2 .5-.6 .5-3.9 .5 2.4 .5-21.3 .5 14.4 .5 3.7 .5-.3 .5-3.6 .5 4.3 .5-5.2 .5 .4 .5-3.1 .5 7.3 .5-4.5 .5 1.1 .5 10 .5-7.5 .5 0 .5-7.9 .5 5.3 .5 8 .5-2.3 .5-2.6 .5-1.2 .5 1.3 .5 1.7 .5-3.8 .5-11.5 .5 23.6" fill="none" stroke="#0aae0a" stroke-width="1.9" stroke-linejoin="round" />
<path d="M474 520.7l.5 1 .5 2 .5 2.9 .5-1.9 .5-1.5 .5 .8 .5 1.4 .5-6.3 .5 1.9 .5 2.5 .5 3 .5-.3 .5-4.7 .5 2 .5-1.9 .5 .9 .5 1.3 .5-1.2 .5-.5 .5-1.6 .5-1 .5 3.5 .5 .9 .5 1.1 .5-3.6 .5 .2 .5 5 .5-2.1 .5 1.2 .5-3.7 .5-.3 .5-1.1 .5 5.3 .5-5.3 .5-1.5 .5 2.5 .5 5 .5-3.1 .5 .5 .5-.3 .5-.4 .5-.3 .5-3.1 .5 7.7 .5-4.5 .5 3.4 .5-6.9 .5 5.2 .5-4.3 .5-.3 .5 5.9 .5 3.9 .5 2.9 .5 1.9 .5-2 .5 4.6 .5-3.1 .5 .6 .5 2.3 .5-.5 .5 2.8 .5-6.3 .5 7.8 .5-3.9 .5 5.5 .5-.4 .5-5.4 .5 3.1 .5 2.2 .5-3.2 .5 .5 .5 1.4 .5 3.1 .5 .7 .5-2.9 .5 3.5 .5 2 .5-1 .5-3.7 .5 .1 .5 3.2 .5 1.7 .5-.8 .5-1.9 .5-1.1 .5 5.6 .5-3.4 .5 5.2 .5-7.3 .5 2.2 .5-.6 .5 6.3 .5-1.3 .5-4.2 .5-3.4 .5 7.9 .5-2.4 .5-3 .5-.7 .5 4.9 .5-1.4 .5 1.1 .5 .8 .5-1.8 .5 .4 .5 2.5 .5-1.7 .5-.3 .5 2.5 .5-6.4 .5 8.2 .5-1.8 .5-3 .5 1.6 .5 3.5 .5-1.6 .5-5.7 .5 2 .5 3 .5 4.1 .5-2.5 .5-2.3 .5 2 .5-1.4 .5-.7 .5 1.8 .5-6.2 .5 7.9 .5-1.1 .5-2.4 .5-1 .5-.8 .5 3.8 .5-.3 .5 .2 .5 3.8 .5-9.6 .5 3.7 .5 0 .5 4.3 .5-2.9 .5-1.6 .5 1.9 .5-.3 .5 2.1 .5-4.3 .5-2.6 .5-1 .5-1.6 .5 2.3 .5 .4 .5-3.1 .5-.2 .5 3.3 .5-3.6 .5 .5 .5-4.4 .5 .8 .5-4.3 .5 1.5 .5 3.8 .5 1.7 .5-4.2 .5-2.7 .5 2.7 .5 2.2 .5-3.7 .5 2.2 .5-2.9 .5-3.3 .5 .3 .5 1.2 .5 6.2 .5-4.3 .5-2.2 .5 1.3 .5-.3 .5-1.7 .5 .7 .5-.4 .5 2.3 .5 2 .5-.7 .5-4.1 .5 2 .5-3.2 .5-1 .5 2.8 .5 1.2 .5-1.7 .5 2.1 .5-.1 .5-.3 .5-2.3 .5-3.1 .5 7.8 .5-5.8 .5 2.9 .5-.7 .5-2.1 .5 5.3 .5-3 .5-1.8 .5-1.1 .5-1.4 .5-.8 .5 4.4 .5-2.6 .5-.1 .5 2.3 .5-2.2 .5 2.4 .5-3.3 .5 .2 .5 3.5 .5-4.1 .5 3.1 .5-.3 .5-1.3 .5-4.2 .5 .7 .5 .5 .5-.6 .5 5.2 .5-4.3 .5-1 .5 1.7 .5 .9 .5-4 .5 5.6 .5 .2 .5-3.4 .5 3.4 .5-5.9 .5 2.4 .5 .8 .5 .5 .5 2.6 .5-3.7 .5-1.8" fill="none" stroke="#c04040" stroke-width="1.8900000000000001" stroke-linejoin="round" />
<path d="M474 520.2l.5 1 .5 2 .5 2.9 .5-1.9 .5-1.5 .5 .8 .5 1.4 .5-6.3 .5 1.9 .5 2.5 .5 3 .5-.3 .5-4.7 .5 2 .5-1.9 .5 .9 .5 1.3 .5-1.2 .5-.5 .5-1.6 .5-1 .5 3.5 .5 .9 .5 1.1 .5-3.6 .5 .2 .5 5 .5-2.1 .5 1.2 .5-3.7 .5-.3 .5-1.1 .5 5.3 .5-5.3 .5-1.5 .5 2.5 .5 5 .5-3.1 .5 .5 .5-.3 .5-.4 .5-.3 .5-3.1 .5 7.7 .5-4.5 .5 3.4 .5-6.9 .5 5.2 .5-4.3 .5-.3 .5 5.9 .5 3.9 .5 2.9 .5 1.9 .5-2 .5 4.6 .5-3.1 .5 .6 .5 2.3 .5-.5 .5 2.8 .5-6.3 .5 7.8 .5-3.9 .5 5.5 .5-.4 .5-5.4 .5 3.1 .5 2.2 .5-3.2 .5 .5 .5 1.4 .5 3.1 .5 .7 .5-2.9 .5 3.5 .5 2 .5-1 .5-3.7 .5 .1 .5 3.2 .5 1.7 .5-.8 .5-1.9 .5-1.1 .5 5.6 .5-3.4 .5 5.2 .5-7.3 .5 2.2 .5-.6 .5 6.3 .5-1.3 .5-4.2 .5-3.4 .5 7.9 .5-2.4 .5-3 .5-.7 .5 4.9 .5-1.4 .5 1.1 .5 .8 .5-1.8 .5 .4 .5 2.5 .5-1.7 .5-.3 .5 2.5 .5-6.4 .5 8.2 .5-1.8 .5-3 .5 1.6 .5 3.5 .5-1.6 .5-5.7 .5 2 .5 3 .5 4.1 .5-2.5 .5-2.3 .5 2 .5-1.4 .5-.7 .5 1.8 .5-6.2 .5 7.9 .5-1.1 .5-2.4 .5-1 .5-.8 .5 3.8 .5-.3 .5 .2 .5 3.8 .5-9.6 .5 3.7 .5 0 .5 4.3 .5-2.9 .5-1.6 .5 1.9 .5-.3 .5 2.1 .5-4.3 .5-2.6 .5-1 .5-1.6 .5 2.3 .5 .4 .5-3.1 .5-.2 .5 3.3 .5-3.6 .5 .5 .5-4.4 .5 .8 .5-4.3 .5 1.5 .5 3.8 .5 1.7 .5-4.2 .5-2.7 .5 2.7 .5 2.2 .5-3.7 .5 2.2 .5-2.9 .5-3.3 .5 .3 .5 1.2 .5 6.2 .5-4.3 .5-2.2 .5 1.3 .5-.3 .5-1.7 .5 .7 .5-.4 .5 2.3 .5 2 .5-.7 .5-4.1 .5 2 .5-3.2 .5-1 .5 2.8 .5 1.2 .5-1.7 .5 2.1 .5-.1 .5-.3 .5-2.3 .5-3.1 .5 7.8 .5-5.8 .5 2.9 .5-.7 .5-2.1 .5 5.3 .5-3 .5-1.8 .5-1.1 .5-1.4 .5-.8 .5 4.4 .5-2.6 .5-.1 .5 2.3 .5-2.2 .5 2.4 .5-3.3 .5 .2 .5 3.5 .5-4.1 .5 3.1 .5-.3 .5-1.3 .5-4.2 .5 .7 .5 .5 .5-.6 .5 5.2 .5-4.3 .5-1 .5 1.7 .5 .9 .5-4 .5 5.6 .5 .2 .5-3.4 .5 3.4 .5-5.9 .5 2.4 .5 .8 .5 .5 .5 2.6 .5-3.7 .5-1.8" fill="none" stroke="#0aae0a" stroke-width="2.1" stroke-linejoin="round" />
<path d="M474 522.5l.5-.1 .5 .7 .5-1.9 .5 1.2 .5-1.8 .5 2.8 .5-3 .5 .1 .5 4.4 .5-4.8 .5 1.9 .5 1.4 .5-2.2 .5 3 .5-3.6 .5 3.9 .5-6.3 .5 .5 .5 3.5 .5 3.3 .5 .5 .5-6.1 .5 2 .5-1.1 .5-4.1 .5 7.1 .5-2.7 .5 4.3 .5-2.7 .5-2 .5-.4 .5 1.2 .5 1.6 .5-2.3 .5 8.1 .5-6.4 .5-3.3 .5 3 .5 2.6 .5-1.7 .5-1.9 .5-.8 .5-.3 .5-1 .5 1.6 .5 1.9 .5-2 .5 5.4 .5-3.1 .5-2 .5-6 .5-3.3 .5-7.8 .5 4.8 .5 6 .5-4.2 .5-4.7 .5 2.5 .5-.9 .5 7.5 .5-8.6 .5 1 .5-.1 .5-2.7 .5-4.7 .5 7.6 .5 1.8 .5-2.3 .5 2.2 .5 .7 .5-.2 .5-5.9 .5 7.9 .5-1.6 .5-.2 .5-1.9 .5-.1 .5-1.3 .5 2.3 .5 1.3 .5-3.7 .5 3.4 .5-3.2 .5 2.6 .5-1.8 .5 2.4 .5 2.7 .5-4.2 .5-1.8 .5 .1 .5 2.6 .5-2.7 .5 3.6 .5-1.7 .5 1.5 .5-3.6 .5-1 .5 .5 .5 2.8 .5-2.9 .5 3.6 .5-6.8 .5 3.4 .5 1.2 .5-4.1 .5 3 .5-2.2 .5 3.5 .5-.4 .5 2.4 .5-3.9 .5-1.9 .5 2.6 .5 1.7 .5-.1 .5 .1 .5 2.6 .5-3.9 .5 .4 .5-1.6 .5 .6 .5 4 .5-1.7 .5-7.3 .5 9.4 .5-7.9 .5 3.9 .5 3.4 .5-2.1 .5 1.1 .5 .7 .5-1.4 .5-3.8 .5 3.9 .5-2.6 .5-4.2 .5 5.2 .5 2.1 .5-1.1 .5-.3 .5 4.3 .5-3.7 .5 1.6 .5-1.5 .5 3.3 .5-5 .5 7.1 .5 4.8 .5-2.1 .5 6.7 .5-5.9 .5 4.1 .5 1.1 .5-3.8 .5-2.4 .5 4.6 .5-.9 .5 1.3 .5 .3 .5 1.3 .5 1.8 .5-2.7 .5-4.8 .5 5.4 .5-.7 .5-.5 .5 3.5 .5-3.2 .5-1.5 .5 2 .5-5 .5 6.3 .5-2.2 .5 4.1 .5-2.5 .5-.7 .5-.5 .5-3.3 .5 2.7 .5 1 .5 1.7 .5-1.4 .5 .7 .5 0 .5-2.9 .5 2 .5-1.2 .5-2.6 .5-.6 .5 5.8 .5 1.5 .5 0 .5-5.6 .5 5.9 .5 .1 .5-5.7 .5 3.1 .5 3.1 .5-4 .5 2.7 .5-4.4 .5 .7 .5 3 .5-2.5 .5 .7 .5 0 .5-2.8 .5 6.3 .5-4 .5-.5 .5-.2 .5 1.2 .5-2.4 .5 4.5 .5-3 .5 2.8 .5-4.1 .5-.3 .5 .3 .5 2.8 .5-3.8 .5 5.4 .5-2.9 .5 3 .5-3.1 .5 3 .5-4.5 .5-.2 .5 4.2 .5-2.8 .5 4 .5-4.3 .5 3 .5-3.3 .5-2.2 .5 7.8 .5-4 .5 2.9 .5-1.9 .5-4.6" fill="none" stroke="#000" stroke-width="2.1" stroke-linejoin="round" />
<path d="M474 523l.5 1.7 .5 .6 .5 .8 .5-3.1 .5-1.2 .5 .4 .5-3 .5 4.7 .5 0 .5-1 .5-2.7 .5 3.5 .5-3 .5 4.4 .5-4.5 .5 .2 .5 .5 .5-1.8 .5 .4 .5 1.5 .5-5.4 .5 11 .5-4 .5-.2 .5-2.9 .5 2.6 .5-.5 .5 .3 .5-3.9 .5 3.4 .5-4.4 .5 4.2 .5-1.7 .5 .6 .5 .7 .5 2.9 .5 1 .5-3 .5-2.7 .5 6.3 .5-7.1 .5 2.1 .5 .8 .5-1.3 .5 5.1 .5-2.3 .5 1.7 .5-3.4 .5 2.9 .5-2.5 .5-5 .5-3.9 .5 .2 .5 .4 .5-1.9 .5-3.2 .5 2.9 .5-5.8 .5 5.9 .5-1.3 .5 4 .5-8.7 .5 11.7 .5-5.8 .5-3.1 .5 5 .5 .1 .5-.1 .5 4.3 .5-7.5 .5 2.8 .5-.3 .5-2.1 .5 2.4 .5 2.4 .5-5.2 .5 3.2 .5 1.4 .5-.9 .5-5.6 .5 4.7 .5-1.7 .5 4 .5-3.3 .5 5.2 .5-8 .5 4.3 .5-3.4 .5 6.6 .5-.5 .5-6.2 .5 4.2 .5-2 .5-3.9 .5 1.4 .5 2.8 .5 1.1 .5-2.2 .5 1.6 .5 .1 .5-.1 .5-3.6 .5 3.2 .5 1 .5-5 .5 7.5 .5-.2 .5-3.2 .5 4.8 .5-7.2 .5-.3 .5 .8 .5-.3 .5 6.4 .5-4.5 .5-.2 .5 1 .5 3 .5-3.5 .5-1.3 .5 1.6 .5 2.4 .5-3.6 .5 4 .5-2.7 .5-1.2 .5 1.6 .5 3.7 .5-5.5 .5 4 .5-2 .5-1 .5-.3 .5 1.9 .5-.5 .5-.6 .5 .7 .5-3.7 .5 .5 .5-.9 .5 1.7 .5 .3 .5-.4 .5 2.2 .5-3.6 .5 1.7 .5 5 .5 4.3 .5-1.8 .5 5.1 .5 .4 .5-5.9 .5 3.1 .5-3.1 .5 1.6 .5 2 .5-4.1 .5 4.4 .5-1.6 .5-.3 .5 2 .5-3.4 .5-2.1 .5 4.2 .5-1.8 .5 1.3 .5-2.2 .5 .4 .5-.2 .5-.6 .5 1.1 .5 .1 .5 2 .5 7.8 .5-9.3 .5-2.4 .5 5.3 .5-4.4 .5 .8 .5 1.4 .5 .9 .5 .1 .5 .4 .5-.8 .5 3 .5-.7 .5-3.3 .5 .8 .5-2.8 .5 4.9 .5-2.1 .5 5.2 .5-6.3 .5 5.4 .5-6 .5-1.8 .5 2 .5 2.9 .5 1.7 .5-4.6 .5 4.5 .5-3.6 .5 0 .5 .5 .5 4.8 .5-3.6 .5 .3 .5-4.4 .5 4.1 .5 .3 .5 3.3 .5-6.1 .5 .4 .5-.5 .5 .7 .5 3.2 .5-3.5 .5 5 .5-3 .5-2.3 .5 .6 .5-1.7 .5-.2 .5 6.4 .5-.7 .5-4.5 .5 1.3 .5 5 .5-5.7 .5 2.4 .5 .7 .5-1.7 .5 0 .5-.4 .5 1.2 .5-4.1 .5 3.9 .5 .4 .5-3.7 .5 4.3" fill="none" stroke="#000" stroke-width="2.1" stroke-linejoin="round" />
<path d="M474 519.6l.5-4.1 .5 1.7 .5 5 .5 1.1 .5-2.4 .5-2.5 .5 3.1 .5 2.7 .5-2.4 .5-3.5 .5 4.8 .5-1.7 .5 .1 .5 .6 .5 1.2 .5-1.7 .5-2.1 .5 2.1 .5 .6 .5 2.6 .5-5.9 .5 2.7 .5-1.8 .5 2.8 .5-2 .5-6.2 .5 9.8 .5-3.9 .5-1.1 .5-1 .5 1.1 .5-.6 .5 2.8 .5 .7 .5-.5 .5 1.1 .5-2.9 .5 3.5 .5-1.8 .5 1.4 .5 .4 .5-2.4 .5 3.9 .5-1.1 .5-2.9 .5 5.3 .5-.2 .5-7.9 .5-1.7 .5 4 .5 .6 .5-.8 .5-.7 .5-1.6 .5 2.4 .5-.6 .5-2.9 .5 1.6 .5 2.1 .5-4.1 .5 0 .5-.5 .5 5.6 .5-1.9 .5 .4 .5-3 .5 .9 .5 3 .5-3.7 .5 3.6 .5-2.9 .5 0 .5 1.4 .5 .7 .5 2.2 .5-5.1 .5 4.9 .5-5.9 .5-.3 .5-3.3 .5 7.5 .5 1.5 .5-6.5 .5 2.2 .5 .1 .5-3.1 .5 3.9 .5 .6 .5-2 .5-1.2 .5 2.8 .5 1.1 .5-4.9 .5 3.2 .5 1.6 .5-8.2 .5 7.6 .5 3.4 .5-7.3 .5 6.3 .5-3.9 .5 2.2 .5-1.8 .5-2.4 .5-1.4 .5 10 .5-9.1 .5 2.6 .5 4.1 .5-2.7 .5-.3 .5-5.4 .5 3.4 .5-1.7 .5-1.1 .5 5.2 .5 1.2 .5-3.9 .5 .3 .5 2.6 .5 1.1 .5-4.7 .5 5.4 .5-.5 .5-2.3 .5-2.8 .5 4.1 .5 .4 .5 2.6 .5-5.8 .5 5.3 .5-4.7 .5 2.2 .5-1.6 .5 .5 .5 3.4 .5-5.3 .5 3.7 .5-2.7 .5 .6 .5-1.7 .5 2.3 .5-5.4 .5 4.2 .5 3.1 .5-.4 .5-5 .5 2.2 .5 2.8 .5 6.6 .5-5.7 .5 1 .5-.5 .5 1.3 .5-3 .5 2.9 .5 .5 .5 1.4 .5-4.7 .5 4.4 .5 2.5 .5-2.8 .5-.2 .5-7.7 .5 9.3 .5 1.4 .5-1.7 .5-1.8 .5 .8 .5 5.4 .5-9.2 .5 .8 .5 3.7 .5-2.1 .5-5.9 .5 5.8 .5 .3 .5-3.1 .5 3.2 .5-.3 .5-5.1 .5 5.8 .5 4 .5-1 .5-7.1 .5-.5 .5 3.4 .5 .6 .5-4 .5 1.5 .5 5.1 .5-2.7 .5 2 .5-2.7 .5 2.6 .5-3.8 .5 0 .5-1.1 .5-2.4 .5 3.8 .5-2.4 .5 2.2 .5 1.5 .5 .1 .5 .6 .5-2 .5 .8 .5 3 .5-3.2 .5 .4 .5-6.1 .5 3.3 .5 5.5 .5-4.9 .5-.5 .5 5.1 .5-5.5 .5 5.5 .5-2.7 .5-1.3 .5-3.5 .5 8.4 .5-7.9 .5 1.5 .5 5 .5-5 .5 4.3 .5-1.3 .5-.6 .5-2 .5 1 .5 2.3 .5-3.1 .5 4 .5-1 .5 .8 .5-.8 .5 .8 .5-.4 .5 1.1" fill="none" stroke="#000" stroke-width="2.1" stroke-linejoin="round" />
<path d="M474 523.9l.5-.1 .5-3.1 .5-2 .5 4.4 .5 2.2 .5-4.7 .5-1.6 .5 2.6 .5 2.2 .5 1.3 .5-3 .5-2.1 .5 2.8 .5 1.8 .5-1.8 .5 2.7 .5-3.8 .5 3.4 .5 1.9 .5-6.5 .5 .3 .5 3.8 .5 6.1 .5-6.5 .5-1.3 .5 3.3 .5-3.5 .5-3.8 .5 1.7 .5 5.7 .5-7.5 .5 .6 .5 5.6 .5-1.7 .5 2.7 .5-5.7 .5 .8 .5 1 .5-2.2 .5 2.5 .5 .1 .5 2.6 .5-2.4 .5-.7 .5 2.2 .5 1.5 .5-.2 .5-1.9 .5-1.6 .5-.2 .5-.1 .5 5.4 .5 1.8 .5 6.1 .5-3.4 .5 1.3 .5 1.5 .5-7.8 .5 3.1 .5 1.1 .5 .9 .5-3 .5 5 .5 .2 .5-1 .5 .6 .5-4.4 .5 5.6 .5-4.3 .5-3.1 .5 5.1 .5 .8 .5-2.7 .5-2.3 .5 1.3 .5 2.6 .5-5.9 .5 8.9 .5 0 .5-2.8 .5 3.1 .5-3 .5-2.3 .5 4.5 .5-.1 .5-3.7 .5-1.1 .5 1.1 .5 5.4 .5-3.6 .5 7.9 .5-8.6 .5 3.2 .5-.6 .5-1.3 .5 2.7 .5-4.2 .5 2.1 .5-2.7 .5-2.5 .5 5.7 .5-2.9 .5-.4 .5 4.8 .5-1.8 .5 1.5 .5 3.4 .5-3.8 .5 .7 .5-4 .5 5.1 .5 .1 .5-4.6 .5 4.3 .5-.8 .5-1.3 .5 .9 .5 5.9 .5-7.6 .5 .8 .5 1.2 .5-.7 .5-4 .5 6.2 .5 .8 .5 2.1 .5-5.7 .5-1.7 .5 4.9 .5-4.1 .5 2.6 .5-.9 .5 1.5 .5-1.5 .5 2.9 .5-4 .5 8.4 .5-4 .5-3.4 .5-.8 .5 2 .5-.6 .5-2.4 .5 4 .5-2.5 .5-6.6 .5 2.6 .5-2.9 .5 1.8 .5-3.6 .5 7 .5-5.2 .5 4.7 .5-6.2 .5 4.5 .5-3.7 .5 4.4 .5-4.6 .5-2.3 .5 0 .5 1 .5 3.1 .5-.6 .5-.7 .5 2.3 .5 1.4 .5-6.7 .5 5 .5 3.2 .5-7.3 .5 .1 .5 2.3 .5-.4 .5-2 .5 1.1 .5 4.2 .5-1.8 .5-4.3 .5-2.3 .5 1.4 .5 3.2 .5-2.5 .5-.1 .5 3.8 .5-2.5 .5-.3 .5 1.4 .5 3.1 .5-2.9 .5 .9 .5-1.6 .5 3.6 .5-6.9 .5 .2 .5 1.5 .5 6.3 .5-1.3 .5-6.6 .5 1.5 .5 2.5 .5-1.2 .5 2 .5-3.5 .5-3 .5 5.7 .5 1.5 .5-7 .5-.9 .5 3.5 .5-3.6 .5 5.7 .5-4 .5 4.7 .5-2.7 .5 1.1 .5 1.3 .5-2.2 .5-2.1 .5 4.8 .5-6 .5 7.1 .5-5 .5 .1 .5 2.3 .5 0 .5 .2 .5-5 .5 1.4 .5 3 .5 .1 .5-1.2 .5 3.4 .5-3.7 .5 2.7 .5 .3 .5-1.9 .5-1.3 .5 2.2 .5-.7 .5 .4" fill="none" stroke="#000" stroke-width="2.1" stroke-linejoin="round" />
<path d="M611 527.8l.5 4.8 .5-7.6 .5-.5 .5 6 .5 0 .5-10 .5 12.3 .5-.1 .5-.7 .5-8.5 .5 9.6 .5-3.6 .5 2 .5-4.7 .5-1.9 .5-1.3 .5 .4 .5 7.4 .5-8.1 .5 .7 .5 4.6 .5-2.9 .5-8.6 .5 6.7 .5 1.5 .5 9.5 .5-4.6 .5-8 .5-.5 .5 3.1 .5 3.3 .5-4.9 .5 5.9 .5-8.9 .5 8.4 .5 4.2 .5-18.7 .5 12.8 .5 1.3 .5 1 .5-1.7 .5-.8 .5 1.7 .5-.9 .5-.1 .5 7.2 .5-2.6 .5-.5 .5-7.6 .5 .8 .5 .9 .5-16.7 .5 10 .5-11.4 .5 16.8 .5-4.3 .5-8.7 .5 .5 .5-7.7 .5 9.7 .5 6 .5-2.8 .5-4.3 .5 11.2 .5-7.2 .5-.7 .5-3.4 .5 4.2 .5 9.9 .5-10.5 .5-10.3 .5 9.2 .5 8.2 .5-3.5 .5-8.3 .5 4.2 .5-8.8 .5 10.2 .5-7.3 .5 1.6 .5-.1 .5-.8 .5 11.7 .5-1.1 .5-8.5 .5 1.9 .5 7.6 .5-9.5 .5-.8 .5-1.9 .5 11.6 .5-6.7 .5-.8 .5-2 .5-2.4 .5 9 .5-8.3 .5 1.2 .5-5.6 .5 2.8 .5 2.8 .5 .1 .5-4.9 .5 4.3 .5 2.3 .5-12 .5 15.5 .5-4.2 .5-5.1 .5 5.1 .5 3.5 .5-2.2 .5 .3 .5-.2 .5 3.1 .5-9.7 .5 3.7 .5 4.7 .5-1.7 .5-5.3 .5 3.8 .5-2 .5 3.4 .5-8.1 .5 .2 .5 .8 .5 6.4 .5 12.6 .5-7.2 .5 1.1 .5-5.8 .5 7.6 .5-6 .5-1.4 .5 5 .5-11.2 .5-4.7 .5 4.8 .5 12.6 .5-2.4 .5-3.5 .5-2 .5 .3 .5 2.7 .5-6.1 .5 7.9 .5-5.2 .5 14.5 .5-4.9 .5 .4 .5 3.1 .5-3.1 .5 3.8 .5-8.1 .5 6.4 .5 2.8 .5 1.4 .5-3.7 .5 7.8 .5-14.1 .5 7.1 .5-1.3 .5 2.3 .5-1.2 .5 8 .5-6.7 .5-4.5 .5 16.6 .5-11.9 .5-1 .5 5.1 .5-7.2 .5 1.8 .5 5.3 .5-10 .5 3.6 .5 6.7 .5 4.2 .5-9.1 .5-.1 .5 5.8 .5-12.5 .5 3.8 .5-.5 .5-6.1 .5-4.1 .5 12.1 .5 6.4 .5-1.2 .5 2.9 .5-19.4 .5 12.6 .5 7.2 .5-10.8 .5-2.1 .5 8.1 .5-1.7 .5 3.1 .5-3.2 .5 6.1 .5-2.6 .5-2.2 .5-3.1 .5 5.3 .5-6.7 .5 7.9 .5 1 .5-1 .5-10.8 .5 8.3 .5-.3 .5 2.4 .5-11.8 .5 4.7 .5 2.5 .5 7.2 .5-9.7 .5 7.3 .5-3.7 .5 8.7 .5-7.8 .5-9.5 .5 6.5 .5 2.7 .5 4.9 .5-3 .5-4.6 .5-4.8 .5 6.4 .5-.8 .5 7.1 .5-1.9 .5-11.4 .5-4.5 .5 9.3 .5 3.3 .5-6 .5 2.2 .5 8.3 .5-2.2 .5-12" fill="none" stroke="#000" stroke-width="1.9" stroke-linejoin="round" />
<path d="M611 528.6l.5-.9 .5-1.8 .5 3.8 .5 .1 .5 9.3 .5-11 .5-4.7 .5 1.1 .5 5.9 .5 6 .5-6.5 .5-.3 .5-1.4 .5-3.4 .5 2.5 .5-6.3 .5 9.6 .5-1.3 .5-1.5 .5-5.1 .5 3 .5-1.6 .5 4.3 .5-2.9 .5 3.2 .5 2.8 .5 1.7 .5-11.3 .5 3.4 .5-3.7 .5 11.5 .5-10.3 .5 10.8 .5-9.1 .5 7.5 .5-7.7 .5 1.6 .5 1.7 .5-.2 .5-1.1 .5 3.9 .5 2.6 .5-1.6 .5-6.6 .5-6.7 .5 9.6 .5-14.4 .5 17.2 .5-.3 .5-9 .5 4.8 .5-10.1 .5 9.5 .5-10 .5-.3 .5 .9 .5 4.4 .5-6.3 .5 16.1 .5-12.8 .5 10.4 .5-10 .5-.2 .5-1.9 .5-.2 .5 5.8 .5 3.8 .5-5.4 .5-4.9 .5 5.4 .5-4.9 .5-9.2 .5 13.7 .5-9.2 .5 5.5 .5 3.3 .5-2.2 .5 .7 .5 8.9 .5-2.9 .5 2.7 .5-6.4 .5 .1 .5 7.5 .5-11.7 .5 4.7 .5-1 .5 .8 .5 1.5 .5-2.3 .5 3.4 .5-8.1 .5 6.5 .5-7.5 .5 10.3 .5-.4 .5-5.8 .5-1.5 .5 2.3 .5 2.9 .5-10.1 .5 2.5 .5 9.4 .5-5.6 .5-5.2 .5-4.6 .5 8.7 .5-6.4 .5 9.1 .5-1 .5 9.4 .5-15.1 .5 9.2 .5-8.9 .5 .8 .5 4 .5-3.1 .5 12.9 .5-9.1 .5-3.4 .5 14.9 .5-15.1 .5 2 .5 .8 .5-2.7 .5 6.7 .5 2.8 .5-12 .5 3.9 .5 .5 .5-5 .5 .4 .5 4.6 .5-2.6 .5 5.9 .5 2.5 .5-3.1 .5 .5 .5-5.9 .5 1.5 .5 4.8 .5 .9 .5-3.2 .5 3.1 .5-3.9 .5-4.4 .5 9.1 .5-1.5 .5-4.2 .5 14.3 .5-2.2 .5 1.7 .5-5.8 .5 9.4 .5-4.8 .5 2.4 .5-7.9 .5 1.6 .5 7.7 .5-6.3 .5 .3 .5 7 .5-1.6 .5-4.4 .5 8 .5-16.3 .5 6.8 .5-2.3 .5 9.8 .5 .5 .5-9.9 .5 3 .5 3.8 .5-2 .5-1.2 .5 3.5 .5 4.5 .5-8.7 .5-5.9 .5 4.8 .5 .3 .5-1.6 .5 5.2 .5 .1 .5 .9 .5-2.1 .5-1 .5-6.2 .5 3.3 .5-2.5 .5 5.7 .5-2.2 .5 .4 .5 2.7 .5-3.9 .5 6.5 .5-.1 .5-9.5 .5 10.8 .5-7.9 .5-1.8 .5 1.9 .5-4.5 .5 7.6 .5 4.2 .5-13 .5 9.2 .5 .8 .5 .4 .5-.1 .5-1 .5-4.3 .5 6.5 .5-2.7 .5 2.2 .5-2.3 .5-2.7 .5 1 .5 3.1 .5 2.1 .5-14.1 .5 3 .5-1.7 .5 5.3 .5-.7 .5 4.2 .5-2.4 .5 7.7 .5-9.2 .5-.5 .5-.5 .5 2.5 .5 2.2 .5-3.1 .5-2.1 .5-2.1 .5 7.4 .5-3.5 .5-2.1 .5 3.4 .5 2.9" fill="none" stroke="#000" stroke-width="1.9" stroke-linejoin="round" />
<path d="M611 537.5l.5-2 .5-11.9 .5 2 .5-7.1 .5-.1 .5 .6 .5 13.1 .5-5.1 .5-6.2 .5 3.8 .5 .8 .5-.8 .5 10.1 .5-16.1 .5 7 .5 3.3 .5 1.1 .5-12.6 .5 11.2 .5-6.8 .5 3.2 .5-4.8 .5 11.2 .5 11.2 .5-10 .5-6.3 .5-6.9 .5 12.5 .5 1.6 .5-11 .5 9.7 .5-13 .5 2.5 .5 6.8 .5-7.4 .5 10.3 .5 3.2 .5-6.5 .5 2 .5 5.3 .5-5.1 .5 3.7 .5 .6 .5-11.8 .5 15.5 .5-4.8 .5-4.9 .5 3.2 .5-2.4 .5-.4 .5-3.3 .5 5.3 .5 .3 .5 6.8 .5-2.9 .5-.3 .5-2.5 .5 6.5 .5-17.6 .5 7.3 .5 8.9 .5-6.5 .5 5 .5 4.5 .5-3.7 .5-10.9 .5 6 .5-4.4 .5 7.7 .5 2.7 .5-6.1 .5 3.6 .5-3.4 .5 10.1 .5-8.5 .5 .5 .5 1.6 .5 2.3 .5-1.7 .5-3.5 .5 .4 .5 2.2 .5 .4 .5-4.6 .5-1 .5 1.7 .5 3.3 .5-4.3 .5-3 .5 3.5 .5-.7 .5 5.2 .5-5.3 .5 .5 .5 10.8 .5-6.8 .5-6.5 .5 10.1 .5-7.4 .5-2.2 .5 7 .5-9.8 .5 6.4 .5 3 .5 .9 .5-6.1 .5 .1 .5 2 .5 6.2 .5-14.3 .5 12.4 .5-2.5 .5 5.1 .5-11.8 .5 10.8 .5-9.6 .5 5.5 .5-3.2 .5-9.8 .5 11.3 .5 2.2 .5 2.2 .5-7.1 .5-2.5 .5 8.9 .5-5.1 .5 6.7 .5 1.8 .5-7.9 .5 .3 .5-2.6 .5-6.2 .5 9.6 .5 3.5 .5 1.6 .5-5.2 .5 8.9 .5-11.2 .5 2.3 .5-2.4 .5 .5 .5 .7 .5-1.9 .5 1.3 .5 3.3 .5-.8 .5-6.8 .5 6.2 .5-7.6 .5 4.8 .5-1.8 .5-9.5 .5 4.2 .5 9.5 .5-7.6 .5 0 .5 1 .5 2.6 .5 2.2 .5-4.1 .5 9.4 .5-10.7 .5 .5 .5 1.3 .5 1.7 .5 6.1 .5 4.2 .5-12.7 .5 .8 .5 3.8 .5-3.6 .5 4.7 .5-9.2 .5 9.1 .5-14.4 .5 12.9 .5 .7 .5 8.6 .5-16.2 .5 7.7 .5-.2 .5-7.6 .5 5.7 .5-5.3 .5-1.5 .5-1.6 .5 6.1 .5-4 .5-4.9 .5 11.3 .5-9.5 .5 11.5 .5-2.2 .5-5.1 .5-3.7 .5 3.3 .5-2.1 .5 4.6 .5 .1 .5 13.6 .5-21.9 .5 7.2 .5 5.5 .5 2.3 .5 1.5 .5-11.2 .5 8.6 .5-17.8 .5 12.8 .5 5.2 .5-.7 .5-10.2 .5 2.8 .5-6.4 .5 6.8 .5-3.1 .5 8 .5-5 .5 6.6 .5-3.4 .5-1.1 .5 10.1 .5-2.9 .5-12 .5 13.1 .5-3 .5 2.7 .5-4.2 .5-10.9 .5 6.9 .5-10 .5 5 .5 3.4 .5 9.6 .5-6 .5 .8 .5 2.6 .5-8 .5 9.8 .5-4.3 .5-5.8" fill="none" stroke="#000" stroke-width="1.9" stroke-linejoin="round" />
<path d="M611 525.2l.5 6.6 .5 5.7 .5-9.4 .5 2.1 .5-1.9 .5 5.6 .5-14.7 .5 18.3 .5-5.4 .5-3.7 .5 2.5 .5 4.3 .5-3.8 .5 1.5 .5 2.6 .5-5.1 .5 2.8 .5 3.7 .5-4.5 .5-5.9 .5 6.9 .5 6.3 .5-11.7 .5 3.8 .5-.1 .5 2.3 .5-6.5 .5 2 .5 9.8 .5-6.3 .5-6.5 .5 7 .5-3.6 .5 7.3 .5-15.6 .5 8.5 .5 4.4 .5-11.2 .5 2.6 .5 6 .5-2.1 .5-1.7 .5 3 .5-8.4 .5 2.7 .5 12.8 .5-11.8 .5 5.4 .5-2.5 .5 4.6 .5 .8 .5 3.9 .5 7.3 .5-.7 .5-10 .5 5.2 .5 10.4 .5-1.8 .5-6.4 .5-6.7 .5 4.4 .5 13.9 .5-4.4 .5 .2 .5-14 .5 1.3 .5 3.8 .5-3.8 .5 7.3 .5-5.9 .5 7.8 .5-3.4 .5-1.7 .5 6.1 .5-1 .5-1.6 .5-2.4 .5 1.6 .5-9.2 .5-.2 .5 6.4 .5 4.1 .5 8 .5-6.7 .5-6.8 .5 2.5 .5-3.8 .5 6.1 .5-.2 .5 .3 .5 1.5 .5 3.8 .5-1.7 .5-9 .5 9.9 .5-9.2 .5 7 .5-1.4 .5 7.8 .5-8.7 .5 0 .5-.8 .5 5.6 .5-2.7 .5-2.8 .5 5.5 .5 6.3 .5-2.3 .5-.6 .5-10 .5 2.2 .5 1.3 .5-9.2 .5 16.9 .5-15.5 .5 9.1 .5-8 .5 6.7 .5 3.5 .5-1.5 .5-6.7 .5 1 .5 7.8 .5-4.8 .5 .9 .5 4.1 .5-17 .5 13.7 .5 5 .5 2.6 .5-5.4 .5-6.9 .5 8.4 .5 4.4 .5-12.3 .5-.3 .5 2.8 .5-1.3 .5-7.9 .5-1.6 .5 5.2 .5 3.4 .5 5.3 .5-4.7 .5 3.5 .5 5.8 .5 4.3 .5-14.2 .5-12.8 .5 5.9 .5-4.9 .5 1.7 .5 3 .5-.9 .5-10.3 .5 .8 .5 7 .5 2.1 .5 6.9 .5-7.4 .5-4.8 .5-.6 .5-1.1 .5-2.9 .5-.1 .5 3.7 .5 3.2 .5-4.3 .5 3.9 .5-1.5 .5 .2 .5-1 .5 3.6 .5-1.4 .5-13.1 .5 14.3 .5-.8 .5-3.5 .5 3.8 .5-4.3 .5 4 .5-4.9 .5 7.7 .5-1.7 .5-8.8 .5 3.6 .5 6.9 .5-1.5 .5-1.3 .5-6.2 .5 2.2 .5 4.1 .5 .6 .5-1.5 .5-4 .5 2.9 .5-1.3 .5-3.3 .5 .3 .5 1.4 .5-3.4 .5 9.7 .5 1.4 .5 .6 .5-8.2 .5 .1 .5 4.9 .5-3.5 .5 .8 .5-.1 .5-6.3 .5 14.1 .5-13.3 .5-.7 .5 11.6 .5-9.3 .5 10.6 .5-3.6 .5 .1 .5-3.6 .5-5.1 .5 1.1 .5 6.3 .5-1 .5-5.4 .5 .3 .5 1.3 .5 3.9 .5 2.5 .5 2.2 .5-6.2 .5 8.8 .5-3.5 .5 3.7 .5-11.5 .5 7.1 .5 2.4 .5-13.9 .5 13.1 .5-2.5 .5 2.5" fill="none" stroke="#c04040" stroke-width="1.71" stroke-linejoin="round" />
<path d="M611 524.7l.5 6.6 .5 5.7 .5-9.4 .5 2.1 .5-1.9 .5 5.6 .5-14.7 .5 18.3 .5-5.4 .5-3.7 .5 2.5 .5 4.3 .5-3.8 .5 1.5 .5 2.6 .5-5.1 .5 2.8 .5 3.7 .5-4.5 .5-5.9 .5 6.9 .5 6.3 .5-11.7 .5 3.8 .5-.1 .5 2.3 .5-6.5 .5 2 .5 9.8 .5-6.3 .5-6.5 .5 7 .5-3.6 .5 7.3 .5-15.6 .5 8.5 .5 4.4 .5-11.2 .5 2.6 .5 6 .5-2.1 .5-1.7 .5 3 .5-8.4 .5 2.7 .5 12.8 .5-11.8 .5 5.4 .5-2.5 .5 4.6 .5 .8 .5 3.9 .5 7.3 .5-.7 .5-10 .5 5.2 .5 10.4 .5-1.8 .5-6.4 .5-6.7 .5 4.4 .5 13.9 .5-4.4 .5 .2 .5-14 .5 1.3 .5 3.8 .5-3.8 .5 7.3 .5-5.9 .5 7.8 .5-3.4 .5-1.7 .5 6.1 .5-1 .5-1.6 .5-2.4 .5 1.6 .5-9.2 .5-.2 .5 6.4 .5 4.1 .5 8 .5-6.7 .5-6.8 .5 2.5 .5-3.8 .5 6.1 .5-.2 .5 .3 .5 1.5 .5 3.8 .5-1.7 .5-9 .5 9.9 .5-9.2 .5 7 .5-1.4 .5 7.8 .5-8.7 .5 0 .5-.8 .5 5.6 .5-2.7 .5-2.8 .5 5.5 .5 6.3 .5-2.3 .5-.6 .5-10 .5 2.2 .5 1.3 .5-9.2 .5 16.9 .5-15.5 .5 9.1 .5-8 .5 6.7 .5 3.5 .5-1.5 .5-6.7 .5 1 .5 7.8 .5-4.8 .5 .9 .5 4.1 .5-17 .5 13.7 .5 5 .5 2.6 .5-5.4 .5-6.9 .5 8.4 .5 4.4 .5-12.3 .5-.3 .5 2.8 .5-1.3 .5-7.9 .5-1.6 .5 5.2 .5 3.4 .5 5.3 .5-4.7 .5 3.5 .5 5.8 .5 4.3 .5-14.2 .5-12.8 .5 5.9 .5-4.9 .5 1.7 .5 3 .5-.9 .5-10.3 .5 .8 .5 7 .5 2.1 .5 6.9 .5-7.4 .5-4.8 .5-.6 .5-1.1 .5-2.9 .5-.1 .5 3.7 .5 3.2 .5-4.3 .5 3.9 .5-1.5 .5 .2 .5-1 .5 3.6 .5-1.4 .5-13.1 .5 14.3 .5-.8 .5-3.5 .5 3.8 .5-4.3 .5 4 .5-4.9 .5 7.7 .5-1.7 .5-8.8 .5 3.6 .5 6.9 .5-1.5 .5-1.3 .5-6.2 .5 2.2 .5 4.1 .5 .6 .5-1.5 .5-4 .5 2.9 .5-1.3 .5-3.3 .5 .3 .5 1.4 .5-3.4 .5 9.7 .5 1.4 .5 .6 .5-8.2 .5 .1 .5 4.9 .5-3.5 .5 .8 .5-.1 .5-6.3 .5 14.1 .5-13.3 .5-.7 .5 11.6 .5-9.3 .5 10.6 .5-3.6 .5 .1 .5-3.6 .5-5.1 .5 1.1 .5 6.3 .5-1 .5-5.4 .5 .3 .5 1.3 .5 3.9 .5 2.5 .5 2.2 .5-6.2 .5 8.8 .5-3.5 .5 3.7 .5-11.5 .5 7.1 .5 2.4 .5-13.9 .5 13.1 .5-2.5 .5 2.5" fill="none" stroke="#0aae0a" stroke-width="1.9" stroke-linejoin="round" />
<line x1="167.00" y1="187.40" x2="167.00" y2="215.40" stroke="#000" stroke-width="1.4" />
<line x1="166.30" y1="215.40" x2="190.90" y2="215.40" stroke="#000" stroke-width="1.4" />
<text transform="translate(172.07,206.27) scale(0.996,1)" font-size="13.38" font-weight="normal" fill="#000">0.25%</text>
<text transform="translate(165.32,232.67) scale(1.027,1)" font-size="13.10" font-weight="normal" fill="#000">100 ms</text>
<line x1="299.60" y1="190.70" x2="299.60" y2="222.10" stroke="#000" stroke-width="1.5" />
<text transform="translate(305.36,210.85) scale(0.916,1)" font-size="14.79" font-weight="normal" fill="#000">0.5%</text>
<line x1="428.80" y1="196.00" x2="428.80" y2="212.00" stroke="#000" stroke-width="1.8" />
<text transform="translate(434.56,209.37) scale(1.016,1)" font-size="13.24" font-weight="normal" fill="#000">0.5%</text>
<line x1="558.00" y1="190.90" x2="558.00" y2="224.80" stroke="#000" stroke-width="1.6" />
<text transform="translate(561.57,211.66) scale(0.968,1)" font-size="13.66" font-weight="normal" fill="#000">0.5%</text>
<line x1="690.70" y1="172.10" x2="690.70" y2="227.00" stroke="#000" stroke-width="1.5" />
<text transform="translate(698.76,204.86) scale(0.959,1)" font-size="14.08" font-weight="normal" fill="#000">0.5%</text>
<line x1="98.60" y1="607.00" x2="98.60" y2="703.15" stroke="#000" stroke-width="1.5" />
<line x1="93.40" y1="625.80" x2="98.60" y2="625.80" stroke="#000" stroke-width="1.5" />
<text transform="translate(70.06,629.89) scale(1.080,1)" font-size="11.00" font-weight="normal">-0.2</text>
<line x1="93.40" y1="689.60" x2="98.60" y2="689.60" stroke="#000" stroke-width="1.5" />
<text transform="translate(69.94,693.69) scale(1.080,1)" font-size="11.00" font-weight="normal">-0.3</text>
<line x1="112.60" y1="605.00" x2="112.60" y2="707.00" stroke="#000" stroke-width="1.9" stroke-dasharray="3,3.2"/>
<line x1="115.60" y1="702.40" x2="193.60" y2="702.40" stroke="#000" stroke-width="1.5" />
<line x1="122.80" y1="702.40" x2="122.80" y2="707.00" stroke="#000" stroke-width="1.5" />
<line x1="142.00" y1="702.40" x2="142.00" y2="707.00" stroke="#000" stroke-width="1.5" />
<line x1="161.40" y1="702.40" x2="161.40" y2="707.00" stroke="#000" stroke-width="1.5" />
<line x1="180.60" y1="702.40" x2="180.60" y2="707.00" stroke="#000" stroke-width="1.5" />
<line x1="104.10" y1="704.40" x2="104.10" y2="707.40" stroke="#000" stroke-width="1.6" />
<text transform="translate(100.96,722.57) scale(1.000,1)" font-size="13.00" font-weight="normal">0</text>
<text transform="translate(138.16,722.70) scale(1.000,1)" font-size="13.00" font-weight="normal">1</text>
<text transform="translate(169.48,722.57) scale(1.000,1)" font-size="13.00" font-weight="normal">100</text>
<rect x="91.70" y="714.40" width="0.9" height="4.5" fill="#d8c8c8"/>
<path d="M115.6 695.2l.5 0 .5 0 .5 0 .5 0 .5 0 .5 0 .5 0 .5-.1 .5 0 .5 0 .5 0 .5 0 .5 0 .5 0 .5 0 .5-.1 .5 0 .5 0 .5 0 .5-.1 .5 0 .5-.1 .5 0 .5-.1 .5 0 .5-.1 .5-.1 .5-.1 .5-.1 .5-.1 .5-.1 .5-.2 .5-.2 .5-.2 .5-.2 .5-.3 .5-.2 .5-.4 .5-.3 .5-.5 .5-.4 .5-.6 .5-.5 .5-.7 .5-.7 .5-.8 .5-1 .5-1 .5-1.1 .5-1.2 .5-1.3 .5-1.4 .5-1.5 .5-1.7 .5-1.7 .5-1.9 .5-2 .5-2 .5-2.1 .5-2.2 .5-2.2 .5-2.3 .5-2.2 .5-2.2 .5-2.2 .5-2.2 .5-2 .5-2 .5-1.9 .5-1.8 .5-1.7 .5-1.6 .5-1.5 .5-1.3 .5-1.3 .5-1.1 .5-1.1 .5-.9 .5-.9 .5-.7 .5-.7 .5-.6 .5-.6 .5-.5 .5-.4 .5-.4 .5-.3 .5-.3 .5-.3 .5-.2 .5-.3 .5-.1 .5-.2 .5-.1 .5-.2 .5-.1 .5-.1 .5-.1 .5 0 .5-.1 .5-.1 .5 0 .5-.1 .5 0 .5 0 .5-.1 .5 0 .5 0 .5-.1 .5 0 .5 0 .5 0 .5 0 .5 0 .5 0 .5 0 .5 0 .5-.1 .5 0 .5 0 .5 0 .5 0 .5 0 .5 0 .5 0 .5 0 .5 0 .5 0 .5 0 .5 0 .5 0 .5 0 .5 0 .5 0 .5 0 .5 0 .5 0 .5 0 .5 0 .5 0 .5 0 .5 0 .5 0 .5 0 .5 0 .5 0 .5 0 .5 0 .5 0 .5 0 .5 0 .5 0 .5 0 .5 0 .5 0 .5 0" fill="none" stroke="#d05050" stroke-width="1.5" stroke-linejoin="round" />
<path d="M115.6 694.6l.5 0 .5 0 .5 0 .5 0 .5 0 .5 0 .5 0 .5-.1 .5 0 .5 0 .5 0 .5 0 .5 0 .5 0 .5 0 .5-.1 .5 0 .5 0 .5 0 .5-.1 .5 0 .5-.1 .5 0 .5-.1 .5 0 .5-.1 .5-.1 .5-.1 .5-.1 .5-.1 .5-.1 .5-.2 .5-.2 .5-.2 .5-.2 .5-.3 .5-.2 .5-.4 .5-.3 .5-.5 .5-.4 .5-.6 .5-.5 .5-.7 .5-.7 .5-.8 .5-1 .5-1 .5-1.1 .5-1.2 .5-1.3 .5-1.4 .5-1.5 .5-1.7 .5-1.7 .5-1.9 .5-2 .5-2 .5-2.1 .5-2.2 .5-2.2 .5-2.3 .5-2.2 .5-2.2 .5-2.2 .5-2.2 .5-2 .5-2 .5-1.9 .5-1.8 .5-1.7 .5-1.6 .5-1.5 .5-1.3 .5-1.3 .5-1.1 .5-1.1 .5-.9 .5-.9 .5-.7 .5-.7 .5-.6 .5-.6 .5-.5 .5-.4 .5-.4 .5-.3 .5-.3 .5-.3 .5-.2 .5-.3 .5-.1 .5-.2 .5-.1 .5-.2 .5-.1 .5-.1 .5-.1 .5 0 .5-.1 .5-.1 .5 0 .5-.1 .5 0 .5 0 .5-.1 .5 0 .5 0 .5-.1 .5 0 .5 0 .5 0 .5 0 .5 0 .5 0 .5 0 .5 0 .5-.1 .5 0 .5 0 .5 0 .5 0 .5 0 .5 0 .5 0 .5 0 .5 0 .5 0 .5 0 .5 0 .5 0 .5 0 .5 0 .5 0 .5 0 .5 0 .5 0 .5 0 .5 0 .5 0 .5 0 .5 0 .5 0 .5 0 .5 0 .5 0 .5 0 .5 0 .5 0 .5 0 .5 0 .5 0 .5 0 .5 0 .5 0 .5 0" fill="none" stroke="#1aa01a" stroke-width="1.6" stroke-linejoin="round" />
<circle cx="104.20" cy="694.40" r="3.9" fill="#0db00d"/>
<circle cx="142.30" cy="679.00" r="3.9" fill="#0db00d"/>
<circle cx="155.80" cy="632.90" r="3.9" fill="#0db00d"/>
<circle cx="162.30" cy="635.70" r="3.9" fill="#0db00d"/>
<circle cx="169.00" cy="620.50" r="3.9" fill="#0db00d"/>
<circle cx="174.90" cy="627.70" r="3.9" fill="#0db00d"/>
<line x1="234.80" y1="607.00" x2="234.80" y2="703.15" stroke="#000" stroke-width="1.5" />
<line x1="230.80" y1="630.00" x2="234.80" y2="630.00" stroke="#000" stroke-width="1.5" />
<text transform="translate(208.56,634.09) scale(1.080,1)" font-size="11.00" font-weight="normal">-0.7</text>
<line x1="230.80" y1="659.00" x2="234.80" y2="659.00" stroke="#000" stroke-width="1.5" />
<text transform="translate(208.44,663.09) scale(1.080,1)" font-size="11.00" font-weight="normal">-0.8</text>
<line x1="230.80" y1="688.00" x2="234.80" y2="688.00" stroke="#000" stroke-width="1.5" />
<text transform="translate(208.44,692.09) scale(1.080,1)" font-size="11.00" font-weight="normal">-0.9</text>
<line x1="248.80" y1="605.00" x2="248.80" y2="707.00" stroke="#000" stroke-width="1.9" stroke-dasharray="3,3.2"/>
<line x1="251.80" y1="702.40" x2="329.80" y2="702.40" stroke="#000" stroke-width="1.5" />
<line x1="259.00" y1="702.40" x2="259.00" y2="707.00" stroke="#000" stroke-width="1.5" />
<line x1="278.20" y1="702.40" x2="278.20" y2="707.00" stroke="#000" stroke-width="1.5" />
<line x1="297.60" y1="702.40" x2="297.60" y2="707.00" stroke="#000" stroke-width="1.5" />
<line x1="316.80" y1="702.40" x2="316.80" y2="707.00" stroke="#000" stroke-width="1.5" />
<line x1="240.30" y1="704.40" x2="240.30" y2="707.40" stroke="#000" stroke-width="1.6" />
<text transform="translate(237.16,722.57) scale(1.000,1)" font-size="13.00" font-weight="normal">0</text>
<text transform="translate(274.37,722.70) scale(1.000,1)" font-size="13.00" font-weight="normal">1</text>
<text transform="translate(305.69,722.57) scale(1.000,1)" font-size="13.00" font-weight="normal">100</text>
<rect x="227.90" y="714.40" width="0.9" height="4.5" fill="#d8c8c8"/>
<path d="M251.8 693.8l.5 0 .5 0 .5 0 .5 0 .5 0 .5 0 .5 0 .5 0 .5 0 .5 0 .5 0 .5 0 .5 0 .5 0 .5 0 .5 0 .5 0 .5 0 .5 0 .5 0 .5 0 .5 0 .5 0 .5 0 .5 0 .5 0 .5 0 .5 0 .5 0 .5 0 .5 0 .5 0 .5 0 .5 0 .5 0 .5 0 .5-.1 .5 0 .5 0 .5 0 .5 0 .5 0 .5 0 .5 0 .5 0 .5-.1 .5 0 .5 0 .5-.1 .5 0 .5 0 .5-.1 .5 0 .5-.1 .5-.1 .5-.1 .5-.1 .5-.1 .5-.1 .5-.1 .5-.2 .5-.2 .5-.2 .5-.2 .5-.3 .5-.3 .5-.3 .5-.4 .5-.5 .5-.5 .5-.5 .5-.7 .5-.7 .5-.8 .5-.9 .5-1 .5-1.1 .5-1.3 .5-1.4 .5-1.5 .5-1.6 .5-1.8 .5-1.9 .5-2.1 .5-2.2 .5-2.3 .5-2.5 .5-2.5 .5-2.7 .5-2.7 .5-2.7 .5-2.8 .5-2.7 .5-2.7 .5-2.7 .5-2.5 .5-2.5 .5-2.3 .5-2.3 .5-2.1 .5-1.9 .5-1.8 .5-1.7 .5-1.5 .5-1.4 .5-1.3 .5-1.2 .5-1 .5-.9 .5-.8 .5-.8 .5-.6 .5-.6 .5-.5 .5-.5 .5-.4 .5-.3 .5-.4 .5-.2 .5-.3 .5-.2 .5-.2 .5-.1 .5-.2 .5-.1 .5-.1 .5-.1 .5-.1 .5-.1 .5 0 .5-.1 .5-.1 .5 0 .5 0 .5-.1 .5 0 .5 0 .5 0 .5-.1 .5 0 .5 0 .5 0 .5 0 .5 0 .5 0 .5 0 .5-.1 .5 0 .5 0 .5 0 .5 0 .5 0 .5 0 .5 0 .5 0 .5 0" fill="none" stroke="#0000e6" stroke-width="1.6" stroke-linejoin="round" />
<circle cx="240.30" cy="672.50" r="3.9" fill="#0000e6"/>
<circle cx="278.20" cy="694.40" r="3.9" fill="#0000e6"/>
<circle cx="291.80" cy="678.00" r="3.9" fill="#0000e6"/>
<circle cx="298.40" cy="650.00" r="3.9" fill="#0000e6"/>
<circle cx="305.00" cy="620.00" r="3.9" fill="#0000e6"/>
<circle cx="311.20" cy="616.00" r="3.9" fill="#0000e6"/>
<line x1="366.40" y1="607.00" x2="366.40" y2="702.95" stroke="#000" stroke-width="1.5" />
<line x1="362.00" y1="635.30" x2="366.40" y2="635.30" stroke="#000" stroke-width="1.5" />
<text transform="translate(340.04,639.39) scale(1.080,1)" font-size="11.00" font-weight="normal">-1.0</text>
<line x1="362.00" y1="668.90" x2="366.40" y2="668.90" stroke="#000" stroke-width="1.5" />
<text transform="translate(340.04,672.94) scale(1.080,1)" font-size="11.00" font-weight="normal">-1.5</text>
<line x1="362.00" y1="702.10" x2="366.40" y2="702.10" stroke="#000" stroke-width="1.5" />
<text transform="translate(340.04,706.19) scale(1.080,1)" font-size="11.00" font-weight="normal">-2.0</text>
<line x1="363.70" y1="608.58" x2="366.40" y2="608.58" stroke="#000" stroke-width="1.2" />
<line x1="363.70" y1="615.26" x2="366.40" y2="615.26" stroke="#000" stroke-width="1.2" />
<line x1="363.70" y1="621.94" x2="366.40" y2="621.94" stroke="#000" stroke-width="1.2" />
<line x1="363.70" y1="628.62" x2="366.40" y2="628.62" stroke="#000" stroke-width="1.2" />
<line x1="363.70" y1="641.98" x2="366.40" y2="641.98" stroke="#000" stroke-width="1.2" />
<line x1="363.70" y1="648.66" x2="366.40" y2="648.66" stroke="#000" stroke-width="1.2" />
<line x1="363.70" y1="655.34" x2="366.40" y2="655.34" stroke="#000" stroke-width="1.2" />
<line x1="363.70" y1="662.02" x2="366.40" y2="662.02" stroke="#000" stroke-width="1.2" />
<line x1="363.70" y1="675.38" x2="366.40" y2="675.38" stroke="#000" stroke-width="1.2" />
<line x1="363.70" y1="682.06" x2="366.40" y2="682.06" stroke="#000" stroke-width="1.2" />
<line x1="363.70" y1="688.74" x2="366.40" y2="688.74" stroke="#000" stroke-width="1.2" />
<line x1="363.70" y1="695.42" x2="366.40" y2="695.42" stroke="#000" stroke-width="1.2" />
<line x1="380.40" y1="605.00" x2="380.40" y2="706.80" stroke="#000" stroke-width="1.9" stroke-dasharray="3,3.2"/>
<line x1="383.40" y1="702.20" x2="461.40" y2="702.20" stroke="#000" stroke-width="1.5" />
<line x1="390.60" y1="702.20" x2="390.60" y2="706.80" stroke="#000" stroke-width="1.5" />
<line x1="409.80" y1="702.20" x2="409.80" y2="706.80" stroke="#000" stroke-width="1.5" />
<line x1="429.20" y1="702.20" x2="429.20" y2="706.80" stroke="#000" stroke-width="1.5" />
<line x1="448.40" y1="702.20" x2="448.40" y2="706.80" stroke="#000" stroke-width="1.5" />
<line x1="371.90" y1="704.20" x2="371.90" y2="707.20" stroke="#000" stroke-width="1.6" />
<text transform="translate(368.76,722.37) scale(1.000,1)" font-size="13.00" font-weight="normal">0</text>
<text transform="translate(405.96,722.50) scale(1.000,1)" font-size="13.00" font-weight="normal">1</text>
<text transform="translate(437.28,722.37) scale(1.000,1)" font-size="13.00" font-weight="normal">100</text>
<rect x="359.50" y="714.20" width="0.9" height="4.5" fill="#d8c8c8"/>
<path d="M383.4 691.9l.5-.2 .5-.1 .5-.1 .5-.2 .5-.2 .5-.1 .5-.2 .5-.2 .5-.1 .5-.2 .5-.2 .5-.2 .5-.2 .5-.2 .5-.3 .5-.2 .5-.2 .5-.3 .5-.2 .5-.3 .5-.3 .5-.2 .5-.3 .5-.3 .5-.3 .5-.4 .5-.3 .5-.3 .5-.4 .5-.3 .5-.4 .5-.4 .5-.4 .5-.4 .5-.4 .5-.4 .5-.5 .5-.4 .5-.5 .5-.4 .5-.5 .5-.5 .5-.6 .5-.5 .5-.5 .5-.6 .5-.5 .5-.6 .5-.6 .5-.6 .5-.7 .5-.6 .5-.6 .5-.7 .5-.7 .5-.7 .5-.7 .5-.7 .5-.7 .5-.7 .5-.8 .5-.8 .5-.7 .5-.8 .5-.8 .5-.8 .5-.8 .5-.9 .5-.8 .5-.8 .5-.9 .5-.8 .5-.9 .5-.9 .5-.9 .5-.8 .5-.9 .5-.9 .5-.9 .5-.9 .5-.9 .5-.9 .5-.9 .5-.9 .5-.9 .5-.9 .5-.9 .5-.9 .5-.9 .5-.9 .5-.9 .5-.9 .5-.8 .5-.9 .5-.9 .5-.8 .5-.9 .5-.8 .5-.8 .5-.8 .5-.8 .5-.8 .5-.8 .5-.8 .5-.7 .5-.8 .5-.7 .5-.8 .5-.7 .5-.7 .5-.7 .5-.6 .5-.7 .5-.6 .5-.7 .5-.6 .5-.6 .5-.6 .5-.6 .5-.5 .5-.6 .5-.5 .5-.6 .5-.5 .5-.5 .5-.5 .5-.4 .5-.5 .5-.5 .5-.4 .5-.4 .5-.4 .5-.4 .5-.4 .5-.4 .5-.4 .5-.3 .5-.4 .5-.3 .5-.3 .5-.4 .5-.3 .5-.3 .5-.3 .5-.2 .5-.3 .5-.3 .5-.2 .5-.3 .5-.2 .5-.2 .5-.3 .5-.2 .5-.2 .5-.2 .5-.2" fill="none" stroke="#18eeb0" stroke-width="1.6" stroke-linejoin="round" />
<circle cx="371.70" cy="694.40" r="3.9" fill="#00f0e6"/>
<circle cx="409.80" cy="673.40" r="3.9" fill="#00f0e6"/>
<circle cx="422.70" cy="654.80" r="3.9" fill="#00f0e6"/>
<circle cx="429.20" cy="636.70" r="3.9" fill="#00f0e6"/>
<circle cx="436.40" cy="633.40" r="3.9" fill="#00f0e6"/>
<circle cx="442.10" cy="620.50" r="3.9" fill="#00f0e6"/>
<line x1="496.80" y1="607.20" x2="496.80" y2="703.05" stroke="#000" stroke-width="1.5" />
<line x1="493.30" y1="611.60" x2="496.80" y2="611.60" stroke="#000" stroke-width="1.5" />
<text transform="translate(470.84,615.69) scale(1.080,1)" font-size="11.00" font-weight="normal">-0.3</text>
<line x1="493.30" y1="634.30" x2="496.80" y2="634.30" stroke="#000" stroke-width="1.5" />
<text transform="translate(470.72,638.39) scale(1.080,1)" font-size="11.00" font-weight="normal">-0.4</text>
<line x1="493.30" y1="656.70" x2="496.80" y2="656.70" stroke="#000" stroke-width="1.5" />
<text transform="translate(470.84,660.79) scale(1.080,1)" font-size="11.00" font-weight="normal">-0.5</text>
<line x1="493.30" y1="679.40" x2="496.80" y2="679.40" stroke="#000" stroke-width="1.5" />
<text transform="translate(470.84,683.49) scale(1.080,1)" font-size="11.00" font-weight="normal">-0.6</text>
<line x1="493.30" y1="702.10" x2="496.80" y2="702.10" stroke="#000" stroke-width="1.5" />
<text transform="translate(470.96,706.19) scale(1.080,1)" font-size="11.00" font-weight="normal">-0.7</text>
<line x1="510.80" y1="605.20" x2="510.80" y2="706.90" stroke="#000" stroke-width="1.9" stroke-dasharray="3,3.2"/>
<line x1="513.80" y1="702.30" x2="589.10" y2="702.30" stroke="#000" stroke-width="1.5" />
<line x1="521.70" y1="702.30" x2="521.70" y2="706.90" stroke="#000" stroke-width="1.5" />
<line x1="541.00" y1="702.30" x2="541.00" y2="706.90" stroke="#000" stroke-width="1.5" />
<line x1="560.20" y1="702.30" x2="560.20" y2="706.90" stroke="#000" stroke-width="1.5" />
<line x1="579.00" y1="702.30" x2="579.00" y2="706.90" stroke="#000" stroke-width="1.5" />
<line x1="502.30" y1="704.30" x2="502.30" y2="707.30" stroke="#000" stroke-width="1.6" />
<text transform="translate(499.16,722.47) scale(1.000,1)" font-size="13.00" font-weight="normal">0</text>
<text transform="translate(537.16,722.60) scale(1.000,1)" font-size="13.00" font-weight="normal">1</text>
<text transform="translate(567.88,722.47) scale(1.000,1)" font-size="13.00" font-weight="normal">100</text>
<rect x="489.90" y="714.30" width="0.9" height="4.5" fill="#d8c8c8"/>
<path d="M513.8 688.5l.5-.2 .5-.2 .5-.1 .5-.2 .5-.1 .5-.2 .5-.2 .5-.1 .5-.2 .5-.2 .5-.1 .5-.2 .5-.2 .5-.2 .5-.2 .5-.2 .5-.1 .5-.2 .5-.2 .5-.2 .5-.2 .5-.2 .5-.2 .5-.2 .5-.2 .5-.2 .5-.2 .5-.2 .5-.3 .5-.2 .5-.2 .5-.2 .5-.2 .5-.3 .5-.2 .5-.2 .5-.3 .5-.2 .5-.2 .5-.3 .5-.2 .5-.3 .5-.2 .5-.3 .5-.2 .5-.3 .5-.2 .5-.3 .5-.3 .5-.2 .5-.3 .5-.3 .5-.2 .5-.3 .5-.3 .5-.3 .5-.3 .5-.3 .5-.2 .5-.3 .5-.3 .5-.3 .5-.3 .5-.3 .5-.3 .5-.3 .5-.3 .5-.3 .5-.4 .5-.3 .5-.3 .5-.3 .5-.3 .5-.4 .5-.3 .5-.3 .5-.3 .5-.4 .5-.3 .5-.4 .5-.3 .5-.3 .5-.4 .5-.3 .5-.4 .5-.3 .5-.4 .5-.3 .5-.4 .5-.3 .5-.4 .5-.4 .5-.3 .5-.4 .5-.4 .5-.3 .5-.4 .5-.4 .5-.3 .5-.4 .5-.4 .5-.4 .5-.4 .5-.3 .5-.4 .5-.4 .5-.4 .5-.4 .5-.4 .5-.4 .5-.3 .5-.4 .5-.4 .5-.4 .5-.4 .5-.4 .5-.4 .5-.4 .5-.4 .5-.4 .5-.4 .5-.4 .5-.4 .5-.4 .5-.4 .5-.4 .5-.4 .5-.4 .5-.4 .5-.4 .5-.4 .5-.4 .5-.4 .5-.4 .5-.4 .5-.4 .5-.4 .5-.4 .5-.4 .5-.4 .5-.4 .5-.4 .5-.4 .5-.4 .5-.4 .5-.4 .5-.4 .5-.4 .5-.4 .5-.4 .5-.4" fill="none" stroke="#e0a0e0" stroke-width="1.5" stroke-linejoin="round" />
<path d="M513.8 687.9l.5-.2 .5-.2 .5-.1 .5-.2 .5-.1 .5-.2 .5-.2 .5-.1 .5-.2 .5-.2 .5-.1 .5-.2 .5-.2 .5-.2 .5-.2 .5-.2 .5-.1 .5-.2 .5-.2 .5-.2 .5-.2 .5-.2 .5-.2 .5-.2 .5-.2 .5-.2 .5-.2 .5-.2 .5-.3 .5-.2 .5-.2 .5-.2 .5-.2 .5-.3 .5-.2 .5-.2 .5-.3 .5-.2 .5-.2 .5-.3 .5-.2 .5-.3 .5-.2 .5-.3 .5-.2 .5-.3 .5-.2 .5-.3 .5-.3 .5-.2 .5-.3 .5-.3 .5-.2 .5-.3 .5-.3 .5-.3 .5-.3 .5-.3 .5-.2 .5-.3 .5-.3 .5-.3 .5-.3 .5-.3 .5-.3 .5-.3 .5-.3 .5-.3 .5-.4 .5-.3 .5-.3 .5-.3 .5-.3 .5-.4 .5-.3 .5-.3 .5-.3 .5-.4 .5-.3 .5-.4 .5-.3 .5-.3 .5-.4 .5-.3 .5-.4 .5-.3 .5-.4 .5-.3 .5-.4 .5-.3 .5-.4 .5-.4 .5-.3 .5-.4 .5-.4 .5-.3 .5-.4 .5-.4 .5-.3 .5-.4 .5-.4 .5-.4 .5-.4 .5-.3 .5-.4 .5-.4 .5-.4 .5-.4 .5-.4 .5-.4 .5-.3 .5-.4 .5-.4 .5-.4 .5-.4 .5-.4 .5-.4 .5-.4 .5-.4 .5-.4 .5-.4 .5-.4 .5-.4 .5-.4 .5-.4 .5-.4 .5-.4 .5-.4 .5-.4 .5-.4 .5-.4 .5-.4 .5-.4 .5-.4 .5-.4 .5-.4 .5-.4 .5-.4 .5-.4 .5-.4 .5-.4 .5-.4 .5-.4 .5-.4 .5-.4 .5-.4 .5-.4 .5-.4 .5-.4 .5-.4 .5-.4" fill="none" stroke="#1aa4e0" stroke-width="1.6" stroke-linejoin="round" />
<circle cx="503.00" cy="692.90" r="3.9" fill="#00b9dc"/>
<circle cx="541.10" cy="676.30" r="3.9" fill="#00b9dc"/>
<circle cx="554.00" cy="666.20" r="3.9" fill="#00b9dc"/>
<circle cx="560.70" cy="668.10" r="3.9" fill="#00b9dc"/>
<circle cx="567.80" cy="653.80" r="3.9" fill="#00b9dc"/>
<circle cx="573.50" cy="655.30" r="3.9" fill="#00b9dc"/>
<line x1="626.20" y1="608.00" x2="626.20" y2="703.75" stroke="#000" stroke-width="1.5" />
<line x1="621.90" y1="624.10" x2="626.20" y2="624.10" stroke="#000" stroke-width="1.5" />
<text transform="translate(599.86,628.19) scale(1.080,1)" font-size="11.00" font-weight="normal">-0.1</text>
<line x1="621.90" y1="655.80" x2="626.20" y2="655.80" stroke="#000" stroke-width="1.5" />
<text transform="translate(599.86,659.89) scale(1.080,1)" font-size="11.00" font-weight="normal">-0.2</text>
<line x1="621.90" y1="687.20" x2="626.20" y2="687.20" stroke="#000" stroke-width="1.5" />
<text transform="translate(599.74,691.29) scale(1.080,1)" font-size="11.00" font-weight="normal">-0.3</text>
<line x1="640.20" y1="606.00" x2="640.20" y2="707.60" stroke="#000" stroke-width="1.9" stroke-dasharray="3,3.2"/>
<line x1="643.20" y1="703.00" x2="721.20" y2="703.00" stroke="#000" stroke-width="1.5" />
<line x1="650.40" y1="703.00" x2="650.40" y2="707.60" stroke="#000" stroke-width="1.5" />
<line x1="669.60" y1="703.00" x2="669.60" y2="707.60" stroke="#000" stroke-width="1.5" />
<line x1="689.00" y1="703.00" x2="689.00" y2="707.60" stroke="#000" stroke-width="1.5" />
<line x1="708.20" y1="703.00" x2="708.20" y2="707.60" stroke="#000" stroke-width="1.5" />
<line x1="631.70" y1="705.00" x2="631.70" y2="708.00" stroke="#000" stroke-width="1.6" />
<text transform="translate(628.56,723.17) scale(1.000,1)" font-size="13.00" font-weight="normal">0</text>
<text transform="translate(665.76,723.30) scale(1.000,1)" font-size="13.00" font-weight="normal">1</text>
<text transform="translate(697.09,723.17) scale(1.000,1)" font-size="13.00" font-weight="normal">100</text>
<rect x="619.30" y="715.00" width="0.9" height="4.5" fill="#d8c8c8"/>
<circle cx="631.90" cy="688.00" r="3.9" fill="#0db00d"/>
<circle cx="670.00" cy="667.00" r="3.9" fill="#0db00d"/>
<circle cx="683.30" cy="666.80" r="3.9" fill="#0db00d"/>
<circle cx="690.00" cy="655.70" r="3.9" fill="#0db00d"/>
<circle cx="696.70" cy="656.70" r="3.9" fill="#0db00d"/>
<circle cx="702.80" cy="650.60" r="3.9" fill="#0db00d"/>
<text transform="translate(65.73,739.59) scale(1.146,1)" font-size="13.40" font-weight="normal" fill="#000">Concentration (mM)</text>
<text transform="translate(61.72,687.96) rotate(-90) scale(0.981,1)" font-size="15.64">ΔF/F (%)</text>
<rect x="98.70" y="784" width="47.60" height="18.00" fill="#d3d3d3" stroke="#000" stroke-width="1.4"/>
<rect x="98.70" y="813" width="121.38" height="17.70" fill="#d3d3d3" stroke="#000" stroke-width="1.4"/>
<rect x="98.70" y="841.4" width="60.69" height="17.60" fill="#d3d3d3" stroke="#000" stroke-width="1.4"/>
<line x1="98.70" y1="778.30" x2="98.70" y2="892.60" stroke="#000" stroke-width="1.5" />
<line x1="92.70" y1="778.30" x2="98.70" y2="778.30" stroke="#000" stroke-width="1.5" />
<line x1="92.70" y1="807.40" x2="98.70" y2="807.40" stroke="#000" stroke-width="1.5" />
<line x1="92.70" y1="836.00" x2="98.70" y2="836.00" stroke="#000" stroke-width="1.5" />
<line x1="92.70" y1="864.00" x2="98.70" y2="864.00" stroke="#000" stroke-width="1.5" />
<line x1="92.70" y1="892.60" x2="98.70" y2="892.60" stroke="#000" stroke-width="1.5" />
<text transform="translate(52.55,798.44) scale(1.049,1)" font-size="16.30" font-weight="normal" fill="#000">GLU</text>
<text transform="translate(53.77,827.04) scale(1.022,1)" font-size="16.30" font-weight="normal" fill="#000">GAL</text>
<text transform="translate(52.32,855.54) scale(1.056,1)" font-size="16.30" font-weight="normal" fill="#000">FRU</text>
<text transform="translate(58.00,883.70) scale(0.996,1)" font-size="16.30" font-weight="normal" fill="#000">ALL</text>
<line x1="98.70" y1="892.60" x2="353.80" y2="892.60" stroke="#000" stroke-width="1.5" />
<line x1="98.70" y1="892.60" x2="98.70" y2="897.60" stroke="#000" stroke-width="1.5" />
<text transform="translate(94.10,917.03) scale(1.030,1)" font-size="17.00" font-weight="normal">0</text>
<line x1="158.20" y1="892.60" x2="158.20" y2="897.60" stroke="#000" stroke-width="1.5" />
<text transform="translate(153.68,917.03) scale(1.030,1)" font-size="17.00" font-weight="normal">5</text>
<line x1="217.70" y1="892.60" x2="217.70" y2="897.60" stroke="#000" stroke-width="1.5" />
<text transform="translate(207.93,917.03) scale(1.030,1)" font-size="17.00" font-weight="normal">10</text>
<line x1="277.20" y1="892.60" x2="277.20" y2="897.60" stroke="#000" stroke-width="1.5" />
<text transform="translate(267.43,917.03) scale(1.030,1)" font-size="17.00" font-weight="normal">15</text>
<line x1="336.70" y1="892.60" x2="336.70" y2="897.60" stroke="#000" stroke-width="1.5" />
<text transform="translate(327.19,917.03) scale(1.030,1)" font-size="17.00" font-weight="normal">20</text>
<text transform="translate(166.86,939.67) scale(1.168,1)" font-size="15.85" font-weight="normal" fill="#000">apparent Kd (mM)</text>
<line x1="357.2" y1="782.6" x2="357.2" y2="886.4" stroke="#000" stroke-width="1.8" stroke-dasharray="3.2,3.4"/>
<line x1="115.60" y1="793.30" x2="182.70" y2="793.30" stroke="#000" stroke-width="1.3" />
<line x1="115.60" y1="789.30" x2="115.60" y2="797.30" stroke="#000" stroke-width="1.3" />
<line x1="182.70" y1="789.30" x2="182.70" y2="797.30" stroke="#000" stroke-width="1.3" />
<circle cx="121" cy="793.3" r="3.8" fill="#000"/>
<circle cx="137.4" cy="793.3" r="3.8" fill="#000"/>
<circle cx="182.7" cy="793.3" r="3.8" fill="#000"/>
<text transform="translate(204.04,797.68) scale(1.114,1)" font-size="14.36" font-weight="normal" fill="#000">(3)</text>
<line x1="170.20" y1="821.00" x2="272.00" y2="821.00" stroke="#000" stroke-width="1.3" />
<line x1="170.20" y1="817.00" x2="170.20" y2="825.00" stroke="#000" stroke-width="1.3" />
<line x1="272.00" y1="817.00" x2="272.00" y2="825.00" stroke="#000" stroke-width="1.3" />
<circle cx="188.7" cy="821" r="3.8" fill="#000"/>
<circle cx="192" cy="821" r="3.8" fill="#000"/>
<circle cx="197" cy="821" r="3.8" fill="#000"/>
<circle cx="216" cy="821" r="3.8" fill="#000"/>
<circle cx="310" cy="821" r="3.8" fill="#000"/>
<text transform="translate(320.89,825.33) scale(1.189,1)" font-size="14.15" font-weight="normal" fill="#000">(5)</text>
<line x1="126.00" y1="849.70" x2="193.30" y2="849.70" stroke="#000" stroke-width="1.3" />
<line x1="126.00" y1="845.70" x2="126.00" y2="853.70" stroke="#000" stroke-width="1.3" />
<line x1="193.30" y1="845.70" x2="193.30" y2="853.70" stroke="#000" stroke-width="1.3" />
<circle cx="108.7" cy="849.7" r="3.8" fill="#000"/>
<circle cx="173.4" cy="849.7" r="3.8" fill="#000"/>
<circle cx="178.5" cy="849.7" r="3.8" fill="#000"/>
<text transform="translate(205.95,853.67) scale(1.135,1)" font-size="13.94" font-weight="normal" fill="#000">(4)</text>
<circle cx="372.4" cy="876.0" r="3.3" fill="#000"/>
<circle cx="372.4" cy="879.2" r="3.3" fill="#000"/>
<circle cx="372.4" cy="882.4" r="3.3" fill="#000"/>
<text transform="translate(385.73,882.51) scale(1.129,1)" font-size="14.26" font-weight="normal" fill="#000">(3)</text>
<polyline points="243,792.8 385.3,792.8 385.3,848.8 243,848.8" fill="none" stroke="#000" stroke-width="1.3"/>
<text transform="translate(391.88,827.23) scale(1.071,1)" font-size="16.62" font-weight="normal" fill="#000">N.S.</text>
</svg></body></html>
